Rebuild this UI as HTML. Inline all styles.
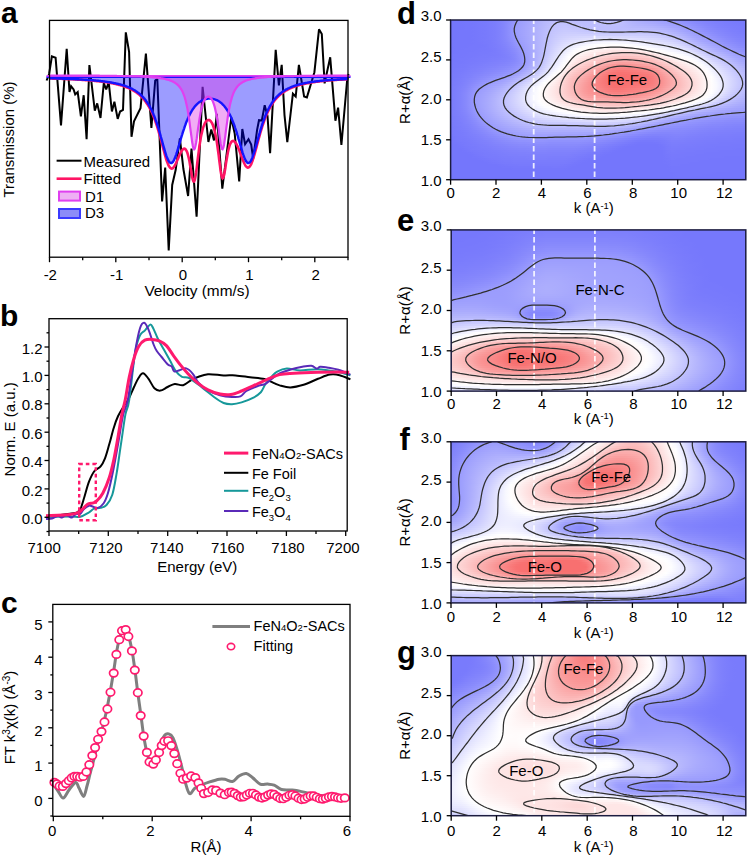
<!DOCTYPE html>
<html><head><meta charset="utf-8"><style>
html,body{margin:0;padding:0;background:#fff;width:750px;height:857px;overflow:hidden;position:relative}
svg{display:block;position:absolute;left:0;top:0}
.cf{position:absolute;overflow:hidden}
.cf i{display:block;height:2px}
</style></head><body>
<div class="cf" style="left:450.6px;top:20.0px;width:295.2px;height:159.7px"><i style="background:linear-gradient(90deg,#7476fc,#7476fc,#7476fc,#7577fc,#7577fc,#7678fc,#7779fc,#787afc,#7a7cfc,#7c7efc,#8082fc,#8587fc,#8c8efd,#9597fd,#9d9efd,#a2a3fd,#a7a8fd,#acadfd,#b2b3fd,#b7b8fd,#bbbcfe,#bebffe,#c0c1fe,#c0c1fe,#c0c1fe,#bebffe,#bdbefe,#bdbefe,#bdbefe,#bfc0fe,#c1c1fe,#c1c2fe,#c1c2fe,#c1c2fe,#c1c2fe,#bebffe,#b7b8fd,#b2b3fd,#aeaffd,#abacfd,#a8a9fd,#a5a6fd,#a2a3fd,#9e9ffd,#9b9dfd,#9899fd,#9496fd,#9092fd,#8d8efd,#898bfc,#8688fc,#8385fc,#8183fc,#7f81fc,#7d7ffc,#7c7dfc,#7a7cfc,#797bfc,#787afc,#787afc,#7779fc)"></i><i style="background:linear-gradient(90deg,#7476fc,#7476fc,#7476fc,#7577fc,#7577fc,#7678fc,#7779fc,#787afc,#7a7cfc,#7c7efc,#8082fc,#8687fc,#8d8ffd,#9798fd,#9d9ffd,#a2a4fd,#a8a9fd,#adaefd,#b2b3fd,#b8b9fd,#bcbdfe,#c0c1fe,#c1c2fe,#c2c3fe,#c1c2fe,#c0c0fe,#bebffe,#bdbefe,#bdbefe,#bebffe,#bfc0fe,#c0c1fe,#c0c1fe,#c0c1fe,#c0c1fe,#bdbdfe,#b7b8fd,#b3b4fd,#b0b1fd,#adaffd,#abacfd,#a9aafd,#a6a7fd,#a2a4fd,#9fa1fd,#9c9dfd,#989afd,#9496fd,#9092fd,#8c8dfd,#888afc,#8587fc,#8384fc,#8082fc,#7e80fc,#7d7ffc,#7b7dfc,#7a7cfc,#797bfc,#787afc,#787afc)"></i><i style="background:linear-gradient(90deg,#7476fc,#7476fc,#7476fc,#7577fc,#7577fc,#7678fc,#7779fc,#787afc,#7a7cfc,#7c7efc,#8082fc,#8688fc,#8e90fd,#999afd,#9ea0fd,#a3a4fd,#a8a9fd,#adaffd,#b3b4fd,#b8b9fd,#bdbefe,#c1c2fe,#c3c4fe,#c3c4fe,#c2c3fe,#c1c2fe,#c0c0fe,#bebffe,#bdbefe,#bdbefe,#bebffe,#bfbffe,#bfc0fe,#bebffe,#bebffe,#bbbcfe,#b8b9fd,#b5b6fd,#b2b3fd,#b1b2fd,#afb0fd,#adaefd,#aaabfd,#a7a8fd,#a4a5fd,#a0a2fd,#9d9efd,#989afd,#9496fd,#8f91fd,#8c8dfd,#888afc,#8586fc,#8284fc,#8082fc,#7e80fc,#7c7efc,#7b7dfc,#7a7cfc,#797bfc,#787afc)"></i><i style="background:linear-gradient(90deg,#7476fc,#7476fc,#7476fc,#7577fc,#7577fc,#7678fc,#7779fc,#787afc,#7a7cfc,#7c7efc,#8082fc,#8688fc,#8e90fd,#999bfd,#9fa0fd,#a4a5fd,#a9aafd,#aeaffd,#b4b5fd,#b9bafd,#bebffe,#c2c3fe,#c4c5fe,#c5c6fe,#c4c5fe,#c3c4fe,#c1c2fe,#c0c1fe,#bebffe,#bebefe,#bdbefe,#bdbefe,#bdbefe,#bdbefe,#bcbdfe,#bbbcfe,#b9bafd,#b7b8fd,#b6b7fd,#b5b6fd,#b3b5fd,#b2b3fd,#afb1fd,#acaefd,#a9aafd,#a5a6fd,#a1a2fd,#9c9efd,#989afd,#9395fd,#8f91fd,#8b8dfc,#8789fc,#8486fc,#8183fc,#7f81fc,#7e7ffc,#7c7efc,#7b7dfc,#7a7cfc,#797bfc)"></i><i style="background:linear-gradient(90deg,#7476fc,#7476fc,#7476fc,#7577fc,#7577fc,#7678fc,#7779fc,#787afc,#7a7cfc,#7c7efc,#8082fc,#8688fc,#8e90fd,#9a9bfd,#9fa1fd,#a4a5fd,#a9aafd,#aeaffd,#b4b5fd,#babbfe,#bfc0fe,#c3c4fe,#c6c7fe,#c7c8fe,#c7c7fe,#c5c6fe,#c4c5fe,#c2c3fe,#c0c1fe,#bfc0fe,#bebffe,#bdbefe,#bdbefe,#bdbefe,#bcbdfe,#bcbdfe,#bbbcfe,#babbfe,#babbfe,#b9bafd,#b8b9fd,#b7b8fd,#b5b6fd,#b2b3fd,#afb0fd,#aaacfd,#a6a7fd,#a1a2fd,#9c9efd,#9799fd,#9394fd,#8e90fd,#8a8bfc,#8688fc,#8385fc,#8183fc,#7f81fc,#7d7ffc,#7c7dfc,#7a7cfc,#7a7bfc)"></i><i style="background:linear-gradient(90deg,#7476fc,#7476fc,#7577fc,#7577fc,#7577fc,#7678fc,#7779fc,#787afc,#7a7cfc,#7c7efc,#8082fc,#8688fc,#8e90fd,#9a9bfd,#9fa1fd,#a4a5fd,#a9aafd,#afb0fd,#b4b6fd,#babbfe,#c0c1fe,#c4c5fe,#c7c8fe,#c9cafe,#c9cafe,#c8c9fe,#c7c8fe,#c6c7fe,#c4c5fe,#c2c3fe,#c1c2fe,#c0c1fe,#bfc0fe,#bfc0fe,#bfc0fe,#bfc0fe,#bfc0fe,#bfc0fe,#bfc0fe,#bfbffe,#bebffe,#bdbefe,#bbbcfe,#b8b9fd,#b5b6fd,#b0b1fd,#abacfd,#a5a7fd,#a0a1fd,#9b9dfd,#9798fd,#9293fd,#8d8ffd,#898bfc,#8688fc,#8385fc,#8182fc,#7e80fc,#7d7ffc,#7b7dfc,#7a7cfc)"></i><i style="background:linear-gradient(90deg,#7476fc,#7476fc,#7577fc,#7577fc,#7577fc,#7678fc,#7779fc,#787afc,#7a7cfc,#7c7efc,#8082fc,#8688fc,#8e90fd,#999bfd,#9fa1fd,#a4a5fd,#a9aafd,#afb0fd,#b5b6fd,#bbbcfe,#c1c2fe,#c6c6fe,#c9cafe,#cbccfe,#cccdfe,#cccdfe,#cbccfe,#cacbfe,#c9cafe,#c8c9fe,#c7c8fe,#c5c6fe,#c5c6fe,#c5c5fe,#c5c5fe,#c5c5fe,#c5c6fe,#c5c6fe,#c5c6fe,#c5c6fe,#c4c5fe,#c3c4fe,#c1c2fe,#bebffe,#bbbcfe,#b6b7fd,#b0b2fd,#aaacfd,#a4a6fd,#9fa1fd,#9b9cfd,#9697fd,#9092fd,#8c8efd,#888afc,#8587fc,#8284fc,#8082fc,#7e80fc,#7c7efc,#7b7dfc)"></i><i style="background:linear-gradient(90deg,#7476fc,#7476fc,#7577fc,#7577fc,#7577fc,#7678fc,#7779fc,#787afc,#7a7cfc,#7c7efc,#8082fc,#8688fc,#8e90fd,#999afd,#9fa0fd,#a4a5fd,#a9aafd,#afb0fd,#b5b6fd,#bbbcfe,#c2c2fe,#c7c8fe,#cbccfe,#cecefe,#cfd0fe,#d0d0fe,#d0d1fe,#d0d0fe,#d0d0fe,#cfd0fe,#cfcffe,#cecffe,#cecffe,#cdcefe,#cdcefe,#cdcefe,#cdcefe,#cdcefe,#cccdfe,#cccdfe,#cbccfe,#cacafe,#c8c9fe,#c5c6fe,#c1c2fe,#bcbdfe,#b7b8fd,#b0b1fd,#a9abfd,#a3a5fd,#9ea0fd,#9a9bfd,#9596fd,#9091fd,#8b8dfd,#8789fc,#8486fc,#8283fc,#7f81fc,#7e80fc,#7c7efc)"></i><i style="background:linear-gradient(90deg,#7476fc,#7476fc,#7577fc,#7577fc,#7577fc,#7678fc,#7779fc,#787afc,#7a7cfc,#7c7efc,#8082fc,#8687fc,#8d8ffd,#9799fd,#9ea0fd,#a3a4fd,#a8aafd,#aeb0fd,#b5b6fd,#bcbdfe,#c2c3fe,#c8c9fe,#cdcefe,#d0d1fe,#d3d3fe,#d4d5fe,#d5d6fe,#d6d7fe,#d7d7fe,#d8d8fe,#d8d9fe,#d8d9fe,#d9d9fe,#d8d9fe,#d8d8fe,#d7d8fe,#d6d7fe,#d6d6fe,#d4d5fe,#d3d4fe,#d2d3fe,#d0d1fe,#cecffe,#ccccfe,#c8c9fe,#c3c4fe,#bdbefe,#b6b7fd,#afb0fd,#a8aafd,#a2a4fd,#9e9ffd,#999afd,#9495fd,#8f90fd,#8a8cfc,#8788fc,#8485fc,#8183fc,#7f81fc,#7e80fc)"></i><i style="background:linear-gradient(90deg,#7476fc,#7476fc,#7577fc,#7577fc,#7577fc,#7678fc,#7779fc,#787afc,#7a7cfc,#7c7efc,#8082fc,#8587fc,#8c8efd,#9697fd,#9d9ffd,#a2a4fd,#a8a9fd,#aeaffd,#b5b6fd,#bcbdfe,#c3c4fe,#cacbfe,#cfd0fe,#d3d4fe,#d7d7fe,#d9d9fe,#dbdbfe,#ddddfe,#dfdffe,#e1e1fe,#e2e3fe,#e3e3fe,#e3e4fe,#e3e4fe,#e3e3fe,#e2e2fe,#e0e1fe,#dfdffe,#ddddfe,#dbdcfe,#d9dafe,#d7d8fe,#d5d6fe,#d2d3fe,#cfcffe,#cacbfe,#c4c5fe,#bdbefe,#b5b6fd,#aeaffd,#a7a8fd,#a2a3fd,#9d9efd,#9899fd,#9294fd,#8e8ffd,#898bfc,#8688fc,#8385fc,#8183fc,#7f81fc)"></i><i style="background:linear-gradient(90deg,#7476fc,#7577fc,#7577fc,#7577fc,#7577fc,#7678fc,#7779fc,#787afc,#797bfc,#7c7efc,#7f81fc,#8486fc,#8b8dfc,#9496fd,#9c9efd,#a2a3fd,#a7a9fd,#aeaffd,#b5b6fd,#bdbefe,#c4c5fe,#ccccfe,#d2d2fe,#d7d7fe,#dbdbfe,#dedffe,#e1e2fe,#e4e4fe,#e7e7fe,#eaeaff,#ececff,#edeeff,#eeeeff,#eeeeff,#ededff,#ececff,#eaeaff,#e8e8fe,#e5e6fe,#e3e3fe,#e1e1fe,#dedffe,#dcdcfe,#d9dafe,#d5d6fe,#d1d2fe,#cbccfe,#c4c5fe,#bcbdfe,#b4b5fd,#adaefd,#a6a7fd,#a1a2fd,#9c9dfd,#9697fd,#9193fd,#8c8efd,#898afc,#8587fc,#8384fc,#8183fc)"></i><i style="background:linear-gradient(90deg,#7476fc,#7577fc,#7577fc,#7577fc,#7577fc,#7678fc,#7778fc,#787afc,#797bfc,#7c7dfc,#7f81fc,#8385fc,#898bfc,#9294fd,#9b9cfd,#a1a2fd,#a7a8fd,#adaffd,#b5b6fd,#bdbefe,#c5c6fe,#cdcefe,#d4d5fe,#dadbfe,#dfe0fe,#e4e4fe,#e8e8fe,#ececff,#f0f0ff,#f3f3ff,#f6f6ff,#f8f8ff,#f8f9ff,#f8f9ff,#f8f8ff,#f6f6ff,#f4f4ff,#f1f1ff,#eeeeff,#ebebff,#e8e8fe,#e5e6fe,#e3e3fe,#e0e0fe,#dcddfe,#d8d9fe,#d2d3fe,#ccccfe,#c3c4fe,#bbbcfe,#b3b4fd,#abadfd,#a5a7fd,#a0a1fd,#9a9cfd,#9597fd,#9091fd,#8c8dfd,#888afc,#8587fc,#8385fc)"></i><i style="background:linear-gradient(90deg,#7476fc,#7577fc,#7577fc,#7577fc,#7677fc,#7678fc,#7678fc,#7779fc,#797bfc,#7b7dfc,#7e80fc,#8284fc,#888afc,#9092fd,#999bfd,#a0a1fd,#a6a7fd,#adaefd,#b5b6fd,#bebefe,#c7c7fe,#cfd0fe,#d7d7fe,#dedefe,#e4e4fe,#e9eaff,#efefff,#f4f4ff,#f9f9ff,#fcfcff,#ffffff,#fffefe,#fffefe,#fffdfd,#fffefe,#ffffff,#fefeff,#fbfbff,#f7f7ff,#f3f3ff,#f0f0ff,#ecedff,#e9eaff,#e6e7fe,#e3e4fe,#dfe0fe,#dadbfe,#d3d4fe,#cbccfe,#c2c3fe,#b9bafd,#b1b3fd,#abacfd,#a4a6fd,#9fa0fd,#999bfd,#9495fd,#8f91fd,#8b8dfc,#8789fc,#8587fc)"></i><i style="background:linear-gradient(90deg,#7476fc,#7577fc,#7577fc,#7577fc,#7678fc,#7678fc,#7678fc,#7779fc,#797bfc,#7b7dfc,#7e7ffc,#8183fc,#8788fc,#8e90fd,#9798fd,#9fa0fd,#a5a6fd,#acaefd,#b5b6fd,#bebffe,#c8c9fe,#d1d2fe,#dadafe,#e1e2fe,#e8e9ff,#eff0ff,#f6f6ff,#fcfcff,#fffefe,#fffcfc,#fffafa,#fff9f9,#fff8f8,#fff7f7,#fff7f7,#fff8f8,#fffafa,#fffbfb,#fffefe,#fdfdff,#f9f9ff,#f4f4ff,#f1f1ff,#edeeff,#eaeaff,#e6e7fe,#e1e2fe,#dbdcfe,#d4d4fe,#cacbfe,#c1c2fe,#b8b9fd,#b0b2fd,#aaabfd,#a4a5fd,#9e9ffd,#9899fd,#9394fd,#8e90fd,#8a8cfc,#8889fc)"></i><i style="background:linear-gradient(90deg,#7476fc,#7577fc,#7577fc,#7678fc,#7678fc,#7678fc,#7779fc,#7779fc,#797afc,#7a7cfc,#7d7ffc,#8082fc,#8587fc,#8c8dfd,#9596fd,#9e9ffd,#a4a6fd,#acadfd,#b5b6fd,#bfbffe,#c9cafe,#d3d4fe,#ddddfe,#e5e5fe,#edeeff,#f6f6ff,#fefeff,#fffcfc,#fff9f9,#fff6f6,#fef4f4,#fef2f2,#fef0f0,#feeeee,#feeeee,#feeeee,#fef0f0,#fef2f2,#fff5f5,#fff9f9,#fffdfd,#fefeff,#f9f9ff,#f5f5ff,#f1f1ff,#edeeff,#e9e9ff,#e3e4fe,#dcddfe,#d3d4fe,#c9cafe,#bfc0fe,#b7b8fd,#b0b1fd,#a9aafd,#a3a4fd,#9d9efd,#9799fd,#9294fd,#8e90fd,#8b8cfc)"></i><i style="background:linear-gradient(90deg,#7476fc,#7577fc,#7678fc,#7678fc,#7678fc,#7779fc,#7779fc,#787afc,#787afc,#7a7cfc,#7c7efc,#8081fc,#8486fc,#8a8cfc,#9394fd,#9c9efd,#a3a5fd,#acadfd,#b5b6fd,#bfc0fe,#cbcbfe,#d6d6fe,#e0e0fe,#e9e9ff,#f2f2ff,#fcfcff,#fffcfc,#fff8f8,#fef3f3,#fef0f0,#feeded,#feeaea,#fee7e7,#fee4e4,#fee3e3,#fee2e2,#fee3e3,#fee5e5,#fee9e9,#feeeee,#fef4f4,#fff9f9,#fffdfd,#fefeff,#f9f9ff,#f5f5ff,#f0f1ff,#ebebff,#e4e5fe,#dcdcfe,#d2d2fe,#c7c8fe,#bebffe,#b6b7fd,#afb0fd,#a8aafd,#a2a3fd,#9b9dfd,#9698fd,#9293fd,#8e8ffd)"></i><i style="background:linear-gradient(90deg,#7476fc,#7577fc,#7678fc,#7678fc,#7779fc,#7779fc,#787afc,#787afc,#797bfc,#7a7cfc,#7c7efc,#7f81fc,#8385fc,#898afc,#9193fd,#9b9dfd,#a3a4fd,#abacfd,#b5b6fd,#c0c1fe,#cccdfe,#d8d9fe,#e2e3fe,#ececff,#f7f7ff,#fffefe,#fff8f8,#fef2f2,#feeded,#fee9e9,#fee5e5,#fee1e1,#fddede,#fddada,#fdd8d8,#fdd7d7,#fdd6d6,#fdd8d8,#fddada,#fde0e0,#fee6e6,#feeeee,#fff5f5,#fffafa,#fffefe,#fdfdff,#f8f8ff,#f3f3ff,#ededff,#e4e5fe,#dadbfe,#d0d0fe,#c5c6fe,#bdbefe,#b6b7fd,#afb0fd,#a7a9fd,#a1a2fd,#9b9cfd,#9698fd,#9293fd)"></i><i style="background:linear-gradient(90deg,#7577fc,#7678fc,#7678fc,#7778fc,#7779fc,#7879fc,#787afc,#797bfc,#797bfc,#7a7cfc,#7c7dfc,#7e80fc,#8284fc,#8789fc,#9092fd,#9a9cfd,#a2a4fd,#abacfd,#b5b7fd,#c1c2fe,#cecffe,#dbdbfe,#e5e6fe,#f0f0ff,#fbfbff,#fffafa,#fef3f3,#feeded,#fee7e7,#fee2e2,#fddede,#fdd9d9,#fdd4d4,#fdd0d0,#fdcdcd,#fccbcb,#fccbcb,#fccccc,#fdcece,#fdd2d2,#fdd8d8,#fee0e0,#fee9e9,#fef2f2,#fff8f8,#fffcfc,#ffffff,#fbfbff,#f5f5ff,#ededff,#e3e3fe,#d8d9fe,#cdcefe,#c4c5fe,#bcbdfe,#b5b6fd,#adaefd,#a6a7fd,#9fa1fd,#9a9cfd,#9697fd)"></i><i style="background:linear-gradient(90deg,#7577fc,#7678fc,#7678fc,#7779fc,#7779fc,#787afc,#797bfc,#797bfc,#7a7cfc,#7b7dfc,#7c7efc,#7e80fc,#8183fc,#8789fc,#8f91fd,#999bfd,#a2a3fd,#abacfd,#b6b7fd,#c3c3fe,#d0d1fe,#dddefe,#e8e8ff,#f3f3ff,#ffffff,#fff7f7,#feeeee,#fee7e7,#fee1e1,#fddcdc,#fdd6d6,#fdd0d0,#fccbcb,#fcc7c7,#fcc3c3,#fcc1c1,#fcc1c1,#fcc2c2,#fcc4c4,#fcc7c7,#fdcccc,#fdd3d3,#fddddd,#fee6e6,#feefef,#fff6f6,#fffafa,#fffdfd,#fdfdff,#f5f5ff,#ebecff,#e0e1fe,#d5d6fe,#cbccfe,#c3c4fe,#bbbcfe,#b3b4fd,#abadfd,#a4a6fd,#9fa0fd,#9a9cfd)"></i><i style="background:linear-gradient(90deg,#7577fc,#7678fc,#7779fc,#7779fc,#787afc,#797bfc,#7a7bfc,#7a7cfc,#7b7dfc,#7c7efc,#7d7ffc,#7f81fc,#8183fc,#8688fc,#8e90fd,#999bfd,#a2a3fd,#acadfd,#b7b8fd,#c4c5fe,#d3d3fe,#e0e0fe,#ebebff,#f6f6ff,#fffdfd,#fef2f2,#fee9e9,#fee1e1,#fddbdb,#fdd4d4,#fdcece,#fcc7c7,#fcc1c1,#fcbdbd,#fcb9b9,#fcb8b8,#fcb8b8,#fcb8b8,#fcbbbb,#fcbebe,#fcc2c2,#fcc8c8,#fdd1d1,#fddbdb,#fee5e5,#feeeee,#fef4f4,#fff9f9,#fffdfd,#fdfdff,#f4f4ff,#e8e9ff,#ddddfe,#d2d3fe,#c9cafe,#c1c2fe,#b9bafd,#b1b2fd,#a9abfd,#a3a4fd,#9fa0fd)"></i><i style="background:linear-gradient(90deg,#7678fc,#7678fc,#7779fc,#787afc,#797afc,#797bfc,#7a7cfc,#7b7dfc,#7c7efc,#7e7ffc,#7f81fc,#8082fc,#8385fc,#8789fc,#8e90fd,#999bfd,#a3a4fd,#adaefd,#b9bafd,#c6c7fe,#d5d6fe,#e3e3fe,#eeeeff,#fafaff,#fffafa,#feeded,#fee3e3,#fddbdb,#fdd4d4,#fdcccc,#fcc5c5,#fcbebe,#fcb8b8,#fbb2b2,#fbaeae,#fbadad,#fbadad,#fbaeae,#fbb1b1,#fbb5b5,#fcb9b9,#fcbfbf,#fcc7c7,#fdd0d0,#fddbdb,#fee5e5,#feeded,#fef3f3,#fff8f8,#fffcfc,#fbfbff,#f0f0ff,#e4e4fe,#d9d9fe,#cfd0fe,#c7c8fe,#bfc0fe,#b7b8fd,#aeb0fd,#a7a9fd,#a2a4fd)"></i><i style="background:linear-gradient(90deg,#7678fc,#7779fc,#7779fc,#787afc,#797bfc,#7a7cfc,#7b7dfc,#7c7efc,#7e80fc,#7f81fc,#8182fc,#8284fc,#8587fc,#898bfc,#9091fd,#9a9bfd,#a4a5fd,#aeaffd,#babbfe,#c9cafe,#d8d9fe,#e6e6fe,#f1f1ff,#fdfdff,#fff6f6,#fee8e8,#fddddd,#fdd4d4,#fdcdcd,#fcc5c5,#fcbcbc,#fbb4b4,#fbadad,#fba6a6,#faa2a2,#faa0a0,#faa1a1,#fba3a3,#fba7a7,#fbabab,#fbb0b0,#fbb6b6,#fcbebe,#fcc7c7,#fdd1d1,#fddcdc,#fee5e5,#feeded,#fef3f3,#fff8f8,#fffdfd,#f7f8ff,#ebebff,#dfe0fe,#d5d6fe,#cdcdfe,#c4c5fe,#bcbdfe,#b3b4fd,#acadfd,#a6a7fd)"></i><i style="background:linear-gradient(90deg,#7678fc,#7779fc,#787afc,#797bfc,#7a7cfc,#7b7dfc,#7c7efc,#7e80fc,#7f81fc,#8182fc,#8384fc,#8486fc,#8789fc,#8c8dfd,#9294fd,#9b9dfd,#a6a7fd,#b1b2fd,#bdbefe,#cccdfe,#dbdcfe,#e9e9ff,#f4f4ff,#fffefe,#fef1f1,#fee1e1,#fdd6d6,#fdcece,#fcc5c5,#fcbdbd,#fbb4b4,#fbaaaa,#faa1a1,#fa9999,#fa9595,#fa9494,#fa9595,#fa9898,#fa9b9b,#faa0a0,#fba5a5,#fbacac,#fbb5b5,#fcbfbf,#fcc9c9,#fdd4d4,#fddede,#fee6e6,#feeded,#fef3f3,#fff9f9,#fefeff,#f1f2ff,#e5e5fe,#dbdbfe,#d2d2fe,#c9cafe,#c0c1fe,#b8b9fd,#b0b1fd,#aaabfd)"></i><i style="background:linear-gradient(90deg,#7779fc,#7779fc,#787afc,#797bfc,#7b7dfc,#7c7efc,#7e7ffc,#7f81fc,#8183fc,#8384fc,#8587fc,#8789fc,#8a8cfc,#8f90fd,#9597fd,#9ea0fd,#a9aafd,#b4b5fd,#c0c1fe,#cfd0fe,#dfdffe,#ececff,#f8f8ff,#fffbfb,#feebeb,#fddada,#fdd0d0,#fcc7c7,#fcbebe,#fbb5b5,#fbaaaa,#fa9f9f,#fa9595,#f98e8e,#f98a8a,#f98989,#f98a8a,#f98d8d,#fa9090,#fa9595,#fa9a9a,#faa2a2,#fbacac,#fbb7b7,#fcc1c1,#fdcccc,#fdd7d7,#fde0e0,#fee8e8,#feeeee,#fff5f5,#fffcfc,#f8f8ff,#ebebff,#e0e0fe,#d6d7fe,#cecefe,#c5c6fe,#bcbdfe,#b4b5fd,#adaefd)"></i><i style="background:linear-gradient(90deg,#7779fc,#787afc,#797bfc,#7a7cfc,#7c7efc,#7d7ffc,#7f81fc,#8183fc,#8385fc,#8587fc,#8789fc,#8a8cfc,#8d8ffd,#9293fd,#999afd,#a2a3fd,#acaefd,#b8b9fd,#c4c5fe,#d4d4fe,#e3e3fe,#f0f0ff,#fcfcff,#fff7f7,#fee4e4,#fdd3d3,#fcc9c9,#fcc0c0,#fbb7b7,#fbadad,#faa1a1,#fa9595,#f98b8b,#f98484,#f98080,#f98080,#f98181,#f98484,#f98787,#f98b8b,#fa9090,#fa9797,#faa2a2,#fbafaf,#fcbaba,#fcc5c5,#fdd0d0,#fddada,#fee3e3,#feeaea,#fef1f1,#fff9f9,#fdfdff,#f0f0ff,#e4e5fe,#dadbfe,#d2d2fe,#c9c9fe,#bfc0fe,#b7b8fd,#b0b1fd)"></i><i style="background:linear-gradient(90deg,#7779fc,#787afc,#797bfc,#7b7dfc,#7d7ffc,#7f80fc,#8182fc,#8385fc,#8587fc,#8889fc,#8a8cfc,#8d8ffd,#9193fd,#9697fd,#9d9efd,#a7a8fd,#b1b3fd,#bdbefe,#cacbfe,#d9d9fe,#e8e8fe,#f5f5ff,#fffefe,#fef1f1,#fddcdc,#fdcdcd,#fcc3c3,#fcbaba,#fbb0b0,#fba5a5,#fa9999,#f98d8d,#f98383,#f97c7c,#f87878,#f87878,#f87a7a,#f97c7c,#f97f7f,#f98282,#f98787,#f98e8e,#fa9999,#fba7a7,#fbb3b3,#fcbfbf,#fccaca,#fdd5d5,#fddede,#fee6e6,#feeded,#fff6f6,#fffefe,#f4f5ff,#e8e9ff,#dedffe,#d5d6fe,#cccdfe,#c3c4fe,#babbfe,#b3b4fd)"></i><i style="background:linear-gradient(90deg,#7779fc,#797afc,#7a7cfc,#7c7efc,#7e80fc,#8082fc,#8284fc,#8587fc,#8889fc,#8b8cfc,#8e8ffd,#9193fd,#9596fd,#9a9cfd,#a3a4fd,#adaefd,#b7b8fd,#c3c4fe,#d0d1fe,#dedffe,#ededff,#fbfbff,#fffafa,#feeaea,#fdd5d5,#fcc7c7,#fcbebe,#fbb5b5,#fbaaaa,#fa9e9e,#fa9292,#f98686,#f97c7c,#f87575,#f87373,#f87373,#f87575,#f87777,#f87979,#f97c7c,#f97f7f,#f98686,#fa9292,#faa0a0,#fbadad,#fcb9b9,#fcc4c4,#fdcfcf,#fdd9d9,#fee2e2,#feeaea,#fef3f3,#fffcfc,#f8f9ff,#ececff,#e2e2fe,#d8d9fe,#cfd0fe,#c6c7fe,#bdbefe,#b6b7fd)"></i><i style="background:linear-gradient(90deg,#787afc,#797bfc,#7b7dfc,#7d7ffc,#7f81fc,#8284fc,#8586fc,#8889fc,#8b8cfc,#8e90fd,#9193fd,#9597fd,#999bfd,#a0a1fd,#a9aafd,#b3b4fd,#bebffe,#cacafe,#d7d7fe,#e5e5fe,#f3f4ff,#fffefe,#fef5f5,#fee2e2,#fdcece,#fcc2c2,#fcb9b9,#fbb0b0,#fba4a4,#fa9898,#f98c8c,#f98080,#f87777,#f87171,#f87070,#f87070,#f87171,#f87373,#f87575,#f87777,#f97a7a,#f98181,#f98c8c,#fa9a9a,#fba8a8,#fbb4b4,#fcbfbf,#fccbcb,#fdd5d5,#fddede,#fee7e7,#fef0f0,#fffafa,#fcfcff,#eff0ff,#e5e5fe,#dbdbfe,#d1d2fe,#c8c9fe,#bfc0fe,#b8b9fd)"></i><i style="background:linear-gradient(90deg,#787afc,#797bfc,#7b7dfc,#7e80fc,#8082fc,#8485fc,#8789fc,#8b8cfc,#8e90fd,#9294fd,#9697fd,#9a9bfd,#9fa0fd,#a7a8fd,#b0b1fd,#babbfe,#c5c6fe,#d1d2fe,#dedefe,#ececff,#fafaff,#fffafa,#feeeee,#fddcdc,#fccaca,#fcbebe,#fbb6b6,#fbabab,#fa9f9f,#fa9393,#f98787,#f97c7c,#f87373,#f87070,#f87070,#f87070,#f87070,#f87171,#f87272,#f87474,#f87777,#f97e7e,#f98989,#fa9696,#fba4a4,#fbb0b0,#fcbbbb,#fcc7c7,#fdd2d2,#fddcdc,#fee5e5,#feeeee,#fff8f8,#ffffff,#f2f2ff,#e7e7fe,#dddefe,#d3d4fe,#cacbfe,#c1c2fe,#babbfe)"></i><i style="background:linear-gradient(90deg,#787afc,#7a7cfc,#7c7efc,#7f81fc,#8284fc,#8687fc,#8a8bfc,#8e8ffd,#9294fd,#9698fd,#9a9cfd,#9fa0fd,#a5a6fd,#adaffd,#b7b8fd,#c2c2fe,#cdcdfe,#d9d9fe,#e5e6fe,#f3f3ff,#fffefe,#fff6f6,#fee9e9,#fdd7d7,#fcc6c6,#fcbbbb,#fbb2b2,#fba7a7,#fa9b9b,#fa8f8f,#f98484,#f87a7a,#f87171,#f87070,#f87070,#f87070,#f87070,#f87070,#f87171,#f87373,#f87676,#f97c7c,#f98787,#fa9494,#faa1a1,#fbadad,#fcb8b8,#fcc4c4,#fdcfcf,#fdd9d9,#fee3e3,#feeded,#fff7f7,#fffefe,#f5f5ff,#e9eaff,#dfdffe,#d5d6fe,#ccccfe,#c3c4fe,#bbbcfe)"></i><i style="background:linear-gradient(90deg,#797bfc,#7a7cfc,#7d7ffc,#8082fc,#8486fc,#888afc,#8d8ffd,#9293fd,#9698fd,#9a9cfd,#9fa0fd,#a4a5fd,#abacfd,#b4b5fd,#bebffe,#c9c9fe,#d4d4fe,#e0e0fe,#ececff,#fafaff,#fffbfb,#fef1f1,#fee4e4,#fdd3d3,#fcc4c4,#fcb9b9,#fbafaf,#fba4a4,#fa9898,#f98d8d,#f98383,#f87979,#f87171,#f87070,#f87070,#f87070,#f87070,#f87171,#f87272,#f87373,#f87676,#f97c7c,#f98686,#fa9393,#faa0a0,#fbabab,#fbb6b6,#fcc2c2,#fdcdcd,#fdd8d8,#fee2e2,#feecec,#fff6f6,#fffefe,#f6f6ff,#ebebff,#e0e1fe,#d6d7fe,#cdcdfe,#c4c5fe,#bcbdfe)"></i><i style="background:linear-gradient(90deg,#797bfc,#7b7dfc,#7e7ffc,#8183fc,#8687fc,#8b8cfc,#9092fd,#9697fd,#9a9cfd,#9ea0fd,#a3a4fd,#a9aafd,#b1b2fd,#bbbbfe,#c5c5fe,#cfd0fe,#dadbfe,#e6e7fe,#f3f3ff,#ffffff,#fff7f7,#feeded,#fee0e0,#fdd1d1,#fcc3c3,#fcb8b8,#fbadad,#faa1a1,#fa9595,#f98c8c,#f98282,#f87979,#f87171,#f87070,#f87070,#f87070,#f87171,#f87272,#f87373,#f87575,#f87878,#f97d7d,#f98787,#fa9393,#faa0a0,#fbabab,#fbb5b5,#fcc1c1,#fdcccc,#fdd7d7,#fee1e1,#feecec,#fff6f6,#fffdfd,#f7f8ff,#ececff,#e1e1fe,#d6d7fe,#cdcefe,#c4c5fe,#bcbdfe)"></i><i style="background:linear-gradient(90deg,#797bfc,#7b7dfc,#7e80fc,#8284fc,#8889fc,#8e8ffd,#9495fd,#9a9bfd,#9e9ffd,#a2a3fd,#a7a8fd,#aeaffd,#b6b7fd,#c0c1fe,#cacbfe,#d5d5fe,#e0e1fe,#ececff,#f8f8ff,#fffcfc,#fef4f4,#feeaea,#fddede,#fdcfcf,#fcc2c2,#fbb7b7,#fbabab,#fa9f9f,#fa9494,#f98c8c,#f98383,#f97b7b,#f87373,#f87070,#f87070,#f87070,#f87373,#f87575,#f87676,#f87878,#f97b7b,#f98080,#f98989,#fa9595,#faa1a1,#fbacac,#fbb6b6,#fcc1c1,#fdcccc,#fdd7d7,#fee1e1,#feecec,#fff5f5,#fffdfd,#f8f8ff,#ecedff,#e1e1fe,#d6d7fe,#cdcdfe,#c4c5fe,#bcbdfe)"></i><i style="background:linear-gradient(90deg,#7a7cfc,#7c7efc,#7f81fc,#8385fc,#8a8bfc,#9192fd,#9799fd,#9d9efd,#a1a2fd,#a5a7fd,#abacfd,#b2b4fd,#bbbcfe,#c5c6fe,#cfd0fe,#dadafe,#e5e5fe,#f1f1ff,#fdfdff,#fffafa,#fef1f1,#fee7e7,#fddcdc,#fdcfcf,#fcc1c1,#fbb6b6,#fbaaaa,#fa9e9e,#fa9393,#f98c8c,#f98585,#f97d7d,#f87676,#f87171,#f87070,#f87373,#f87676,#f87878,#f97a7a,#f97c7c,#f97f7f,#f98484,#f98c8c,#fa9898,#fba4a4,#fbafaf,#fcb8b8,#fcc2c2,#fdcdcd,#fdd8d8,#fee2e2,#feecec,#fff6f6,#fffdfd,#f8f8ff,#ececff,#e0e1fe,#d5d6fe,#ccccfe,#c3c4fe,#bcbdfe)"></i><i style="background:linear-gradient(90deg,#7a7cfc,#7c7efc,#8082fc,#8586fc,#8b8dfd,#9495fd,#9a9cfd,#9fa0fd,#a3a5fd,#a8aafd,#afb0fd,#b7b8fd,#bfc0fe,#c9cafe,#d3d4fe,#dddefe,#e9e9ff,#f4f4ff,#ffffff,#fff8f8,#feefef,#fee6e6,#fddbdb,#fdcece,#fcc2c2,#fbb6b6,#fbaaaa,#fa9d9d,#fa9494,#f98e8e,#f98888,#f98181,#f87a7a,#f87676,#f87575,#f87777,#f87a7a,#f97d7d,#f97f7f,#f98282,#f98585,#f98a8a,#fa9191,#fa9d9d,#fba9a9,#fbb3b3,#fcbbbb,#fcc5c5,#fdcfcf,#fddada,#fee3e3,#feeded,#fff6f6,#fffdfd,#f7f7ff,#ebebff,#dfdffe,#d4d4fe,#cacbfe,#c1c2fe,#bbbbfe)"></i><i style="background:linear-gradient(90deg,#7a7cfc,#7d7efc,#8082fc,#8687fc,#8d8ffd,#9698fd,#9d9efd,#a1a2fd,#a6a7fd,#abadfd,#b2b3fd,#babbfe,#c3c4fe,#cdcdfe,#d6d7fe,#e0e1fe,#ebecff,#f7f7ff,#fffefe,#fff7f7,#feeeee,#fee5e5,#fddbdb,#fdcfcf,#fcc3c3,#fbb7b7,#fbaaaa,#fa9d9d,#fa9494,#fa9090,#f98c8c,#f98686,#f97f7f,#f97b7b,#f97a7a,#f97c7c,#f97f7f,#f98282,#f98585,#f98888,#f98b8b,#fa9090,#fa9898,#faa3a3,#fbaeae,#fbb7b7,#fcc0c0,#fcc9c9,#fdd3d3,#fddcdc,#fee6e6,#feefef,#fff7f7,#fffefe,#f5f5ff,#e8e8ff,#dcddfe,#d1d2fe,#c8c9fe,#c0c0fe,#b9bafd)"></i><i style="background:linear-gradient(90deg,#7a7cfc,#7d7ffc,#8183fc,#8788fc,#8f90fd,#989afd,#9e9ffd,#a3a4fd,#a8a9fd,#aeaffd,#b5b6fd,#bdbefe,#c6c7fe,#cfd0fe,#d9d9fe,#e2e3fe,#ededff,#f9f9ff,#fffdfd,#fff6f6,#feeeee,#fee5e5,#fddbdb,#fdcfcf,#fcc4c4,#fcb9b9,#fbacac,#fa9f9f,#fa9696,#fa9393,#fa9090,#f98c8c,#f98686,#f98282,#f98181,#f98383,#f98686,#f98989,#f98b8b,#f98f8f,#fa9292,#fa9898,#faa0a0,#fbaaaa,#fbb4b4,#fcbdbd,#fcc5c5,#fdcece,#fdd7d7,#fde0e0,#fee9e9,#fef1f1,#fff9f9,#fefeff,#f2f2ff,#e5e5fe,#d9d9fe,#cecffe,#c5c6fe,#bdbefe,#b7b8fd)"></i><i style="background:linear-gradient(90deg,#7a7cfc,#7d7ffc,#8183fc,#8789fc,#8f91fd,#9a9bfd,#9fa1fd,#a4a5fd,#a9abfd,#b0b1fd,#b7b8fd,#bfc0fe,#c8c9fe,#d1d2fe,#dadbfe,#e4e4fe,#eeefff,#f9f9ff,#fffdfd,#fff6f6,#feeeee,#fee6e6,#fddcdc,#fdd1d1,#fcc6c6,#fcbcbc,#fbafaf,#faa2a2,#fa9a9a,#fa9797,#fa9696,#fa9393,#f98e8e,#f98b8b,#f98a8a,#f98b8b,#f98d8d,#fa9090,#fa9292,#fa9696,#fa9a9a,#faa0a0,#fba9a9,#fbb3b3,#fcbbbb,#fcc3c3,#fccbcb,#fdd4d4,#fddcdc,#fee5e5,#feeded,#fef4f4,#fffcfc,#fafaff,#ededff,#e0e1fe,#d4d5fe,#cacbfe,#c1c2fe,#babbfe,#b4b5fd)"></i><i style="background:linear-gradient(90deg,#7a7cfc,#7d7ffc,#8183fc,#8789fc,#9091fd,#9b9cfd,#a0a1fd,#a5a6fd,#abacfd,#b1b2fd,#b9bafd,#c1c2fe,#c9cafe,#d2d3fe,#dbdcfe,#e5e5fe,#efefff,#f9f9ff,#fffdfd,#fff6f6,#feefef,#fee8e8,#fddede,#fdd3d3,#fccaca,#fcc1c1,#fbb4b4,#fba7a7,#fa9f9f,#fa9d9d,#fa9d9d,#fa9b9b,#fa9898,#fa9595,#fa9494,#fa9494,#fa9696,#fa9898,#fa9a9a,#fa9e9e,#fba3a3,#fbaaaa,#fbb2b2,#fcbbbb,#fcc3c3,#fccaca,#fdd3d3,#fddbdb,#fee2e2,#feeaea,#fef2f2,#fff8f8,#fffefe,#f5f5ff,#e7e8fe,#dbdbfe,#cfd0fe,#c6c6fe,#bebffe,#b7b8fd,#b2b3fd)"></i><i style="background:linear-gradient(90deg,#7a7cfc,#7d7ffc,#8183fc,#8789fc,#9091fd,#9b9cfd,#a0a2fd,#a6a7fd,#acadfd,#b2b4fd,#babbfe,#c2c3fe,#cacbfe,#d3d3fe,#dcdcfe,#e5e5fe,#efefff,#f9f9ff,#fffdfd,#fff8f8,#fef1f1,#feeaea,#fee1e1,#fdd7d7,#fdcece,#fcc6c6,#fcbbbb,#fbafaf,#fba7a7,#fba5a5,#fba6a6,#fba5a5,#faa3a3,#faa1a1,#fa9f9f,#fa9f9f,#faa0a0,#faa1a1,#fba4a4,#fba8a8,#fbaeae,#fbb5b5,#fcbcbc,#fcc4c4,#fccbcb,#fdd3d3,#fddbdb,#fee2e2,#feeaea,#fef1f1,#fff7f7,#fffdfd,#f9faff,#ededff,#e0e0fe,#d4d4fe,#c9cafe,#c1c2fe,#babbfe,#b4b5fd,#afb0fd)"></i><i style="background:linear-gradient(90deg,#7a7cfc,#7d7ffc,#8183fc,#8789fc,#9091fd,#9b9cfd,#a1a2fd,#a6a7fd,#acadfd,#b3b4fd,#bbbcfe,#c3c3fe,#cbcbfe,#d3d3fe,#dbdcfe,#e4e5fe,#eeeeff,#f7f7ff,#ffffff,#fff9f9,#fef4f4,#feeded,#fee5e5,#fddcdc,#fdd5d5,#fdcece,#fcc5c5,#fcbaba,#fbb2b2,#fbb0b0,#fbb0b0,#fbb0b0,#fbafaf,#fbadad,#fbacac,#fbabab,#fbacac,#fbadad,#fbb0b0,#fbb4b4,#fcbaba,#fcc0c0,#fcc7c7,#fdcece,#fdd5d5,#fddcdc,#fee4e4,#feebeb,#fef2f2,#fff8f8,#fffdfd,#fafbff,#f0f0ff,#e4e4fe,#d7d8fe,#cccdfe,#c3c4fe,#bbbcfe,#b5b6fd,#b0b1fd,#acadfd)"></i><i style="background:linear-gradient(90deg,#7a7cfc,#7d7ffc,#8183fc,#8789fc,#9091fd,#9b9cfd,#a1a2fd,#a6a8fd,#acaefd,#b3b4fd,#bbbcfe,#c3c3fe,#cacbfe,#d2d3fe,#dadbfe,#e3e3fe,#ececff,#f5f5ff,#fdfdff,#fffcfc,#fff7f7,#fef1f1,#feebeb,#fee3e3,#fddcdc,#fdd7d7,#fdd0d0,#fcc8c8,#fcc1c1,#fcbdbd,#fcbcbc,#fcbbbb,#fcbaba,#fcb9b9,#fcb9b9,#fcb8b8,#fcb9b9,#fcbbbb,#fcbebe,#fcc2c2,#fcc8c8,#fdcdcd,#fdd3d3,#fdd9d9,#fde0e0,#fee6e6,#feeded,#fef4f4,#fffafa,#fffefe,#f8f8ff,#eeefff,#e4e4fe,#d8d9fe,#cdcefe,#c4c4fe,#bcbdfe,#b6b7fd,#b0b2fd,#acadfd,#a9aafd)"></i><i style="background:linear-gradient(90deg,#7a7cfc,#7d7ffc,#8183fc,#8789fc,#9091fd,#9a9cfd,#a0a2fd,#a6a7fd,#acadfd,#b3b4fd,#babbfe,#c2c3fe,#c9cafe,#d1d1fe,#d9d9fe,#e1e1fe,#e9eaff,#f2f2ff,#fafaff,#fffefe,#fffafa,#fff6f6,#fef0f0,#feeaea,#fee4e4,#fddfdf,#fddbdb,#fdd7d7,#fdd0d0,#fccccc,#fcc9c9,#fcc7c7,#fcc5c5,#fcc5c5,#fcc5c5,#fcc5c5,#fcc7c7,#fccaca,#fdcece,#fdd1d1,#fdd6d6,#fddbdb,#fde0e0,#fee5e5,#feebeb,#fef1f1,#fff7f7,#fffcfc,#fcfcff,#f3f3ff,#e9eaff,#e0e0fe,#d5d6fe,#cbccfe,#c2c3fe,#bbbcfe,#b5b6fd,#b0b1fd,#acadfd,#a8a9fd,#a5a7fd)"></i><i style="background:linear-gradient(90deg,#7a7cfc,#7d7ffc,#8183fc,#8788fc,#8f91fd,#999bfd,#a0a1fd,#a5a7fd,#acadfd,#b2b3fd,#b9bafd,#c1c1fe,#c8c8fe,#cfd0fe,#d6d7fe,#dedffe,#e6e7fe,#eeeeff,#f5f5ff,#fcfcff,#fffefe,#fffafa,#fff6f6,#fef1f1,#feecec,#fee8e8,#fee4e4,#fee1e1,#fddddd,#fdd9d9,#fdd6d6,#fdd3d3,#fdd1d1,#fdd1d1,#fdd2d2,#fdd3d3,#fdd6d6,#fdd9d9,#fddddd,#fde0e0,#fee4e4,#fee8e8,#feecec,#fef1f1,#fff6f6,#fffbfb,#ffffff,#f6f6ff,#ecedff,#e2e3fe,#d9d9fe,#cfd0fe,#c6c7fe,#bfc0fe,#b9bafd,#b3b4fd,#afb0fd,#abacfd,#a7a8fd,#a4a6fd,#a2a3fd)"></i><i style="background:linear-gradient(90deg,#7a7cfc,#7d7ffc,#8182fc,#8688fc,#8e90fd,#989afd,#9fa0fd,#a5a6fd,#abacfd,#b1b2fd,#b8b9fd,#bfc0fe,#c6c6fe,#cdcdfe,#d4d4fe,#dbdcfe,#e3e3fe,#eaeaff,#f0f1ff,#f7f7ff,#fcfcff,#fffefe,#fffbfb,#fff8f8,#fef3f3,#fef0f0,#feeded,#feeaea,#fee7e7,#fee4e4,#fee1e1,#fddfdf,#fddede,#fddede,#fddfdf,#fee1e1,#fee4e4,#fee7e7,#feeaea,#feeded,#fef1f1,#fef4f4,#fff7f7,#fffbfb,#ffffff,#f8f8ff,#efefff,#e5e5fe,#dbdbfe,#d0d1fe,#c7c8fe,#bfc0fe,#b9bafd,#b4b5fd,#b0b1fd,#acadfd,#a8a9fd,#a5a6fd,#a3a4fd,#a1a2fd,#9fa0fd)"></i><i style="background:linear-gradient(90deg,#7a7cfc,#7c7efc,#8082fc,#8587fc,#8d8efd,#9698fd,#9e9ffd,#a4a5fd,#a9abfd,#b0b1fd,#b6b7fd,#bdbefe,#c3c4fe,#cacbfe,#d1d1fe,#d8d8fe,#dedffe,#e5e5fe,#ebebff,#f0f1ff,#f5f5ff,#fafaff,#fefeff,#fffdfd,#fffafa,#fff7f7,#fef4f4,#fef2f2,#fef0f0,#feeeee,#feecec,#feebeb,#feeaea,#feebeb,#feecec,#feefef,#fef1f1,#fef3f3,#fff6f6,#fff8f8,#fffbfb,#fffdfd,#fefeff,#f7f7ff,#f0f0ff,#e7e7fe,#ddddfe,#d2d3fe,#c8c9fe,#bfc0fe,#b8b9fd,#b3b4fd,#afb0fd,#abacfd,#a8a9fd,#a5a6fd,#a2a4fd,#a0a1fd,#9ea0fd,#9d9efd,#9c9dfd)"></i><i style="background:linear-gradient(90deg,#7a7cfc,#7c7efc,#8081fc,#8486fc,#8b8dfd,#9496fd,#9d9efd,#a2a4fd,#a8a9fd,#aeaffd,#b4b5fd,#babbfe,#c0c1fe,#c7c7fe,#cdcefe,#d4d4fe,#dadafe,#e0e0fe,#e5e6fe,#eaeaff,#eeeeff,#f2f2ff,#f6f6ff,#fafaff,#fefeff,#fffefe,#fffbfb,#fffafa,#fff8f8,#fff7f7,#fff6f6,#fff6f6,#fff6f6,#fff6f6,#fff8f8,#fff9f9,#fffbfb,#fffdfd,#fffefe,#fdfdff,#f9f9ff,#f4f4ff,#eeeeff,#e7e7fe,#dedffe,#d5d5fe,#cacbfe,#c1c1fe,#b9bafd,#b2b3fd,#adaefd,#a9aafd,#a6a7fd,#a3a5fd,#a1a2fd,#9ea0fd,#9d9efd,#9b9cfd,#9a9bfd,#999bfd,#9899fd)"></i><i style="background:linear-gradient(90deg,#7a7bfc,#7c7efc,#7f81fc,#8385fc,#8a8bfc,#9294fd,#9b9dfd,#a1a2fd,#a6a7fd,#acadfd,#b2b3fd,#b8b9fd,#bdbefe,#c3c4fe,#c9cafe,#cfd0fe,#d5d6fe,#dadbfe,#dfe0fe,#e3e4fe,#e7e7fe,#eaeaff,#ededff,#f1f1ff,#f4f4ff,#f8f8ff,#fbfbff,#fefeff,#ffffff,#fffefe,#fffefe,#fffefe,#fffefe,#ffffff,#fefeff,#fcfcff,#f9f9ff,#f6f7ff,#f3f3ff,#efefff,#ebebff,#e5e6fe,#dedffe,#d6d6fe,#cccdfe,#c3c3fe,#babbfe,#b3b4fd,#adaefd,#a8a9fd,#a4a6fd,#a1a3fd,#9fa0fd,#9d9efd,#9b9cfd,#999afd,#9899fd,#9697fd,#9597fd,#9596fd,#9394fd)"></i><i style="background:linear-gradient(90deg,#797bfc,#7b7dfc,#7e80fc,#8284fc,#888afc,#9092fd,#999afd,#9fa0fd,#a4a6fd,#aaabfd,#afb0fd,#b5b6fd,#babbfe,#bfc0fe,#c5c6fe,#cbcbfe,#d0d1fe,#d5d5fe,#d9dafe,#ddddfe,#e0e0fe,#e2e3fe,#e5e5fe,#e7e8fe,#eaeaff,#ededff,#efefff,#f1f2ff,#f3f3ff,#f4f4ff,#f4f5ff,#f4f4ff,#f4f4ff,#f2f3ff,#f1f1ff,#efefff,#ededff,#e9e9ff,#e6e6fe,#e1e2fe,#dcddfe,#d5d6fe,#cdcefe,#c4c5fe,#bcbdfe,#b4b5fd,#aeaffd,#a8a9fd,#a4a5fd,#a0a2fd,#9e9ffd,#9b9cfd,#999afd,#9799fd,#9597fd,#9496fd,#9394fd,#9193fd,#9092fd,#9092fd,#8e90fd)"></i><i style="background:linear-gradient(90deg,#797bfc,#7b7dfc,#7e7ffc,#8183fc,#8789fc,#8e8ffd,#9698fd,#9d9ffd,#a2a4fd,#a7a9fd,#acaefd,#b2b3fd,#b7b8fd,#bcbdfe,#c1c2fe,#c6c7fe,#cbcbfe,#cfd0fe,#d3d3fe,#d6d6fe,#d8d9fe,#dadbfe,#dcddfe,#dedefe,#e0e0fe,#e2e2fe,#e3e4fe,#e5e6fe,#e7e7fe,#e7e8fe,#e8e8fe,#e8e8fe,#e7e7fe,#e6e6fe,#e4e5fe,#e2e3fe,#e0e1fe,#ddddfe,#d9d9fe,#d4d4fe,#cdcefe,#c6c6fe,#bebffe,#b7b8fd,#b0b1fd,#a9abfd,#a4a6fd,#a0a2fd,#9d9ffd,#9a9cfd,#9899fd,#9697fd,#9496fd,#9294fd,#9192fd,#9092fd,#8e90fd,#8d8ffd,#8c8efd,#8c8efd,#8b8cfc)"></i><i style="background:linear-gradient(90deg,#797bfc,#7a7cfc,#7d7ffc,#8182fc,#8587fc,#8b8dfd,#9495fd,#9b9cfd,#a0a1fd,#a5a6fd,#aaabfd,#aeb0fd,#b3b4fd,#b8b9fd,#bcbdfe,#c1c2fe,#c5c6fe,#c9cafe,#cccdfe,#cfcffe,#d1d1fe,#d2d3fe,#d3d4fe,#d5d5fe,#d6d6fe,#d7d8fe,#d8d9fe,#dadafe,#dbdbfe,#dcdcfe,#dcddfe,#dcddfe,#dcdcfe,#dbdbfe,#d9dafe,#d7d8fe,#d4d5fe,#d0d1fe,#cbccfe,#c6c6fe,#bfc0fe,#b8b9fd,#b2b3fd,#abacfd,#a6a7fd,#a1a2fd,#9d9ffd,#9a9cfd,#9899fd,#9597fd,#9395fd,#9193fd,#9091fd,#8e90fd,#8d8efd,#8c8efd,#8b8cfc,#8a8bfc,#898bfc,#898bfc,#8889fc)"></i><i style="background:linear-gradient(90deg,#787afc,#7a7cfc,#7c7efc,#8082fc,#8486fc,#898bfc,#9192fd,#989afd,#9e9ffd,#a2a4fd,#a7a8fd,#abacfd,#afb1fd,#b4b5fd,#b8b9fd,#bcbdfe,#c0c1fe,#c3c4fe,#c6c6fe,#c8c9fe,#c9cafe,#cacbfe,#cbcbfe,#cbccfe,#cccdfe,#cdcefe,#cecffe,#cfd0fe,#d0d1fe,#d1d1fe,#d1d2fe,#d1d2fe,#d1d2fe,#d0d0fe,#cecffe,#ccccfe,#c8c9fe,#c3c4fe,#bfc0fe,#b9bafd,#b3b4fd,#adaefd,#a7a8fd,#a2a3fd,#9e9ffd,#9a9cfd,#9799fd,#9597fd,#9394fd,#9193fd,#8f91fd,#8d8ffd,#8c8efd,#8a8cfc,#898bfc,#898afc,#8789fc,#8789fc,#8688fc,#8688fc,#8587fc)"></i><i style="background:linear-gradient(90deg,#787afc,#7a7cfc,#7c7efc,#7f81fc,#8284fc,#8889fc,#8e8ffd,#9596fd,#9b9cfd,#9fa1fd,#a4a5fd,#a8a9fd,#acadfd,#b0b1fd,#b3b4fd,#b7b8fd,#babbfe,#bdbefe,#bfc0fe,#c1c2fe,#c1c2fe,#c2c3fe,#c2c3fe,#c2c3fe,#c2c3fe,#c4c5fe,#c4c5fe,#c5c6fe,#c6c7fe,#c7c7fe,#c7c8fe,#c7c8fe,#c6c7fe,#c5c6fe,#c3c4fe,#c0c1fe,#bcbdfe,#b8b9fd,#b3b4fd,#adaffd,#a8a9fd,#a3a4fd,#9e9ffd,#9a9bfd,#9798fd,#9496fd,#9294fd,#9192fd,#8f90fd,#8d8ffd,#8c8dfd,#8a8cfc,#898afc,#8789fc,#8688fc,#8688fc,#8586fc,#8486fc,#8385fc,#8385fc,#8384fc)"></i><i style="background:linear-gradient(90deg,#787afc,#797bfc,#7b7dfc,#7e80fc,#8183fc,#8687fc,#8b8dfc,#9192fd,#9899fd,#9d9efd,#a1a2fd,#a4a6fd,#a8a9fd,#abadfd,#afb0fd,#b2b3fd,#b5b6fd,#b7b8fd,#b9bafd,#babbfe,#bbbbfe,#bbbcfe,#bbbcfe,#babbfe,#babbfe,#bbbcfe,#bcbdfe,#bcbdfe,#bdbefe,#bdbefe,#bdbefe,#bdbefe,#bcbdfe,#bbbcfe,#b8b9fd,#b5b6fd,#b1b2fd,#adaefd,#a8a9fd,#a3a4fd,#9ea0fd,#9a9bfd,#9698fd,#9395fd,#9193fd,#8f91fd,#8e90fd,#8d8efd,#8b8dfc,#8a8cfc,#888afc,#8789fc,#8687fc,#8586fc,#8486fc,#8385fc,#8284fc,#8284fc,#8183fc,#8183fc,#8182fc)"></i><i style="background:linear-gradient(90deg,#787afc,#797bfc,#7b7dfc,#7d7ffc,#8082fc,#8486fc,#898afc,#8e8ffd,#9495fd,#999bfd,#9e9ffd,#a1a2fd,#a4a6fd,#a7a9fd,#aaabfd,#adaefd,#afb0fd,#b1b2fd,#b2b4fd,#b3b4fd,#b4b5fd,#b4b5fd,#b3b4fd,#b3b4fd,#b3b4fd,#b3b4fd,#b4b5fd,#b4b5fd,#b4b5fd,#b5b6fd,#b4b6fd,#b4b5fd,#b3b4fd,#b1b2fd,#aeaffd,#abacfd,#a7a8fd,#a2a4fd,#9e9ffd,#9a9bfd,#9697fd,#9394fd,#9091fd,#8e8ffd,#8c8efd,#8b8dfd,#8a8cfc,#898bfc,#888afc,#8789fc,#8687fc,#8486fc,#8385fc,#8284fc,#8283fc,#8183fc,#8082fc,#8082fc,#7f81fc,#7f81fc,#7f81fc)"></i><i style="background:linear-gradient(90deg,#7779fc,#787afc,#7a7cfc,#7c7efc,#7f81fc,#8284fc,#8688fc,#8b8cfc,#9092fd,#9597fd,#9a9cfd,#9e9ffd,#a1a2fd,#a3a5fd,#a6a7fd,#a8a9fd,#aaabfd,#abadfd,#acaefd,#adaefd,#adaefd,#adaefd,#acaefd,#acadfd,#acadfd,#acadfd,#acadfd,#acaefd,#acaefd,#acaefd,#acadfd,#abacfd,#a9aafd,#a7a8fd,#a4a5fd,#a0a2fd,#9c9efd,#999afd,#9597fd,#9293fd,#8e90fd,#8c8efd,#8a8cfc,#898afc,#888afc,#8889fc,#8789fc,#8688fc,#8587fc,#8486fc,#8385fc,#8284fc,#8183fc,#8082fc,#8082fc,#7f81fc,#7f80fc,#7e80fc,#7e80fc,#7e80fc,#7d7ffc)"></i><i style="background:linear-gradient(90deg,#7779fc,#787afc,#797bfc,#7b7dfc,#7e80fc,#8183fc,#8486fc,#888afc,#8d8efd,#9193fd,#9698fd,#9a9bfd,#9d9efd,#9fa1fd,#a2a3fd,#a3a5fd,#a5a6fd,#a6a7fd,#a7a8fd,#a7a8fd,#a7a8fd,#a6a8fd,#a6a7fd,#a6a7fd,#a5a7fd,#a5a7fd,#a5a7fd,#a5a7fd,#a5a6fd,#a5a6fd,#a4a5fd,#a2a4fd,#a0a1fd,#9e9ffd,#9b9cfd,#9799fd,#9496fd,#9192fd,#8d8ffd,#8b8cfc,#888afc,#8688fc,#8587fc,#8486fc,#8486fc,#8586fc,#8587fc,#8486fc,#8385fc,#8284fc,#8183fc,#8082fc,#7f81fc,#7f80fc,#7e80fc,#7e7ffc,#7d7ffc,#7d7ffc,#7c7efc,#7c7efc,#7c7efc)"></i><i style="background:linear-gradient(90deg,#7678fc,#787afc,#797bfc,#7b7dfc,#7d7ffc,#7f81fc,#8284fc,#8687fc,#8a8bfc,#8e8ffd,#9294fd,#9697fd,#999afd,#9b9dfd,#9d9ffd,#9fa0fd,#a0a1fd,#a1a2fd,#a1a2fd,#a1a2fd,#a1a2fd,#a0a2fd,#a0a1fd,#a0a1fd,#a0a1fd,#a0a1fd,#9fa1fd,#9fa0fd,#9ea0fd,#9e9ffd,#9c9dfd,#9a9cfd,#989afd,#9697fd,#9394fd,#9091fd,#8d8efd,#8a8bfc,#8789fc,#8486fc,#8384fc,#8183fc,#8183fc,#8183fc,#8183fc,#8284fc,#8384fc,#8284fc,#8183fc,#8082fc,#7f81fc,#7e80fc,#7e80fc,#7d7ffc,#7d7ffc,#7c7efc,#7c7efc,#7c7dfc,#7b7dfc,#7b7dfc,#7b7dfc)"></i><i style="background:linear-gradient(90deg,#7577fc,#7779fc,#797afc,#7a7cfc,#7c7efc,#7e80fc,#8182fc,#8485fc,#8789fc,#8a8cfc,#8e90fd,#9193fd,#9596fd,#9799fd,#999afd,#9a9cfd,#9b9cfd,#9c9dfd,#9c9dfd,#9c9dfd,#9b9cfd,#9b9cfd,#9a9cfd,#9a9cfd,#9a9cfd,#9a9cfd,#9a9bfd,#999bfd,#9899fd,#9799fd,#9697fd,#9495fd,#9193fd,#8f90fd,#8c8efd,#898bfc,#8688fc,#8485fc,#8183fc,#7f81fc,#7e80fc,#7d7ffc,#7d7ffc,#7e80fc,#7f81fc,#8082fc,#8183fc,#8082fc,#7f81fc,#7e80fc,#7e7ffc,#7d7ffc,#7c7efc,#7c7efc,#7b7dfc,#7b7dfc,#7b7dfc,#7b7cfc,#7a7cfc,#7a7cfc,#7a7cfc)"></i><i style="background:linear-gradient(90deg,#7577fc,#7779fc,#787afc,#797bfc,#7b7dfc,#7d7ffc,#7f81fc,#8284fc,#8486fc,#8889fc,#8b8cfc,#8d8ffd,#9092fd,#9394fd,#9596fd,#9597fd,#9698fd,#9799fd,#9799fd,#9798fd,#9597fd,#9597fd,#9597fd,#9597fd,#9597fd,#9597fd,#9596fd,#9496fd,#9394fd,#9293fd,#9091fd,#8e8ffd,#8b8dfd,#898bfc,#8688fc,#8385fc,#8183fc,#7e80fc,#7c7efc,#7b7dfc,#7a7cfc,#7a7cfc,#7a7cfc,#7b7dfc,#7d7ffc,#7f81fc,#7f81fc,#7e80fc,#7d7ffc,#7d7ffc,#7c7efc,#7c7efc,#7b7dfc,#7b7dfc,#7a7cfc,#7a7cfc,#7a7cfc,#7a7cfc,#797bfc,#797bfc,#797bfc)"></i><i style="background:linear-gradient(90deg,#7476fc,#7678fc,#787afc,#797bfc,#7a7cfc,#7c7efc,#7e80fc,#8082fc,#8284fc,#8587fc,#8889fc,#8a8cfc,#8c8efd,#8e90fd,#9092fd,#9092fd,#9293fd,#9394fd,#9394fd,#9294fd,#9092fd,#9092fd,#9092fd,#9092fd,#9092fd,#9092fd,#9092fd,#8f91fd,#8e90fd,#8c8efd,#8b8cfc,#898afc,#8688fc,#8486fc,#8183fc,#7f81fc,#7c7efc,#7a7cfc,#787afc,#7779fc,#7779fc,#7779fc,#787afc,#797bfc,#7b7dfc,#7e7ffc,#7d7ffc,#7d7ffc,#7c7efc,#7c7dfc,#7b7dfc,#7b7cfc,#7a7cfc,#7a7cfc,#7a7bfc,#797bfc,#797bfc,#797bfc,#797afc,#787afc,#787afc)"></i><i style="background:linear-gradient(90deg,#7476fc,#7577fc,#7779fc,#787afc,#7a7bfc,#7b7dfc,#7d7ffc,#7f80fc,#8182fc,#8385fc,#8587fc,#8789fc,#898bfc,#8b8cfc,#8c8efd,#8c8efd,#8e8ffd,#8e90fd,#8e90fd,#8e90fd,#8c8efd,#8c8efd,#8c8efd,#8c8efd,#8c8efd,#8c8efd,#8c8efd,#8b8dfc,#8a8bfc,#888afc,#8688fc,#8486fc,#8284fc,#8081fc,#7d7ffc,#7b7dfc,#797bfc,#7779fc,#7577fc,#7577fc,#7577fc,#7577fc,#7678fc,#787afc,#7a7cfc,#7c7efc,#7c7efc,#7c7dfc,#7b7dfc,#7b7cfc,#7a7cfc,#7a7cfc,#797bfc,#797bfc,#797bfc,#787afc,#787afc,#787afc,#787afc,#787afc,#787afc)"></i><i style="background:linear-gradient(90deg,#7476fc,#7476fc,#7678fc,#787afc,#797bfc,#7a7cfc,#7c7dfc,#7d7ffc,#7f81fc,#8183fc,#8384fc,#8486fc,#8688fc,#8789fc,#898afc,#898bfc,#8a8cfc,#8b8cfc,#8b8cfc,#8a8cfc,#898bfc,#898bfc,#898bfc,#898bfc,#898bfc,#898bfc,#888afc,#8789fc,#8687fc,#8486fc,#8284fc,#8082fc,#7e80fc,#7c7efc,#7a7cfc,#787afc,#7678fc,#7577fc,#7476fc,#7476fc,#7476fc,#7476fc,#7476fc,#7678fc,#797bfc,#7b7dfc,#7b7dfc,#7a7cfc,#7a7cfc,#7a7cfc,#797bfc,#797bfc,#797afc,#787afc,#787afc,#787afc,#787afc,#7879fc,#7779fc,#7779fc,#7779fc)"></i><i style="background:linear-gradient(90deg,#7476fc,#7476fc,#7577fc,#7779fc,#787afc,#797bfc,#7b7dfc,#7c7efc,#7e7ffc,#7f81fc,#8182fc,#8284fc,#8485fc,#8586fc,#8688fc,#8688fc,#8789fc,#8789fc,#8789fc,#8789fc,#8688fc,#8688fc,#8688fc,#8688fc,#8688fc,#8688fc,#8587fc,#8485fc,#8284fc,#8182fc,#7f81fc,#7d7ffc,#7b7dfc,#797bfc,#7779fc,#7577fc,#7476fc,#7476fc,#7476fc,#7476fc,#7476fc,#7476fc,#7476fc,#7577fc,#787afc,#7a7cfc,#7a7cfc,#7a7bfc,#797bfc,#797bfc,#797afc,#787afc,#787afc,#787afc,#7779fc,#7779fc,#7779fc,#7779fc,#7779fc,#7779fc,#7779fc)"></i><i style="background:linear-gradient(90deg,#7476fc,#7476fc,#7476fc,#7678fc,#787afc,#797bfc,#7a7cfc,#7b7dfc,#7c7efc,#7e80fc,#7f81fc,#8082fc,#8283fc,#8284fc,#8385fc,#8385fc,#8486fc,#8586fc,#8586fc,#8586fc,#8485fc,#8385fc,#8385fc,#8385fc,#8385fc,#8385fc,#8284fc,#8183fc,#7f81fc,#7e80fc,#7c7efc,#7a7cfc,#797bfc,#7779fc,#7577fc,#7476fc,#7476fc,#7476fc,#7476fc,#7476fc,#7476fc,#7476fc,#7476fc,#7577fc,#787afc,#7a7bfc,#797bfc,#797bfc,#787afc,#787afc,#787afc,#787afc,#7779fc,#7779fc,#7779fc,#7779fc,#7779fc,#7779fc,#7678fc,#7678fc,#7678fc)"></i><i style="background:linear-gradient(90deg,#7476fc,#7476fc,#7476fc,#7577fc,#7779fc,#787afc,#797bfc,#7a7cfc,#7b7dfc,#7c7efc,#7d7ffc,#7f80fc,#8081fc,#8082fc,#8183fc,#8183fc,#8284fc,#8284fc,#8284fc,#8284fc,#8183fc,#8183fc,#8183fc,#8183fc,#8183fc,#8182fc,#7f81fc,#7e80fc,#7d7ffc,#7b7dfc,#7a7cfc,#787afc,#7779fc,#7577fc,#7476fc,#7476fc,#7476fc,#7476fc,#7476fc,#7476fc,#7476fc,#7476fc,#7476fc,#7476fc,#7779fc,#797bfc,#787afc,#787afc,#787afc,#787afc,#7779fc,#7779fc,#7779fc,#7779fc,#7779fc,#7678fc,#7678fc,#7678fc,#7678fc,#7678fc,#7678fc)"></i><i style="background:linear-gradient(90deg,#7476fc,#7476fc,#7476fc,#7476fc,#7577fc,#7779fc,#787afc,#797bfc,#7a7cfc,#7b7dfc,#7c7efc,#7d7ffc,#7e80fc,#7f80fc,#7f81fc,#7f81fc,#8082fc,#8082fc,#8082fc,#8082fc,#8081fc,#7f81fc,#7f81fc,#7f81fc,#7f81fc,#7e80fc,#7d7ffc,#7c7efc,#7a7cfc,#797bfc,#787afc,#7678fc,#7577fc,#7476fc,#7476fc,#7476fc,#7476fc,#7476fc,#7476fc,#7476fc,#7476fc,#7476fc,#7476fc,#7476fc,#7779fc,#787afc,#787afc,#7879fc,#7779fc,#7779fc,#7779fc,#7779fc,#7678fc,#7678fc,#7678fc,#7678fc,#7678fc,#7678fc,#7678fc,#7678fc,#7678fc)"></i><i style="background:linear-gradient(90deg,#7476fc,#7476fc,#7476fc,#7476fc,#7476fc,#7678fc,#7879fc,#797bfc,#797bfc,#7a7cfc,#7b7dfc,#7c7efc,#7d7ffc,#7d7ffc,#7e80fc,#7e80fc,#7e80fc,#7e80fc,#7e80fc,#7e80fc,#7e80fc,#7e80fc,#7e80fc,#7e80fc,#7e7ffc,#7c7efc,#7b7dfc,#7a7cfc,#787afc,#7779fc,#7678fc,#7577fc,#7476fc,#7476fc,#7476fc,#7476fc,#7476fc,#7476fc,#7476fc,#7476fc,#7476fc,#7476fc,#7476fc,#7476fc,#7678fc,#7879fc,#7779fc,#7779fc,#7779fc,#7779fc,#7678fc,#7678fc,#7678fc,#7678fc,#7678fc,#7678fc,#7678fc,#7678fc,#7678fc,#7678fc,#7677fc)"></i><i style="background:linear-gradient(90deg,#7476fc,#7476fc,#7476fc,#7476fc,#7476fc,#7577fc,#7678fc,#787afc,#797bfc,#797bfc,#7a7cfc,#7b7dfc,#7b7dfc,#7c7efc,#7c7efc,#7c7efc,#7d7ffc,#7d7ffc,#7d7ffc,#7d7ffc,#7d7efc,#7c7efc,#7c7efc,#7c7efc,#7c7efc,#7b7dfc,#797bfc,#787afc,#7779fc,#7678fc,#7577fc,#7476fc,#7476fc,#7476fc,#7476fc,#7476fc,#7476fc,#7476fc,#7476fc,#7476fc,#7476fc,#7476fc,#7476fc,#7476fc,#7678fc,#7779fc,#7779fc,#7779fc,#7678fc,#7678fc,#7678fc,#7678fc,#7678fc,#7678fc,#7678fc,#7678fc,#7577fc,#7577fc,#7577fc,#7577fc,#7577fc)"></i><i style="background:linear-gradient(90deg,#7476fc,#7476fc,#7476fc,#7476fc,#7476fc,#7476fc,#7577fc,#7678fc,#7879fc,#797afc,#797bfc,#7a7cfc,#7a7cfc,#7b7dfc,#7b7dfc,#7b7dfc,#7c7efc,#7c7efc,#7c7efc,#7c7efc,#7b7dfc,#7b7dfc,#7b7dfc,#7b7dfc,#7a7cfc,#797bfc,#787afc,#7778fc,#7577fc,#7577fc,#7476fc,#7476fc,#7476fc,#7476fc,#7476fc,#7476fc,#7476fc,#7476fc,#7476fc,#7476fc,#7476fc,#7476fc,#7476fc,#7476fc,#7577fc,#7779fc,#7678fc,#7678fc,#7678fc,#7678fc,#7678fc,#7678fc,#7678fc,#7577fc,#7577fc,#7577fc,#7577fc,#7577fc,#7577fc,#7577fc,#7577fc)"></i><i style="background:linear-gradient(90deg,#7476fc,#7476fc,#7476fc,#7476fc,#7476fc,#7476fc,#7476fc,#7577fc,#7678fc,#7779fc,#787afc,#797bfc,#797bfc,#7a7cfc,#7a7cfc,#7a7cfc,#7a7cfc,#7a7cfc,#7a7cfc,#7a7cfc,#7a7cfc,#7a7cfc,#7a7cfc,#7a7cfc,#797bfc,#787afc,#7678fc,#7577fc,#7476fc,#7476fc,#7476fc,#7476fc,#7476fc,#7476fc,#7476fc,#7476fc,#7476fc,#7476fc,#7476fc,#7476fc,#7476fc,#7476fc,#7476fc,#7476fc,#7577fc,#7678fc,#7678fc,#7678fc,#7678fc,#7678fc,#7678fc,#7577fc,#7577fc,#7577fc,#7577fc,#7577fc,#7577fc,#7577fc,#7577fc,#7577fc,#7577fc)"></i><i style="background:linear-gradient(90deg,#7476fc,#7476fc,#7476fc,#7476fc,#7476fc,#7476fc,#7476fc,#7476fc,#7577fc,#7678fc,#7779fc,#787afc,#787afc,#797bfc,#797bfc,#797bfc,#797bfc,#797bfc,#797bfc,#797bfc,#797bfc,#797bfc,#797bfc,#797bfc,#787afc,#7678fc,#7577fc,#7476fc,#7476fc,#7476fc,#7476fc,#7476fc,#7476fc,#7476fc,#7476fc,#7476fc,#7476fc,#7476fc,#7476fc,#7476fc,#7476fc,#7476fc,#7476fc,#7476fc,#7577fc,#7678fc,#7678fc,#7678fc,#7678fc,#7577fc,#7577fc,#7577fc,#7577fc,#7577fc,#7577fc,#7577fc,#7577fc,#7577fc,#7577fc,#7577fc,#7577fc)"></i><i style="background:linear-gradient(90deg,#7476fc,#7476fc,#7476fc,#7476fc,#7476fc,#7476fc,#7476fc,#7476fc,#7476fc,#7476fc,#7577fc,#7678fc,#7779fc,#7779fc,#787afc,#787afc,#787afc,#787afc,#7879fc,#787afc,#787afc,#787afc,#787afc,#7779fc,#7678fc,#7577fc,#7476fc,#7476fc,#7476fc,#7476fc,#7476fc,#7476fc,#7476fc,#7476fc,#7476fc,#7476fc,#7476fc,#7476fc,#7476fc,#7476fc,#7476fc,#7476fc,#7476fc,#7476fc,#7476fc,#7678fc,#7678fc,#7577fc,#7577fc,#7577fc,#7577fc,#7577fc,#7577fc,#7577fc,#7577fc,#7577fc,#7577fc,#7577fc,#7577fc,#7577fc,#7577fc)"></i><i style="background:linear-gradient(90deg,#7476fc,#7476fc,#7476fc,#7476fc,#7476fc,#7476fc,#7476fc,#7476fc,#7476fc,#7476fc,#7476fc,#7577fc,#7577fc,#7678fc,#7678fc,#7678fc,#7678fc,#7678fc,#7678fc,#7678fc,#7678fc,#7779fc,#7778fc,#7678fc,#7577fc,#7476fc,#7476fc,#7476fc,#7476fc,#7476fc,#7476fc,#7476fc,#7476fc,#7476fc,#7476fc,#7476fc,#7476fc,#7476fc,#7476fc,#7476fc,#7476fc,#7476fc,#7476fc,#7476fc,#7476fc,#7577fc,#7577fc,#7577fc,#7577fc,#7577fc,#7577fc,#7577fc,#7577fc,#7577fc,#7577fc,#7577fc,#7577fc,#7577fc,#7577fc,#7577fc,#7577fc)"></i><i style="background:linear-gradient(90deg,#7476fc,#7476fc,#7476fc,#7476fc,#7476fc,#7476fc,#7476fc,#7476fc,#7476fc,#7476fc,#7476fc,#7476fc,#7476fc,#7577fc,#7577fc,#7577fc,#7577fc,#7577fc,#7577fc,#7577fc,#7577fc,#7577fc,#7577fc,#7577fc,#7476fc,#7476fc,#7476fc,#7476fc,#7476fc,#7476fc,#7476fc,#7476fc,#7476fc,#7476fc,#7476fc,#7476fc,#7476fc,#7476fc,#7476fc,#7476fc,#7476fc,#7476fc,#7476fc,#7476fc,#7476fc,#7577fc,#7577fc,#7577fc,#7577fc,#7577fc,#7577fc,#7577fc,#7577fc,#7577fc,#7577fc,#7577fc,#7577fc,#7577fc,#7577fc,#7577fc,#7577fc)"></i><i style="background:linear-gradient(90deg,#7476fc,#7476fc,#7476fc,#7476fc,#7476fc,#7476fc,#7476fc,#7476fc,#7476fc,#7476fc,#7476fc,#7476fc,#7476fc,#7476fc,#7476fc,#7476fc,#7476fc,#7476fc,#7476fc,#7476fc,#7476fc,#7476fc,#7476fc,#7476fc,#7476fc,#7476fc,#7476fc,#7476fc,#7476fc,#7476fc,#7476fc,#7476fc,#7476fc,#7476fc,#7476fc,#7476fc,#7476fc,#7476fc,#7476fc,#7476fc,#7476fc,#7476fc,#7476fc,#7476fc,#7476fc,#7577fc,#7577fc,#7577fc,#7577fc,#7577fc,#7577fc,#7577fc,#7577fc,#7577fc,#7577fc,#7577fc,#7577fc,#7476fc,#7476fc,#7476fc,#7476fc)"></i><i style="background:linear-gradient(90deg,#7476fc,#7476fc,#7476fc,#7476fc,#7476fc,#7476fc,#7476fc,#7476fc,#7476fc,#7476fc,#7476fc,#7476fc,#7476fc,#7476fc,#7476fc,#7476fc,#7476fc,#7476fc,#7476fc,#7476fc,#7476fc,#7476fc,#7476fc,#7476fc,#7476fc,#7476fc,#7476fc,#7476fc,#7476fc,#7476fc,#7476fc,#7476fc,#7476fc,#7476fc,#7476fc,#7476fc,#7476fc,#7476fc,#7476fc,#7476fc,#7476fc,#7476fc,#7476fc,#7476fc,#7476fc,#7476fc,#7577fc,#7577fc,#7577fc,#7577fc,#7577fc,#7577fc,#7577fc,#7577fc,#7476fc,#7476fc,#7476fc,#7476fc,#7476fc,#7476fc,#7476fc)"></i><i style="background:linear-gradient(90deg,#7476fc,#7476fc,#7476fc,#7476fc,#7476fc,#7476fc,#7476fc,#7476fc,#7476fc,#7476fc,#7476fc,#7476fc,#7476fc,#7476fc,#7476fc,#7476fc,#7476fc,#7476fc,#7476fc,#7476fc,#7476fc,#7476fc,#7476fc,#7476fc,#7476fc,#7476fc,#7476fc,#7476fc,#7476fc,#7476fc,#7476fc,#7476fc,#7476fc,#7476fc,#7476fc,#7476fc,#7476fc,#7476fc,#7476fc,#7476fc,#7476fc,#7476fc,#7476fc,#7476fc,#7476fc,#7476fc,#7577fc,#7577fc,#7577fc,#7577fc,#7577fc,#7577fc,#7476fc,#7476fc,#7476fc,#7476fc,#7476fc,#7476fc,#7476fc,#7476fc,#7476fc)"></i><i style="background:linear-gradient(90deg,#7476fc,#7476fc,#7476fc,#7476fc,#7476fc,#7476fc,#7476fc,#7476fc,#7476fc,#7476fc,#7476fc,#7476fc,#7476fc,#7476fc,#7476fc,#7476fc,#7476fc,#7476fc,#7476fc,#7476fc,#7476fc,#7476fc,#7476fc,#7476fc,#7476fc,#7476fc,#7476fc,#7476fc,#7476fc,#7476fc,#7476fc,#7476fc,#7476fc,#7476fc,#7476fc,#7476fc,#7476fc,#7476fc,#7476fc,#7476fc,#7476fc,#7476fc,#7476fc,#7476fc,#7476fc,#7476fc,#7577fc,#7577fc,#7577fc,#7576fc,#7476fc,#7476fc,#7476fc,#7476fc,#7476fc,#7476fc,#7476fc,#7476fc,#7476fc,#7476fc,#7476fc)"></i><i style="background:linear-gradient(90deg,#7476fc,#7476fc,#7476fc,#7476fc,#7476fc,#7476fc,#7476fc,#7476fc,#7476fc,#7476fc,#7476fc,#7476fc,#7476fc,#7476fc,#7476fc,#7476fc,#7476fc,#7476fc,#7476fc,#7476fc,#7476fc,#7476fc,#7476fc,#7476fc,#7476fc,#7476fc,#7476fc,#7476fc,#7476fc,#7476fc,#7476fc,#7476fc,#7476fc,#7476fc,#7476fc,#7476fc,#7476fc,#7476fc,#7476fc,#7476fc,#7476fc,#7476fc,#7476fc,#7476fc,#7476fc,#7476fc,#7476fc,#7576fc,#7476fc,#7476fc,#7476fc,#7476fc,#7476fc,#7476fc,#7476fc,#7476fc,#7476fc,#7476fc,#7476fc,#7476fc,#7476fc)"></i></div><div class="cf" style="left:451.2px;top:229.9px;width:294.6px;height:161.2px"><i style="background:linear-gradient(90deg,#7678fc,#7678fc,#7678fc,#7678fc,#7678fc,#7678fc,#7678fc,#7678fc,#7779fc,#7779fc,#787afc,#797bfc,#797bfc,#7a7cfc,#7b7dfc,#7c7efc,#7c7efc,#7d7ffc,#7d7ffc,#7e80fc,#7e80fc,#7e80fc,#7e80fc,#7e80fc,#7e80fc,#7e80fc,#7e80fc,#7e80fc,#7e80fc,#7e80fc,#7e80fc,#7e80fc,#7e80fc,#7e7ffc,#7d7ffc,#7d7ffc,#7c7efc,#7c7efc,#7b7dfc,#7a7cfc,#7a7cfc,#797bfc,#797afc,#787afc,#7779fc,#7779fc,#7678fc,#7678fc,#7678fc,#7678fc,#7678fc,#7678fc,#7678fc,#7678fc,#7678fc,#7678fc,#7678fc,#7678fc,#7678fc,#7678fc)"></i><i style="background:linear-gradient(90deg,#7678fc,#7678fc,#7678fc,#7678fc,#7678fc,#7678fc,#7678fc,#7779fc,#7779fc,#787afc,#787afc,#797bfc,#7a7cfc,#7b7cfc,#7b7dfc,#7c7efc,#7d7ffc,#7e80fc,#7e80fc,#7f81fc,#7f81fc,#7f81fc,#7f81fc,#7f81fc,#7f81fc,#7f81fc,#7f81fc,#7f81fc,#7f81fc,#7f81fc,#7f81fc,#7f81fc,#7f80fc,#7e80fc,#7e80fc,#7e80fc,#7d7ffc,#7d7efc,#7c7efc,#7b7dfc,#7a7cfc,#7a7cfc,#797bfc,#787afc,#787afc,#7779fc,#7779fc,#7678fc,#7678fc,#7678fc,#7678fc,#7678fc,#7678fc,#7678fc,#7678fc,#7678fc,#7678fc,#7678fc,#7678fc,#7678fc)"></i><i style="background:linear-gradient(90deg,#7678fc,#7678fc,#7678fc,#7678fc,#7678fc,#7678fc,#7779fc,#7779fc,#7779fc,#787afc,#797afc,#797bfc,#7a7cfc,#7b7dfc,#7c7efc,#7d7ffc,#7e80fc,#7f81fc,#7f81fc,#8082fc,#8082fc,#8082fc,#8082fc,#8082fc,#8082fc,#8082fc,#8082fc,#8082fc,#8082fc,#8082fc,#8082fc,#8082fc,#8082fc,#8081fc,#7f81fc,#7f81fc,#7e80fc,#7d7ffc,#7d7efc,#7c7efc,#7b7dfc,#7a7cfc,#797bfc,#797bfc,#787afc,#7779fc,#7779fc,#7678fc,#7678fc,#7678fc,#7678fc,#7678fc,#7678fc,#7678fc,#7678fc,#7678fc,#7678fc,#7678fc,#7678fc,#7678fc)"></i><i style="background:linear-gradient(90deg,#7678fc,#7678fc,#7678fc,#7678fc,#7678fc,#7778fc,#7779fc,#7779fc,#787afc,#787afc,#797bfc,#7a7cfc,#7b7dfc,#7c7efc,#7d7ffc,#7e80fc,#7f81fc,#8082fc,#8182fc,#8183fc,#8183fc,#8183fc,#8183fc,#8183fc,#8183fc,#8183fc,#8183fc,#8183fc,#8183fc,#8183fc,#8183fc,#8183fc,#8183fc,#8183fc,#8082fc,#8082fc,#7f81fc,#7e80fc,#7d7ffc,#7c7efc,#7c7dfc,#7b7dfc,#7a7cfc,#797bfc,#787afc,#787afc,#7779fc,#7778fc,#7678fc,#7678fc,#7678fc,#7678fc,#7678fc,#7678fc,#7678fc,#7678fc,#7678fc,#7678fc,#7678fc,#7678fc)"></i><i style="background:linear-gradient(90deg,#7678fc,#7678fc,#7678fc,#7678fc,#7779fc,#7779fc,#7779fc,#7779fc,#787afc,#787afc,#797bfc,#7a7cfc,#7b7dfc,#7c7efc,#7e7ffc,#7f81fc,#8082fc,#8183fc,#8284fc,#8384fc,#8385fc,#8385fc,#8385fc,#8385fc,#8385fc,#8385fc,#8385fc,#8385fc,#8385fc,#8385fc,#8385fc,#8385fc,#8284fc,#8284fc,#8284fc,#8183fc,#8082fc,#7f81fc,#7e80fc,#7d7ffc,#7c7efc,#7b7dfc,#7a7cfc,#797bfc,#797bfc,#787afc,#7779fc,#7779fc,#7678fc,#7678fc,#7678fc,#7678fc,#7678fc,#7678fc,#7678fc,#7678fc,#7678fc,#7678fc,#7678fc,#7678fc)"></i><i style="background:linear-gradient(90deg,#7678fc,#7678fc,#7678fc,#7779fc,#7779fc,#7779fc,#7779fc,#787afc,#787afc,#797bfc,#7a7cfc,#7b7dfc,#7c7efc,#7d7ffc,#7f80fc,#8082fc,#8183fc,#8284fc,#8385fc,#8486fc,#8486fc,#8486fc,#8486fc,#8486fc,#8486fc,#8486fc,#8486fc,#8486fc,#8486fc,#8486fc,#8486fc,#8486fc,#8486fc,#8485fc,#8385fc,#8284fc,#8183fc,#8082fc,#7f81fc,#7e80fc,#7d7ffc,#7c7efc,#7b7dfc,#7a7cfc,#797bfc,#787afc,#7779fc,#7779fc,#7678fc,#7678fc,#7678fc,#7678fc,#7678fc,#7678fc,#7678fc,#7678fc,#7678fc,#7678fc,#7678fc,#7678fc)"></i><i style="background:linear-gradient(90deg,#7678fc,#7678fc,#7779fc,#7779fc,#7779fc,#7779fc,#787afc,#787afc,#797bfc,#797bfc,#7a7cfc,#7b7dfc,#7c7efc,#7e80fc,#7f81fc,#8183fc,#8384fc,#8486fc,#8587fc,#8688fc,#8688fc,#8688fc,#8688fc,#8688fc,#8688fc,#8688fc,#8688fc,#8688fc,#8688fc,#8688fc,#8688fc,#8688fc,#8587fc,#8587fc,#8586fc,#8486fc,#8385fc,#8284fc,#8082fc,#7f81fc,#7e80fc,#7d7efc,#7b7dfc,#7a7cfc,#797bfc,#787afc,#787afc,#7779fc,#7779fc,#7678fc,#7678fc,#7678fc,#7678fc,#7678fc,#7678fc,#7678fc,#7678fc,#7678fc,#7678fc,#7678fc)"></i><i style="background:linear-gradient(90deg,#7678fc,#7779fc,#7779fc,#7779fc,#7779fc,#787afc,#787afc,#787afc,#797bfc,#7a7cfc,#7b7dfc,#7c7efc,#7d7ffc,#7f81fc,#8082fc,#8284fc,#8486fc,#8587fc,#8788fc,#8889fc,#888afc,#888afc,#888afc,#888afc,#888afc,#888afc,#888afc,#888afc,#888afc,#888afc,#888afc,#888afc,#8789fc,#8789fc,#8688fc,#8587fc,#8486fc,#8385fc,#8183fc,#8082fc,#7f81fc,#7d7ffc,#7c7efc,#7b7dfc,#7a7cfc,#797bfc,#787afc,#7779fc,#7779fc,#7678fc,#7678fc,#7678fc,#7678fc,#7678fc,#7678fc,#7678fc,#7678fc,#7678fc,#7678fc,#7678fc)"></i><i style="background:linear-gradient(90deg,#7678fc,#7779fc,#7779fc,#7879fc,#787afc,#787afc,#787afc,#797bfc,#797bfc,#7a7cfc,#7b7dfc,#7c7efc,#7e80fc,#8081fc,#8283fc,#8385fc,#8687fc,#8789fc,#898afc,#8a8bfc,#8a8cfc,#8a8cfc,#8a8cfc,#8a8cfc,#8a8cfc,#8a8cfc,#8a8cfc,#8a8cfc,#8a8cfc,#8a8cfc,#8a8cfc,#8a8cfc,#898bfc,#898bfc,#888afc,#8789fc,#8688fc,#8486fc,#8384fc,#8183fc,#8081fc,#7e80fc,#7d7ffc,#7b7dfc,#7a7cfc,#797bfc,#787afc,#787afc,#7779fc,#7678fc,#7678fc,#7678fc,#7678fc,#7678fc,#7678fc,#7678fc,#7678fc,#7678fc,#7678fc,#7678fc)"></i><i style="background:linear-gradient(90deg,#7779fc,#7779fc,#787afc,#787afc,#787afc,#787afc,#797bfc,#797bfc,#7a7cfc,#7b7dfc,#7c7efc,#7d7ffc,#7f81fc,#8182fc,#8384fc,#8587fc,#8789fc,#898bfc,#8b8cfc,#8c8efd,#8d8efd,#8d8efd,#8d8efd,#8d8efd,#8d8efd,#8d8efd,#8d8efd,#8d8efd,#8d8efd,#8d8efd,#8d8efd,#8c8efd,#8b8dfd,#8b8dfd,#8a8cfc,#898bfc,#8889fc,#8688fc,#8486fc,#8284fc,#8182fc,#7f81fc,#7d7ffc,#7c7efc,#7b7cfc,#7a7bfc,#797bfc,#787afc,#7779fc,#7778fc,#7678fc,#7678fc,#7678fc,#7678fc,#7678fc,#7678fc,#7678fc,#7678fc,#7678fc,#7678fc)"></i><i style="background:linear-gradient(90deg,#7879fc,#787afc,#787afc,#787afc,#797afc,#797bfc,#797bfc,#7a7cfc,#7b7cfc,#7b7dfc,#7c7efc,#7e80fc,#8081fc,#8283fc,#8486fc,#8688fc,#898bfc,#8b8dfc,#8d8ffd,#8e90fd,#8f91fd,#8f91fd,#8f91fd,#8f91fd,#8f91fd,#8f91fd,#8f91fd,#8f91fd,#8f91fd,#8f91fd,#8f91fd,#8f91fd,#8e8ffd,#8e8ffd,#8d8efd,#8b8dfc,#8a8bfc,#8889fc,#8687fc,#8485fc,#8284fc,#8082fc,#7e80fc,#7c7efc,#7b7dfc,#7a7cfc,#797bfc,#787afc,#7779fc,#7779fc,#7678fc,#7678fc,#7678fc,#7678fc,#7678fc,#7678fc,#7678fc,#7678fc,#7678fc,#7678fc)"></i><i style="background:linear-gradient(90deg,#787afc,#787afc,#787afc,#797bfc,#797bfc,#797bfc,#7a7cfc,#7a7cfc,#7b7dfc,#7c7efc,#7d7ffc,#7f80fc,#8082fc,#8384fc,#8587fc,#888afc,#8b8cfc,#8d8ffd,#9091fd,#9192fd,#9294fd,#9294fd,#9294fd,#9294fd,#9294fd,#9294fd,#9294fd,#9294fd,#9294fd,#9294fd,#9294fd,#9293fd,#9192fd,#9092fd,#8f91fd,#8d8ffd,#8c8efd,#898bfc,#8789fc,#8587fc,#8385fc,#8183fc,#7f81fc,#7d7ffc,#7c7dfc,#7a7cfc,#797bfc,#787afc,#7779fc,#7779fc,#7678fc,#7678fc,#7678fc,#7678fc,#7678fc,#7678fc,#7678fc,#7678fc,#7678fc,#7678fc)"></i><i style="background:linear-gradient(90deg,#787afc,#797afc,#797bfc,#797bfc,#7a7bfc,#7a7cfc,#7a7cfc,#7b7dfc,#7c7efc,#7d7ffc,#7e80fc,#7f81fc,#8183fc,#8486fc,#8688fc,#8a8bfc,#8d8efd,#9092fd,#9294fd,#9495fd,#9597fd,#9597fd,#9597fd,#9597fd,#9597fd,#9597fd,#9597fd,#9597fd,#9597fd,#9597fd,#9597fd,#9596fd,#9495fd,#9395fd,#9293fd,#9092fd,#8e90fd,#8c8dfd,#898bfc,#8788fc,#8486fc,#8284fc,#8081fc,#7e80fc,#7c7efc,#7b7dfc,#7a7bfc,#797afc,#787afc,#7779fc,#7678fc,#7678fc,#7678fc,#7678fc,#7678fc,#7678fc,#7678fc,#7678fc,#7678fc,#7678fc)"></i><i style="background:linear-gradient(90deg,#797bfc,#797bfc,#797bfc,#7a7cfc,#7a7cfc,#7b7cfc,#7b7dfc,#7c7efc,#7d7efc,#7e7ffc,#7f81fc,#8082fc,#8284fc,#8587fc,#888afc,#8b8dfd,#8f90fd,#9394fd,#9597fd,#9798fd,#989afd,#989afd,#989afd,#989afd,#989afd,#989afd,#989afd,#989afd,#989afd,#989afd,#989afd,#9899fd,#9798fd,#9798fd,#9596fd,#9394fd,#9192fd,#8e8ffd,#8b8dfc,#888afc,#8587fc,#8385fc,#8082fc,#7e80fc,#7d7ffc,#7b7dfc,#7a7cfc,#797bfc,#787afc,#7779fc,#7778fc,#7678fc,#7678fc,#7678fc,#7678fc,#7678fc,#7678fc,#7678fc,#7678fc,#7678fc)"></i><i style="background:linear-gradient(90deg,#797bfc,#7a7bfc,#7a7cfc,#7a7cfc,#7b7dfc,#7b7dfc,#7c7efc,#7c7efc,#7d7ffc,#7f80fc,#8082fc,#8183fc,#8485fc,#8688fc,#8a8bfc,#8d8ffd,#9193fd,#9597fd,#989afd,#9a9bfd,#9b9cfd,#9b9dfd,#9b9cfd,#9b9cfd,#9b9cfd,#9b9cfd,#9b9cfd,#9b9cfd,#9b9cfd,#9b9cfd,#9b9cfd,#9a9cfd,#9a9bfd,#999bfd,#989afd,#9697fd,#9395fd,#9092fd,#8d8ffd,#8a8cfc,#8789fc,#8486fc,#8183fc,#7f81fc,#7d7ffc,#7c7dfc,#7a7cfc,#797bfc,#787afc,#7779fc,#7779fc,#7678fc,#7678fc,#7678fc,#7678fc,#7678fc,#7678fc,#7678fc,#7678fc,#7678fc)"></i><i style="background:linear-gradient(90deg,#7a7cfc,#7a7cfc,#7a7cfc,#7b7dfc,#7b7dfc,#7c7efc,#7d7efc,#7d7ffc,#7e80fc,#7f81fc,#8183fc,#8384fc,#8587fc,#8889fc,#8b8dfd,#8f91fd,#9495fd,#9899fd,#9b9cfd,#9c9dfd,#9d9efd,#9d9efd,#9d9efd,#9d9efd,#9c9efd,#9c9efd,#9c9efd,#9c9efd,#9c9dfd,#9c9dfd,#9c9dfd,#9c9dfd,#9c9dfd,#9b9dfd,#9a9cfd,#999afd,#9698fd,#9394fd,#8f91fd,#8c8dfd,#888afc,#8587fc,#8284fc,#8082fc,#7e80fc,#7c7efc,#7b7dfc,#797bfc,#787afc,#7779fc,#7779fc,#7678fc,#7678fc,#7678fc,#7678fc,#7678fc,#7678fc,#7678fc,#7678fc,#7678fc)"></i><i style="background:linear-gradient(90deg,#7a7cfc,#7b7dfc,#7b7dfc,#7c7efc,#7c7efc,#7d7ffc,#7d7ffc,#7e80fc,#7f81fc,#8182fc,#8284fc,#8486fc,#8688fc,#898bfc,#8d8ffd,#9193fd,#9698fd,#9a9cfd,#9c9efd,#9e9ffd,#9ea0fd,#9ea0fd,#9ea0fd,#9e9ffd,#9e9ffd,#9e9ffd,#9d9ffd,#9d9ffd,#9d9ffd,#9d9efd,#9d9efd,#9d9efd,#9d9efd,#9c9efd,#9c9dfd,#9b9cfd,#999afd,#9597fd,#9293fd,#8e8ffd,#8a8cfc,#8688fc,#8385fc,#8183fc,#7e80fc,#7d7efc,#7b7dfc,#7a7cfc,#787afc,#787afc,#7779fc,#7678fc,#7678fc,#7678fc,#7678fc,#7678fc,#7678fc,#7678fc,#7678fc,#7678fc)"></i><i style="background:linear-gradient(90deg,#7b7dfc,#7b7dfc,#7c7efc,#7c7efc,#7d7ffc,#7e7ffc,#7e80fc,#7f81fc,#8082fc,#8284fc,#8385fc,#8587fc,#888afc,#8b8dfc,#8f91fd,#9495fd,#999afd,#9c9dfd,#9e9ffd,#9fa1fd,#a0a1fd,#a0a1fd,#a0a1fd,#9fa1fd,#9fa0fd,#9fa0fd,#9ea0fd,#9ea0fd,#9e9ffd,#9e9ffd,#9e9ffd,#9e9ffd,#9d9ffd,#9d9efd,#9d9efd,#9c9dfd,#9b9cfd,#989afd,#9496fd,#9091fd,#8b8dfd,#8889fc,#8486fc,#8283fc,#7f81fc,#7d7ffc,#7b7dfc,#7a7cfc,#797bfc,#787afc,#7779fc,#7678fc,#7678fc,#7678fc,#7678fc,#7678fc,#7678fc,#7678fc,#7678fc,#7678fc)"></i><i style="background:linear-gradient(90deg,#7c7efc,#7c7efc,#7d7ffc,#7d7ffc,#7e80fc,#7f80fc,#7f81fc,#8082fc,#8183fc,#8385fc,#8587fc,#8789fc,#8a8bfc,#8d8ffd,#9193fd,#9698fd,#9b9cfd,#9d9ffd,#9fa1fd,#a1a2fd,#a1a3fd,#a1a3fd,#a1a3fd,#a1a2fd,#a0a2fd,#a0a1fd,#9fa1fd,#9fa1fd,#9fa0fd,#9fa0fd,#9fa0fd,#9ea0fd,#9ea0fd,#9e9ffd,#9d9ffd,#9d9efd,#9c9dfd,#9a9cfd,#9798fd,#9294fd,#8d8ffd,#898bfc,#8687fc,#8284fc,#8082fc,#7e7ffc,#7c7efc,#7a7cfc,#797bfc,#787afc,#7779fc,#7678fc,#7678fc,#7678fc,#7678fc,#7678fc,#7678fc,#7678fc,#7678fc,#7678fc)"></i><i style="background:linear-gradient(90deg,#7d7efc,#7d7ffc,#7e7ffc,#7e80fc,#7f81fc,#8081fc,#8082fc,#8283fc,#8385fc,#8486fc,#8688fc,#898afc,#8b8dfd,#8f91fd,#9395fd,#999afd,#9c9efd,#9fa0fd,#a1a2fd,#a2a4fd,#a3a4fd,#a3a4fd,#a3a4fd,#a2a3fd,#a1a3fd,#a1a2fd,#a0a2fd,#a0a1fd,#a0a1fd,#9fa1fd,#9fa1fd,#9fa0fd,#9fa0fd,#9ea0fd,#9e9ffd,#9d9ffd,#9d9efd,#9b9dfd,#999afd,#9496fd,#8f91fd,#8b8cfc,#8788fc,#8385fc,#8082fc,#7e80fc,#7c7efc,#7a7cfc,#797bfc,#787afc,#7779fc,#7778fc,#7678fc,#7678fc,#7678fc,#7678fc,#7678fc,#7678fc,#7678fc,#7678fc)"></i><i style="background:linear-gradient(90deg,#7d7ffc,#7e80fc,#7e80fc,#7f81fc,#8082fc,#8183fc,#8284fc,#8385fc,#8486fc,#8688fc,#888afc,#8a8cfc,#8e8ffd,#9193fd,#9697fd,#9b9cfd,#9e9ffd,#a0a2fd,#a2a4fd,#a4a5fd,#a4a6fd,#a4a6fd,#a4a5fd,#a3a5fd,#a2a4fd,#a2a3fd,#a1a3fd,#a1a2fd,#a0a2fd,#a0a1fd,#a0a1fd,#a0a1fd,#9fa1fd,#9fa0fd,#9fa0fd,#9e9ffd,#9d9ffd,#9c9efd,#9b9cfd,#9698fd,#9193fd,#8c8efd,#8889fc,#8486fc,#8183fc,#7e80fc,#7c7efc,#7b7cfc,#797bfc,#787afc,#7779fc,#7779fc,#7678fc,#7678fc,#7678fc,#7678fc,#7678fc,#7678fc,#7678fc,#7678fc)"></i><i style="background:linear-gradient(90deg,#7e80fc,#7f81fc,#8081fc,#8082fc,#8183fc,#8284fc,#8385fc,#8486fc,#8687fc,#8889fc,#8a8cfc,#8c8efd,#9091fd,#9395fd,#989afd,#9c9efd,#9fa1fd,#a2a3fd,#a4a5fd,#a5a7fd,#a6a7fd,#a6a7fd,#a5a6fd,#a4a6fd,#a3a5fd,#a3a4fd,#a2a3fd,#a1a3fd,#a1a2fd,#a1a2fd,#a0a2fd,#a0a1fd,#a0a1fd,#9fa1fd,#9fa0fd,#9ea0fd,#9e9ffd,#9d9efd,#9c9dfd,#999afd,#9395fd,#8e8ffd,#898bfc,#8587fc,#8284fc,#7f81fc,#7d7efc,#7b7dfc,#797bfc,#787afc,#7779fc,#7779fc,#7678fc,#7678fc,#7678fc,#7678fc,#7678fc,#7678fc,#7678fc,#7678fc)"></i><i style="background:linear-gradient(90deg,#7f81fc,#8082fc,#8183fc,#8283fc,#8384fc,#8385fc,#8586fc,#8688fc,#8789fc,#898bfc,#8c8efd,#8f90fd,#9294fd,#9698fd,#9a9cfd,#9e9ffd,#a1a2fd,#a3a5fd,#a5a7fd,#a7a8fd,#a7a8fd,#a7a8fd,#a6a8fd,#a5a7fd,#a4a6fd,#a3a5fd,#a3a4fd,#a2a3fd,#a1a3fd,#a1a2fd,#a1a2fd,#a0a2fd,#a0a2fd,#a0a1fd,#9fa1fd,#9fa0fd,#9ea0fd,#9d9ffd,#9c9efd,#9a9cfd,#9597fd,#8f91fd,#8a8cfc,#8688fc,#8284fc,#7f81fc,#7d7ffc,#7b7dfc,#7a7cfc,#787afc,#7879fc,#7779fc,#7678fc,#7678fc,#7678fc,#7678fc,#7678fc,#7678fc,#7678fc,#7678fc)"></i><i style="background:linear-gradient(90deg,#8182fc,#8183fc,#8284fc,#8385fc,#8486fc,#8587fc,#8688fc,#8889fc,#898bfc,#8b8dfd,#8e90fd,#9193fd,#9596fd,#999afd,#9c9efd,#9fa0fd,#a2a3fd,#a5a6fd,#a7a8fd,#a8a9fd,#a8aafd,#a8a9fd,#a7a9fd,#a6a7fd,#a5a6fd,#a4a5fd,#a3a4fd,#a2a4fd,#a2a3fd,#a1a3fd,#a1a2fd,#a1a2fd,#a0a2fd,#a0a2fd,#a0a1fd,#9fa1fd,#9fa0fd,#9e9ffd,#9d9efd,#9b9dfd,#9798fd,#9192fd,#8b8dfd,#8788fc,#8385fc,#8082fc,#7d7ffc,#7b7dfc,#7a7cfc,#797bfc,#787afc,#7779fc,#7678fc,#7678fc,#7678fc,#7678fc,#7678fc,#7678fc,#7678fc,#7678fc)"></i><i style="background:linear-gradient(90deg,#8284fc,#8384fc,#8385fc,#8486fc,#8687fc,#8789fc,#888afc,#8a8bfc,#8c8dfd,#8e8ffd,#9192fd,#9495fd,#9799fd,#9b9cfd,#9d9ffd,#a0a2fd,#a3a5fd,#a6a7fd,#a8a9fd,#a9aafd,#a9abfd,#a9aafd,#a8a9fd,#a7a8fd,#a6a7fd,#a5a6fd,#a4a5fd,#a3a4fd,#a2a4fd,#a2a3fd,#a1a3fd,#a1a2fd,#a1a2fd,#a0a2fd,#a0a1fd,#a0a1fd,#9fa0fd,#9ea0fd,#9d9ffd,#9c9dfd,#999afd,#9394fd,#8c8efd,#8789fc,#8385fc,#8082fc,#7e80fc,#7c7efc,#7a7cfc,#797bfc,#787afc,#7779fc,#7678fc,#7678fc,#7678fc,#7678fc,#7678fc,#7678fc,#7678fc,#7678fc)"></i><i style="background:linear-gradient(90deg,#8385fc,#8486fc,#8587fc,#8688fc,#8789fc,#898afc,#8a8cfc,#8c8dfd,#8e8ffd,#9092fd,#9395fd,#9798fd,#9a9bfd,#9c9efd,#9fa0fd,#a2a3fd,#a5a6fd,#a7a9fd,#a9aafd,#aaabfd,#aaacfd,#aaabfd,#a9aafd,#a8a9fd,#a6a7fd,#a5a6fd,#a4a5fd,#a3a4fd,#a3a4fd,#a2a3fd,#a2a3fd,#a1a3fd,#a1a2fd,#a1a2fd,#a0a2fd,#a0a1fd,#9fa1fd,#9fa0fd,#9e9ffd,#9c9efd,#9a9cfd,#9495fd,#8d8ffd,#888afc,#8486fc,#8183fc,#7e80fc,#7c7efc,#7a7cfc,#797bfc,#787afc,#7779fc,#7678fc,#7678fc,#7678fc,#7678fc,#7678fc,#7678fc,#7678fc,#7678fc)"></i><i style="background:linear-gradient(90deg,#8587fc,#8687fc,#8789fc,#888afc,#898bfc,#8b8cfc,#8c8efd,#8e90fd,#9092fd,#9394fd,#9697fd,#999bfd,#9b9dfd,#9d9ffd,#a0a1fd,#a3a4fd,#a6a7fd,#a8aafd,#aaabfd,#abacfd,#abacfd,#abacfd,#a9abfd,#a8a9fd,#a7a8fd,#a5a7fd,#a4a6fd,#a3a5fd,#a3a4fd,#a2a4fd,#a2a3fd,#a2a3fd,#a1a3fd,#a1a2fd,#a1a2fd,#a0a2fd,#a0a1fd,#9fa0fd,#9ea0fd,#9d9efd,#9b9cfd,#9596fd,#8e90fd,#898bfc,#8586fc,#8183fc,#7e80fc,#7c7efc,#7a7cfc,#797bfc,#787afc,#7779fc,#7779fc,#7678fc,#7678fc,#7678fc,#7678fc,#7678fc,#7678fc,#7678fc)"></i><i style="background:linear-gradient(90deg,#8788fc,#8789fc,#898afc,#8a8cfc,#8c8dfd,#8d8ffd,#8f90fd,#9192fd,#9395fd,#9697fd,#999afd,#9b9cfd,#9c9efd,#9ea0fd,#a1a2fd,#a4a5fd,#a7a8fd,#a9abfd,#abacfd,#acadfd,#acadfd,#abacfd,#aaabfd,#a8aafd,#a7a8fd,#a6a7fd,#a5a6fd,#a4a5fd,#a3a4fd,#a3a4fd,#a2a4fd,#a2a3fd,#a2a3fd,#a1a3fd,#a1a2fd,#a1a2fd,#a0a1fd,#9fa1fd,#9fa0fd,#9d9ffd,#9b9dfd,#9698fd,#8f91fd,#8a8bfc,#8587fc,#8283fc,#7f81fc,#7c7efc,#7b7dfc,#797bfc,#787afc,#7779fc,#7779fc,#7779fc,#7678fc,#7678fc,#7678fc,#7678fc,#7678fc,#7678fc)"></i><i style="background:linear-gradient(90deg,#898afc,#898bfc,#8b8cfc,#8c8efd,#8e8ffd,#9091fd,#9193fd,#9395fd,#9698fd,#999afd,#9a9cfd,#9c9dfd,#9d9efd,#9fa1fd,#a2a3fd,#a5a6fd,#a8a9fd,#aaabfd,#acadfd,#acaefd,#acadfd,#abadfd,#aaabfd,#a9aafd,#a7a8fd,#a6a7fd,#a5a6fd,#a4a5fd,#a3a5fd,#a3a4fd,#a3a4fd,#a2a4fd,#a2a3fd,#a2a3fd,#a1a3fd,#a1a2fd,#a0a2fd,#a0a1fd,#9fa0fd,#9e9ffd,#9c9dfd,#9899fd,#9092fd,#8a8cfc,#8687fc,#8284fc,#7f81fc,#7d7ffc,#7b7dfc,#797bfc,#787afc,#7779fc,#7779fc,#7779fc,#7779fc,#7678fc,#7678fc,#7678fc,#7678fc,#7678fc)"></i><i style="background:linear-gradient(90deg,#8b8cfc,#8c8dfd,#8d8ffd,#8f90fd,#9092fd,#9294fd,#9496fd,#9798fd,#999afd,#9a9cfd,#9b9dfd,#9c9dfd,#9e9ffd,#a0a1fd,#a3a4fd,#a6a7fd,#a8aafd,#abacfd,#acadfd,#adaefd,#acaefd,#abadfd,#aaabfd,#a9aafd,#a7a8fd,#a6a7fd,#a5a6fd,#a4a6fd,#a4a5fd,#a3a5fd,#a3a4fd,#a3a4fd,#a2a4fd,#a2a3fd,#a2a3fd,#a1a3fd,#a1a2fd,#a0a2fd,#9fa1fd,#9e9ffd,#9c9efd,#999afd,#9193fd,#8b8dfc,#8688fc,#8284fc,#7f81fc,#7d7ffc,#7b7dfc,#797bfc,#787afc,#787afc,#7779fc,#7779fc,#7779fc,#7778fc,#7678fc,#7678fc,#7678fc,#7678fc)"></i><i style="background:linear-gradient(90deg,#8d8efd,#8e90fd,#9091fd,#9193fd,#9395fd,#9597fd,#9799fd,#999bfd,#9b9cfd,#9b9cfd,#9c9dfd,#9c9efd,#9e9ffd,#a0a2fd,#a3a4fd,#a6a7fd,#a9aafd,#abacfd,#acadfd,#acaefd,#acadfd,#abacfd,#aaabfd,#a8aafd,#a7a8fd,#a6a7fd,#a5a6fd,#a4a6fd,#a4a5fd,#a4a5fd,#a4a5fd,#a3a5fd,#a3a4fd,#a3a4fd,#a2a4fd,#a2a3fd,#a1a3fd,#a1a2fd,#a0a1fd,#9ea0fd,#9d9efd,#999bfd,#9294fd,#8c8efd,#8789fc,#8385fc,#8081fc,#7d7ffc,#7b7dfc,#7a7cfc,#797afc,#787afc,#787afc,#7779fc,#7779fc,#7779fc,#7678fc,#7678fc,#7678fc,#7678fc)"></i><i style="background:linear-gradient(90deg,#8f91fd,#9192fd,#9294fd,#9496fd,#9698fd,#989afd,#9a9bfd,#9b9cfd,#9b9dfd,#9b9dfd,#9c9dfd,#9d9efd,#9ea0fd,#a1a2fd,#a3a5fd,#a6a7fd,#a8aafd,#aaabfd,#abadfd,#acadfd,#acadfd,#abacfd,#a9abfd,#a8a9fd,#a7a8fd,#a6a7fd,#a5a6fd,#a5a6fd,#a5a6fd,#a4a6fd,#a4a5fd,#a4a5fd,#a4a5fd,#a3a4fd,#a3a4fd,#a2a4fd,#a2a3fd,#a1a2fd,#a0a1fd,#9fa0fd,#9d9efd,#9a9cfd,#9395fd,#8c8efd,#8789fc,#8385fc,#8082fc,#7d7ffc,#7b7dfc,#7a7cfc,#797bfc,#787afc,#787afc,#787afc,#7779fc,#7779fc,#7779fc,#7678fc,#7678fc,#7678fc)"></i><i style="background:linear-gradient(90deg,#9294fd,#9495fd,#9597fd,#9799fd,#999afd,#9b9cfd,#9b9dfd,#9c9dfd,#9c9dfd,#9c9dfd,#9c9dfd,#9d9efd,#9ea0fd,#a1a2fd,#a3a5fd,#a6a7fd,#a8a9fd,#a9abfd,#aaacfd,#abacfd,#aaacfd,#aaabfd,#a9aafd,#a7a9fd,#a6a7fd,#a6a7fd,#a5a7fd,#a5a6fd,#a5a6fd,#a5a6fd,#a5a6fd,#a5a6fd,#a4a5fd,#a4a5fd,#a3a5fd,#a3a4fd,#a2a4fd,#a1a3fd,#a0a2fd,#9fa1fd,#9d9ffd,#9b9cfd,#9495fd,#8d8ffd,#8889fc,#8385fc,#8082fc,#7e7ffc,#7c7dfc,#7a7cfc,#797bfc,#797bfc,#787afc,#787afc,#787afc,#7779fc,#7779fc,#7779fc,#7678fc,#7678fc)"></i><i style="background:linear-gradient(90deg,#9596fd,#9798fd,#989afd,#9a9bfd,#9b9dfd,#9c9dfd,#9c9efd,#9c9efd,#9c9dfd,#9c9dfd,#9c9efd,#9d9efd,#9ea0fd,#a1a2fd,#a3a4fd,#a5a6fd,#a7a8fd,#a8a9fd,#a9aafd,#a9aafd,#a9aafd,#a8aafd,#a7a9fd,#a6a8fd,#a6a7fd,#a5a7fd,#a5a7fd,#a6a7fd,#a6a7fd,#a6a7fd,#a6a7fd,#a5a7fd,#a5a6fd,#a5a6fd,#a4a5fd,#a4a5fd,#a3a4fd,#a2a3fd,#a1a2fd,#a0a1fd,#9e9ffd,#9b9dfd,#9596fd,#8e8ffd,#888afc,#8486fc,#8182fc,#7e80fc,#7c7efc,#7b7cfc,#7a7cfc,#797bfc,#797bfc,#787afc,#787afc,#787afc,#7779fc,#7779fc,#7678fc,#7678fc)"></i><i style="background:linear-gradient(90deg,#9899fd,#9a9bfd,#9b9dfd,#9c9efd,#9d9efd,#9d9ffd,#9d9ffd,#9d9efd,#9d9efd,#9c9efd,#9c9efd,#9d9efd,#9ea0fd,#a0a2fd,#a2a4fd,#a4a5fd,#a5a6fd,#a6a7fd,#a7a8fd,#a7a8fd,#a7a8fd,#a6a8fd,#a6a7fd,#a5a7fd,#a5a6fd,#a5a7fd,#a6a7fd,#a6a8fd,#a7a8fd,#a7a8fd,#a7a8fd,#a6a8fd,#a6a7fd,#a6a7fd,#a5a6fd,#a4a6fd,#a4a5fd,#a3a4fd,#a2a3fd,#a0a2fd,#9ea0fd,#9c9dfd,#9597fd,#8e90fd,#898afc,#8486fc,#8183fc,#7e80fc,#7c7efc,#7b7dfc,#7b7cfc,#7a7cfc,#797bfc,#797bfc,#787afc,#787afc,#7779fc,#7779fc,#7779fc,#7678fc)"></i><i style="background:linear-gradient(90deg,#9b9cfd,#9c9dfd,#9d9ffd,#9e9ffd,#9ea0fd,#9ea0fd,#9ea0fd,#9e9ffd,#9d9ffd,#9d9efd,#9d9efd,#9d9ffd,#9ea0fd,#a0a1fd,#a1a3fd,#a2a4fd,#a3a4fd,#a3a4fd,#a3a5fd,#a4a5fd,#a4a5fd,#a4a5fd,#a4a5fd,#a4a5fd,#a4a6fd,#a5a7fd,#a6a8fd,#a7a8fd,#a8a9fd,#a8a9fd,#a8a9fd,#a8a9fd,#a7a8fd,#a7a8fd,#a6a7fd,#a5a7fd,#a5a6fd,#a4a5fd,#a2a4fd,#a1a2fd,#9fa0fd,#9c9dfd,#9698fd,#8f91fd,#898bfc,#8587fc,#8183fc,#7f80fc,#7d7ffc,#7c7efc,#7b7dfc,#7a7cfc,#7a7cfc,#797bfc,#797bfc,#787afc,#787afc,#7779fc,#7779fc,#7778fc)"></i><i style="background:linear-gradient(90deg,#9d9efd,#9ea0fd,#9fa1fd,#a0a1fd,#a0a1fd,#a0a1fd,#a0a1fd,#9fa0fd,#9ea0fd,#9e9ffd,#9d9ffd,#9d9ffd,#9ea0fd,#9fa1fd,#a0a2fd,#a0a1fd,#9fa1fd,#9fa1fd,#9fa1fd,#a0a1fd,#a0a1fd,#a1a2fd,#a2a3fd,#a3a4fd,#a4a5fd,#a5a7fd,#a7a8fd,#a8a9fd,#a9aafd,#a9aafd,#a9aafd,#a9aafd,#a9aafd,#a8a9fd,#a7a9fd,#a7a8fd,#a6a7fd,#a5a6fd,#a3a5fd,#a2a3fd,#9fa1fd,#9d9efd,#9799fd,#9092fd,#8a8cfc,#8587fc,#8284fc,#7f81fc,#7e7ffc,#7d7efc,#7c7efc,#7b7dfc,#7a7cfc,#7a7cfc,#797bfc,#797bfc,#787afc,#787afc,#7779fc,#7779fc)"></i><i style="background:linear-gradient(90deg,#a0a1fd,#a1a2fd,#a1a3fd,#a2a3fd,#a2a3fd,#a2a3fd,#a1a3fd,#a0a2fd,#a0a1fd,#9fa0fd,#9ea0fd,#9e9ffd,#9ea0fd,#9fa0fd,#9fa0fd,#9d9efd,#9b9cfd,#9a9cfd,#9a9cfd,#9a9cfd,#9b9dfd,#9d9efd,#9fa0fd,#a1a2fd,#a3a4fd,#a6a7fd,#a8a9fd,#a9abfd,#aaacfd,#abacfd,#abacfd,#abacfd,#aaabfd,#aaabfd,#a9aafd,#a8a9fd,#a7a8fd,#a6a7fd,#a4a6fd,#a2a4fd,#a0a2fd,#9d9ffd,#989afd,#9192fd,#8b8cfc,#8688fc,#8284fc,#8082fc,#7e80fc,#7d7ffc,#7d7efc,#7c7efc,#7b7dfc,#7a7cfc,#7a7cfc,#797bfc,#787afc,#787afc,#7779fc,#7779fc)"></i><i style="background:linear-gradient(90deg,#a2a3fd,#a3a4fd,#a4a5fd,#a4a6fd,#a4a6fd,#a4a5fd,#a3a5fd,#a2a4fd,#a1a3fd,#a0a2fd,#a0a1fd,#9fa0fd,#9fa0fd,#9ea0fd,#9d9efd,#999afd,#9597fd,#9496fd,#9496fd,#9596fd,#9597fd,#9899fd,#9c9dfd,#9fa1fd,#a3a4fd,#a7a8fd,#a9abfd,#abacfd,#acadfd,#adaefd,#adaefd,#adaefd,#acadfd,#abadfd,#abacfd,#aaabfd,#a8aafd,#a7a8fd,#a6a7fd,#a4a5fd,#a1a2fd,#9e9ffd,#999bfd,#9293fd,#8c8dfd,#8789fc,#8385fc,#8183fc,#7f81fc,#7e80fc,#7d7ffc,#7d7efc,#7c7efc,#7b7dfc,#7a7cfc,#7a7cfc,#797bfc,#787afc,#787afc,#7779fc)"></i><i style="background:linear-gradient(90deg,#a5a6fd,#a6a7fd,#a7a8fd,#a7a8fd,#a7a8fd,#a7a8fd,#a6a7fd,#a5a6fd,#a4a5fd,#a2a4fd,#a1a3fd,#a1a2fd,#a0a1fd,#9e9ffd,#9b9cfd,#9496fd,#8f91fd,#8e8ffd,#8e90fd,#8f90fd,#8f91fd,#9394fd,#9899fd,#9d9ffd,#a3a4fd,#a8a9fd,#abacfd,#adaefd,#aeaffd,#afb0fd,#afb0fd,#afb0fd,#aeaffd,#aeaffd,#adaefd,#acadfd,#aaacfd,#a9aafd,#a7a8fd,#a5a6fd,#a2a4fd,#9fa0fd,#9a9bfd,#9394fd,#8d8efd,#8889fc,#8486fc,#8284fc,#8182fc,#7f81fc,#7e80fc,#7d7ffc,#7d7efc,#7c7efc,#7b7dfc,#7a7cfc,#797bfc,#797bfc,#787afc,#7779fc)"></i><i style="background:linear-gradient(90deg,#a8a9fd,#a9aafd,#aaabfd,#aaabfd,#aaabfd,#aaabfd,#a9aafd,#a8a9fd,#a6a8fd,#a5a7fd,#a4a5fd,#a3a4fd,#a1a3fd,#9ea0fd,#999afd,#9092fd,#8a8cfc,#888afc,#898bfc,#898bfc,#8a8cfc,#8e90fd,#9596fd,#9c9efd,#a4a5fd,#aaabfd,#adaffd,#b0b1fd,#b1b2fd,#b1b2fd,#b1b3fd,#b1b2fd,#b1b2fd,#b0b1fd,#afb0fd,#aeaffd,#acaefd,#abacfd,#a9aafd,#a6a8fd,#a4a5fd,#a0a1fd,#9b9cfd,#9496fd,#8e8ffd,#898bfc,#8687fc,#8385fc,#8284fc,#8082fc,#7f81fc,#7e80fc,#7d7ffc,#7c7efc,#7c7dfc,#7b7dfc,#7a7cfc,#797bfc,#787afc,#787afc)"></i><i style="background:linear-gradient(90deg,#abadfd,#adaefd,#adaffd,#aeaffd,#aeaffd,#adaefd,#acaefd,#abadfd,#aaabfd,#a9aafd,#a7a9fd,#a6a7fd,#a4a5fd,#a0a2fd,#989afd,#8e8ffd,#8788fc,#8587fc,#8688fc,#8688fc,#8789fc,#8b8dfd,#9394fd,#9d9efd,#a6a8fd,#adaefd,#b0b1fd,#b2b3fd,#b4b5fd,#b4b5fd,#b4b5fd,#b4b5fd,#b4b5fd,#b3b4fd,#b2b3fd,#b1b2fd,#afb0fd,#adaefd,#abacfd,#a8aafd,#a5a6fd,#a1a2fd,#9c9efd,#9597fd,#8f91fd,#8a8cfc,#8789fc,#8587fc,#8385fc,#8284fc,#8082fc,#7f81fc,#7e80fc,#7d7ffc,#7c7efc,#7b7dfc,#7a7cfc,#797bfc,#797bfc,#787afc)"></i><i style="background:linear-gradient(90deg,#afb0fd,#b0b2fd,#b1b3fd,#b2b3fd,#b2b3fd,#b2b3fd,#b1b2fd,#b0b1fd,#afb0fd,#adaefd,#acadfd,#aaacfd,#a8a9fd,#a4a5fd,#9a9bfd,#8e90fd,#8789fc,#8587fc,#8688fc,#8789fc,#888afc,#8c8efd,#9496fd,#a0a1fd,#aaabfd,#b0b2fd,#b4b5fd,#b6b7fd,#b7b8fd,#b7b8fd,#b8b9fd,#b7b8fd,#b7b8fd,#b6b7fd,#b5b6fd,#b4b5fd,#b2b3fd,#b0b1fd,#adaffd,#abacfd,#a7a8fd,#a3a4fd,#9e9ffd,#9798fd,#9192fd,#8c8efd,#898afc,#8688fc,#8486fc,#8385fc,#8283fc,#8082fc,#7f81fc,#7e80fc,#7d7ffc,#7c7efc,#7b7dfc,#7a7cfc,#797bfc,#787afc)"></i><i style="background:linear-gradient(90deg,#b3b4fd,#b5b6fd,#b6b7fd,#b6b8fd,#b7b8fd,#b6b8fd,#b6b7fd,#b5b6fd,#b4b5fd,#b3b4fd,#b1b3fd,#b0b1fd,#aeaffd,#a9abfd,#a0a1fd,#9395fd,#8c8efd,#8b8cfc,#8b8dfd,#8c8efd,#8d8ffd,#9193fd,#9a9cfd,#a7a8fd,#b0b1fd,#b5b6fd,#b8b9fd,#b9bafd,#babbfe,#bbbcfe,#bbbcfe,#bbbcfe,#bbbcfe,#babbfe,#b9bafd,#b7b8fd,#b5b6fd,#b3b4fd,#b0b1fd,#adaefd,#a9abfd,#a5a6fd,#9fa1fd,#999afd,#9294fd,#8e90fd,#8a8cfc,#888afc,#8688fc,#8486fc,#8385fc,#8283fc,#8082fc,#7f81fc,#7e80fc,#7d7efc,#7b7dfc,#7a7cfc,#797bfc,#797bfc)"></i><i style="background:linear-gradient(90deg,#b7b9fd,#babbfe,#bbbcfe,#bcbdfe,#bcbdfe,#bcbdfe,#bcbdfe,#bbbcfe,#bbbcfe,#babbfe,#b8b9fd,#b7b8fd,#b5b6fd,#b1b3fd,#aaacfd,#9fa0fd,#9899fd,#9698fd,#9698fd,#9799fd,#999afd,#9d9ffd,#a6a7fd,#b0b1fd,#b7b8fd,#babbfe,#bcbdfe,#bdbefe,#bebffe,#bfc0fe,#bfc0fe,#bfc0fe,#bfc0fe,#bebffe,#bdbefe,#bbbcfe,#b9bafd,#b6b7fd,#b3b4fd,#b0b1fd,#acadfd,#a7a8fd,#a1a3fd,#9b9cfd,#9496fd,#9091fd,#8c8efd,#8a8cfc,#8889fc,#8688fc,#8486fc,#8385fc,#8183fc,#8082fc,#7f80fc,#7d7ffc,#7c7efc,#7b7dfc,#7a7cfc,#797bfc)"></i><i style="background:linear-gradient(90deg,#bcbdfe,#bfc0fe,#c1c1fe,#c1c2fe,#c2c3fe,#c3c4fe,#c3c4fe,#c2c3fe,#c2c3fe,#c1c2fe,#c0c1fe,#bfc0fe,#bdbefe,#bbbcfe,#b8b9fd,#b0b1fd,#abacfd,#aaabfd,#a9aafd,#aaabfd,#abacfd,#afb0fd,#b5b6fd,#bbbcfe,#bebffe,#c0c1fe,#c1c2fe,#c2c3fe,#c3c4fe,#c3c4fe,#c4c4fe,#c4c4fe,#c3c4fe,#c3c4fe,#c1c2fe,#bfc0fe,#bdbefe,#babbfe,#b7b8fd,#b3b5fd,#afb0fd,#aaabfd,#a4a5fd,#9d9efd,#9798fd,#9293fd,#8e90fd,#8c8dfd,#8a8bfc,#8889fc,#8688fc,#8486fc,#8384fc,#8183fc,#8081fc,#7e80fc,#7d7ffc,#7b7dfc,#7a7cfc,#797bfc)"></i><i style="background:linear-gradient(90deg,#c1c2fe,#c4c5fe,#c7c7fe,#c8c9fe,#c9cafe,#cacbfe,#cbccfe,#cbccfe,#cbccfe,#cbccfe,#cacbfe,#c9cafe,#c8c9fe,#c7c8fe,#c5c6fe,#c2c3fe,#c0c1fe,#bfc0fe,#bfc0fe,#bfc0fe,#bfc0fe,#c0c1fe,#c3c4fe,#c5c5fe,#c5c6fe,#c6c7fe,#c7c7fe,#c7c8fe,#c8c9fe,#c8c9fe,#c9cafe,#c9cafe,#c9cafe,#c8c9fe,#c7c8fe,#c5c5fe,#c2c3fe,#bfc0fe,#bbbcfe,#b7b8fd,#b3b4fd,#adaffd,#a7a8fd,#a0a1fd,#999bfd,#9496fd,#9092fd,#8e8ffd,#8c8dfd,#8a8bfc,#8889fc,#8688fc,#8486fc,#8284fc,#8182fc,#7f81fc,#7d7ffc,#7c7efc,#7b7dfc,#7a7cfc)"></i><i style="background:linear-gradient(90deg,#c7c8fe,#cbcbfe,#cdcefe,#cfd0fe,#d1d2fe,#d3d3fe,#d4d4fe,#d5d5fe,#d5d6fe,#d6d6fe,#d5d6fe,#d5d5fe,#d4d5fe,#d3d4fe,#d3d3fe,#d1d2fe,#d1d1fe,#d0d1fe,#cfd0fe,#cecffe,#cecefe,#cecffe,#cecffe,#cecefe,#cdcefe,#cdcefe,#cdcefe,#cecffe,#cecffe,#cfcffe,#cfd0fe,#cfd0fe,#cfd0fe,#cecffe,#cdcdfe,#cacbfe,#c8c8fe,#c4c5fe,#c0c1fe,#bcbdfe,#b7b8fd,#b1b2fd,#abacfd,#a4a5fd,#9c9efd,#9798fd,#9395fd,#9092fd,#8e90fd,#8c8dfd,#8a8bfc,#8889fc,#8687fc,#8485fc,#8284fc,#8082fc,#7e80fc,#7d7ffc,#7b7dfc,#7a7cfc)"></i><i style="background:linear-gradient(90deg,#cecffe,#d1d2fe,#d5d5fe,#d7d8fe,#dadafe,#dcdcfe,#dedefe,#e0e0fe,#e1e1fe,#e2e2fe,#e2e2fe,#e2e2fe,#e1e2fe,#e1e1fe,#e0e1fe,#dfe0fe,#dedffe,#ddddfe,#dcdcfe,#dbdbfe,#dadafe,#d9d9fe,#d8d9fe,#d7d8fe,#d6d7fe,#d6d7fe,#d6d7fe,#d7d7fe,#d7d7fe,#d7d8fe,#d7d8fe,#d7d7fe,#d6d7fe,#d5d6fe,#d3d4fe,#d1d1fe,#cecefe,#cacafe,#c5c6fe,#c0c1fe,#bbbcfe,#b6b7fd,#afb0fd,#a8a9fd,#a0a2fd,#9a9cfd,#9697fd,#9394fd,#9092fd,#8e8ffd,#8c8dfd,#898bfc,#8789fc,#8587fc,#8385fc,#8183fc,#7f81fc,#7d7ffc,#7c7efc,#7b7dfc)"></i><i style="background:linear-gradient(90deg,#d5d5fe,#d9d9fe,#dcddfe,#e0e0fe,#e3e3fe,#e6e6fe,#e8e9ff,#ebecff,#edeeff,#efefff,#f0f0ff,#f0f0ff,#f0f0ff,#f0f0ff,#efefff,#eeeeff,#ececff,#eaeaff,#e9e9ff,#e7e8fe,#e6e6fe,#e4e5fe,#e3e4fe,#e2e3fe,#e2e2fe,#e2e2fe,#e2e2fe,#e2e2fe,#e2e2fe,#e2e2fe,#e1e2fe,#e0e1fe,#dfdffe,#ddddfe,#dbdbfe,#d8d8fe,#d4d5fe,#d0d1fe,#cbccfe,#c6c6fe,#c0c1fe,#babbfe,#b4b5fd,#acadfd,#a5a6fd,#9ea0fd,#999bfd,#9697fd,#9395fd,#9092fd,#8e8ffd,#8c8dfd,#898bfc,#8688fc,#8486fc,#8284fc,#8082fc,#7e80fc,#7c7efc,#7b7dfc)"></i><i style="background:linear-gradient(90deg,#dcdcfe,#e0e1fe,#e5e5fe,#e9e9ff,#ededff,#f1f1ff,#f5f5ff,#f8f8ff,#fbfbff,#fdfdff,#ffffff,#ffffff,#ffffff,#ffffff,#ffffff,#fefeff,#fdfdff,#fbfbff,#fafaff,#f8f8ff,#f6f6ff,#f4f4ff,#f3f3ff,#f2f2ff,#f2f2ff,#f2f2ff,#f2f2ff,#f1f1ff,#f0f1ff,#eff0ff,#eeeeff,#ebebff,#e8e9ff,#e6e6fe,#e3e3fe,#dfe0fe,#dbdcfe,#d6d7fe,#d1d2fe,#cbccfe,#c5c6fe,#bfc0fe,#b8b9fd,#b1b2fd,#a9abfd,#a3a4fd,#9d9efd,#999afd,#9697fd,#9395fd,#9092fd,#8e8ffd,#8b8dfc,#888afc,#8687fc,#8385fc,#8183fc,#7f81fc,#7d7ffc,#7c7dfc)"></i><i style="background:linear-gradient(90deg,#e3e4fe,#e9e9ff,#eeeeff,#f3f3ff,#f8f8ff,#fdfdff,#fffefe,#fffcfc,#fffbfb,#fff9f9,#fff8f8,#fff7f7,#fff6f6,#fff6f6,#fff6f6,#fff6f6,#fff6f6,#fff7f7,#fff8f8,#fff9f9,#fffafa,#fffbfb,#fffcfc,#fffcfc,#fffcfc,#fffcfc,#fffcfc,#fffdfd,#fffefe,#ffffff,#fcfcff,#f8f8ff,#f4f4ff,#eff0ff,#ebebff,#e7e7fe,#e2e3fe,#dddefe,#d7d8fe,#d1d2fe,#cbccfe,#c4c5fe,#bebefe,#b6b7fd,#aeaffd,#a7a8fd,#a1a3fd,#9d9efd,#999afd,#9698fd,#9395fd,#9092fd,#8d8ffd,#8a8cfc,#8789fc,#8486fc,#8284fc,#8081fc,#7e80fc,#7c7efc)"></i><i style="background:linear-gradient(90deg,#ebecff,#f1f2ff,#f7f8ff,#fdfdff,#fffdfd,#fffafa,#fff8f8,#fff5f5,#fef2f2,#fef0f0,#feeeee,#feeded,#feebeb,#feebeb,#feeaea,#feeaea,#feeaea,#feeaea,#feebeb,#feecec,#feeded,#feeeee,#feefef,#feefef,#feefef,#feefef,#feefef,#fef0f0,#fef2f2,#fff5f5,#fff8f8,#fffcfc,#ffffff,#fafaff,#f4f4ff,#efefff,#e9eaff,#e4e4fe,#dedefe,#d7d8fe,#d0d1fe,#cacafe,#c3c3fe,#bbbcfe,#b3b4fd,#acadfd,#a6a7fd,#a1a2fd,#9c9efd,#999afd,#9698fd,#9394fd,#8f91fd,#8c8efd,#888afc,#8687fc,#8385fc,#8082fc,#7e80fc,#7d7efc)"></i><i style="background:linear-gradient(90deg,#f4f4ff,#fafaff,#fffefe,#fffbfb,#fff7f7,#fef3f3,#fef0f0,#feecec,#feeaea,#fee7e7,#fee4e4,#fee2e2,#fee1e1,#fddfdf,#fddede,#fddede,#fddede,#fddede,#fddede,#fddede,#fddfdf,#fddfdf,#fddfdf,#fddfdf,#fddfdf,#fddfdf,#fde0e0,#fee1e1,#fee4e4,#fee8e8,#feeded,#fef2f2,#fff8f8,#fffcfc,#fefeff,#f7f7ff,#f1f1ff,#ebebff,#e4e4fe,#dddefe,#d6d7fe,#cfd0fe,#c8c9fe,#c0c1fe,#b8b9fd,#b1b2fd,#aaabfd,#a5a6fd,#a0a1fd,#9c9dfd,#999afd,#9597fd,#9193fd,#8e90fd,#8a8cfc,#8789fc,#8486fc,#8183fc,#7f81fc,#7d7ffc)"></i><i style="background:linear-gradient(90deg,#fcfcff,#fffdfd,#fff9f9,#fef4f4,#fef0f0,#feebeb,#fee7e7,#fee3e3,#fde0e0,#fddddd,#fdd9d9,#fdd7d7,#fdd5d5,#fdd3d3,#fdd2d2,#fdd2d2,#fdd1d1,#fdd0d0,#fdd0d0,#fdcfcf,#fdcfcf,#fdcfcf,#fdcfcf,#fdcfcf,#fdd0d0,#fdd0d0,#fdd2d2,#fdd3d3,#fdd7d7,#fddbdb,#fee1e1,#fee7e7,#feefef,#fff5f5,#fffbfb,#ffffff,#f8f8ff,#f1f1ff,#eaeaff,#e3e3fe,#dbdcfe,#d4d5fe,#cdcefe,#c5c6fe,#bdbefe,#b6b7fd,#afb0fd,#a9aafd,#a3a5fd,#9fa1fd,#9c9dfd,#989afd,#9496fd,#9092fd,#8c8efd,#888afc,#8587fc,#8284fc,#7f81fc,#7e7ffc)"></i><i style="background:linear-gradient(90deg,#fffcfc,#fff8f8,#fef2f2,#feeded,#fee8e8,#fee3e3,#fddede,#fdd9d9,#fdd4d4,#fdcfcf,#fccbcb,#fcc9c9,#fcc7c7,#fcc6c6,#fcc5c5,#fcc4c4,#fcc3c3,#fcc2c2,#fcc0c0,#fcbebe,#fcbdbd,#fcbdbd,#fcbdbd,#fcbfbf,#fcc1c1,#fcc3c3,#fcc6c6,#fcc8c8,#fdcccc,#fdd0d0,#fdd6d6,#fddddd,#fee5e5,#feeded,#fff5f5,#fffbfb,#ffffff,#f7f8ff,#f0f0ff,#e8e9ff,#e1e1fe,#d9dafe,#d2d2fe,#cacbfe,#c2c3fe,#babbfe,#b3b4fd,#adaefd,#a7a8fd,#a2a4fd,#9ea0fd,#9b9cfd,#9798fd,#9294fd,#8e90fd,#8a8cfc,#8688fc,#8385fc,#8082fc,#7e80fc)"></i><i style="background:linear-gradient(90deg,#fff7f7,#fef1f1,#feebeb,#fee5e5,#fddfdf,#fddada,#fdd3d3,#fdcdcd,#fcc6c6,#fcc0c0,#fcbcbc,#fcbaba,#fbb7b7,#fbb6b6,#fbb5b5,#fbb4b4,#fbb3b3,#fbb2b2,#fbb0b0,#fbaeae,#fbadad,#fbadad,#fbaeae,#fbb0b0,#fbb4b4,#fcb8b8,#fcbcbc,#fcbfbf,#fcc3c3,#fcc8c8,#fdcdcd,#fdd4d4,#fddcdc,#fee6e6,#feefef,#fff6f6,#fffcfc,#fdfeff,#f6f6ff,#eeeeff,#e5e6fe,#dedefe,#d6d7fe,#cecffe,#c6c7fe,#bebffe,#b7b8fd,#b0b2fd,#aaacfd,#a5a7fd,#a1a2fd,#9d9efd,#999bfd,#9496fd,#9092fd,#8b8dfd,#8789fc,#8486fc,#8183fc,#7e80fc)"></i><i style="background:linear-gradient(90deg,#fef0f0,#feeaea,#fee3e3,#fddddd,#fdd6d6,#fdcfcf,#fcc7c7,#fcbfbf,#fcb8b8,#fbb2b2,#fbadad,#fbaaaa,#fba7a7,#fba4a4,#faa2a2,#faa1a1,#faa0a0,#faa0a0,#faa0a0,#faa0a0,#faa0a0,#faa0a0,#faa1a1,#fba4a4,#fba8a8,#fbadad,#fbb3b3,#fcb8b8,#fcbdbd,#fcc1c1,#fcc6c6,#fdcdcd,#fdd5d5,#fddede,#fee8e8,#fef1f1,#fff8f8,#fffdfd,#fbfbff,#f3f3ff,#eaeaff,#e2e2fe,#dadbfe,#d3d3fe,#cbcbfe,#c3c3fe,#bbbcfe,#b4b5fd,#aeaffd,#a8a9fd,#a3a5fd,#9fa1fd,#9c9dfd,#9798fd,#9294fd,#8d8ffd,#898afc,#8586fc,#8183fc,#7f81fc)"></i><i style="background:linear-gradient(90deg,#fee9e9,#fee2e2,#fddcdc,#fdd5d5,#fdcdcd,#fcc4c4,#fcbbbb,#fbb2b2,#fbabab,#fba5a5,#faa0a0,#fa9b9b,#fa9696,#fa9292,#fa8f8f,#f98e8e,#f98f8f,#fa9090,#fa9292,#fa9393,#fa9494,#fa9595,#fa9797,#fa9999,#fa9e9e,#fba4a4,#fbabab,#fbb2b2,#fbb7b7,#fcbcbc,#fcc1c1,#fcc6c6,#fdcece,#fdd8d8,#fee3e3,#feecec,#fef4f4,#fffafa,#ffffff,#f7f7ff,#eeefff,#e6e6fe,#dedffe,#d6d7fe,#cecffe,#c6c7fe,#bfc0fe,#b7b9fd,#b1b2fd,#abacfd,#a6a7fd,#a1a3fd,#9d9ffd,#999bfd,#9496fd,#8f90fd,#8a8bfc,#8687fc,#8284fc,#7f81fc)"></i><i style="background:linear-gradient(90deg,#fee2e2,#fddbdb,#fdd4d4,#fdcccc,#fcc3c3,#fcbaba,#fbb0b0,#fba7a7,#faa0a0,#fa9b9b,#fa9595,#fa8f8f,#f98888,#f98282,#f97f7f,#f97f7f,#f98181,#f98383,#f98686,#f98888,#f98a8a,#f98c8c,#f98e8e,#fa9191,#fa9595,#fa9c9c,#fba3a3,#fbabab,#fbb2b2,#fbb7b7,#fcbcbc,#fcc2c2,#fcc9c9,#fdd3d3,#fddede,#fee8e8,#fef1f1,#fff7f7,#fffdfd,#fbfbff,#f2f2ff,#e9eaff,#e2e2fe,#dadafe,#d2d2fe,#cacafe,#c2c3fe,#bbbcfe,#b4b5fd,#adaffd,#a8a9fd,#a3a5fd,#9fa0fd,#9b9dfd,#9698fd,#9092fd,#8b8dfc,#8688fc,#8384fc,#8082fc)"></i><i style="background:linear-gradient(90deg,#fddbdb,#fdd5d5,#fdcdcd,#fcc4c4,#fcbbbb,#fbb1b1,#fba7a7,#fa9e9e,#fa9898,#fa9292,#f98c8c,#f98585,#f97d7d,#f87676,#f87373,#f87575,#f87878,#f97b7b,#f97d7d,#f97f7f,#f98282,#f98484,#f98787,#f98a8a,#f98f8f,#fa9595,#fa9d9d,#fba5a5,#fbadad,#fbb4b4,#fcb9b9,#fcbebe,#fcc6c6,#fdcfcf,#fddada,#fee4e4,#feeded,#fff5f5,#fffbfb,#fefeff,#f5f5ff,#ededff,#e5e5fe,#ddddfe,#d5d5fe,#cdcdfe,#c5c5fe,#bdbefe,#b6b7fd,#b0b1fd,#aaabfd,#a5a6fd,#a1a2fd,#9d9efd,#989afd,#9293fd,#8c8efd,#8789fc,#8385fc,#8082fc)"></i><i style="background:linear-gradient(90deg,#fdd6d6,#fdcfcf,#fcc7c7,#fcbebe,#fbb4b4,#fba9a9,#fa9f9f,#fa9898,#fa9292,#f98d8d,#f98686,#f97d7d,#f87575,#f87070,#f87070,#f87070,#f87474,#f87676,#f87777,#f87979,#f97b7b,#f97e7e,#f98181,#f98484,#f98989,#fa8f8f,#fa9797,#faa0a0,#fba9a9,#fbb0b0,#fbb6b6,#fcbcbc,#fcc3c3,#fdcdcd,#fdd7d7,#fee2e2,#feebeb,#fef2f2,#fff9f9,#fffefe,#f8f8ff,#efefff,#e7e8fe,#dfe0fe,#d7d8fe,#cfd0fe,#c7c8fe,#c0c0fe,#b8b9fd,#b2b3fd,#acadfd,#a7a8fd,#a2a3fd,#9e9ffd,#9a9bfd,#9395fd,#8d8ffd,#888afc,#8486fc,#8183fc)"></i><i style="background:linear-gradient(90deg,#fdd1d1,#fccaca,#fcc2c2,#fcb9b9,#fbaeae,#fba3a3,#fa9a9a,#fa9393,#f98e8e,#f98888,#f98181,#f87878,#f87070,#f87070,#f87070,#f87070,#f87272,#f87474,#f87373,#f87474,#f87777,#f87979,#f97c7c,#f98080,#f98585,#f98b8b,#fa9393,#fa9c9c,#fba5a5,#fbadad,#fbb4b4,#fcbaba,#fcc2c2,#fccbcb,#fdd6d6,#fde0e0,#fee9e9,#fef1f1,#fff8f8,#fffdfd,#fafaff,#f1f1ff,#e9eaff,#e1e2fe,#d9dafe,#d1d1fe,#c9cafe,#c1c2fe,#babbfe,#b3b4fd,#adaefd,#a8a9fd,#a3a4fd,#9fa0fd,#9b9dfd,#9596fd,#8e90fd,#898afc,#8486fc,#8183fc)"></i><i style="background:linear-gradient(90deg,#fdcece,#fcc7c7,#fcbfbf,#fbb5b5,#fbaaaa,#fa9f9f,#fa9696,#fa9090,#f98b8b,#f98686,#f97e7e,#f87676,#f87070,#f87070,#f87070,#f87070,#f87272,#f87373,#f87171,#f87272,#f87474,#f87676,#f87979,#f97d7d,#f98282,#f98989,#fa9191,#fa9999,#faa2a2,#fbaaaa,#fbb2b2,#fcb9b9,#fcc2c2,#fccbcb,#fdd5d5,#fddfdf,#fee8e8,#fef0f0,#fff7f7,#fffdfd,#fbfbff,#f2f3ff,#ebebff,#e3e3fe,#dadbfe,#d2d3fe,#cacbfe,#c3c4fe,#bcbdfe,#b5b6fd,#aeb0fd,#a9aafd,#a4a5fd,#a0a1fd,#9c9dfd,#9698fd,#8f91fd,#898bfc,#8586fc,#8183fc)"></i><i style="background:linear-gradient(90deg,#fdcccc,#fcc5c5,#fcbdbd,#fbb4b4,#fba8a8,#fa9d9d,#fa9494,#f98e8e,#f98a8a,#f98585,#f97e7e,#f87575,#f87070,#f87070,#f87070,#f87070,#f87373,#f87373,#f87171,#f87171,#f87373,#f87575,#f87878,#f97d7d,#f98282,#f98989,#fa9090,#fa9898,#faa1a1,#fba9a9,#fbb1b1,#fcbaba,#fcc3c3,#fccccc,#fdd5d5,#fddede,#fee8e8,#fef0f0,#fff7f7,#fffcfc,#fbfbff,#f3f3ff,#ebecff,#e3e4fe,#dbdcfe,#d3d3fe,#cbccfe,#c4c5fe,#bcbdfe,#b6b7fd,#afb0fd,#aaabfd,#a5a6fd,#a1a2fd,#9d9efd,#9798fd,#9091fd,#8a8bfc,#8587fc,#8283fc)"></i><i style="background:linear-gradient(90deg,#fccbcb,#fcc4c4,#fcbdbd,#fbb4b4,#fba8a8,#fa9d9d,#fa9393,#f98e8e,#f98b8b,#f98686,#f97f7f,#f87777,#f87070,#f87070,#f87070,#f87070,#f87474,#f87474,#f87373,#f87373,#f87474,#f87777,#f87a7a,#f97e7e,#f98383,#f98a8a,#fa9191,#fa9898,#faa1a1,#fba9a9,#fbb2b2,#fcbcbc,#fcc5c5,#fdcdcd,#fdd6d6,#fddfdf,#fee8e8,#fef0f0,#fff7f7,#fffdfd,#fbfbff,#f3f3ff,#ebebff,#e3e4fe,#dbdcfe,#d3d4fe,#cbccfe,#c4c5fe,#bdbefe,#b6b7fd,#b0b1fd,#aaabfd,#a5a7fd,#a1a2fd,#9d9efd,#9899fd,#9092fd,#8a8cfc,#8587fc,#8284fc)"></i><i style="background:linear-gradient(90deg,#fccbcb,#fcc5c5,#fcbebe,#fbb6b6,#fbaaaa,#fa9e9e,#fa9494,#fa8f8f,#f98c8c,#f98888,#f98282,#f87a7a,#f87373,#f87070,#f87070,#f87171,#f87575,#f87676,#f87676,#f87676,#f87878,#f87a7a,#f97d7d,#f98181,#f98787,#f98d8d,#fa9494,#fa9a9a,#faa3a3,#fbacac,#fbb5b5,#fcbfbf,#fcc8c8,#fdd0d0,#fdd8d8,#fee1e1,#feeaea,#fef2f2,#fff8f8,#fffefe,#fafaff,#f2f2ff,#eaeaff,#e3e3fe,#dbdbfe,#d3d3fe,#cbccfe,#c4c5fe,#bdbefe,#b6b7fd,#b0b1fd,#aaacfd,#a6a7fd,#a1a3fd,#9d9ffd,#989afd,#9092fd,#8a8cfc,#8587fc,#8284fc)"></i><i style="background:linear-gradient(90deg,#fdcccc,#fcc7c7,#fcc1c1,#fcb9b9,#fbaeae,#faa1a1,#fa9797,#fa9191,#f98e8e,#f98b8b,#f98686,#f97f7f,#f87979,#f87474,#f87373,#f87575,#f87979,#f97a7a,#f97b7b,#f97c7c,#f97d7d,#f97f7f,#f98282,#f98686,#f98c8c,#fa9292,#fa9898,#fa9e9e,#fba6a6,#fbb0b0,#fcbaba,#fcc4c4,#fccccc,#fdd3d3,#fddada,#fee3e3,#feecec,#fef4f4,#fffafa,#ffffff,#f8f8ff,#f0f0ff,#e8e9ff,#e1e2fe,#d9dafe,#d2d2fe,#cacbfe,#c3c4fe,#bcbdfe,#b6b7fd,#b0b1fd,#aaacfd,#a5a7fd,#a1a2fd,#9d9efd,#9899fd,#9092fd,#8a8cfc,#8587fc,#8284fc)"></i><i style="background:linear-gradient(90deg,#fdcece,#fccaca,#fcc4c4,#fcbdbd,#fbb3b3,#fba6a6,#fa9b9b,#fa9595,#fa9292,#fa8f8f,#f98b8b,#f98686,#f98080,#f97c7c,#f97b7b,#f97c7c,#f97f7f,#f98080,#f98282,#f98383,#f98585,#f98888,#f98a8a,#f98e8e,#fa9393,#fa9898,#fa9e9e,#fba4a4,#fbacac,#fbb6b6,#fcc0c0,#fcc9c9,#fdd0d0,#fdd7d7,#fddede,#fee6e6,#feefef,#fff6f6,#fffcfc,#fefeff,#f6f6ff,#eeeeff,#e6e7fe,#dfe0fe,#d8d8fe,#d0d1fe,#c9cafe,#c2c3fe,#bcbdfe,#b5b6fd,#afb1fd,#aaabfd,#a5a6fd,#a1a2fd,#9d9efd,#9798fd,#9091fd,#8a8bfc,#8587fc,#8283fc)"></i><i style="background:linear-gradient(90deg,#fdd1d1,#fdcece,#fcc9c9,#fcc3c3,#fcbaba,#fbaeae,#faa3a3,#fa9b9b,#fa9797,#fa9494,#fa9292,#f98e8e,#f98989,#f98686,#f98585,#f98686,#f98787,#f98989,#f98b8b,#f98d8d,#fa8f8f,#fa9292,#fa9595,#fa9898,#fa9c9c,#faa1a1,#fba6a6,#fbacac,#fbb4b4,#fcbebe,#fcc7c7,#fdcfcf,#fdd5d5,#fddbdb,#fee2e2,#feeaea,#fef2f2,#fff9f9,#fffefe,#fafaff,#f2f3ff,#ebebff,#e4e4fe,#dddefe,#d6d7fe,#cfcffe,#c8c8fe,#c1c2fe,#bbbcfe,#b5b6fd,#afb0fd,#a9abfd,#a5a6fd,#a0a2fd,#9c9efd,#9698fd,#8f91fd,#898bfc,#8586fc,#8183fc)"></i><i style="background:linear-gradient(90deg,#fdd6d6,#fdd3d3,#fdcfcf,#fccaca,#fcc3c3,#fcb8b8,#fbaeae,#fba5a5,#faa0a0,#fa9d9d,#fa9a9a,#fa9797,#fa9494,#fa9292,#fa9292,#fa9292,#fa9393,#fa9595,#fa9797,#fa9999,#fa9c9c,#fa9e9e,#faa1a1,#fba4a4,#fba7a7,#fbabab,#fbb0b0,#fbb6b6,#fcbebe,#fcc7c7,#fdcfcf,#fdd5d5,#fddada,#fddfdf,#fee6e6,#feeeee,#fff6f6,#fffcfc,#fdfdff,#f6f6ff,#efefff,#e8e8fe,#e1e1fe,#dadbfe,#d4d4fe,#cdcdfe,#c6c7fe,#bfc0fe,#b9bafd,#b3b4fd,#aeaffd,#a9aafd,#a4a5fd,#a0a1fd,#9b9dfd,#9597fd,#8e90fd,#898afc,#8486fc,#8183fc)"></i><i style="background:linear-gradient(90deg,#fddbdb,#fdd9d9,#fdd6d6,#fdd2d2,#fdcdcd,#fcc5c5,#fcbcbc,#fbb3b3,#fbadad,#fba9a9,#fba6a6,#fba4a4,#faa2a2,#faa0a0,#fa9f9f,#faa0a0,#faa1a1,#faa3a3,#fba5a5,#fba7a7,#fba9a9,#fbacac,#fbaeae,#fbb1b1,#fbb3b3,#fbb7b7,#fcbbbb,#fcc1c1,#fcc9c9,#fdd0d0,#fdd6d6,#fddada,#fddfdf,#fee4e4,#feebeb,#fef3f3,#fffafa,#ffffff,#f8f8ff,#f1f2ff,#ebebff,#e4e4fe,#dedefe,#d7d8fe,#d1d2fe,#cacbfe,#c4c4fe,#bdbefe,#b8b9fd,#b2b3fd,#adaefd,#a7a9fd,#a3a4fd,#9fa0fd,#9a9cfd,#9495fd,#8d8ffd,#888afc,#8486fc,#8183fc)"></i><i style="background:linear-gradient(90deg,#fee1e1,#fddfdf,#fddddd,#fddada,#fdd7d7,#fdd2d2,#fccbcb,#fcc5c5,#fcbebe,#fcbaba,#fbb7b7,#fbb5b5,#fbb3b3,#fbb2b2,#fbb0b0,#fbb0b0,#fbb2b2,#fbb2b2,#fbb3b3,#fbb5b5,#fbb7b7,#fcb9b9,#fcbaba,#fcbdbd,#fcc0c0,#fcc3c3,#fcc8c8,#fdcdcd,#fdd3d3,#fdd8d8,#fddcdc,#fddfdf,#fee4e4,#feeaea,#fef1f1,#fff9f9,#fffefe,#f9f9ff,#f2f3ff,#ececff,#e6e6fe,#e0e0fe,#dadafe,#d4d5fe,#cecffe,#c8c8fe,#c1c2fe,#bbbcfe,#b6b7fd,#b0b1fd,#abacfd,#a6a7fd,#a2a3fd,#9d9ffd,#999afd,#9294fd,#8d8efd,#8789fc,#8385fc,#8082fc)"></i><i style="background:linear-gradient(90deg,#fee9e9,#fee6e6,#fee4e4,#fee2e2,#fddfdf,#fddddd,#fddada,#fdd6d6,#fdd1d1,#fdcdcd,#fccbcb,#fcc7c7,#fcc5c5,#fcc4c4,#fcc2c2,#fcc2c2,#fcc2c2,#fcc2c2,#fcc2c2,#fcc3c3,#fcc4c4,#fcc5c5,#fcc7c7,#fcc9c9,#fdcccc,#fdd0d0,#fdd4d4,#fdd8d8,#fddcdc,#fddfdf,#fee2e2,#fee5e5,#feeaea,#fef1f1,#fff8f8,#fffefe,#f9f9ff,#f2f2ff,#ececff,#e7e7fe,#e1e1fe,#dbdcfe,#d6d6fe,#d0d1fe,#cbcbfe,#c5c5fe,#bfc0fe,#b9bafd,#b4b5fd,#aeb0fd,#a9abfd,#a5a6fd,#a0a1fd,#9c9dfd,#9698fd,#9192fd,#8b8dfd,#8788fc,#8385fc,#8082fc)"></i><i style="background:linear-gradient(90deg,#fef0f0,#feeeee,#feebeb,#fee9e9,#fee7e7,#fee6e6,#fee4e4,#fee3e3,#fde0e0,#fddddd,#fddcdc,#fdd9d9,#fdd7d7,#fdd6d6,#fdd5d5,#fdd3d3,#fdd2d2,#fdd1d1,#fdd1d1,#fdd1d1,#fdd1d1,#fdd2d2,#fdd4d4,#fdd7d7,#fdd9d9,#fddcdc,#fddede,#fee1e1,#fee3e3,#fee6e6,#fee9e9,#feeded,#fef2f2,#fff9f9,#ffffff,#f7f7ff,#f0f0ff,#eaebff,#e5e6fe,#e1e1fe,#dcdcfe,#d6d7fe,#d1d2fe,#cccdfe,#c7c8fe,#c1c2fe,#bcbdfe,#b7b8fd,#b1b2fd,#acaefd,#a7a9fd,#a3a4fd,#9ea0fd,#9a9bfd,#9496fd,#8f91fd,#8a8cfc,#8688fc,#8284fc,#8081fc)"></i><i style="background:linear-gradient(90deg,#fff7f7,#fff5f5,#fef3f3,#fef1f1,#feefef,#feeeee,#feeded,#feecec,#feeaea,#fee9e9,#fee7e7,#fee6e6,#fee5e5,#fee4e4,#fee3e3,#fee1e1,#fee1e1,#fde0e0,#fde0e0,#fde0e0,#fde0e0,#fee1e1,#fee2e2,#fee3e3,#fee5e5,#fee7e7,#fee8e8,#feeaea,#feecec,#feeeee,#fef2f2,#fff7f7,#fffcfc,#fcfcff,#f3f3ff,#ececff,#e7e8fe,#e3e3fe,#dfdffe,#dadbfe,#d6d6fe,#d1d2fe,#cdcefe,#c8c9fe,#c3c4fe,#bebffe,#b9bafd,#b4b5fd,#afb0fd,#aaabfd,#a5a7fd,#a1a2fd,#9c9efd,#9899fd,#9294fd,#8d8ffd,#898bfc,#8587fc,#8284fc,#7f81fc)"></i><i style="background:linear-gradient(90deg,#fffdfd,#fffcfc,#fffafa,#fff8f8,#fff7f7,#fff6f6,#fef4f4,#fef3f3,#fef2f2,#fef2f2,#fef1f1,#fef0f0,#feefef,#feefef,#feeeee,#feeeee,#feeeee,#feeded,#feeeee,#feeeee,#feefef,#feefef,#fef0f0,#fef0f0,#fef1f1,#fef2f2,#fef3f3,#fef4f4,#fff7f7,#fff9f9,#fffdfd,#fcfdff,#f4f4ff,#ecedff,#e6e7fe,#e2e2fe,#dfdffe,#dcdcfe,#d8d8fe,#d4d4fe,#d0d0fe,#cccdfe,#c8c9fe,#c4c5fe,#bfc0fe,#bbbcfe,#b6b7fd,#b1b2fd,#acadfd,#a8a9fd,#a3a4fd,#9fa0fd,#9a9cfd,#9597fd,#9092fd,#8b8dfd,#8889fc,#8486fc,#8183fc,#7f81fc)"></i><i style="background:linear-gradient(90deg,#f8f8ff,#fafaff,#fdfdff,#ffffff,#fffefe,#fffdfd,#fffcfc,#fffbfb,#fffafa,#fffafa,#fff9f9,#fff8f8,#fff8f8,#fff8f8,#fff8f8,#fff8f8,#fff8f8,#fff8f8,#fff9f9,#fffafa,#fffafa,#fffafa,#fffbfb,#fffbfb,#fffcfc,#fffcfc,#fffdfd,#ffffff,#fcfcff,#f6f6ff,#f1f1ff,#eaeaff,#e3e4fe,#dedffe,#dbdbfe,#d9d9fe,#d7d8fe,#d4d5fe,#d1d1fe,#cdcefe,#cacafe,#c6c7fe,#c3c4fe,#bfc0fe,#bbbcfe,#b7b8fd,#b2b3fd,#aeaffd,#a9abfd,#a5a6fd,#a1a2fd,#9c9efd,#9899fd,#9395fd,#8e90fd,#8a8cfc,#8688fc,#8385fc,#8082fc,#7e80fc)"></i><i style="background:linear-gradient(90deg,#ededff,#eeefff,#f1f1ff,#f3f3ff,#f5f5ff,#f7f7ff,#f9f9ff,#fafaff,#fcfcff,#fdfdff,#fefeff,#fefeff,#fefeff,#fefeff,#fefeff,#fefeff,#fefeff,#fdfdff,#fcfcff,#fbfbff,#fbfbff,#fafaff,#f8f9ff,#f7f7ff,#f6f6ff,#f3f4ff,#f1f1ff,#ededff,#e9e9ff,#e5e5fe,#e3e3fe,#dcddfe,#d6d7fe,#d2d3fe,#d0d1fe,#d0d0fe,#d0d0fe,#cdcefe,#c9cafe,#c6c7fe,#c3c4fe,#c1c1fe,#bebffe,#bbbbfe,#b7b8fd,#b3b4fd,#afb0fd,#abacfd,#a6a8fd,#a2a4fd,#9e9ffd,#9a9bfd,#9597fd,#9192fd,#8c8efd,#888afc,#8587fc,#8284fc,#8081fc,#7d7ffc)"></i><i style="background:linear-gradient(90deg,#e2e3fe,#e3e3fe,#e5e5fe,#e6e7fe,#e8e8fe,#e9e9ff,#eaebff,#ecedff,#eeeeff,#efefff,#eff0ff,#f0f0ff,#f0f0ff,#f0f1ff,#f0f1ff,#f0f0ff,#f0f0ff,#eff0ff,#efefff,#eeefff,#edeeff,#ecedff,#eaeaff,#e8e9ff,#e7e7fe,#e3e3fe,#e0e0fe,#dcddfe,#d9dafe,#dadbfe,#dbdcfe,#d2d3fe,#cbccfe,#c8c9fe,#c7c8fe,#c8c8fe,#c8c9fe,#c6c7fe,#c2c3fe,#c0c1fe,#bdbefe,#bbbcfe,#b9bafd,#b6b7fd,#b2b4fd,#afb0fd,#abacfd,#a7a8fd,#a3a5fd,#9fa1fd,#9b9dfd,#9798fd,#9395fd,#8f90fd,#8b8cfc,#8789fc,#8486fc,#8183fc,#7f80fc,#7c7dfc)"></i><i style="background:linear-gradient(90deg,#dadbfe,#dbdbfe,#dcdcfe,#ddddfe,#dedefe,#dfdffe,#e0e0fe,#e1e2fe,#e3e3fe,#e4e4fe,#e4e5fe,#e5e5fe,#e5e6fe,#e6e6fe,#e6e6fe,#e6e6fe,#e6e6fe,#e6e6fe,#e5e5fe,#e4e5fe,#e4e4fe,#e2e2fe,#e0e0fe,#dedefe,#dbdbfe,#d7d8fe,#d3d4fe,#d0d1fe,#cfd0fe,#d4d4fe,#d7d7fe,#cccdfe,#c4c5fe,#c2c3fe,#c2c3fe,#c2c3fe,#c3c4fe,#c1c2fe,#bdbefe,#bbbcfe,#b9bafd,#b7b8fd,#b4b5fd,#b2b3fd,#afb0fd,#acadfd,#a8a9fd,#a4a6fd,#a1a2fd,#9d9efd,#999afd,#9596fd,#9193fd,#8d8ffd,#898bfc,#8688fc,#8385fc,#8082fc,#7d7ffc,#7a7cfc)"></i></div><div class="cf" style="left:451.0px;top:441.8px;width:294.8px;height:161.1px"><i style="background:linear-gradient(90deg,#797bfc,#7e80fc,#8284fc,#8688fc,#8a8cfc,#8f91fd,#9596fd,#999afd,#9c9dfd,#9c9efd,#9a9bfd,#9698fd,#9394fd,#8f91fd,#8d8ffd,#8a8cfc,#8788fc,#8587fc,#8789fc,#8c8efd,#9496fd,#9d9ffd,#a9aafd,#b6b7fd,#c4c5fe,#d0d1fe,#dedefe,#efefff,#ffffff,#fff8f8,#fef0f0,#fee7e7,#fddddd,#fdd4d4,#fccbcb,#fcc4c4,#fcc0c0,#fcc0c0,#fcc5c5,#fdcccc,#fdd5d5,#fddfdf,#fee9e9,#fef4f4,#fffdfd,#f4f4ff,#e5e5fe,#d5d6fe,#c5c6fe,#b6b7fd,#a8aafd,#9d9efd,#9193fd,#888afc,#8284fc,#7e80fc,#7b7dfc,#7a7cfc,#787afc,#787afc)"></i><i style="background:linear-gradient(90deg,#7b7dfc,#7f81fc,#8485fc,#888afc,#8d8efd,#9394fd,#9899fd,#9c9dfd,#9e9ffd,#9fa0fd,#9d9efd,#9a9bfd,#9698fd,#9395fd,#9092fd,#8e8ffd,#8a8cfc,#898bfc,#8c8dfd,#9193fd,#999bfd,#a2a4fd,#aeaffd,#bcbdfe,#c9cafe,#d6d7fe,#e5e5fe,#f7f7ff,#fffbfb,#fef3f3,#feecec,#fee2e2,#fdd7d7,#fdcdcd,#fcc5c5,#fcc0c0,#fcbdbd,#fcbdbd,#fcc2c2,#fcc9c9,#fdd2d2,#fddcdc,#fee7e7,#fef2f2,#fffcfc,#f7f7ff,#e7e7fe,#d7d7fe,#c5c6fe,#b6b7fd,#a8aafd,#9d9efd,#9193fd,#888afc,#8284fc,#7e80fc,#7c7efc,#7a7cfc,#797bfc,#787afc)"></i><i style="background:linear-gradient(90deg,#7c7efc,#8183fc,#8587fc,#8a8cfc,#9091fd,#9698fd,#9b9dfd,#9ea0fd,#a1a2fd,#a1a3fd,#a0a1fd,#9d9ffd,#9a9cfd,#9799fd,#9496fd,#9293fd,#8f91fd,#8e90fd,#9193fd,#9798fd,#9fa0fd,#a8aafd,#b4b5fd,#c2c3fe,#d0d0fe,#dddefe,#eeeeff,#fffefe,#fff6f6,#feeeee,#fee6e6,#fddbdb,#fdcfcf,#fcc5c5,#fcbfbf,#fcbbbb,#fcb9b9,#fcbaba,#fcbebe,#fcc5c5,#fdcece,#fdd9d9,#fee4e4,#fef0f0,#fffafa,#f9f9ff,#eaeaff,#d9d9fe,#c6c7fe,#b6b7fd,#a9aafd,#9d9efd,#9193fd,#898afc,#8385fc,#7f81fc,#7d7ffc,#7b7dfc,#7a7cfc,#787afc)"></i><i style="background:linear-gradient(90deg,#7e80fc,#8384fc,#8789fc,#8c8efd,#9395fd,#999bfd,#9e9ffd,#a1a2fd,#a3a4fd,#a4a5fd,#a3a4fd,#a1a2fd,#9ea0fd,#9b9dfd,#999afd,#9698fd,#9496fd,#9496fd,#9799fd,#9d9ffd,#a6a7fd,#afb0fd,#bbbcfe,#c9cafe,#d7d8fe,#e5e6fe,#f8f8ff,#fffafa,#fef1f1,#feeaea,#fee0e0,#fdd4d4,#fcc6c6,#fcbebe,#fcb8b8,#fbb6b6,#fbb6b6,#fbb7b7,#fcbbbb,#fcc2c2,#fccbcb,#fdd6d6,#fee2e2,#feeeee,#fff9f9,#fcfcff,#ecedff,#dbdcfe,#c8c9fe,#b8b9fd,#aaabfd,#9d9ffd,#9293fd,#8a8bfc,#8486fc,#8082fc,#7e80fc,#7c7efc,#7a7cfc,#797bfc)"></i><i style="background:linear-gradient(90deg,#8082fc,#8486fc,#898bfc,#8f91fd,#9698fd,#9c9efd,#a0a1fd,#a3a4fd,#a5a7fd,#a6a8fd,#a6a7fd,#a5a6fd,#a3a4fd,#a0a2fd,#9e9ffd,#9c9dfd,#9b9cfd,#9b9dfd,#9fa0fd,#a5a6fd,#adaefd,#b7b8fd,#c3c4fe,#d1d2fe,#dfe0fe,#efefff,#fffefe,#fef4f4,#feecec,#fee4e4,#fddada,#fccaca,#fcbebe,#fbb6b6,#fbb2b2,#fbb1b1,#fbb1b1,#fbb4b4,#fbb7b7,#fcbebe,#fcc8c8,#fdd3d3,#fddfdf,#feebeb,#fff7f7,#ffffff,#efefff,#dedefe,#cacbfe,#b9bafd,#abacfd,#9ea0fd,#9495fd,#8b8dfc,#8587fc,#8284fc,#7f81fc,#7d7ffc,#7b7dfc,#797bfc)"></i><i style="background:linear-gradient(90deg,#8183fc,#8587fc,#8b8dfc,#9293fd,#999bfd,#9fa0fd,#a2a4fd,#a5a7fd,#a8a9fd,#a9aafd,#a9aafd,#a8aafd,#a7a8fd,#a6a7fd,#a4a5fd,#a3a4fd,#a3a4fd,#a4a6fd,#a8a9fd,#aeaffd,#b6b7fd,#c0c1fe,#cdcefe,#dbdbfe,#e9e9ff,#fafaff,#fff8f8,#feeeee,#fee7e7,#fddede,#fdd1d1,#fcc0c0,#fbb5b5,#fbaeae,#fbabab,#fbabab,#fbadad,#fbafaf,#fbb4b4,#fcbbbb,#fcc5c5,#fdd1d1,#fddddd,#feeaea,#fff5f5,#fffefe,#f2f2ff,#e0e1fe,#cdcefe,#bcbdfe,#aeaffd,#a0a2fd,#9697fd,#8d8efd,#8789fc,#8385fc,#8082fc,#7e80fc,#7c7efc,#7a7cfc)"></i><i style="background:linear-gradient(90deg,#8284fc,#8688fc,#8d8efd,#9596fd,#9c9dfd,#a1a2fd,#a4a6fd,#a8a9fd,#aaabfd,#acadfd,#acaefd,#acaefd,#acadfd,#abadfd,#abacfd,#abacfd,#acadfd,#aeaffd,#b2b3fd,#b8b9fd,#c0c1fe,#cbccfe,#d8d8fe,#e5e5fe,#f3f3ff,#fffdfd,#fef2f2,#fee9e9,#fee2e2,#fdd7d7,#fcc7c7,#fbb7b7,#fbacac,#fba7a7,#fba5a5,#fba5a5,#fba8a8,#fbabab,#fbb0b0,#fcb8b8,#fcc2c2,#fdcece,#fddbdb,#fee8e8,#fef4f4,#fffdfd,#f4f4ff,#e3e3fe,#d0d1fe,#bfc0fe,#b0b2fd,#a3a4fd,#9899fd,#8f91fd,#898bfc,#8587fc,#8183fc,#7f81fc,#7c7efc,#7b7dfc)"></i><i style="background:linear-gradient(90deg,#8385fc,#888afc,#8f90fd,#9799fd,#9e9ffd,#a2a4fd,#a6a8fd,#aaabfd,#adaefd,#afb0fd,#b0b1fd,#b0b2fd,#b1b2fd,#b1b3fd,#b2b3fd,#b3b4fd,#b5b6fd,#b8b9fd,#bdbefe,#c3c4fe,#ccccfe,#d7d7fe,#e2e3fe,#efefff,#fefeff,#fff7f7,#feecec,#fee4e4,#fddcdc,#fdcfcf,#fcbcbc,#fbadad,#fba5a5,#faa0a0,#fa9f9f,#faa0a0,#faa3a3,#fba7a7,#fbadad,#fbb5b5,#fcc0c0,#fdcccc,#fdd9d9,#fee6e6,#fef2f2,#fffcfc,#f6f6ff,#e5e5fe,#d3d3fe,#c2c3fe,#b4b5fd,#a6a8fd,#9a9cfd,#9293fd,#8c8dfd,#8789fc,#8385fc,#8082fc,#7d7ffc,#7b7dfc)"></i><i style="background:linear-gradient(90deg,#8486fc,#8a8bfc,#9192fd,#9a9bfd,#a0a1fd,#a4a6fd,#a8aafd,#acadfd,#afb0fd,#b1b2fd,#b3b4fd,#b5b6fd,#b6b7fd,#b8b9fd,#b9bafd,#bcbdfe,#bebffe,#c2c3fe,#c8c8fe,#cfd0fe,#d8d8fe,#e2e3fe,#edeeff,#fafaff,#fffafa,#fef0f0,#fee6e6,#fddfdf,#fdd6d6,#fcc5c5,#fbb3b3,#fba5a5,#fa9e9e,#fa9a9a,#fa9999,#fa9b9b,#fa9e9e,#fba3a3,#fbaaaa,#fbb3b3,#fcbebe,#fccbcb,#fdd8d8,#fee4e4,#fef0f0,#fffbfb,#f7f7ff,#e7e7fe,#d5d6fe,#c6c6fe,#b7b9fd,#aaabfd,#9e9ffd,#9596fd,#8f90fd,#898bfc,#8587fc,#8183fc,#7e80fc,#7c7efc)"></i><i style="background:linear-gradient(90deg,#8587fc,#8b8cfc,#9395fd,#9c9dfd,#a1a3fd,#a6a7fd,#aaabfd,#aeaffd,#b1b3fd,#b4b5fd,#b7b8fd,#b9bafd,#bbbcfe,#bebffe,#c1c2fe,#c4c5fe,#c8c8fe,#cdcdfe,#d3d3fe,#dadbfe,#e3e4fe,#ededff,#f8f8ff,#fffdfd,#fef4f4,#feeaea,#fee1e1,#fdd9d9,#fdcece,#fcbcbc,#fba9a9,#fa9d9d,#fa9797,#fa9595,#fa9494,#fa9696,#fa9a9a,#faa0a0,#fba8a8,#fbb1b1,#fcbdbd,#fcc9c9,#fdd6d6,#fee3e3,#feefef,#fffafa,#f9f9ff,#e8e8ff,#d8d8fe,#c9cafe,#bbbcfe,#aeaffd,#a2a3fd,#989afd,#9293fd,#8b8dfd,#8789fc,#8385fc,#7f81fc,#7d7ffc)"></i><i style="background:linear-gradient(90deg,#8688fc,#8c8efd,#9597fd,#9d9ffd,#a3a4fd,#a8a9fd,#acadfd,#b0b1fd,#b4b5fd,#b7b8fd,#bbbcfe,#bebffe,#c1c2fe,#c4c5fe,#c8c9fe,#cccdfe,#d1d2fe,#d7d7fe,#dedefe,#e5e6fe,#eeeeff,#f7f7ff,#fffefe,#fff7f7,#feeeee,#fee4e4,#fddcdc,#fdd4d4,#fcc6c6,#fbb2b2,#fa9f9f,#fa9696,#fa9292,#fa9090,#fa8f8f,#fa9191,#fa9696,#fa9d9d,#fba6a6,#fbb0b0,#fcbcbc,#fcc8c8,#fdd5d5,#fee2e2,#feeeee,#fff9f9,#fafaff,#e9e9ff,#dadafe,#ccccfe,#bebffe,#b1b2fd,#a5a6fd,#9c9dfd,#9596fd,#8e90fd,#898bfc,#8486fc,#8182fc,#7e80fc)"></i><i style="background:linear-gradient(90deg,#8788fc,#8d8ffd,#9798fd,#9ea0fd,#a4a5fd,#a9aafd,#aeaffd,#b2b3fd,#b6b7fd,#babbfe,#bebffe,#c2c3fe,#c6c7fe,#cbcbfe,#cfd0fe,#d4d5fe,#dadbfe,#e1e1fe,#e8e8ff,#f0f0ff,#f8f9ff,#fffefe,#fff9f9,#fef1f1,#fee7e7,#fddede,#fdd7d7,#fdcfcf,#fcbdbd,#fba6a6,#fa9696,#fa8f8f,#f98c8c,#f98a8a,#f98b8b,#f98d8d,#fa9393,#fa9b9b,#fba4a4,#fbafaf,#fcbbbb,#fcc8c8,#fdd5d5,#fee1e1,#feeded,#fff9f9,#fafaff,#eaeaff,#dbdcfe,#cecffe,#c1c2fe,#b5b6fd,#a9aafd,#9fa1fd,#989afd,#9193fd,#8b8dfd,#8688fc,#8284fc,#7f81fc)"></i><i style="background:linear-gradient(90deg,#8889fc,#8f90fd,#989afd,#a0a1fd,#a5a7fd,#aaacfd,#afb1fd,#b4b5fd,#b9bafd,#bebffe,#c2c3fe,#c7c8fe,#cccdfe,#d1d2fe,#d7d7fe,#ddddfe,#e3e4fe,#ebebff,#f3f3ff,#fafbff,#fffefe,#fff9f9,#fef2f2,#fee9e9,#fde0e0,#fdd9d9,#fdd3d3,#fcc8c8,#fbb2b2,#fa9999,#f98c8c,#f98787,#f98585,#f98585,#f98787,#f98b8b,#fa9191,#fa9999,#faa3a3,#fbafaf,#fcbbbb,#fcc7c7,#fdd4d4,#fee1e1,#feeded,#fff8f8,#fbfbff,#eaebff,#dcddfe,#d0d0fe,#c4c5fe,#b8b9fd,#acadfd,#a2a4fd,#9b9dfd,#9596fd,#8e8ffd,#888afc,#8385fc,#8082fc)"></i><i style="background:linear-gradient(90deg,#898afc,#9091fd,#9a9bfd,#a1a2fd,#a6a8fd,#acadfd,#b1b2fd,#b6b7fd,#bcbdfe,#c1c2fe,#c6c7fe,#cccdfe,#d2d3fe,#d8d8fe,#dedffe,#e6e6fe,#ededff,#f5f5ff,#fdfdff,#fffcfc,#fff8f8,#fef2f2,#feeaea,#fee2e2,#fdd9d9,#fdd3d3,#fdcdcd,#fcbebe,#faa2a2,#f98c8c,#f98282,#f97f7f,#f97f7f,#f98080,#f98484,#f98989,#fa8f8f,#fa9898,#faa2a2,#fbafaf,#fcbbbb,#fcc7c7,#fdd4d4,#fee1e1,#feeded,#fff8f8,#fbfbff,#ebebff,#ddddfe,#d1d2fe,#c6c7fe,#babbfe,#aeb0fd,#a5a6fd,#9e9ffd,#9899fd,#9092fd,#8a8cfc,#8586fc,#8183fc)"></i><i style="background:linear-gradient(90deg,#898bfc,#9193fd,#9b9cfd,#a2a3fd,#a7a9fd,#adaefd,#b2b4fd,#b8b9fd,#bebffe,#c4c5fe,#cbccfe,#d1d2fe,#d8d8fe,#dfdffe,#e6e7fe,#efefff,#f8f8ff,#ffffff,#fffbfb,#fff6f6,#fef1f1,#feeaea,#fee2e2,#fdd9d9,#fdd2d2,#fdcdcd,#fcc5c5,#fbb0b0,#fa9191,#f97e7e,#f87878,#f87878,#f87979,#f97c7c,#f98181,#f98888,#fa8f8f,#fa9797,#faa2a2,#fbafaf,#fcbbbb,#fcc8c8,#fdd5d5,#fee1e1,#feeded,#fff8f8,#fbfbff,#ebebff,#dddefe,#d2d3fe,#c7c8fe,#bcbdfe,#b1b2fd,#a7a9fd,#a0a2fd,#9b9cfd,#9395fd,#8c8efd,#8688fc,#8284fc)"></i><i style="background:linear-gradient(90deg,#8a8cfc,#9294fd,#9c9dfd,#a2a4fd,#a8a9fd,#aeaffd,#b4b5fd,#babbfe,#c1c2fe,#c8c9fe,#cfd0fe,#d6d7fe,#dedefe,#e6e6fe,#efefff,#f9f9ff,#fffefe,#fff9f9,#fef4f4,#feefef,#fee8e8,#fee1e1,#fdd8d8,#fdd0d0,#fccaca,#fcc5c5,#fcbaba,#fa9d9d,#f98181,#f87373,#f87171,#f87272,#f87474,#f87979,#f98080,#f98888,#fa8f8f,#fa9898,#faa3a3,#fbb0b0,#fcbcbc,#fcc8c8,#fdd5d5,#fee2e2,#feeded,#fff9f9,#fafaff,#eaebff,#dddefe,#d3d3fe,#c8c9fe,#bdbefe,#b3b4fd,#aaabfd,#a2a4fd,#9d9efd,#9698fd,#8e90fd,#8889fc,#8384fc)"></i><i style="background:linear-gradient(90deg,#8a8cfc,#9395fd,#9d9efd,#a3a4fd,#a9aafd,#afb0fd,#b5b6fd,#bcbdfe,#c3c4fe,#cbccfe,#d3d4fe,#dcdcfe,#e4e5fe,#eeeeff,#f8f8ff,#fffefe,#fff8f8,#fef3f3,#feeded,#fee7e7,#fddfdf,#fdd7d7,#fdcece,#fcc7c7,#fcc1c1,#fcbbbb,#fbaaaa,#f98a8a,#f87474,#f87070,#f87070,#f87070,#f87171,#f87777,#f97f7f,#f98888,#fa9090,#fa9898,#fba3a3,#fbb1b1,#fcbdbd,#fcc9c9,#fdd6d6,#fee3e3,#feeeee,#fff9f9,#f9f9ff,#eaeaff,#dddefe,#d3d4fe,#c9cafe,#bebffe,#b4b5fd,#abacfd,#a4a5fd,#9ea0fd,#999afd,#9092fd,#898bfc,#8385fc)"></i><i style="background:linear-gradient(90deg,#8a8cfc,#9395fd,#9d9efd,#a3a5fd,#aaabfd,#b0b1fd,#b7b8fd,#bebffe,#c6c7fe,#cfcffe,#d8d8fe,#e1e1fe,#eaebff,#f5f6ff,#fffefe,#fff8f8,#fef2f2,#feecec,#fee5e5,#fddede,#fdd6d6,#fccccc,#fcc3c3,#fcbdbd,#fcb8b8,#fbb0b0,#fa9999,#f97c7c,#f87070,#f87070,#f87070,#f87070,#f87070,#f87676,#f98080,#f98a8a,#fa9191,#fa9999,#fba5a5,#fbb3b3,#fcbfbf,#fccbcb,#fdd8d8,#fee4e4,#fef0f0,#fffafa,#f8f8ff,#e9e9ff,#ddddfe,#d3d3fe,#c9cafe,#bfc0fe,#b5b6fd,#acaefd,#a5a7fd,#a0a1fd,#9b9cfd,#9294fd,#8a8cfc,#8486fc)"></i><i style="background:linear-gradient(90deg,#8a8cfc,#9395fd,#9d9ffd,#a4a5fd,#aaabfd,#b1b2fd,#b8b9fd,#c0c1fe,#c9c9fe,#d2d3fe,#dcdcfe,#e6e6fe,#f1f1ff,#fdfdff,#fffafa,#fef3f3,#feecec,#fee6e6,#fddfdf,#fdd7d7,#fdcccc,#fcc1c1,#fcb9b9,#fbb4b4,#fbafaf,#fba4a4,#f98d8d,#f87575,#f87070,#f87070,#f87070,#f87070,#f87171,#f87878,#f98181,#f98c8c,#fa9393,#fa9b9b,#fba7a7,#fbb5b5,#fcc2c2,#fdcece,#fddada,#fee7e7,#fef2f2,#fffcfc,#f6f6ff,#e8e8fe,#dcddfe,#d3d3fe,#c9cafe,#bfc0fe,#b6b7fd,#adaefd,#a6a8fd,#a1a2fd,#9c9dfd,#9495fd,#8b8cfc,#8586fc)"></i><i style="background:linear-gradient(90deg,#8a8cfc,#9395fd,#9d9ffd,#a4a5fd,#abacfd,#b2b3fd,#b9bafd,#c1c2fe,#cbccfe,#d5d6fe,#e0e0fe,#eaeaff,#f6f6ff,#fffdfd,#fff6f6,#feeeee,#fee7e7,#fde0e0,#fdd8d8,#fdcfcf,#fcc4c4,#fcb8b8,#fbb1b1,#fbadad,#fba8a8,#fa9c9c,#f98686,#f87373,#f87070,#f87070,#f87070,#f87070,#f87474,#f97b7b,#f98585,#fa8f8f,#fa9696,#fa9e9e,#fbaaaa,#fcb8b8,#fcc5c5,#fdd1d1,#fddede,#feeaea,#fef4f4,#fffdfd,#f4f4ff,#e6e7fe,#dcdcfe,#d2d3fe,#c9c9fe,#bfc0fe,#b6b7fd,#aeaffd,#a7a8fd,#a1a3fd,#9d9efd,#9597fd,#8b8dfd,#8587fc)"></i><i style="background:linear-gradient(90deg,#8a8cfc,#9395fd,#9d9ffd,#a4a6fd,#abacfd,#b2b3fd,#babbfe,#c3c4fe,#cdcefe,#d8d8fe,#e3e3fe,#eeefff,#fbfbff,#fffafa,#fef2f2,#feeaea,#fee3e3,#fddbdb,#fdd3d3,#fcc9c9,#fcbdbd,#fbb1b1,#fbabab,#fba7a7,#faa2a2,#fa9797,#f98585,#f87575,#f87070,#f87070,#f87171,#f87676,#f87a7a,#f98181,#f98a8a,#fa9393,#fa9a9a,#faa2a2,#fbaeae,#fcbdbd,#fccaca,#fdd6d6,#fee2e2,#feeded,#fff6f6,#fffefe,#f2f2ff,#e5e5fe,#dadbfe,#d1d2fe,#c8c9fe,#bebffe,#b5b7fd,#aeaffd,#a7a8fd,#a2a3fd,#9d9efd,#9597fd,#8b8dfd,#8587fc)"></i><i style="background:linear-gradient(90deg,#8a8cfc,#9395fd,#9d9ffd,#a4a6fd,#abadfd,#b3b4fd,#bbbcfe,#c5c5fe,#cfd0fe,#dadbfe,#e6e6fe,#f2f2ff,#ffffff,#fff8f8,#feefef,#fee7e7,#fde0e0,#fdd8d8,#fdcfcf,#fcc4c4,#fcb8b8,#fbadad,#fba7a7,#faa3a3,#fa9e9e,#fa9595,#f98888,#f97a7a,#f87575,#f87575,#f87979,#f97e7e,#f98383,#f98989,#fa9292,#fa9a9a,#faa0a0,#fba8a8,#fbb4b4,#fcc3c3,#fdd0d0,#fddbdb,#fee7e7,#fef1f1,#fff9f9,#fdfeff,#eff0ff,#e3e3fe,#d9d9fe,#d0d1fe,#c7c8fe,#bebffe,#b5b6fd,#adaefd,#a7a8fd,#a1a3fd,#9d9efd,#9597fd,#8b8dfd,#8587fc)"></i><i style="background:linear-gradient(90deg,#8a8cfc,#9395fd,#9d9ffd,#a4a6fd,#acadfd,#b4b5fd,#bcbdfe,#c6c7fe,#d1d2fe,#ddddfe,#e8e9ff,#f5f5ff,#fffefe,#fff6f6,#feeded,#fee5e5,#fddddd,#fdd5d5,#fdcccc,#fcc1c1,#fbb5b5,#fbabab,#fba5a5,#faa1a1,#fa9d9d,#fa9696,#f98c8c,#f98282,#f97e7e,#f97f7f,#f98484,#f98989,#f98e8e,#fa9494,#fa9b9b,#faa2a2,#fba8a8,#fbb0b0,#fcbdbd,#fccbcb,#fdd7d7,#fee2e2,#feecec,#fef5f5,#fffbfb,#fafaff,#ecedff,#e0e1fe,#d7d8fe,#cfcffe,#c6c7fe,#bcbdfe,#b4b5fd,#acadfd,#a6a7fd,#a1a2fd,#9d9efd,#9597fd,#8b8dfd,#8587fc)"></i><i style="background:linear-gradient(90deg,#8a8cfc,#9395fd,#9d9ffd,#a4a6fd,#acadfd,#b4b5fd,#bdbefe,#c7c8fe,#d3d3fe,#dedffe,#eaebff,#f6f7ff,#fffdfd,#fff5f5,#feecec,#fee4e4,#fddcdc,#fdd3d3,#fccaca,#fcc0c0,#fbb5b5,#fbacac,#fba6a6,#faa1a1,#fa9d9d,#fa9898,#fa9292,#f98b8b,#f98888,#f98b8b,#fa9090,#fa9595,#fa9a9a,#faa0a0,#fba6a6,#fbacac,#fbb1b1,#fcbaba,#fcc7c7,#fdd4d4,#fddfdf,#fee8e8,#fef1f1,#fff8f8,#fffefe,#f6f6ff,#e9e9ff,#dddefe,#d5d5fe,#cdcdfe,#c4c5fe,#bbbcfe,#b2b3fd,#abacfd,#a5a6fd,#a0a2fd,#9c9efd,#9496fd,#8b8dfc,#8586fc)"></i><i style="background:linear-gradient(90deg,#8a8cfc,#9395fd,#9d9efd,#a4a6fd,#acadfd,#b5b6fd,#bebffe,#c9c9fe,#d4d5fe,#e0e0fe,#ececff,#f8f8ff,#fffdfd,#fff5f5,#feecec,#fee3e3,#fddbdb,#fdd3d3,#fccaca,#fcc1c1,#fbb7b7,#fbafaf,#fba8a8,#fba4a4,#faa0a0,#fa9c9c,#fa9898,#fa9494,#fa9393,#fa9797,#fa9c9c,#faa2a2,#fba8a8,#fbadad,#fbb2b2,#fbb6b6,#fcbcbc,#fcc6c6,#fdd2d2,#fddddd,#fee6e6,#feefef,#fff6f6,#fffbfb,#fefeff,#f2f2ff,#e5e5fe,#dadafe,#d1d2fe,#cacbfe,#c1c2fe,#b8b9fd,#b0b1fd,#a9aafd,#a4a5fd,#9fa1fd,#9b9dfd,#9395fd,#8a8cfc,#8486fc)"></i><i style="background:linear-gradient(90deg,#8a8cfc,#9395fd,#9d9efd,#a4a6fd,#adaefd,#b5b6fd,#bfc0fe,#cacafe,#d5d6fe,#e1e1fe,#ededff,#f8f8ff,#fffdfd,#fff5f5,#feecec,#fee3e3,#fddbdb,#fdd3d3,#fccbcb,#fcc3c3,#fcbbbb,#fbb3b3,#fbadad,#fba8a8,#fba4a4,#faa1a1,#fa9f9f,#fa9e9e,#fa9f9f,#faa3a3,#fba9a9,#fbaeae,#fbb4b4,#fcb8b8,#fcbcbc,#fcc1c1,#fcc8c8,#fdd3d3,#fddddd,#fee6e6,#feeeee,#fef5f5,#fff9f9,#fffdfd,#fafaff,#ededff,#e0e0fe,#d5d6fe,#cdcefe,#c6c7fe,#bebffe,#b5b6fd,#adaefd,#a7a8fd,#a2a3fd,#9ea0fd,#9a9bfd,#9193fd,#898bfc,#8485fc)"></i><i style="background:linear-gradient(90deg,#8a8cfc,#9394fd,#9d9efd,#a4a6fd,#adaefd,#b6b7fd,#c0c1fe,#cbcbfe,#d6d7fe,#e2e2fe,#edeeff,#f8f9ff,#fffdfd,#fff6f6,#feeded,#fee4e4,#fddcdc,#fdd4d4,#fdcdcd,#fcc7c7,#fcc0c0,#fcb9b9,#fbb3b3,#fbadad,#fbaaaa,#fba8a8,#fba7a7,#fba7a7,#fbaaaa,#fbaeae,#fbb3b3,#fcb8b8,#fcbdbd,#fcc1c1,#fcc6c6,#fdcccc,#fdd4d4,#fddede,#fee7e7,#feeeee,#fef4f4,#fff9f9,#fffcfc,#fefeff,#f4f4ff,#e6e7fe,#dadafe,#d0d0fe,#c9c9fe,#c2c2fe,#babbfe,#b1b2fd,#aaabfd,#a4a5fd,#a0a1fd,#9c9efd,#9899fd,#8f91fd,#888afc,#8385fc)"></i><i style="background:linear-gradient(90deg,#8a8cfc,#9293fd,#9c9efd,#a5a6fd,#adaefd,#b6b7fd,#c0c1fe,#cbccfe,#d7d7fe,#e2e3fe,#eeeeff,#f8f8ff,#fffdfd,#fff7f7,#feefef,#fee6e6,#fddddd,#fdd6d6,#fdd1d1,#fccbcb,#fcc5c5,#fcbfbf,#fcbaba,#fbb5b5,#fbb2b2,#fbb0b0,#fbb0b0,#fbb1b1,#fbb4b4,#fcb8b8,#fcbcbc,#fcc0c0,#fcc5c5,#fccaca,#fdd0d0,#fdd7d7,#fde0e0,#fee8e8,#feefef,#fef5f5,#fff9f9,#fffcfc,#fffefe,#f9f9ff,#ededff,#dfdffe,#d2d3fe,#c9cafe,#c3c4fe,#bcbdfe,#b4b5fd,#adaefd,#a6a7fd,#a1a2fd,#9e9ffd,#9a9cfd,#9596fd,#8d8ffd,#8789fc,#8284fc)"></i><i style="background:linear-gradient(90deg,#8a8bfc,#9193fd,#9c9efd,#a5a6fd,#aeaffd,#b7b8fd,#c1c2fe,#cccdfe,#d8d8fe,#e3e3fe,#eeeeff,#f8f8ff,#fffefe,#fff8f8,#fef1f1,#fee8e8,#fde0e0,#fdd9d9,#fdd4d4,#fdd0d0,#fccccc,#fcc7c7,#fcc2c2,#fcbebe,#fcbbbb,#fcb9b9,#fcb9b9,#fcbaba,#fcbdbd,#fcc0c0,#fcc4c4,#fcc9c9,#fdcece,#fdd4d4,#fddbdb,#fee2e2,#feeaea,#fef0f0,#fff6f6,#fff9f9,#fffcfc,#fffefe,#fbfbff,#f1f1ff,#e3e4fe,#d5d6fe,#cacafe,#c2c3fe,#bcbdfe,#b6b7fd,#afb0fd,#a8a9fd,#a2a3fd,#9e9ffd,#9b9cfd,#9799fd,#9193fd,#8b8dfc,#8587fc,#8183fc)"></i><i style="background:linear-gradient(90deg,#8a8cfc,#9294fd,#9c9efd,#a5a6fd,#aeaffd,#b8b9fd,#c2c3fe,#cdcefe,#d8d9fe,#e3e3fe,#edeeff,#f7f7ff,#ffffff,#fffafa,#fef3f3,#feebeb,#fee3e3,#fddcdc,#fdd9d9,#fdd5d5,#fdd2d2,#fdcfcf,#fccbcb,#fcc8c8,#fcc5c5,#fcc3c3,#fcc3c3,#fcc5c5,#fcc7c7,#fccaca,#fdcece,#fdd3d3,#fdd9d9,#fde0e0,#fee6e6,#feeded,#fef3f3,#fff7f7,#fffbfb,#fffdfd,#ffffff,#fafaff,#f2f2ff,#e6e6fe,#d7d8fe,#cacafe,#c0c1fe,#babbfe,#b5b6fd,#afb0fd,#a9aafd,#a2a4fd,#9e9ffd,#9a9cfd,#9799fd,#9395fd,#8e90fd,#898bfc,#8486fc,#8082fc)"></i><i style="background:linear-gradient(90deg,#8b8cfc,#9395fd,#9d9efd,#a6a7fd,#afb0fd,#b8b9fd,#c3c3fe,#cecefe,#d9d9fe,#e3e4fe,#ededff,#f6f6ff,#fefeff,#fffbfb,#fff5f5,#feeded,#fee6e6,#fde0e0,#fddddd,#fddbdb,#fdd9d9,#fdd7d7,#fdd5d5,#fdd2d2,#fdd1d1,#fdd0d0,#fdd0d0,#fdd1d1,#fdd3d3,#fdd7d7,#fddbdb,#fee1e1,#fee6e6,#feecec,#fef2f2,#fff6f6,#fffafa,#fffdfd,#ffffff,#fcfcff,#f8f8ff,#f1f1ff,#e6e7fe,#d8d9fe,#c9cafe,#bfbffe,#b8b9fd,#b2b3fd,#aeaffd,#a8a9fd,#a2a4fd,#9d9ffd,#999bfd,#9697fd,#9395fd,#8f91fd,#8b8dfd,#8789fc,#8384fc,#7f81fc)"></i><i style="background:linear-gradient(90deg,#8c8dfd,#9495fd,#9e9ffd,#a6a8fd,#b0b1fd,#b9bafd,#c3c4fe,#cecffe,#d9dafe,#e4e4fe,#ededff,#f5f5ff,#fcfcff,#fffdfd,#fff8f8,#fef1f1,#feeaea,#fee5e5,#fee1e1,#fde0e0,#fddfdf,#fddede,#fddede,#fddddd,#fddddd,#fddddd,#fddede,#fde0e0,#fee3e3,#fee7e7,#feebeb,#feefef,#fef4f4,#fff7f7,#fffbfb,#fffdfd,#ffffff,#fbfbff,#f8f8ff,#f3f4ff,#edeeff,#e4e4fe,#d7d8fe,#c8c9fe,#bcbdfe,#b4b5fd,#afb0fd,#abacfd,#a6a8fd,#a1a3fd,#9c9efd,#989afd,#9597fd,#9293fd,#8f91fd,#8c8efd,#898afc,#8587fc,#8183fc,#7e80fc)"></i><i style="background:linear-gradient(90deg,#8d8ffd,#9597fd,#9ea0fd,#a7a9fd,#b1b2fd,#babbfe,#c4c5fe,#cfd0fe,#dadafe,#e4e4fe,#ecedff,#f4f4ff,#fafaff,#fffefe,#fffafa,#fef4f4,#feeeee,#feeaea,#fee7e7,#fee5e5,#fee5e5,#fee5e5,#fee6e6,#fee8e8,#fee9e9,#feeaea,#feeded,#feefef,#fef3f3,#fff6f6,#fff8f8,#fffbfb,#fffdfd,#ffffff,#fcfcff,#f9f9ff,#f5f6ff,#f2f2ff,#eeeeff,#e8e9ff,#e0e0fe,#d4d5fe,#c7c7fe,#babbfe,#b1b2fd,#abacfd,#a7a8fd,#a3a5fd,#9fa1fd,#9b9dfd,#9799fd,#9496fd,#9193fd,#8e90fd,#8c8efd,#898bfc,#8688fc,#8385fc,#8082fc,#7e7ffc)"></i><i style="background:linear-gradient(90deg,#8f91fd,#9798fd,#a0a1fd,#a9aafd,#b2b3fd,#bcbdfe,#c5c6fe,#d0d1fe,#dadbfe,#e4e4fe,#ececff,#f2f3ff,#f8f8ff,#fefeff,#fffcfc,#fff8f8,#fef3f3,#feefef,#feecec,#feebeb,#feecec,#feeded,#feefef,#fef2f2,#fef4f4,#fff6f6,#fff9f9,#fffcfc,#fffefe,#ffffff,#fcfcff,#f9f9ff,#f6f6ff,#f4f4ff,#f1f1ff,#eeeeff,#ebebff,#e7e7fe,#e2e2fe,#dadbfe,#d0d1fe,#c4c5fe,#b8b9fd,#aeb0fd,#a7a9fd,#a3a4fd,#9fa1fd,#9d9efd,#999bfd,#9697fd,#9394fd,#9092fd,#8e8ffd,#8b8dfc,#898bfc,#8688fc,#8486fc,#8183fc,#7f81fc,#7d7ffc)"></i><i style="background:linear-gradient(90deg,#9193fd,#999afd,#a1a3fd,#aaacfd,#b4b5fd,#bdbefe,#c7c7fe,#d1d1fe,#dbdcfe,#e4e5fe,#ececff,#f1f1ff,#f6f6ff,#fbfbff,#ffffff,#fffbfb,#fff8f8,#fff5f5,#fef3f3,#fef3f3,#fef4f4,#fff6f6,#fff8f8,#fffbfb,#fffdfd,#ffffff,#fafbff,#f7f7ff,#f4f4ff,#f1f1ff,#eeefff,#ededff,#ebebff,#e8e9ff,#e6e7fe,#e3e4fe,#e0e0fe,#dbdcfe,#d4d5fe,#cbccfe,#c1c2fe,#b6b7fd,#adaefd,#a5a6fd,#9fa0fd,#9b9dfd,#999afd,#9798fd,#9496fd,#9293fd,#8f91fd,#8d8efd,#8a8cfc,#888afc,#8688fc,#8486fc,#8284fc,#8082fc,#7e80fc,#7c7efc)"></i><i style="background:linear-gradient(90deg,#9496fd,#9b9dfd,#a3a5fd,#acaefd,#b6b7fd,#bfc0fe,#c8c9fe,#d2d2fe,#dcdcfe,#e5e5fe,#ebecff,#f0f0ff,#f4f4ff,#f8f8ff,#fcfcff,#ffffff,#fffdfd,#fffbfb,#fffafa,#fffbfb,#fffcfc,#fffefe,#fcfcff,#f7f7ff,#f1f1ff,#edeeff,#e9e9ff,#e7e7fe,#e5e6fe,#e4e4fe,#e2e3fe,#e1e2fe,#e0e0fe,#dedefe,#dbdcfe,#d8d9fe,#d4d4fe,#cecffe,#c6c7fe,#bebffe,#b5b6fd,#acadfd,#a4a6fd,#9d9ffd,#989afd,#9697fd,#9495fd,#9293fd,#9091fd,#8e8ffd,#8c8dfd,#8a8bfc,#8889fc,#8587fc,#8486fc,#8284fc,#8082fc,#7f80fc,#7d7ffc,#7b7dfc)"></i><i style="background:linear-gradient(90deg,#9899fd,#9e9ffd,#a6a7fd,#afb0fd,#b8b9fd,#c1c2fe,#cacafe,#d3d4fe,#ddddfe,#e5e5fe,#ebebff,#efefff,#f2f2ff,#f5f5ff,#f7f7ff,#fafaff,#fcfcff,#fefeff,#fdfdff,#fafbff,#f6f6ff,#f1f1ff,#eaeaff,#e2e2fe,#dadbfe,#d7d8fe,#d5d6fe,#d5d6fe,#d6d7fe,#d7d7fe,#d7d7fe,#d6d7fe,#d5d5fe,#d3d4fe,#d0d1fe,#cdcdfe,#c8c9fe,#c2c3fe,#bbbcfe,#b3b4fd,#acadfd,#a5a6fd,#9e9ffd,#9899fd,#9395fd,#9192fd,#8f90fd,#8d8ffd,#8c8efd,#8b8cfc,#898bfc,#8789fc,#8587fc,#8385fc,#8284fc,#8082fc,#7f81fc,#7d7ffc,#7c7efc,#7a7cfc)"></i><i style="background:linear-gradient(90deg,#9c9dfd,#a1a2fd,#a9aafd,#b1b2fd,#babbfe,#c3c4fe,#cbccfe,#d4d5fe,#dddefe,#e6e6fe,#ebebff,#eeeeff,#f0f0ff,#f2f2ff,#f3f3ff,#f4f4ff,#f5f5ff,#f4f4ff,#f1f1ff,#ededff,#e7e7fe,#e0e0fe,#d6d7fe,#c9c9fe,#c2c3fe,#c0c1fe,#c1c1fe,#c3c4fe,#c7c8fe,#c9cafe,#cbccfe,#cbccfe,#cacbfe,#c8c9fe,#c6c7fe,#c2c3fe,#bdbefe,#b8b9fd,#b2b3fd,#abacfd,#a5a6fd,#a0a1fd,#999bfd,#9495fd,#8f91fd,#8d8efd,#8b8dfc,#8a8cfc,#898bfc,#888afc,#8688fc,#8486fc,#8385fc,#8183fc,#8082fc,#7f81fc,#7e7ffc,#7c7efc,#7b7dfc,#7a7cfc)"></i><i style="background:linear-gradient(90deg,#9fa1fd,#a4a6fd,#acadfd,#b4b5fd,#bdbefe,#c5c6fe,#cdcdfe,#d5d6fe,#dedffe,#e6e7fe,#ebebff,#edeeff,#efefff,#eff0ff,#eff0ff,#efefff,#eeeeff,#ebebff,#e6e7fe,#e1e1fe,#dadafe,#d0d1fe,#c2c3fe,#b6b7fd,#b0b1fd,#afb0fd,#b0b1fd,#b4b5fd,#b8b9fd,#bcbdfe,#c0c1fe,#c1c2fe,#c1c2fe,#bfc0fe,#bdbefe,#b9bafd,#b5b6fd,#b0b1fd,#aaacfd,#a5a6fd,#a1a2fd,#9c9efd,#9698fd,#9092fd,#8c8efd,#8a8bfc,#888afc,#8789fc,#8789fc,#8687fc,#8486fc,#8284fc,#8183fc,#8081fc,#7e80fc,#7d7ffc,#7c7efc,#7b7dfc,#7a7cfc,#797bfc)"></i><i style="background:linear-gradient(90deg,#a3a5fd,#a8a9fd,#afb0fd,#b8b9fd,#c0c1fe,#c7c8fe,#cfcffe,#d7d7fe,#dfe0fe,#e7e7fe,#ebebff,#ededff,#eeeeff,#edeeff,#ecedff,#ebebff,#e8e8fe,#e3e4fe,#dedefe,#d7d7fe,#cecffe,#c2c3fe,#b4b5fd,#a9aafd,#a5a6fd,#a3a5fd,#a4a5fd,#a8a9fd,#acadfd,#b1b2fd,#b5b6fd,#b8b9fd,#b8b9fd,#b7b8fd,#b5b6fd,#b2b3fd,#afb0fd,#aaabfd,#a5a7fd,#a1a3fd,#9e9ffd,#9a9cfd,#9394fd,#8d8ffd,#8a8bfc,#8789fc,#8688fc,#8587fc,#8586fc,#8385fc,#8284fc,#8082fc,#7f81fc,#7e80fc,#7d7ffc,#7c7efc,#7b7dfc,#7a7cfc,#797bfc,#797afc)"></i><i style="background:linear-gradient(90deg,#a8a9fd,#acaefd,#b3b4fd,#bbbcfe,#c3c4fe,#cacafe,#d1d1fe,#d9d9fe,#e1e1fe,#e8e8fe,#ececff,#edeeff,#edeeff,#ecedff,#eaebff,#e7e8fe,#e4e4fe,#dedffe,#d7d8fe,#cfd0fe,#c6c6fe,#b9bafd,#a9abfd,#a0a1fd,#9e9ffd,#9b9dfd,#9a9cfd,#9e9ffd,#a2a3fd,#a7a8fd,#acadfd,#b0b1fd,#b1b2fd,#b1b2fd,#afb1fd,#adaefd,#aaabfd,#a6a7fd,#a2a4fd,#9fa1fd,#9d9efd,#999bfd,#9092fd,#8b8cfc,#8789fc,#8587fc,#8486fc,#8385fc,#8384fc,#8183fc,#8082fc,#7f81fc,#7e80fc,#7d7ffc,#7c7efc,#7b7dfc,#7a7cfc,#7a7cfc,#797bfc,#787afc)"></i><i style="background:linear-gradient(90deg,#adaefd,#b1b2fd,#b8b9fd,#bfc0fe,#c6c7fe,#cccdfe,#d3d4fe,#dbdbfe,#e3e3fe,#e9eaff,#ededff,#eeeeff,#eeeeff,#ececff,#e9eaff,#e6e6fe,#e1e2fe,#dbdcfe,#d3d4fe,#cacbfe,#c0c1fe,#b3b4fd,#a3a5fd,#9b9cfd,#999afd,#9496fd,#9293fd,#9697fd,#9a9cfd,#9fa0fd,#a5a6fd,#aaabfd,#acadfd,#acadfd,#abacfd,#a9abfd,#a7a8fd,#a4a5fd,#a1a2fd,#9fa0fd,#9d9efd,#9a9bfd,#9193fd,#8b8dfd,#8789fc,#8486fc,#8385fc,#8284fc,#8183fc,#8082fc,#7f81fc,#7e7ffc,#7d7ffc,#7c7efc,#7b7dfc,#7b7dfc,#7a7cfc,#797bfc,#797bfc,#787afc)"></i><i style="background:linear-gradient(90deg,#b2b3fd,#b6b7fd,#bcbdfe,#c3c4fe,#cacbfe,#d0d1fe,#d6d7fe,#dedefe,#e5e5fe,#ebecff,#efefff,#eff0ff,#efefff,#ededff,#eaeaff,#e6e6fe,#e1e1fe,#dadbfe,#d2d2fe,#c8c8fe,#bdbefe,#b1b2fd,#a2a3fd,#9899fd,#9596fd,#8f91fd,#8b8dfc,#9192fd,#9697fd,#9a9bfd,#a1a2fd,#a6a7fd,#a8aafd,#a9abfd,#a9aafd,#a8a9fd,#a6a7fd,#a3a5fd,#a1a2fd,#9fa1fd,#9e9ffd,#9b9dfd,#9495fd,#8e90fd,#898bfc,#8687fc,#8485fc,#8284fc,#8183fc,#8081fc,#7f80fc,#7e7ffc,#7d7ffc,#7c7efc,#7c7dfc,#7b7dfc,#7a7cfc,#7a7cfc,#797bfc,#797bfc)"></i><i style="background:linear-gradient(90deg,#b7b8fd,#bcbdfe,#c2c3fe,#c8c9fe,#cecffe,#d4d5fe,#dadbfe,#e1e2fe,#e8e9ff,#eeeeff,#f1f1ff,#f2f2ff,#f1f1ff,#efefff,#ececff,#e7e8fe,#e2e3fe,#dbdcfe,#d2d3fe,#c8c9fe,#bdbefe,#b3b4fd,#a5a7fd,#999bfd,#9496fd,#8e8ffd,#8a8cfc,#9092fd,#9597fd,#999bfd,#9fa1fd,#a4a6fd,#a7a8fd,#a8aafd,#a8aafd,#a8a9fd,#a6a8fd,#a5a6fd,#a3a4fd,#a1a2fd,#a0a1fd,#9d9ffd,#9798fd,#9193fd,#8c8dfd,#8789fc,#8587fc,#8485fc,#8284fc,#8183fc,#8082fc,#7f81fc,#7e80fc,#7d7ffc,#7d7ffc,#7c7efc,#7b7dfc,#7b7cfc,#7a7cfc,#797bfc)"></i><i style="background:linear-gradient(90deg,#bdbefe,#c2c3fe,#c8c9fe,#cecffe,#d4d4fe,#d9d9fe,#dfe0fe,#e6e6fe,#ededff,#f2f2ff,#f5f5ff,#f5f5ff,#f4f4ff,#f2f2ff,#efefff,#ebebff,#e5e6fe,#dfdffe,#d6d6fe,#cbccfe,#c1c2fe,#b9bafd,#adaffd,#a1a2fd,#999afd,#9293fd,#9091fd,#9496fd,#999afd,#9c9efd,#a1a3fd,#a6a7fd,#a8a9fd,#a9abfd,#aaabfd,#a9abfd,#a8aafd,#a7a8fd,#a6a7fd,#a4a6fd,#a3a4fd,#a0a1fd,#9b9cfd,#9596fd,#8e90fd,#898bfc,#8688fc,#8587fc,#8486fc,#8385fc,#8283fc,#8082fc,#8081fc,#7f81fc,#7e80fc,#7d7ffc,#7c7efc,#7c7dfc,#7b7dfc,#7a7cfc)"></i><i style="background:linear-gradient(90deg,#c4c5fe,#c9cafe,#cfcffe,#d4d5fe,#dadafe,#dfe0fe,#e5e6fe,#ececff,#f3f3ff,#f7f7ff,#f9f9ff,#f9f9ff,#f8f9ff,#f6f7ff,#f4f4ff,#f0f0ff,#eaebff,#e4e4fe,#dcdcfe,#d2d3fe,#c9cafe,#c1c2fe,#b9bafd,#aeb0fd,#a5a6fd,#9d9efd,#9b9dfd,#9d9efd,#a0a2fd,#a3a4fd,#a6a8fd,#a9abfd,#acadfd,#adaefd,#adaefd,#adaefd,#acadfd,#abacfd,#aaabfd,#a9aafd,#a7a8fd,#a4a5fd,#9fa0fd,#989afd,#9293fd,#8c8efd,#898afc,#8789fc,#8688fc,#8587fc,#8485fc,#8284fc,#8183fc,#8082fc,#7f81fc,#7e80fc,#7d7ffc,#7d7ffc,#7c7efc,#7b7dfc)"></i><i style="background:linear-gradient(90deg,#cbccfe,#d0d1fe,#d6d7fe,#dcdcfe,#e1e1fe,#e6e7fe,#ededff,#f4f4ff,#f9f9ff,#fdfdff,#ffffff,#ffffff,#fefeff,#fcfcff,#fafaff,#f6f6ff,#f2f2ff,#ebecff,#e4e4fe,#dbdcfe,#d3d3fe,#cccdfe,#c6c7fe,#bebffe,#b6b7fd,#aeaffd,#abacfd,#abacfd,#abadfd,#acaefd,#aeaffd,#b0b1fd,#b1b2fd,#b2b3fd,#b2b3fd,#b2b3fd,#b2b3fd,#b1b2fd,#b0b1fd,#aeaffd,#acadfd,#a9aafd,#a4a5fd,#9d9efd,#9697fd,#9092fd,#8c8efd,#8a8bfc,#898bfc,#8889fc,#8688fc,#8486fc,#8385fc,#8284fc,#8183fc,#8082fc,#7f81fc,#7e80fc,#7d7ffc,#7c7efc)"></i><i style="background:linear-gradient(90deg,#d2d3fe,#d8d8fe,#dedefe,#e3e4fe,#e9e9ff,#f0f0ff,#f6f7ff,#fdfdff,#fffefe,#fffdfd,#fffcfc,#fffcfc,#fffcfc,#fffdfd,#fffefe,#fefeff,#fafaff,#f5f5ff,#eeeeff,#e6e7fe,#dfdffe,#d9d9fe,#d3d4fe,#cecefe,#c8c8fe,#c1c2fe,#bdbefe,#babbfe,#b9bafd,#b8b9fd,#b8b9fd,#b9bafd,#b9bafd,#b9bafd,#b9bafd,#b9bafd,#b9bafd,#b8b9fd,#b6b7fd,#b4b5fd,#b2b3fd,#aeb0fd,#a9abfd,#a3a4fd,#9b9dfd,#9596fd,#9092fd,#8d8ffd,#8c8dfd,#8a8cfc,#898afc,#8789fc,#8687fc,#8486fc,#8385fc,#8284fc,#8082fc,#7f81fc,#7e80fc,#7d7ffc)"></i><i style="background:linear-gradient(90deg,#d9dafe,#dfe0fe,#e6e6fe,#ececff,#f3f3ff,#fafaff,#ffffff,#fffcfc,#fff9f9,#fff8f8,#fff7f7,#fff7f7,#fff7f7,#fff8f8,#fff9f9,#fffbfb,#fffdfd,#ffffff,#fafaff,#f4f4ff,#ededff,#e7e7fe,#e2e2fe,#dddefe,#d8d9fe,#d3d4fe,#cecffe,#cacbfe,#c8c9fe,#c6c7fe,#c5c6fe,#c4c5fe,#c3c4fe,#c3c3fe,#c2c3fe,#c2c3fe,#c1c2fe,#c0c1fe,#bebffe,#bcbdfe,#b9bafd,#b5b6fd,#b0b1fd,#a9abfd,#a2a3fd,#9a9cfd,#9596fd,#9193fd,#8f90fd,#8d8ffd,#8c8dfd,#8a8bfc,#888afc,#8788fc,#8587fc,#8486fc,#8284fc,#8183fc,#8081fc,#7e80fc)"></i><i style="background:linear-gradient(90deg,#e0e1fe,#e7e7fe,#eeeeff,#f5f5ff,#fdfdff,#fffdfd,#fff9f9,#fff6f6,#fef3f3,#fef1f1,#fef0f0,#fef0f0,#fef0f0,#fef1f1,#fef2f2,#fef3f3,#fff6f6,#fff8f8,#fffbfb,#fffdfd,#fdfdff,#f7f7ff,#f2f2ff,#eeeeff,#eaeaff,#e7e7fe,#e1e2fe,#dedefe,#dbdbfe,#d7d8fe,#d5d5fe,#d2d3fe,#d1d1fe,#cfd0fe,#cecffe,#cccdfe,#cbccfe,#c9cafe,#c7c8fe,#c4c5fe,#c1c2fe,#bdbefe,#b8b9fd,#b1b2fd,#a9aafd,#a1a3fd,#9b9cfd,#9698fd,#9394fd,#9192fd,#8f91fd,#8d8ffd,#8b8dfd,#8a8bfc,#888afc,#8688fc,#8486fc,#8385fc,#8183fc,#8082fc)"></i><i style="background:linear-gradient(90deg,#e7e7fe,#eeefff,#f6f6ff,#fefeff,#fffbfb,#fff7f7,#fef2f2,#feeeee,#feecec,#feeaea,#fee9e9,#fee8e8,#fee8e8,#fee8e8,#fee9e9,#feeaea,#feecec,#feeeee,#fef0f0,#fef2f2,#fff6f6,#fff8f8,#fffcfc,#fffdfd,#ffffff,#fefeff,#f9f9ff,#f5f5ff,#f4f4ff,#eeeeff,#e9e9ff,#e4e4fe,#e0e0fe,#dddefe,#dbdbfe,#d8d9fe,#d6d7fe,#d4d4fe,#d1d1fe,#cecefe,#cacbfe,#c6c6fe,#c0c1fe,#b9bafd,#b2b3fd,#a9abfd,#a2a3fd,#9c9dfd,#9899fd,#9597fd,#9394fd,#9192fd,#8f90fd,#8d8efd,#8b8cfc,#898bfc,#8789fc,#8587fc,#8385fc,#8183fc)"></i><i style="background:linear-gradient(90deg,#eeeeff,#f6f6ff,#fefeff,#fffbfb,#fff5f5,#fef0f0,#feebeb,#fee7e7,#fee4e4,#fee2e2,#fde0e0,#fddfdf,#fddede,#fddede,#fddede,#fddfdf,#fde0e0,#fee1e1,#fee3e3,#fee4e4,#fee5e5,#fee7e7,#feeaea,#feeaea,#feecec,#feefef,#fef1f1,#fef4f4,#fef4f4,#fff5f5,#fffdfd,#f9f9ff,#f2f3ff,#eeeeff,#e9e9ff,#e6e6fe,#e2e2fe,#dedffe,#dbdcfe,#d8d8fe,#d4d4fe,#cfd0fe,#c9cafe,#c3c3fe,#bbbcfe,#b2b3fd,#aaabfd,#a3a5fd,#9e9ffd,#9a9bfd,#9798fd,#9596fd,#9294fd,#9092fd,#8e90fd,#8c8efd,#8a8bfc,#8889fc,#8587fc,#8385fc)"></i><i style="background:linear-gradient(90deg,#f4f4ff,#fdfdff,#fffcfc,#fff5f5,#feefef,#fee9e9,#fee4e4,#fde0e0,#fddcdc,#fdd9d9,#fdd7d7,#fdd5d5,#fdd4d4,#fdd3d3,#fdd2d2,#fdd3d3,#fdd3d3,#fdd3d3,#fdd5d5,#fdd5d5,#fdd4d4,#fdd3d3,#fdd3d3,#fdd3d3,#fdd2d2,#fdd3d3,#fdd6d6,#fdd9d9,#fdd9d9,#fddbdb,#fee4e4,#fef1f1,#fff8f8,#fffefe,#fafaff,#f4f4ff,#efefff,#eaeaff,#e6e6fe,#e2e2fe,#dddefe,#d9d9fe,#d3d4fe,#cccdfe,#c4c5fe,#bbbcfe,#b3b4fd,#abacfd,#a5a6fd,#a0a1fd,#9c9efd,#999bfd,#9698fd,#9496fd,#9293fd,#8f91fd,#8d8efd,#8a8cfc,#8889fc,#8687fc)"></i><i style="background:linear-gradient(90deg,#fbfbff,#fffdfd,#fff7f7,#feefef,#fee8e8,#fee2e2,#fddddd,#fdd8d8,#fdd4d4,#fdd0d0,#fdcdcd,#fccbcb,#fcc9c9,#fcc7c7,#fcc6c6,#fcc5c5,#fcc4c4,#fcc4c4,#fcc4c4,#fcc4c4,#fcc3c3,#fcc2c2,#fcc1c1,#fcc1c1,#fcc0c0,#fcc0c0,#fcc2c2,#fcc4c4,#fcc5c5,#fcc6c6,#fccbcb,#fdd5d5,#fde0e0,#feecec,#fff6f6,#fffcfc,#fdfdff,#f6f6ff,#f0f1ff,#ebecff,#e7e7fe,#e2e2fe,#ddddfe,#d6d7fe,#cecffe,#c4c5fe,#bbbcfe,#b3b4fd,#acaefd,#a7a8fd,#a2a4fd,#9ea0fd,#9b9dfd,#989afd,#9697fd,#9395fd,#9092fd,#8e8ffd,#8a8cfc,#888afc)"></i><i style="background:linear-gradient(90deg,#fffefe,#fff9f9,#fef1f1,#fee9e9,#fee1e1,#fddbdb,#fdd6d6,#fdd1d1,#fccccc,#fcc7c7,#fcc4c4,#fcc0c0,#fcbdbd,#fcbaba,#fcb8b8,#fbb6b6,#fbb4b4,#fbb4b4,#fbb3b3,#fbb3b3,#fbb3b3,#fbb3b3,#fbb3b3,#fbb3b3,#fbb3b3,#fbb4b4,#fbb5b5,#fbb7b7,#fcb8b8,#fcb9b9,#fcbcbc,#fcc1c1,#fcc9c9,#fdd6d6,#fee4e4,#fef0f0,#fff9f9,#fffefe,#fbfbff,#f5f5ff,#f0f0ff,#ebebff,#e6e6fe,#e0e0fe,#d8d8fe,#cecffe,#c4c5fe,#bbbcfe,#b4b5fd,#aeaffd,#a9aafd,#a4a6fd,#a0a2fd,#9d9efd,#9a9cfd,#9799fd,#9496fd,#9193fd,#8e8ffd,#8b8cfc)"></i><i style="background:linear-gradient(90deg,#fffbfb,#fef4f4,#feebeb,#fee2e2,#fddbdb,#fdd5d5,#fdcfcf,#fcc9c9,#fcc4c4,#fcbfbf,#fcbaba,#fbb6b6,#fbb2b2,#fbaeae,#fbaaaa,#fba7a7,#fba5a5,#fba4a4,#fba4a4,#fba4a4,#fba4a4,#fba4a4,#fba5a5,#fba6a6,#fba6a6,#fba7a7,#fba9a9,#fbacac,#fbaeae,#fbb0b0,#fbb4b4,#fbb7b7,#fcbcbc,#fcc5c5,#fdd3d3,#fee2e2,#feeeee,#fff6f6,#fffcfc,#fefeff,#f8f8ff,#f3f3ff,#eeeeff,#e8e9ff,#e1e1fe,#d7d8fe,#cdcefe,#c3c4fe,#bcbdfe,#b5b6fd,#afb0fd,#aaabfd,#a6a7fd,#a2a3fd,#9ea0fd,#9b9dfd,#989afd,#9597fd,#9193fd,#8e8ffd)"></i><i style="background:linear-gradient(90deg,#fff7f7,#feefef,#fee5e5,#fddcdc,#fdd5d5,#fdcece,#fcc8c8,#fcc2c2,#fcbcbc,#fbb6b6,#fbb1b1,#fbabab,#fba6a6,#faa1a1,#fa9c9c,#fa9999,#fa9898,#fa9696,#fa9696,#fa9696,#fa9696,#fa9696,#fa9797,#fa9797,#fa9898,#fa9999,#fa9c9c,#faa0a0,#fba4a4,#fba9a9,#fbadad,#fbb2b2,#fbb6b6,#fcbcbc,#fcc7c7,#fdd6d6,#fee3e3,#feeeee,#fff6f6,#fffbfb,#ffffff,#fbfbff,#f6f6ff,#f0f0ff,#e8e9ff,#dfe0fe,#d5d5fe,#cbccfe,#c3c4fe,#bcbdfe,#b6b7fd,#b0b1fd,#abacfd,#a6a8fd,#a2a3fd,#9ea0fd,#9c9dfd,#999afd,#9597fd,#9193fd)"></i><i style="background:linear-gradient(90deg,#fef3f3,#feeaea,#fde0e0,#fdd7d7,#fdcfcf,#fcc8c8,#fcc2c2,#fcbbbb,#fbb4b4,#fbadad,#fba7a7,#faa1a1,#fa9b9b,#fa9595,#fa9090,#f98c8c,#f98b8b,#f98a8a,#f98a8a,#f98a8a,#f98989,#f98989,#f98888,#f98888,#f98888,#f98b8b,#f98e8e,#fa9595,#fa9c9c,#faa2a2,#fba7a7,#fbadad,#fbb3b3,#fbb7b7,#fcbfbf,#fccbcb,#fdd9d9,#fee5e5,#feefef,#fff6f6,#fffbfb,#fffefe,#fcfcff,#f7f7ff,#eff0ff,#e6e6fe,#dcdcfe,#d2d3fe,#c9cafe,#c2c3fe,#bcbdfe,#b6b7fd,#b0b1fd,#abacfd,#a6a7fd,#a1a3fd,#9e9ffd,#9c9dfd,#999afd,#9597fd)"></i><i style="background:linear-gradient(90deg,#feefef,#fee5e5,#fddbdb,#fdd2d2,#fccaca,#fcc3c3,#fcbcbc,#fbb5b5,#fbadad,#fba5a5,#fa9e9e,#fa9797,#fa9090,#f98a8a,#f98484,#f98080,#f97f7f,#f97f7f,#f98080,#f98181,#f97e7e,#f97b7b,#f87979,#f87878,#f87878,#f97b7b,#f98181,#f98a8a,#fa9494,#fa9c9c,#faa2a2,#fba8a8,#fbafaf,#fbb5b5,#fcbbbb,#fcc5c5,#fdd1d1,#fddddd,#fee8e8,#fef1f1,#fff7f7,#fffbfb,#fffefe,#fcfcff,#f5f5ff,#ececff,#e1e2fe,#d8d8fe,#cfd0fe,#c8c8fe,#c1c2fe,#bbbcfe,#b5b6fd,#afb0fd,#a9aafd,#a4a5fd,#a0a1fd,#9d9ffd,#9b9dfd,#989afd)"></i><i style="background:linear-gradient(90deg,#feebeb,#fee1e1,#fdd7d7,#fdcece,#fcc6c6,#fcbebe,#fbb7b7,#fbafaf,#fba7a7,#fa9e9e,#fa9797,#fa8f8f,#f98888,#f98080,#f87a7a,#f87676,#f87575,#f87676,#f87979,#f87979,#f87474,#f87070,#f87070,#f87070,#f87070,#f87070,#f87474,#f98080,#f98e8e,#fa9797,#fa9d9d,#fba4a4,#fbacac,#fbb3b3,#fcb8b8,#fcc0c0,#fccbcb,#fdd7d7,#fee2e2,#feecec,#fef4f4,#fff8f8,#fffbfb,#ffffff,#f9f9ff,#f0f0ff,#e6e6fe,#ddddfe,#d4d4fe,#cccdfe,#c5c6fe,#bfc0fe,#b9bafd,#b2b4fd,#acadfd,#a6a8fd,#a2a3fd,#9fa0fd,#9c9efd,#9b9cfd)"></i><i style="background:linear-gradient(90deg,#fee8e8,#fddede,#fdd4d4,#fccccc,#fcc3c3,#fcbbbb,#fbb3b3,#fbabab,#faa2a2,#fa9999,#fa9191,#f98989,#f98181,#f87979,#f87272,#f87070,#f87070,#f87070,#f87373,#f87474,#f87070,#f87070,#f87070,#f87070,#f87070,#f87070,#f87070,#f87878,#f98989,#fa9393,#fa9a9a,#faa0a0,#fba9a9,#fbb1b1,#fbb7b7,#fcbebe,#fcc8c8,#fdd2d2,#fddddd,#fee8e8,#fef0f0,#fff6f6,#fff9f9,#fffdfd,#fcfcff,#f3f3ff,#eaeaff,#e0e1fe,#d8d8fe,#d0d0fe,#c9cafe,#c3c4fe,#bdbefe,#b6b7fd,#aeaffd,#a8a9fd,#a3a5fd,#a0a1fd,#9d9ffd,#9b9dfd)"></i><i style="background:linear-gradient(90deg,#fee6e6,#fddcdc,#fdd2d2,#fccbcb,#fcc2c2,#fcb8b8,#fbb0b0,#fba8a8,#fa9f9f,#fa9595,#f98d8d,#f98585,#f97c7c,#f87474,#f87070,#f87070,#f87070,#f87070,#f87070,#f87070,#f87070,#f87070,#f87070,#f87070,#f87070,#f87070,#f87070,#f87373,#f98686,#fa9191,#fa9797,#fa9e9e,#fba6a6,#fbafaf,#fbb7b7,#fcbebe,#fcc7c7,#fdd1d1,#fddbdb,#fee6e6,#feeeee,#fef4f4,#fff8f8,#fffcfc,#fdfdff,#f5f5ff,#ececff,#e3e3fe,#dadbfe,#d2d3fe,#cbccfe,#c5c6fe,#bfc0fe,#b8b9fd,#b0b1fd,#aaabfd,#a4a6fd,#a1a2fd,#9e9ffd,#9c9dfd)"></i><i style="background:linear-gradient(90deg,#fee5e5,#fddbdb,#fdd3d3,#fccbcb,#fcc2c2,#fcb8b8,#fbafaf,#fba7a7,#fa9e9e,#fa9494,#f98b8b,#f98383,#f97a7a,#f87272,#f87070,#f87070,#f87070,#f87070,#f87070,#f87070,#f87070,#f87070,#f87070,#f87070,#f87070,#f87070,#f87070,#f87070,#f98585,#fa9191,#fa9696,#fa9c9c,#fba5a5,#fbafaf,#fbb7b7,#fcc0c0,#fcc8c8,#fdd1d1,#fddbdb,#fee5e5,#feeded,#fef3f3,#fff7f7,#fffcfc,#fefeff,#f5f6ff,#ededff,#e5e5fe,#dcdcfe,#d4d4fe,#cdcdfe,#c7c8fe,#c1c2fe,#b9bafd,#b1b2fd,#aaacfd,#a5a6fd,#a1a2fd,#9ea0fd,#9c9efd)"></i><i style="background:linear-gradient(90deg,#fee5e5,#fddcdc,#fdd4d4,#fdcdcd,#fcc4c4,#fcbaba,#fbb0b0,#fba8a8,#fa9f9f,#fa9696,#f98d8d,#f98585,#f97c7c,#f87373,#f87070,#f87070,#f87070,#f87070,#f87070,#f87070,#f87070,#f87070,#f87070,#f87070,#f87070,#f87070,#f87070,#f87272,#f98787,#fa9292,#fa9696,#fa9c9c,#fba5a5,#fbb0b0,#fcbaba,#fcc2c2,#fccbcb,#fdd3d3,#fddcdc,#fee6e6,#feeeee,#fef3f3,#fff7f7,#fffcfc,#fdfdff,#f5f5ff,#edeeff,#e5e5fe,#dcddfe,#d4d5fe,#cdcefe,#c7c8fe,#c1c2fe,#babbfe,#b2b3fd,#abacfd,#a5a6fd,#a1a2fd,#9ea0fd,#9c9efd)"></i><i style="background:linear-gradient(90deg,#fee6e6,#fddddd,#fdd7d7,#fdd0d0,#fcc8c8,#fcbdbd,#fbb4b4,#fbacac,#fba3a3,#fa9a9a,#fa9191,#f98989,#f98181,#f87878,#f87171,#f87070,#f87070,#f87070,#f87070,#f87070,#f87070,#f87070,#f87070,#f87070,#f87070,#f87070,#f87070,#f87979,#f98c8c,#fa9595,#fa9999,#fa9f9f,#fba8a8,#fbb3b3,#fcbebe,#fcc7c7,#fdcfcf,#fdd7d7,#fddfdf,#fee8e8,#feefef,#fef4f4,#fff9f9,#fffdfd,#fbfbff,#f3f4ff,#ececff,#e4e5fe,#dcdcfe,#d3d4fe,#cccdfe,#c6c7fe,#c0c1fe,#b9bafd,#b1b2fd,#aaacfd,#a5a6fd,#a1a2fd,#9ea0fd,#9c9efd)"></i><i style="background:linear-gradient(90deg,#fee8e8,#fde0e0,#fddada,#fdd4d4,#fdcccc,#fcc3c3,#fcbaba,#fbb3b3,#fbaaaa,#faa2a2,#fa9999,#fa9191,#f98989,#f98181,#f97b7b,#f87777,#f87676,#f87878,#f87a7a,#f97a7a,#f87878,#f87575,#f87373,#f87272,#f87272,#f87171,#f87979,#f98787,#fa9595,#fa9b9b,#fa9e9e,#fba4a4,#fbadad,#fcb9b9,#fcc4c4,#fdcdcd,#fdd5d5,#fddcdc,#fee4e4,#feebeb,#fef2f2,#fff7f7,#fffbfb,#ffffff,#f8f8ff,#f1f1ff,#eaeaff,#e3e3fe,#dadbfe,#d2d2fe,#cbcbfe,#c4c5fe,#bfbffe,#b8b9fd,#b0b1fd,#a9abfd,#a4a5fd,#a0a2fd,#9e9ffd,#9c9dfd)"></i><i style="background:linear-gradient(90deg,#feeaea,#fee3e3,#fddede,#fdd9d9,#fdd2d2,#fccbcb,#fcc3c3,#fcbbbb,#fbb4b4,#fbacac,#fba4a4,#fa9c9c,#fa9595,#f98e8e,#f98989,#f98686,#f98686,#f98888,#f98b8b,#f98d8d,#f98d8d,#f98e8e,#f98e8e,#fa9090,#fa9191,#fa8f8f,#fa9494,#fa9b9b,#faa2a2,#fba5a5,#fba8a8,#fbadad,#fbb7b7,#fcc1c1,#fccbcb,#fdd3d3,#fddbdb,#fee2e2,#fee9e9,#fef0f0,#fff5f5,#fffafa,#fffdfd,#fcfcff,#f4f4ff,#edeeff,#e7e7fe,#e0e0fe,#d7d8fe,#cfd0fe,#c8c9fe,#c2c3fe,#bcbdfe,#b5b6fd,#aeb0fd,#a8a9fd,#a3a4fd,#9fa1fd,#9d9efd,#9b9dfd)"></i><i style="background:linear-gradient(90deg,#feeded,#fee7e7,#fee2e2,#fddede,#fdd9d9,#fdd3d3,#fdcccc,#fcc6c6,#fcc0c0,#fcbaba,#fbb3b3,#fbacac,#fba5a5,#faa0a0,#fa9c9c,#fa9b9b,#fa9c9c,#fa9e9e,#faa1a1,#fba5a5,#fba8a8,#fbadad,#fbafaf,#fbb1b1,#fbb4b4,#fbb3b3,#fbb1b1,#fbb2b2,#fbb3b3,#fbb4b4,#fbb5b5,#fcbaba,#fcc3c3,#fccccc,#fdd4d4,#fddbdb,#fee2e2,#fee8e8,#feeeee,#fef5f5,#fffafa,#fffdfd,#fdfdff,#f7f7ff,#f0f0ff,#e9eaff,#e3e4fe,#dcddfe,#d4d5fe,#cccdfe,#c5c6fe,#bfc0fe,#b9bafd,#b3b4fd,#acadfd,#a6a8fd,#a2a3fd,#9ea0fd,#9c9dfd,#9a9cfd)"></i><i style="background:linear-gradient(90deg,#fef1f1,#feebeb,#fee7e7,#fee3e3,#fddfdf,#fddbdb,#fdd6d6,#fdd1d1,#fdcdcd,#fcc9c9,#fcc5c5,#fcc1c1,#fcbcbc,#fbb7b7,#fbb6b6,#fbb6b6,#fbb7b7,#fcb9b9,#fcbcbc,#fcc0c0,#fcc2c2,#fcc5c5,#fcc6c6,#fcc8c8,#fccbcb,#fccbcb,#fcc8c8,#fcc6c6,#fcc4c4,#fcc4c4,#fcc6c6,#fccaca,#fdd0d0,#fdd7d7,#fddddd,#fee3e3,#fee9e9,#feefef,#fef5f5,#fffafa,#fffdfd,#fdfdff,#f7f7ff,#f1f2ff,#ebecff,#e5e6fe,#dfe0fe,#d8d8fe,#d0d1fe,#c8c9fe,#c1c2fe,#bbbcfe,#b5b6fd,#afb1fd,#a9abfd,#a4a5fd,#a0a1fd,#9d9efd,#9a9cfd,#9899fd)"></i><i style="background:linear-gradient(90deg,#fff5f5,#fef1f1,#feeded,#feeaea,#fee6e6,#fee2e2,#fddfdf,#fddcdc,#fdd8d8,#fdd7d7,#fdd6d6,#fdd5d5,#fdd4d4,#fdd2d2,#fdd2d2,#fdd3d3,#fdd3d3,#fdd4d4,#fdd4d4,#fdd5d5,#fdd6d6,#fdd7d7,#fdd7d7,#fdd7d7,#fdd8d8,#fdd8d8,#fdd7d7,#fdd6d6,#fdd5d5,#fdd6d6,#fdd7d7,#fdd9d9,#fddddd,#fee2e2,#fee6e6,#feecec,#fef1f1,#fff6f6,#fffafa,#fffefe,#fbfbff,#f6f6ff,#f1f2ff,#ececff,#e7e7fe,#e1e1fe,#dadbfe,#d3d4fe,#cbccfe,#c3c4fe,#bdbefe,#b7b8fd,#b1b2fd,#acadfd,#a6a8fd,#a1a3fd,#9e9ffd,#9b9cfd,#9799fd,#9496fd)"></i><i style="background:linear-gradient(90deg,#fffafa,#fff7f7,#fef4f4,#fef1f1,#feeeee,#feeaea,#fee7e7,#fee5e5,#fee3e3,#fee2e2,#fee2e2,#fee2e2,#fee2e2,#fee2e2,#fee3e3,#fee4e4,#fee4e4,#fee4e4,#fee3e3,#fee3e3,#fee3e3,#fee3e3,#fee2e2,#fee2e2,#fee2e2,#fee2e2,#fee2e2,#fee2e2,#fee2e2,#fee3e3,#fee4e4,#fee6e6,#fee9e9,#feecec,#fef0f0,#fef4f4,#fff8f8,#fffcfc,#ffffff,#f9f9ff,#f4f4ff,#f0f0ff,#ececff,#e7e7fe,#e2e2fe,#dcdcfe,#d5d6fe,#cdcefe,#c5c6fe,#bebffe,#b8b9fd,#b2b3fd,#adaefd,#a8a9fd,#a3a4fd,#9fa0fd,#9b9dfd,#9899fd,#9495fd,#9092fd)"></i><i style="background:linear-gradient(90deg,#ffffff,#fffdfd,#fffbfb,#fff9f9,#fff6f6,#fef3f3,#fef1f1,#feeeee,#feecec,#feebeb,#feebeb,#feebeb,#feecec,#feecec,#feecec,#feeded,#feeded,#feeded,#feeded,#feecec,#feecec,#feecec,#feebeb,#feebeb,#feecec,#feecec,#feecec,#feeded,#feeded,#feeeee,#feefef,#fef1f1,#fef3f3,#fff6f6,#fff9f9,#fffcfc,#ffffff,#fbfbff,#f6f6ff,#f2f2ff,#eeeeff,#ebebff,#e7e7fe,#e2e3fe,#ddddfe,#d6d7fe,#cfd0fe,#c7c8fe,#bfc0fe,#b9bafd,#b3b4fd,#adaefd,#a8a9fd,#a3a5fd,#9fa0fd,#9b9dfd,#9899fd,#9495fd,#9092fd,#8d8efd)"></i><i style="background:linear-gradient(90deg,#f6f6ff,#fafaff,#fcfcff,#fefeff,#fffefe,#fffcfc,#fffbfb,#fff9f9,#fff7f7,#fff6f6,#fef4f4,#fef4f4,#fef4f4,#fef3f3,#fef3f3,#fef3f3,#fef4f4,#fef4f4,#fef4f4,#fef3f3,#fef3f3,#fef4f4,#fef4f4,#fef4f4,#fff5f5,#fff6f6,#fff6f6,#fff7f7,#fff7f7,#fff8f8,#fff9f9,#fffbfb,#fffcfc,#fffefe,#fdfdff,#f9faff,#f5f6ff,#f2f2ff,#eeeeff,#ebecff,#e9e9ff,#e6e6fe,#e2e3fe,#dedefe,#d7d8fe,#d0d1fe,#c8c9fe,#c0c1fe,#b9bafd,#b2b4fd,#adaefd,#a8a9fd,#a3a4fd,#9fa0fd,#9b9cfd,#9799fd,#9495fd,#9092fd,#8d8efd,#8a8bfc)"></i><i style="background:linear-gradient(90deg,#ececff,#eeeeff,#efefff,#f0f1ff,#f3f3ff,#f5f5ff,#f8f8ff,#fafaff,#fcfcff,#ffffff,#fffefe,#fffdfd,#fffdfd,#fffcfc,#fffcfc,#fffbfb,#fffbfb,#fffbfb,#fffbfb,#fffbfb,#fffbfb,#fffcfc,#fffcfc,#fffdfd,#fffdfd,#fffefe,#fffefe,#ffffff,#fefeff,#fdfdff,#fbfbff,#f9f9ff,#f7f7ff,#f4f4ff,#f2f2ff,#efefff,#ededff,#ebebff,#e9e9ff,#e7e7fe,#e5e5fe,#e2e2fe,#dddefe,#d7d8fe,#d0d1fe,#c8c9fe,#c0c1fe,#b8bafd,#b2b3fd,#acadfd,#a6a8fd,#a2a3fd,#9d9ffd,#9a9bfd,#9698fd,#9395fd,#9091fd,#8d8efd,#8a8bfc,#8789fc)"></i><i style="background:linear-gradient(90deg,#e2e2fe,#e3e3fe,#e3e3fe,#e4e4fe,#e5e6fe,#e7e7fe,#e8e8ff,#e9e9ff,#eaeaff,#ededff,#efefff,#f1f1ff,#f2f2ff,#f3f3ff,#f4f4ff,#f6f6ff,#f7f7ff,#f7f7ff,#f7f7ff,#f7f8ff,#f7f7ff,#f7f7ff,#f6f6ff,#f5f6ff,#f4f5ff,#f3f3ff,#f1f1ff,#f0f1ff,#eff0ff,#eeefff,#ededff,#ecedff,#ebebff,#e9eaff,#e9e9ff,#e8e9ff,#e7e8fe,#e7e7fe,#e5e6fe,#e4e4fe,#e1e1fe,#ddddfe,#d7d7fe,#cfd0fe,#c7c8fe,#bfc0fe,#b7b8fd,#b0b1fd,#aaabfd,#a4a6fd,#9fa1fd,#9b9dfd,#9899fd,#9596fd,#9294fd,#8f91fd,#8c8efd,#8a8bfc,#8789fc,#8486fc)"></i><i style="background:linear-gradient(90deg,#d7d8fe,#d8d9fe,#d8d9fe,#d9d9fe,#d9dafe,#dadafe,#dbdbfe,#dbdcfe,#dcdcfe,#dddefe,#dedffe,#dfe0fe,#e0e1fe,#e1e2fe,#e2e2fe,#e3e4fe,#e4e5fe,#e5e5fe,#e6e6fe,#e6e6fe,#e6e6fe,#e6e6fe,#e6e6fe,#e5e6fe,#e5e5fe,#e4e5fe,#e3e3fe,#e3e3fe,#e3e3fe,#e2e3fe,#e2e2fe,#e2e3fe,#e3e4fe,#e3e4fe,#e4e4fe,#e4e4fe,#e4e4fe,#e3e3fe,#e1e2fe,#dedffe,#dadafe,#d4d4fe,#cccdfe,#c3c4fe,#bbbcfe,#b3b4fd,#acadfd,#a6a7fd,#a1a2fd,#9c9dfd,#989afd,#9596fd,#9293fd,#8f91fd,#8d8ffd,#8c8dfd,#898bfc,#8789fc,#8586fc,#8384fc)"></i><i style="background:linear-gradient(90deg,#cccdfe,#cdcefe,#cecffe,#cecffe,#cfcffe,#cfd0fe,#cfd0fe,#d0d0fe,#d0d1fe,#d0d1fe,#d1d1fe,#d1d2fe,#d2d2fe,#d2d3fe,#d2d3fe,#d3d3fe,#d3d3fe,#d3d4fe,#d3d4fe,#d3d4fe,#d4d4fe,#d4d4fe,#d4d4fe,#d4d5fe,#d4d5fe,#d5d5fe,#d5d6fe,#d6d7fe,#d7d8fe,#d7d8fe,#d7d8fe,#d9d9fe,#dbdcfe,#dcddfe,#dddefe,#dddefe,#ddddfe,#dbdbfe,#d7d8fe,#d3d3fe,#cccdfe,#c5c6fe,#bcbdfe,#b4b5fd,#acaefd,#a6a7fd,#a0a2fd,#9b9dfd,#9799fd,#9495fd,#9092fd,#8d8ffd,#8b8dfc,#898bfc,#888afc,#888afc,#8788fc,#8586fc,#8384fc,#8183fc)"></i><i style="background:linear-gradient(90deg,#c2c3fe,#c2c3fe,#c4c5fe,#c4c5fe,#c5c6fe,#c5c6fe,#c5c6fe,#c5c6fe,#c5c6fe,#c5c6fe,#c5c6fe,#c5c6fe,#c5c5fe,#c4c5fe,#c3c4fe,#c3c3fe,#c2c3fe,#c2c3fe,#c2c3fe,#c2c3fe,#c2c3fe,#c2c3fe,#c2c3fe,#c2c3fe,#c3c3fe,#c4c5fe,#c6c6fe,#c7c7fe,#c8c9fe,#c9c9fe,#c9cafe,#cbcbfe,#cdcefe,#cecffe,#cfcffe,#cecefe,#cccdfe,#c8c9fe,#c2c3fe,#bdbefe,#b6b7fd,#afb0fd,#a7a9fd,#a1a3fd,#9b9dfd,#9799fd,#9395fd,#9092fd,#8d8ffd,#8a8cfc,#888afc,#8687fc,#8486fc,#8385fc,#8384fc,#8385fc,#8485fc,#8384fc,#8183fc,#7f81fc)"></i><i style="background:linear-gradient(90deg,#b8b9fd,#b9bafd,#babbfe,#bbbcfe,#bbbcfe,#bcbdfe,#bcbdfe,#bcbdfe,#bbbcfe,#bbbcfe,#babbfe,#b9bafd,#b8b9fd,#b7b8fd,#b6b7fd,#b5b6fd,#b3b5fd,#b3b4fd,#b2b3fd,#b3b4fd,#b3b4fd,#b2b4fd,#b2b3fd,#b2b3fd,#b2b3fd,#b2b3fd,#b2b3fd,#b3b4fd,#b3b4fd,#b3b4fd,#b7b8fd,#b4b5fd,#b3b4fd,#b3b4fd,#b3b4fd,#b1b3fd,#aeaffd,#aaabfd,#a1a3fd,#9e9ffd,#9a9cfd,#9596fd,#9092fd,#8d8ffd,#8a8cfc,#888afc,#8688fc,#8486fc,#8284fc,#8082fc,#7f81fc,#7e7ffc,#7d7efc,#7c7efc,#7d7efc,#7e7ffc,#7f81fc,#8082fc,#7f81fc,#7e80fc)"></i><i style="background:linear-gradient(90deg,#aeaffd,#afb0fd,#b0b1fd,#b1b2fd,#b2b3fd,#b2b3fd,#b2b3fd,#b2b3fd,#b1b2fd,#b0b1fd,#afb0fd,#aeaffd,#acadfd,#aaacfd,#a9aafd,#a7a8fd,#a6a7fd,#a5a6fd,#a5a6fd,#a6a7fd,#a6a8fd,#a4a5fd,#a3a4fd,#a2a3fd,#a0a1fd,#9e9ffd,#a0a2fd,#a0a1fd,#a0a1fd,#a0a1fd,#a8a9fd,#9fa0fd,#9d9ffd,#9d9ffd,#9d9ffd,#9b9dfd,#8b8cfc,#8789fc,#8485fc,#8284fc,#8082fc,#7e80fc,#7d7ffc,#7c7efc,#7b7dfc,#7a7cfc,#7a7cfc,#797bfc,#787afc,#787afc,#7779fc,#7779fc,#7678fc,#7678fc,#7779fc,#787afc,#7a7cfc,#7c7efc,#7c7efc,#7b7dfc)"></i><i style="background:linear-gradient(90deg,#a6a8fd,#a7a9fd,#a8aafd,#a9abfd,#aaabfd,#aaacfd,#aaacfd,#aaabfd,#a9aafd,#a8a9fd,#a7a8fd,#a5a6fd,#a3a4fd,#a1a2fd,#9ea0fd,#9d9efd,#9c9efd,#9c9dfd,#9c9efd,#9c9dfd,#9d9efd,#999bfd,#9799fd,#9596fd,#9294fd,#9092fd,#9b9cfd,#9b9cfd,#9b9cfd,#9b9cfd,#a1a2fd,#9a9cfd,#9a9cfd,#9a9cfd,#9a9cfd,#999bfd,#7779fc,#7678fc,#7678fc,#7577fc,#7577fc,#7577fc,#7577fc,#7577fc,#7577fc,#7577fc,#7476fc,#7476fc,#7476fc,#7476fc,#7476fc,#7476fc,#7476fc,#7476fc,#7476fc,#7577fc,#7577fc,#7779fc,#787afc,#787afc)"></i></div><div class="cf" style="left:451.2px;top:655.6px;width:294.6px;height:160.1px"><i style="background:linear-gradient(90deg,#797bfc,#797bfc,#797bfc,#797bfc,#797bfc,#7c7efc,#8082fc,#8587fc,#8d8efd,#9698fd,#9fa0fd,#a9abfd,#b6b7fd,#c6c7fe,#d7d8fe,#e8e8fe,#f9f9ff,#fff8f8,#fee9e9,#fdd8d8,#fcc9c9,#fcbaba,#fbacac,#faa2a2,#fa9595,#f98a8a,#f98181,#f98080,#f98383,#f98b8b,#fa9595,#faa3a3,#fbb1b1,#fcc1c1,#fdcdcd,#fdd7d7,#fde0e0,#fee9e9,#fef1f1,#fff9f9,#ffffff,#f4f4ff,#e8e8ff,#dcddfe,#d1d2fe,#c7c7fe,#bdbdfe,#b3b4fd,#aaabfd,#a2a3fd,#9a9bfd,#9193fd,#898bfc,#8385fc,#7e80fc,#7b7dfc,#797bfc,#797bfc,#797bfc,#797bfc)"></i><i style="background:linear-gradient(90deg,#797bfc,#797bfc,#797bfc,#797bfc,#797bfc,#7c7efc,#8082fc,#8587fc,#8c8dfd,#9495fd,#9d9ffd,#a8a9fd,#b5b6fd,#c5c6fe,#d7d7fe,#e7e7fe,#f8f8ff,#fff8f8,#fee9e9,#fdd7d7,#fcc7c7,#fbb7b7,#fba9a9,#fa9f9f,#fa9494,#f98989,#f98181,#f98080,#f98383,#f98a8a,#fa9494,#faa0a0,#fbafaf,#fcbebe,#fccaca,#fdd5d5,#fddede,#fee7e7,#fef0f0,#fff8f8,#fffefe,#f6f6ff,#e9eaff,#dddefe,#d2d3fe,#c7c8fe,#bebefe,#b4b5fd,#abacfd,#a2a4fd,#9a9cfd,#9294fd,#898bfc,#8385fc,#7f81fc,#7c7dfc,#797bfc,#797bfc,#797bfc,#797bfc)"></i><i style="background:linear-gradient(90deg,#797bfc,#797bfc,#797bfc,#797bfc,#7a7bfc,#7c7efc,#8081fc,#8486fc,#8a8cfc,#9294fd,#9c9dfd,#a6a8fd,#b4b5fd,#c5c6fe,#d7d7fe,#e7e7fe,#f7f7ff,#fff9f9,#fee8e8,#fdd6d6,#fcc4c4,#fbb4b4,#fba6a6,#fa9c9c,#fa9292,#f98989,#f98282,#f98080,#f98383,#f98989,#fa9292,#fa9e9e,#fbacac,#fcbbbb,#fcc8c8,#fdd3d3,#fddddd,#fee6e6,#feeeee,#fff6f6,#fffdfd,#f7f7ff,#eaebff,#dedffe,#d3d4fe,#c8c9fe,#bebffe,#b5b6fd,#acadfd,#a3a4fd,#9b9dfd,#9394fd,#8a8cfc,#8485fc,#7f81fc,#7c7efc,#7a7bfc,#797bfc,#797bfc,#797bfc)"></i><i style="background:linear-gradient(90deg,#797bfc,#797bfc,#797bfc,#797bfc,#7a7bfc,#7c7efc,#7f81fc,#8385fc,#898afc,#9192fd,#9a9cfd,#a5a7fd,#b3b4fd,#c5c5fe,#d7d8fe,#e7e7fe,#f6f6ff,#fff9f9,#fee7e7,#fdd4d4,#fcc2c2,#fbb1b1,#fba4a4,#fa9a9a,#fa9191,#f98989,#f98484,#f98282,#f98484,#f98989,#fa9292,#fa9d9d,#fbaaaa,#fcb9b9,#fcc6c6,#fdd2d2,#fddcdc,#fee5e5,#feeeee,#fff6f6,#fffdfd,#f8f8ff,#ebebff,#dfdffe,#d3d4fe,#c9cafe,#bfc0fe,#b6b7fd,#acaefd,#a4a5fd,#9c9dfd,#9495fd,#8b8cfc,#8486fc,#7f81fc,#7c7efc,#7a7cfc,#797bfc,#797bfc,#797bfc)"></i><i style="background:linear-gradient(90deg,#797bfc,#797bfc,#797bfc,#797bfc,#7a7cfc,#7c7efc,#7e80fc,#8284fc,#8889fc,#8f91fd,#999bfd,#a5a6fd,#b3b4fd,#c5c6fe,#d8d8fe,#e7e7fe,#f6f6ff,#fff8f8,#fee6e6,#fdd2d2,#fcbfbf,#fbafaf,#faa1a1,#fa9898,#fa9191,#f98a8a,#f98686,#f98484,#f98585,#f98a8a,#fa9191,#fa9c9c,#fba9a9,#fcb8b8,#fcc5c5,#fdd1d1,#fddbdb,#fee4e4,#feeded,#fff5f5,#fffcfc,#f9f9ff,#ebecff,#dfdffe,#d4d4fe,#c9cafe,#c0c1fe,#b6b7fd,#adaefd,#a4a6fd,#9c9efd,#9596fd,#8b8dfc,#8486fc,#7f81fc,#7c7efc,#7a7cfc,#797bfc,#797bfc,#797bfc)"></i><i style="background:linear-gradient(90deg,#797bfc,#797bfc,#797bfc,#797bfc,#7a7cfc,#7c7efc,#7e80fc,#8283fc,#8789fc,#8f90fd,#999afd,#a4a6fd,#b3b4fd,#c6c7fe,#d9dafe,#e7e8fe,#f6f6ff,#fff7f7,#fee4e4,#fdcfcf,#fcbdbd,#fbadad,#faa0a0,#fa9797,#fa9090,#f98b8b,#f98888,#f98686,#f98787,#f98b8b,#fa9292,#fa9c9c,#fba9a9,#fbb7b7,#fcc4c4,#fdd0d0,#fddbdb,#fee4e4,#feeded,#fff6f6,#fffcfc,#f8f8ff,#ebebff,#dedffe,#d3d4fe,#c9cafe,#c0c1fe,#b7b8fd,#adaffd,#a5a6fd,#9d9efd,#9596fd,#8b8dfc,#8486fc,#7f81fc,#7c7efc,#7a7cfc,#797bfc,#797bfc,#797bfc)"></i><i style="background:linear-gradient(90deg,#797bfc,#797bfc,#797bfc,#797bfc,#7b7dfc,#7d7ffc,#7f80fc,#8284fc,#8789fc,#8f90fd,#999bfd,#a5a6fd,#b4b5fd,#c8c9fe,#dbdbfe,#e8e8ff,#f7f7ff,#fff6f6,#fee1e1,#fdcdcd,#fcbbbb,#fbabab,#fa9f9f,#fa9797,#fa9191,#f98d8d,#f98a8a,#f98989,#f98989,#f98c8c,#fa9393,#fa9c9c,#fba9a9,#fbb7b7,#fcc5c5,#fdd1d1,#fddcdc,#fee5e5,#feefef,#fff7f7,#fffdfd,#f8f8ff,#eaebff,#dedefe,#d3d4fe,#c9cafe,#c0c1fe,#b7b8fd,#adaffd,#a5a6fd,#9d9efd,#9596fd,#8b8dfc,#8486fc,#7f81fc,#7c7efc,#7a7cfc,#797bfc,#797bfc,#797bfc)"></i><i style="background:linear-gradient(90deg,#797bfc,#797bfc,#797bfc,#797bfc,#7c7efc,#7e80fc,#8082fc,#8385fc,#888afc,#8f91fd,#9a9bfd,#a6a7fd,#b6b7fd,#cacbfe,#dcddfe,#e9e9ff,#f8f8ff,#fef4f4,#fddede,#fccbcb,#fcbaba,#fbaaaa,#fa9f9f,#fa9797,#fa9292,#f98e8e,#f98d8d,#f98b8b,#f98b8b,#f98e8e,#fa9494,#fa9e9e,#fbaaaa,#fcb8b8,#fcc6c6,#fdd2d2,#fddddd,#fee7e7,#fef0f0,#fff8f8,#fffefe,#f6f6ff,#e9e9ff,#ddddfe,#d2d3fe,#c9c9fe,#c0c0fe,#b6b7fd,#adaffd,#a5a6fd,#9d9efd,#9596fd,#8b8dfc,#8486fc,#7f81fc,#7c7efc,#7a7cfc,#797bfc,#797bfc,#797bfc)"></i><i style="background:linear-gradient(90deg,#797bfc,#797bfc,#797bfc,#7a7cfc,#7d7ffc,#7f81fc,#8183fc,#8586fc,#898bfc,#9193fd,#9b9cfd,#a8a9fd,#b8b9fd,#cdcdfe,#dedffe,#eaeaff,#fafaff,#fef1f1,#fddbdb,#fcc9c9,#fcb9b9,#fbaaaa,#fa9f9f,#fa9797,#fa9393,#fa9090,#fa8f8f,#f98d8d,#f98d8d,#fa8f8f,#fa9696,#fa9f9f,#fbacac,#fcbaba,#fcc8c8,#fdd4d4,#fddfdf,#fee9e9,#fef2f2,#fffafa,#ffffff,#f4f4ff,#e8e8fe,#dbdcfe,#d1d2fe,#c8c9fe,#bfc0fe,#b6b7fd,#adaefd,#a5a6fd,#9d9efd,#9596fd,#8b8dfc,#8486fc,#7f81fc,#7c7efc,#7a7cfc,#797bfc,#797bfc,#797bfc)"></i><i style="background:linear-gradient(90deg,#797bfc,#797bfc,#797bfc,#7b7dfc,#7e80fc,#8183fc,#8385fc,#8688fc,#8c8dfd,#9394fd,#9d9efd,#aaabfd,#bbbcfe,#d0d0fe,#e0e1fe,#ececff,#fdfdff,#feeded,#fdd8d8,#fcc8c8,#fcb8b8,#fbaaaa,#fa9f9f,#fa9898,#fa9494,#fa9292,#fa9191,#fa8f8f,#fa8f8f,#fa9292,#fa9898,#faa2a2,#fbaeae,#fcbcbc,#fccaca,#fdd7d7,#fee2e2,#feecec,#fff5f5,#fffcfc,#fdfdff,#f2f2ff,#e6e6fe,#dadafe,#d0d0fe,#c7c7fe,#bebffe,#b5b6fd,#acadfd,#a4a5fd,#9d9efd,#9596fd,#8b8dfc,#8486fc,#7f81fc,#7c7efc,#7a7cfc,#797bfc,#797bfc,#797bfc)"></i><i style="background:linear-gradient(90deg,#797bfc,#797bfc,#7a7cfc,#7d7ffc,#8082fc,#8284fc,#8587fc,#898afc,#8e90fd,#9596fd,#9fa1fd,#adaefd,#bebffe,#d3d4fe,#e2e3fe,#edeeff,#fffefe,#fee9e9,#fdd5d5,#fcc6c6,#fcb8b8,#fbabab,#faa1a1,#fa9a9a,#fa9696,#fa9393,#fa9292,#fa9191,#fa9191,#fa9494,#fa9b9b,#fba5a5,#fbb1b1,#fcbfbf,#fdcdcd,#fddada,#fee6e6,#fef0f0,#fff8f8,#fffdfd,#fafaff,#f0f0ff,#e3e4fe,#d8d8fe,#cecffe,#c5c6fe,#bcbdfe,#b4b5fd,#abacfd,#a3a5fd,#9c9efd,#9496fd,#8b8dfc,#8486fc,#7f81fc,#7c7efc,#7a7cfc,#797bfc,#797bfc,#797bfc)"></i><i style="background:linear-gradient(90deg,#797bfc,#797bfc,#7b7dfc,#7f80fc,#8284fc,#8486fc,#8789fc,#8b8dfc,#9092fd,#9899fd,#a3a4fd,#b1b2fd,#c3c3fe,#d6d7fe,#e4e5fe,#f0f0ff,#fffcfc,#fee5e5,#fdd3d3,#fcc6c6,#fcb8b8,#fbacac,#faa2a2,#fa9c9c,#fa9797,#fa9595,#fa9494,#fa9393,#fa9494,#fa9797,#fa9e9e,#fba9a9,#fbb5b5,#fcc3c3,#fdd1d1,#fddede,#feeaea,#fef3f3,#fffafa,#ffffff,#f7f7ff,#ededff,#e1e1fe,#d6d6fe,#cccdfe,#c3c4fe,#babbfe,#b2b3fd,#aaabfd,#a2a4fd,#9b9dfd,#9495fd,#8b8cfc,#8486fc,#7f81fc,#7c7efc,#7a7cfc,#797bfc,#797bfc,#797bfc)"></i><i style="background:linear-gradient(90deg,#797bfc,#7a7cfc,#7d7ffc,#8182fc,#8486fc,#8788fc,#8a8cfc,#8e90fd,#9395fd,#9b9dfd,#a7a8fd,#b5b6fd,#c7c8fe,#dadafe,#e7e7fe,#f3f3ff,#fff9f9,#fee1e1,#fdd1d1,#fcc5c5,#fcb9b9,#fbadad,#fba4a4,#fa9e9e,#fa9a9a,#fa9797,#fa9696,#fa9595,#fa9797,#fa9b9b,#faa2a2,#fbadad,#fcbaba,#fcc8c8,#fdd5d5,#fee3e3,#feeeee,#fff7f7,#fffdfd,#fcfcff,#f4f4ff,#eaeaff,#dedefe,#d3d3fe,#c9cafe,#c1c2fe,#b8b9fd,#b0b1fd,#a8aafd,#a1a3fd,#9b9cfd,#9294fd,#8a8cfc,#8485fc,#7f81fc,#7c7efc,#7a7bfc,#797bfc,#797bfc,#797bfc)"></i><i style="background:linear-gradient(90deg,#797bfc,#7b7dfc,#7f81fc,#8385fc,#8688fc,#898bfc,#8d8efd,#9193fd,#9799fd,#a0a1fd,#abacfd,#b9bafd,#ccccfe,#ddddfe,#e9eaff,#f7f7ff,#fef4f4,#fddddd,#fdcfcf,#fcc5c5,#fcbaba,#fbafaf,#fba6a6,#faa0a0,#fa9c9c,#fa9999,#fa9898,#fa9898,#fa9a9a,#fa9f9f,#fba7a7,#fbb2b2,#fcbfbf,#fdcdcd,#fddbdb,#fee8e8,#fef2f2,#fffafa,#ffffff,#f9f9ff,#f1f1ff,#e6e6fe,#dadbfe,#cfd0fe,#c6c7fe,#bebffe,#b6b7fd,#aeaffd,#a6a8fd,#a0a1fd,#999bfd,#9193fd,#898bfc,#8385fc,#7f80fc,#7c7dfc,#797bfc,#797bfc,#797bfc,#797bfc)"></i><i style="background:linear-gradient(90deg,#7a7cfc,#7e7ffc,#8284fc,#8587fc,#888afc,#8c8efd,#9092fd,#9596fd,#9b9dfd,#a4a6fd,#b0b1fd,#bfbffe,#d0d1fe,#e0e1fe,#ecedff,#fcfcff,#feefef,#fddada,#fdcece,#fcc5c5,#fcbbbb,#fbb1b1,#fba9a9,#faa3a3,#fa9f9f,#fa9c9c,#fa9b9b,#fa9b9b,#fa9e9e,#fba3a3,#fbacac,#fcb8b8,#fcc5c5,#fdd2d2,#fee1e1,#feeded,#fff7f7,#fffdfd,#fcfcff,#f5f5ff,#ecedff,#e1e2fe,#d6d6fe,#cbccfe,#c2c3fe,#babbfe,#b2b3fd,#abacfd,#a4a6fd,#9e9ffd,#989afd,#9091fd,#888afc,#8284fc,#7e80fc,#7b7dfc,#797bfc,#797bfc,#797bfc,#797bfc)"></i><i style="background:linear-gradient(90deg,#7c7efc,#8082fc,#8486fc,#888afc,#8b8dfd,#8f91fd,#9495fd,#999afd,#a0a1fd,#a9abfd,#b5b6fd,#c4c5fe,#d5d5fe,#e4e4fe,#f0f0ff,#fffefe,#feebeb,#fdd7d7,#fdcdcd,#fcc5c5,#fcbcbc,#fbb3b3,#fbabab,#fba5a5,#faa2a2,#fa9f9f,#fa9e9e,#fa9f9f,#faa2a2,#fba9a9,#fbb2b2,#fcbebe,#fccbcb,#fdd9d9,#fee7e7,#fef3f3,#fffbfb,#ffffff,#f8f8ff,#f1f1ff,#e7e7fe,#dcdcfe,#d0d1fe,#c6c7fe,#bebffe,#b6b7fd,#afb0fd,#a8a9fd,#a2a3fd,#9c9efd,#9698fd,#8e90fd,#8789fc,#8283fc,#7e80fc,#7b7dfc,#797bfc,#797bfc,#797bfc,#797bfc)"></i><i style="background:linear-gradient(90deg,#7f80fc,#8385fc,#8789fc,#8b8cfc,#8e90fd,#9394fd,#9799fd,#9d9ffd,#a5a6fd,#afb0fd,#bbbcfe,#c9cafe,#d9dafe,#e8e8fe,#f4f5ff,#fffbfb,#fee7e7,#fdd5d5,#fccccc,#fcc6c6,#fcbdbd,#fbb5b5,#fbaeae,#fba8a8,#fba5a5,#faa3a3,#faa2a2,#fba3a3,#fba7a7,#fbafaf,#fcb9b9,#fcc6c6,#fdd2d2,#fee1e1,#feeeee,#fff8f8,#fffefe,#fbfbff,#f4f4ff,#ebebff,#e0e1fe,#d5d5fe,#cacafe,#c0c1fe,#b9bafd,#b2b3fd,#abacfd,#a5a6fd,#9fa1fd,#9a9cfd,#9495fd,#8d8efd,#8688fc,#8183fc,#7d7ffc,#7b7dfc,#797bfc,#797bfc,#797bfc,#797bfc)"></i><i style="background:linear-gradient(90deg,#8183fc,#8687fc,#8a8bfc,#8e8ffd,#9293fd,#9698fd,#9c9dfd,#a2a3fd,#aaabfd,#b4b5fd,#c0c1fe,#cecffe,#dedefe,#ececff,#f9f9ff,#fff7f7,#fee3e3,#fdd4d4,#fccccc,#fcc6c6,#fcbfbf,#fbb7b7,#fbb0b0,#fbabab,#fba8a8,#fba6a6,#fba6a6,#fba8a8,#fbadad,#fbb6b6,#fcc1c1,#fdcdcd,#fddada,#fee8e8,#fef4f4,#fffcfc,#fdfdff,#f7f7ff,#eeeeff,#e3e4fe,#d8d8fe,#cccdfe,#c2c3fe,#babbfe,#b3b4fd,#adaefd,#a7a8fd,#a1a3fd,#9d9efd,#9899fd,#9293fd,#8a8cfc,#8587fc,#8082fc,#7d7ffc,#7a7cfc,#797bfc,#797bfc,#797bfc,#797bfc)"></i><i style="background:linear-gradient(90deg,#8485fc,#888afc,#8d8efd,#9193fd,#9697fd,#9a9cfd,#a0a1fd,#a7a8fd,#afb0fd,#b9bafd,#c5c6fe,#d3d4fe,#e2e3fe,#f0f0ff,#fefeff,#fef3f3,#fde0e0,#fdd3d3,#fccccc,#fcc7c7,#fcc0c0,#fcb9b9,#fbb3b3,#fbafaf,#fbacac,#fbabab,#fbabab,#fbaeae,#fbb4b4,#fcbdbd,#fcc9c9,#fdd5d5,#fee2e2,#fef0f0,#fffafa,#ffffff,#fafaff,#f1f1ff,#e5e5fe,#d9d9fe,#cdcefe,#c2c3fe,#babbfe,#b3b4fd,#adaefd,#a8a9fd,#a3a4fd,#9ea0fd,#9a9bfd,#9597fd,#8f91fd,#898afc,#8485fc,#8081fc,#7c7efc,#7a7cfc,#797bfc,#797bfc,#797bfc,#797bfc)"></i><i style="background:linear-gradient(90deg,#8688fc,#8b8dfc,#9092fd,#9596fd,#9a9bfd,#9fa0fd,#a5a6fd,#acadfd,#b4b5fd,#bebffe,#cacbfe,#d8d9fe,#e7e7fe,#f5f5ff,#fffdfd,#feefef,#fddede,#fdd2d2,#fccccc,#fcc8c8,#fcc2c2,#fcbcbc,#fbb6b6,#fbb2b2,#fbb0b0,#fbb0b0,#fbb1b1,#fbb5b5,#fcbcbc,#fcc6c6,#fdd1d1,#fddede,#feebeb,#fff7f7,#fffefe,#fdfdff,#f5f5ff,#e8e9ff,#d9d9fe,#ccccfe,#c1c2fe,#b8b9fd,#b2b3fd,#acadfd,#a7a9fd,#a3a4fd,#9fa0fd,#9b9cfd,#9799fd,#9294fd,#8c8efd,#8789fc,#8284fc,#7f81fc,#7c7efc,#7a7cfc,#797bfc,#797bfc,#797bfc,#797bfc)"></i><i style="background:linear-gradient(90deg,#898bfc,#8e90fd,#9395fd,#989afd,#9d9ffd,#a3a4fd,#a9aafd,#b0b2fd,#b9bafd,#c3c4fe,#cfd0fe,#ddddfe,#ececff,#f9faff,#fffafa,#feecec,#fddddd,#fdd2d2,#fdcdcd,#fcc9c9,#fcc4c4,#fcbebe,#fcbaba,#fbb7b7,#fbb5b5,#fbb5b5,#fcb8b8,#fcbdbd,#fcc5c5,#fdcfcf,#fddbdb,#fee7e7,#fef3f3,#fffcfc,#fefeff,#fafaff,#efefff,#dbdcfe,#cacafe,#bdbefe,#b5b6fd,#afb0fd,#aaabfd,#a5a7fd,#a2a3fd,#9e9ffd,#9b9cfd,#9799fd,#9495fd,#8f91fd,#898bfc,#8587fc,#8183fc,#7e80fc,#7b7dfc,#7a7bfc,#797bfc,#797bfc,#797bfc,#797bfc)"></i><i style="background:linear-gradient(90deg,#8c8dfd,#9192fd,#9798fd,#9c9dfd,#a1a3fd,#a7a8fd,#aeaffd,#b5b6fd,#bebffe,#c8c9fe,#d4d4fe,#e2e2fe,#f0f1ff,#fefeff,#fff7f7,#feeaea,#fddddd,#fdd3d3,#fdcece,#fccaca,#fcc6c6,#fcc1c1,#fcbdbd,#fcbbbb,#fcbaba,#fcbcbc,#fcbfbf,#fcc5c5,#fdcece,#fdd8d8,#fee4e4,#feefef,#fffafa,#ffffff,#fcfcff,#f8f8ff,#e5e5fe,#cbcbfe,#b9bafd,#b0b1fd,#aaabfd,#a5a7fd,#a2a3fd,#9fa0fd,#9c9efd,#9a9bfd,#9799fd,#9495fd,#9092fd,#8c8efd,#8789fc,#8485fc,#8082fc,#7d7ffc,#7b7dfc,#797bfc,#797bfc,#797bfc,#797bfc,#797bfc)"></i><i style="background:linear-gradient(90deg,#8e90fd,#9495fd,#9a9bfd,#a0a1fd,#a5a6fd,#abacfd,#b2b3fd,#babbfe,#c3c3fe,#cdcdfe,#d9d9fe,#e7e7fe,#f5f5ff,#fffefe,#fef5f5,#fee8e8,#fddddd,#fdd4d4,#fdcfcf,#fccccc,#fcc8c8,#fcc5c5,#fcc2c2,#fcc0c0,#fcc1c1,#fcc3c3,#fcc7c7,#fdcfcf,#fdd8d8,#fee2e2,#feecec,#fff6f6,#fffefe,#fbfbff,#fbfbff,#f4f4ff,#d6d7fe,#b8b9fd,#acadfd,#a5a6fd,#a1a2fd,#9e9ffd,#9b9dfd,#9a9bfd,#9799fd,#9697fd,#9395fd,#9092fd,#8d8efd,#898bfc,#8587fc,#8284fc,#7f81fc,#7c7efc,#7a7cfc,#797bfc,#797bfc,#797bfc,#797bfc,#797bfc)"></i><i style="background:linear-gradient(90deg,#9192fd,#9798fd,#9d9ffd,#a3a4fd,#a9aafd,#afb0fd,#b6b7fd,#bebffe,#c7c8fe,#d1d2fe,#ddddfe,#ececff,#fafaff,#fffbfb,#fef2f2,#fee8e8,#fddddd,#fdd6d6,#fdd1d1,#fdcece,#fccbcb,#fcc8c8,#fcc6c6,#fcc6c6,#fcc7c7,#fccbcb,#fdd0d0,#fdd8d8,#fee1e1,#feeaea,#fef3f3,#fffcfc,#fbfbff,#f9f9ff,#f9f9ff,#ededff,#c4c4fe,#a9aafd,#a1a2fd,#9d9efd,#9a9bfd,#9799fd,#9698fd,#9596fd,#9395fd,#9293fd,#8f91fd,#8d8efd,#8a8bfc,#8788fc,#8485fc,#8082fc,#7e80fc,#7c7efc,#7a7cfc,#797bfc,#797bfc,#797bfc,#797bfc,#797bfc)"></i><i style="background:linear-gradient(90deg,#9394fd,#9a9bfd,#a0a2fd,#a6a8fd,#adaefd,#b3b4fd,#babbfe,#c3c3fe,#cbccfe,#d6d6fe,#e2e2fe,#f0f1ff,#fefeff,#fff9f9,#fef1f1,#fee7e7,#fddede,#fdd8d8,#fdd3d3,#fdd0d0,#fdcece,#fdcccc,#fccccc,#fdcccc,#fdcfcf,#fdd3d3,#fdd9d9,#fee1e1,#fee9e9,#fef1f1,#fff9f9,#fefeff,#f7f7ff,#f6f6ff,#f7f7ff,#e3e4fe,#b4b5fd,#9e9ffd,#9a9cfd,#9899fd,#9596fd,#9394fd,#9294fd,#9192fd,#8f91fd,#8e90fd,#8c8efd,#8a8bfc,#8789fc,#8486fc,#8284fc,#7f81fc,#7d7ffc,#7b7dfc,#797bfc,#797bfc,#797bfc,#797bfc,#797bfc,#797bfc)"></i><i style="background:linear-gradient(90deg,#9597fd,#9c9efd,#a3a5fd,#aaabfd,#b0b1fd,#b7b8fd,#bfbffe,#c7c8fe,#d0d0fe,#dadbfe,#e7e7fe,#f5f5ff,#fffefe,#fff7f7,#fef0f0,#fee8e8,#fde0e0,#fddada,#fdd5d5,#fdd3d3,#fdd1d1,#fdd1d1,#fdd1d1,#fdd3d3,#fdd6d6,#fddbdb,#fee1e1,#fee8e8,#feefef,#fff7f7,#fffefe,#f8f8ff,#f3f3ff,#f3f3ff,#f3f3ff,#dadbfe,#a8aafd,#989afd,#9799fd,#9496fd,#9192fd,#8f90fd,#8e90fd,#8d8efd,#8c8efd,#8b8cfc,#898bfc,#8789fc,#8586fc,#8284fc,#8082fc,#7e80fc,#7c7efc,#7a7cfc,#797bfc,#797bfc,#797bfc,#797bfc,#797bfc,#797bfc)"></i><i style="background:linear-gradient(90deg,#9899fd,#9fa0fd,#a6a8fd,#adaefd,#b4b5fd,#bbbcfe,#c3c3fe,#cbccfe,#d4d5fe,#dedffe,#ebebff,#f9f9ff,#fffcfc,#fff6f6,#feefef,#fee8e8,#fee2e2,#fddcdc,#fdd8d8,#fdd6d6,#fdd5d5,#fdd5d5,#fdd6d6,#fdd9d9,#fddddd,#fee2e2,#fee8e8,#feeeee,#fef5f5,#fffbfb,#fcfcff,#f3f3ff,#efefff,#efefff,#ecedff,#d0d0fe,#a2a3fd,#9799fd,#9799fd,#9395fd,#8e90fd,#8b8dfd,#8b8dfc,#898bfc,#898bfc,#8889fc,#8688fc,#8586fc,#8384fc,#8183fc,#7f81fc,#7d7ffc,#7b7dfc,#7a7cfc,#797bfc,#797bfc,#797bfc,#797bfc,#797bfc,#797bfc)"></i><i style="background:linear-gradient(90deg,#9a9cfd,#a2a3fd,#a9abfd,#b0b2fd,#b7b8fd,#bfc0fe,#c6c7fe,#cfcffe,#d8d8fe,#e2e3fe,#efefff,#fcfcff,#fffbfb,#fff5f5,#feefef,#fee9e9,#fee4e4,#fddfdf,#fddbdb,#fdd9d9,#fdd9d9,#fdd9d9,#fddbdb,#fddfdf,#fee3e3,#fee7e7,#feeded,#fef3f3,#fff9f9,#ffffff,#f6f6ff,#eeeeff,#eaebff,#eaeaff,#e4e5fe,#c5c6fe,#9fa0fd,#9799fd,#9799fd,#9596fd,#8e90fd,#8a8bfc,#888afc,#8789fc,#8688fc,#8587fc,#8486fc,#8385fc,#8183fc,#7f81fc,#7e7ffc,#7c7efc,#7a7cfc,#797bfc,#797bfc,#797bfc,#797bfc,#797bfc,#797bfc,#797bfc)"></i><i style="background:linear-gradient(90deg,#9d9efd,#a4a6fd,#acadfd,#b4b5fd,#bbbcfe,#c2c3fe,#cacbfe,#d3d3fe,#dcdcfe,#e6e7fe,#f3f3ff,#ffffff,#fffafa,#fef4f4,#feefef,#feebeb,#fee6e6,#fee1e1,#fddede,#fddcdc,#fddddd,#fddede,#fde0e0,#fee4e4,#fee7e7,#feecec,#fef1f1,#fff7f7,#fffdfd,#f9f9ff,#f0f0ff,#eaeaff,#e6e6fe,#e4e4fe,#dcdcfe,#bdbefe,#9e9ffd,#9799fd,#9799fd,#9798fd,#9192fd,#8b8dfd,#888afc,#8789fc,#8688fc,#8687fc,#8486fc,#8384fc,#8183fc,#7f81fc,#7d7ffc,#7c7efc,#7a7cfc,#797bfc,#797bfc,#797bfc,#797bfc,#797bfc,#797bfc,#797bfc)"></i><i style="background:linear-gradient(90deg,#a0a1fd,#a7a8fd,#afb0fd,#b7b8fd,#bebffe,#c6c7fe,#cecffe,#d6d7fe,#dfe0fe,#eaeaff,#f6f6ff,#fffefe,#fff9f9,#fef4f4,#fef0f0,#feecec,#fee8e8,#fee4e4,#fee1e1,#fde0e0,#fee1e1,#fee2e2,#fee5e5,#fee8e8,#feebeb,#fef0f0,#fff5f5,#fffbfb,#fcfcff,#f3f3ff,#ebebff,#e5e5fe,#e1e2fe,#dedefe,#d5d5fe,#babbfe,#9ea0fd,#9799fd,#9799fd,#9799fd,#9495fd,#8e90fd,#8b8dfc,#898bfc,#898afc,#888afc,#8788fc,#8486fc,#8284fc,#8082fc,#7e80fc,#7c7efc,#7b7dfc,#797bfc,#797bfc,#797bfc,#797bfc,#797bfc,#797bfc,#797bfc)"></i><i style="background:linear-gradient(90deg,#a2a4fd,#aaabfd,#b2b3fd,#babbfe,#c2c3fe,#c9cafe,#d1d2fe,#dadafe,#e3e3fe,#ededff,#f8f8ff,#fffdfd,#fff9f9,#fef4f4,#fef1f1,#feeeee,#feeaea,#fee7e7,#fee5e5,#fee4e4,#fee5e5,#fee6e6,#fee9e9,#feebeb,#feefef,#fef3f3,#fff9f9,#ffffff,#f5f5ff,#ececff,#e5e5fe,#e0e1fe,#ddddfe,#d9d9fe,#cfd0fe,#b8b9fd,#a0a1fd,#9799fd,#9799fd,#9799fd,#9698fd,#9293fd,#8e90fd,#8d8efd,#8b8dfd,#8b8dfc,#898bfc,#8788fc,#8486fc,#8283fc,#7f81fc,#7d7ffc,#7b7dfc,#7a7cfc,#797bfc,#797bfc,#797bfc,#797bfc,#797bfc,#797bfc)"></i><i style="background:linear-gradient(90deg,#a5a6fd,#adaefd,#b5b6fd,#bdbefe,#c5c6fe,#cdcdfe,#d5d5fe,#ddddfe,#e6e6fe,#f0f0ff,#fafaff,#fffdfd,#fff8f8,#fff5f5,#fef2f2,#feefef,#feeded,#feeaea,#fee9e9,#fee8e8,#fee9e9,#feeaea,#feeded,#feefef,#fef3f3,#fff8f8,#fffefe,#f6f6ff,#ecedff,#e5e5fe,#dfe0fe,#dcdcfe,#d9d9fe,#d4d4fe,#cacbfe,#b7b8fd,#a2a3fd,#9899fd,#9799fd,#9799fd,#9899fd,#9597fd,#9294fd,#9192fd,#8f90fd,#8e90fd,#8c8efd,#898bfc,#8688fc,#8385fc,#8183fc,#7e80fc,#7c7efc,#7b7dfc,#7a7bfc,#797bfc,#797bfc,#797bfc,#797bfc,#797bfc)"></i><i style="background:linear-gradient(90deg,#a8a9fd,#b0b1fd,#b8b9fd,#c0c1fe,#c8c9fe,#d0d0fe,#d8d8fe,#e0e0fe,#e8e9ff,#f2f2ff,#fcfcff,#fffdfd,#fff9f9,#fff6f6,#fef3f3,#fef1f1,#feefef,#feeeee,#feeded,#feeded,#feeded,#feefef,#fef1f1,#fef4f4,#fff8f8,#fffefe,#f7f7ff,#ececff,#e3e4fe,#dedefe,#dadbfe,#d7d8fe,#d4d5fe,#cfd0fe,#c6c7fe,#b6b7fd,#a3a5fd,#999afd,#9799fd,#9799fd,#989afd,#9799fd,#9697fd,#9596fd,#9394fd,#9294fd,#9091fd,#8c8efd,#898afc,#8587fc,#8284fc,#8081fc,#7d7ffc,#7c7dfc,#7a7cfc,#797bfc,#797bfc,#797bfc,#797bfc,#797bfc)"></i><i style="background:linear-gradient(90deg,#aaacfd,#b2b3fd,#bbbcfe,#c3c4fe,#cbccfe,#d3d3fe,#dadbfe,#e2e3fe,#ebebff,#f4f4ff,#fdfdff,#fffcfc,#fff9f9,#fff6f6,#fef5f5,#fef3f3,#fef2f2,#fef1f1,#fef1f1,#fef1f1,#fef2f2,#fef4f4,#fff6f6,#fffafa,#ffffff,#f6f6ff,#eaebff,#e1e2fe,#dbdbfe,#d7d7fe,#d4d5fe,#d2d3fe,#cfd0fe,#cacbfe,#c2c2fe,#b3b5fd,#a4a5fd,#9a9cfd,#9799fd,#9899fd,#999afd,#999afd,#9899fd,#9799fd,#9798fd,#9697fd,#9495fd,#9091fd,#8b8dfd,#8889fc,#8486fc,#8183fc,#7e80fc,#7c7efc,#7b7dfc,#7a7cfc,#797bfc,#797bfc,#797bfc,#797bfc)"></i><i style="background:linear-gradient(90deg,#adaefd,#b5b6fd,#bebffe,#c6c7fe,#cecffe,#d6d6fe,#ddddfe,#e5e5fe,#ededff,#f5f5ff,#fdfdff,#fffcfc,#fff9f9,#fff7f7,#fff6f6,#fff5f5,#fef5f5,#fef5f5,#fff5f5,#fff6f6,#fff7f7,#fff9f9,#fffcfc,#fdfdff,#f3f3ff,#e8e8fe,#dedefe,#d7d7fe,#d2d3fe,#d0d0fe,#cecffe,#cdcdfe,#cacbfe,#c5c6fe,#bdbefe,#b1b2fd,#a4a5fd,#9b9dfd,#989afd,#999afd,#999bfd,#9a9bfd,#999bfd,#999bfd,#999afd,#989afd,#9798fd,#9395fd,#8e90fd,#8a8cfc,#8688fc,#8284fc,#8081fc,#7d7ffc,#7c7efc,#7a7cfc,#797bfc,#797bfc,#797bfc,#797bfc)"></i><i style="background:linear-gradient(90deg,#afb0fd,#b7b8fd,#c0c1fe,#c9c9fe,#d1d1fe,#d8d9fe,#dfe0fe,#e7e7fe,#eeefff,#f6f6ff,#fefeff,#fffdfd,#fffafa,#fff8f8,#fff7f7,#fff7f7,#fff7f7,#fff8f8,#fff9f9,#fffafa,#fffcfc,#ffffff,#f9f9ff,#efefff,#e4e4fe,#dadafe,#d2d3fe,#cdcdfe,#c9cafe,#c8c9fe,#c7c8fe,#c6c7fe,#c4c4fe,#bfc0fe,#b8b9fd,#aeaffd,#a3a5fd,#9c9dfd,#999bfd,#999bfd,#9a9cfd,#9a9cfd,#9b9cfd,#9a9cfd,#9a9cfd,#9a9bfd,#999afd,#9698fd,#9293fd,#8d8efd,#888afc,#8486fc,#8183fc,#7f80fc,#7d7efc,#7b7dfc,#7a7cfc,#797bfc,#797bfc,#797bfc)"></i><i style="background:linear-gradient(90deg,#b1b2fd,#babbfe,#c3c3fe,#cbccfe,#d3d4fe,#dbdbfe,#e2e2fe,#e9e9ff,#f0f0ff,#f7f7ff,#fefeff,#fffdfd,#fffafa,#fff9f9,#fff9f9,#fff9f9,#fffafa,#fffbfb,#fffcfc,#fffefe,#fdfdff,#f5f6ff,#ececff,#e1e1fe,#d7d7fe,#cecffe,#c7c8fe,#c3c4fe,#c0c1fe,#bfc0fe,#bfc0fe,#bebffe,#bcbdfe,#b8b9fd,#b2b4fd,#aaacfd,#a2a4fd,#9d9efd,#9a9cfd,#9a9cfd,#9b9cfd,#9b9dfd,#9c9dfd,#9c9dfd,#9c9dfd,#9b9dfd,#9a9cfd,#989afd,#9597fd,#9091fd,#8a8cfc,#8688fc,#8385fc,#8082fc,#7e7ffc,#7c7efc,#7a7cfc,#797bfc,#797bfc,#797bfc)"></i><i style="background:linear-gradient(90deg,#b3b4fd,#bcbdfe,#c5c6fe,#cdcefe,#d6d6fe,#ddddfe,#e4e4fe,#ebebff,#f1f2ff,#f8f8ff,#ffffff,#fffdfd,#fffbfb,#fffafa,#fffafa,#fffbfb,#fffbfb,#fffdfd,#fffefe,#fcfcff,#f5f5ff,#ebebff,#e0e0fe,#d6d6fe,#cdcdfe,#c5c6fe,#bebffe,#b9bafd,#b6b7fd,#b5b6fd,#b4b5fd,#b4b5fd,#b3b4fd,#b1b2fd,#adaefd,#a7a8fd,#a1a3fd,#9d9ffd,#9b9dfd,#9b9dfd,#9c9dfd,#9c9efd,#9d9efd,#9d9efd,#9d9efd,#9d9efd,#9c9dfd,#9a9cfd,#9899fd,#9394fd,#8d8efd,#888afc,#8486fc,#8183fc,#7f81fc,#7d7ffc,#7b7dfc,#7a7bfc,#797bfc,#797bfc)"></i><i style="background:linear-gradient(90deg,#b5b6fd,#bdbefe,#c7c8fe,#d0d0fe,#d8d8fe,#dfe0fe,#e6e6fe,#ecedff,#f3f3ff,#f9f9ff,#ffffff,#fffdfd,#fffbfb,#fffbfb,#fffbfb,#fffcfc,#fffdfd,#ffffff,#fcfcff,#f6f6ff,#edeeff,#e2e2fe,#d7d7fe,#cdcefe,#c5c6fe,#bdbefe,#b5b6fd,#afb0fd,#abacfd,#a9aafd,#a8aafd,#a9aafd,#aaabfd,#a9abfd,#a7a8fd,#a4a5fd,#a0a2fd,#9e9ffd,#9d9efd,#9d9efd,#9d9ffd,#9e9ffd,#9e9ffd,#9ea0fd,#9ea0fd,#9e9ffd,#9d9ffd,#9c9dfd,#999bfd,#9697fd,#9091fd,#8b8cfc,#8688fc,#8385fc,#8082fc,#7e80fc,#7c7efc,#7a7cfc,#797bfc,#797bfc)"></i><i style="background:linear-gradient(90deg,#b7b8fd,#bfc0fe,#c9cafe,#d2d3fe,#dadbfe,#e1e2fe,#e8e8ff,#eeeeff,#f4f4ff,#fafaff,#ffffff,#fffdfd,#fffcfc,#fffbfb,#fffcfc,#fffdfd,#fffefe,#fefeff,#f9f9ff,#f2f2ff,#e8e8fe,#dbdcfe,#d1d2fe,#c8c8fe,#c0c0fe,#b7b8fd,#aeaffd,#a6a7fd,#a0a2fd,#9d9efd,#9c9efd,#9e9ffd,#a1a2fd,#a2a3fd,#a2a3fd,#a1a3fd,#a0a1fd,#9fa0fd,#9e9ffd,#9e9ffd,#9fa0fd,#9fa0fd,#9fa1fd,#a0a1fd,#a0a1fd,#a0a1fd,#9fa0fd,#9d9ffd,#9b9cfd,#989afd,#9394fd,#8e8ffd,#898afc,#8586fc,#8283fc,#7f81fc,#7d7ffc,#7b7dfc,#797bfc,#797bfc)"></i><i style="background:linear-gradient(90deg,#b9bafd,#c2c2fe,#cbccfe,#d4d5fe,#dcddfe,#e4e4fe,#eaeaff,#eff0ff,#f5f5ff,#fafaff,#ffffff,#fffdfd,#fffcfc,#fffbfb,#fffcfc,#fffefe,#ffffff,#fcfcff,#f7f7ff,#efefff,#e4e5fe,#d8d9fe,#cecffe,#c4c5fe,#bcbdfe,#b3b4fd,#a8a9fd,#9e9ffd,#9698fd,#9193fd,#9293fd,#9496fd,#989afd,#9c9dfd,#9e9ffd,#a0a1fd,#a0a1fd,#a0a1fd,#a0a1fd,#a0a1fd,#a0a2fd,#a1a2fd,#a1a2fd,#a1a3fd,#a1a3fd,#a1a2fd,#a0a2fd,#9fa0fd,#9d9efd,#9a9bfd,#9697fd,#9192fd,#8b8dfc,#8788fc,#8385fc,#8082fc,#7e80fc,#7c7efc,#797bfc,#797bfc)"></i><i style="background:linear-gradient(90deg,#bbbcfe,#c4c5fe,#cecefe,#d7d7fe,#dfdffe,#e6e6fe,#ececff,#f1f1ff,#f6f6ff,#fbfbff,#ffffff,#fffdfd,#fffbfb,#fffbfb,#fffdfd,#fffefe,#fefeff,#fbfbff,#f5f6ff,#eeeeff,#e3e4fe,#d8d9fe,#cdcefe,#c3c4fe,#bbbcfe,#b1b2fd,#a4a6fd,#9799fd,#8e90fd,#898afc,#8a8cfc,#8d8ffd,#9293fd,#9798fd,#9b9dfd,#9fa0fd,#a1a2fd,#a2a3fd,#a2a3fd,#a2a3fd,#a2a3fd,#a2a4fd,#a3a4fd,#a3a4fd,#a3a4fd,#a3a4fd,#a2a3fd,#a0a2fd,#9ea0fd,#9c9dfd,#989afd,#9495fd,#8e90fd,#898bfc,#8587fc,#8283fc,#7f81fc,#7d7efc,#7a7cfc,#797bfc)"></i><i style="background:linear-gradient(90deg,#bebffe,#c7c7fe,#d0d1fe,#d9dafe,#e1e2fe,#e8e8ff,#eeeeff,#f3f3ff,#f7f7ff,#fcfcff,#fffefe,#fffcfc,#fffbfb,#fffbfb,#fffcfc,#fffefe,#fefeff,#fbfbff,#f6f6ff,#eeeeff,#e5e5fe,#dadafe,#cfd0fe,#c4c5fe,#bbbcfe,#b2b3fd,#a5a6fd,#9597fd,#8a8cfc,#8485fc,#8687fc,#898bfc,#8f90fd,#9596fd,#9b9cfd,#a0a2fd,#a3a4fd,#a4a5fd,#a4a6fd,#a4a6fd,#a4a6fd,#a4a6fd,#a4a6fd,#a5a6fd,#a5a6fd,#a4a6fd,#a4a5fd,#a2a4fd,#a0a1fd,#9d9ffd,#9a9cfd,#9698fd,#9192fd,#8c8dfd,#8789fc,#8385fc,#8082fc,#7d7ffc,#7b7cfc,#797bfc)"></i><i style="background:linear-gradient(90deg,#c1c2fe,#c9cafe,#d3d3fe,#dcdcfe,#e4e4fe,#eaebff,#f0f0ff,#f4f4ff,#f9f9ff,#fdfdff,#fffefe,#fffbfb,#fffafa,#fffafa,#fffcfc,#fffefe,#ffffff,#fcfcff,#f7f7ff,#f0f0ff,#e7e7fe,#ddddfe,#d2d3fe,#c7c8fe,#bebffe,#b5b6fd,#a9aafd,#999afd,#8c8dfd,#8486fc,#8687fc,#8a8cfc,#9092fd,#9798fd,#9e9ffd,#a3a4fd,#a6a7fd,#a7a9fd,#a7a9fd,#a7a9fd,#a7a8fd,#a7a8fd,#a6a8fd,#a6a8fd,#a6a8fd,#a6a7fd,#a5a7fd,#a4a5fd,#a2a3fd,#9fa0fd,#9c9dfd,#999afd,#9495fd,#8e90fd,#898bfc,#8587fc,#8283fc,#7e80fc,#7c7dfc,#797bfc)"></i><i style="background:linear-gradient(90deg,#c4c5fe,#cccdfe,#d5d6fe,#dedffe,#e6e6fe,#ededff,#f2f2ff,#f6f6ff,#fafaff,#ffffff,#fffdfd,#fffafa,#fff9f9,#fff9f9,#fffbfb,#fffdfd,#fffefe,#fefeff,#f9faff,#f3f3ff,#ebebff,#e1e2fe,#d7d8fe,#cccdfe,#c3c3fe,#babbfe,#b1b2fd,#a4a5fd,#9597fd,#8d8ffd,#8c8efd,#9293fd,#9798fd,#9d9ffd,#a3a5fd,#a8a9fd,#aaabfd,#abacfd,#abacfd,#abacfd,#aaabfd,#a9aafd,#a9aafd,#a8aafd,#a8aafd,#a8a9fd,#a7a9fd,#a6a7fd,#a4a5fd,#a1a2fd,#9e9ffd,#9b9cfd,#9798fd,#9293fd,#8c8dfd,#8789fc,#8385fc,#7f81fc,#7c7efc,#7a7cfc)"></i><i style="background:linear-gradient(90deg,#c7c8fe,#cfcffe,#d8d8fe,#e1e1fe,#e9e9ff,#efefff,#f4f4ff,#f8f8ff,#fcfcff,#fffefe,#fffcfc,#fff9f9,#fff8f8,#fff8f8,#fff9f9,#fffbfb,#fffdfd,#fffefe,#fdfdff,#f7f7ff,#eff0ff,#e7e7fe,#dddefe,#d3d3fe,#c9cafe,#c2c3fe,#bbbcfe,#b3b4fd,#a9aafd,#9ea0fd,#9c9dfd,#a1a3fd,#a5a6fd,#a9aafd,#acadfd,#aeaffd,#b0b1fd,#b0b1fd,#afb0fd,#aeaffd,#adaefd,#acadfd,#abacfd,#abacfd,#aaacfd,#aaabfd,#a9aafd,#a8a9fd,#a5a7fd,#a3a4fd,#a0a1fd,#9c9efd,#999bfd,#9596fd,#8e90fd,#898bfc,#8486fc,#8082fc,#7d7ffc,#7b7dfc)"></i><i style="background:linear-gradient(90deg,#cacafe,#d2d2fe,#dbdbfe,#e3e4fe,#ebecff,#f2f2ff,#f7f7ff,#fbfbff,#ffffff,#fffdfd,#fffafa,#fff7f7,#fff6f6,#fff6f6,#fff7f7,#fff8f8,#fffafa,#fffcfc,#fffefe,#fcfcff,#f5f5ff,#ededff,#e4e5fe,#dbdbfe,#d2d2fe,#cbccfe,#c6c7fe,#c2c3fe,#bfc0fe,#b8bafd,#b5b6fd,#b7b8fd,#b7b8fd,#b6b7fd,#b6b7fd,#b6b7fd,#b6b7fd,#b5b6fd,#b4b5fd,#b2b4fd,#b1b2fd,#afb0fd,#aeaffd,#adaefd,#adaefd,#acadfd,#abacfd,#a9abfd,#a7a8fd,#a4a6fd,#a1a3fd,#9ea0fd,#9b9cfd,#9799fd,#9293fd,#8b8dfd,#8687fc,#8183fc,#7e80fc,#7c7dfc)"></i><i style="background:linear-gradient(90deg,#cccdfe,#d4d5fe,#dddefe,#e6e6fe,#eeeeff,#f4f5ff,#f9faff,#fdfeff,#fffefe,#fffcfc,#fff8f8,#fff5f5,#fef4f4,#fef3f3,#fef4f4,#fff5f5,#fff7f7,#fff8f8,#fffbfb,#fffefe,#fbfbff,#f4f4ff,#ededff,#e5e5fe,#dcddfe,#d6d6fe,#d2d2fe,#d0d0fe,#cfd0fe,#cdcdfe,#cbcbfe,#cbcbfe,#c9c9fe,#c5c6fe,#c2c3fe,#bfc0fe,#bdbefe,#bbbcfe,#b9bafd,#b7b8fd,#b5b6fd,#b3b4fd,#b1b2fd,#b0b1fd,#afb0fd,#aeaffd,#adaefd,#abacfd,#a9aafd,#a6a7fd,#a3a4fd,#a0a1fd,#9d9efd,#999bfd,#9596fd,#8e8ffd,#8789fc,#8284fc,#7f81fc,#7c7efc)"></i><i style="background:linear-gradient(90deg,#cfd0fe,#d7d8fe,#e0e0fe,#e9e9ff,#f1f1ff,#f7f7ff,#fcfcff,#fffefe,#fffcfc,#fff9f9,#fff6f6,#fef3f3,#fef1f1,#fef0f0,#fef1f1,#fef2f2,#fef3f3,#fef4f4,#fff7f7,#fffafa,#fffefe,#fcfcff,#f6f6ff,#f0f0ff,#e9e9ff,#e3e3fe,#dedffe,#dbdcfe,#dadbfe,#dadafe,#dadafe,#dadbfe,#d8d8fe,#d4d5fe,#cecffe,#c8c9fe,#c4c5fe,#c1c2fe,#bebffe,#bcbdfe,#b9bafd,#b7b8fd,#b4b5fd,#b3b4fd,#b1b3fd,#b0b2fd,#afb0fd,#adaefd,#aaabfd,#a7a8fd,#a4a5fd,#a1a3fd,#9ea0fd,#9b9cfd,#9799fd,#9091fd,#898bfc,#8485fc,#8081fc,#7d7efc)"></i><i style="background:linear-gradient(90deg,#d2d3fe,#dadafe,#e3e3fe,#ececff,#f4f4ff,#fafaff,#ffffff,#fffdfd,#fffafa,#fff7f7,#fef4f4,#fef1f1,#feefef,#feeeee,#feeded,#feeeee,#feefef,#fef0f0,#fef2f2,#fff5f5,#fff9f9,#fffdfd,#ffffff,#fbfbff,#f7f7ff,#f2f2ff,#ecedff,#e8e8fe,#e5e5fe,#e4e5fe,#e5e5fe,#e6e7fe,#e5e5fe,#e0e1fe,#d9dafe,#d1d2fe,#cbccfe,#c7c8fe,#c4c5fe,#c2c2fe,#bfbffe,#bbbcfe,#b8b9fd,#b6b7fd,#b4b5fd,#b3b4fd,#b1b2fd,#aeb0fd,#abadfd,#a8aafd,#a5a7fd,#a2a4fd,#a0a1fd,#9c9efd,#999afd,#9294fd,#8b8cfc,#8587fc,#8082fc,#7d7ffc)"></i><i style="background:linear-gradient(90deg,#d5d5fe,#dcddfe,#e5e6fe,#eeeeff,#f6f6ff,#fdfdff,#fffefe,#fffbfb,#fff8f8,#fef5f5,#fef1f1,#feeeee,#feecec,#feebeb,#feeaea,#feeaea,#feebeb,#feecec,#feeeee,#fef0f0,#fef4f4,#fff8f8,#fffafa,#fffcfc,#fffdfd,#ffffff,#fafaff,#f4f4ff,#eff0ff,#eeeeff,#efefff,#f0f0ff,#efefff,#eaebff,#e2e3fe,#d9dafe,#d2d2fe,#cdcdfe,#cacafe,#c7c8fe,#c4c5fe,#c0c1fe,#bcbdfe,#b9bafd,#b7b8fd,#b5b6fd,#b3b4fd,#b0b1fd,#adaefd,#a9abfd,#a6a8fd,#a4a5fd,#a1a2fd,#9e9ffd,#9a9cfd,#9496fd,#8d8efd,#8688fc,#8183fc,#7e80fc)"></i><i style="background:linear-gradient(90deg,#d7d8fe,#dfdffe,#e8e8ff,#f1f1ff,#f9f9ff,#ffffff,#fffcfc,#fff9f9,#fff6f6,#fef2f2,#feefef,#feecec,#feeaea,#fee8e8,#fee7e7,#fee7e7,#fee7e7,#fee8e8,#fee9e9,#feebeb,#feefef,#fef2f2,#fef5f5,#fff6f6,#fff7f7,#fff8f8,#fffcfc,#ffffff,#f8f8ff,#f5f5ff,#f6f6ff,#f7f8ff,#f7f7ff,#f2f2ff,#eaeaff,#e0e0fe,#d7d8fe,#d2d3fe,#cfd0fe,#cccdfe,#cacafe,#c6c6fe,#c1c2fe,#bcbdfe,#b9bafd,#b7b8fd,#b4b5fd,#b1b2fd,#adaffd,#aaabfd,#a7a8fd,#a4a6fd,#a2a3fd,#9fa0fd,#9b9dfd,#9698fd,#8e90fd,#8789fc,#8284fc,#7e80fc)"></i><i style="background:linear-gradient(90deg,#dadafe,#e2e2fe,#ebebff,#f3f4ff,#fcfcff,#fffefe,#fffafa,#fff7f7,#fef3f3,#fef0f0,#feecec,#fee9e9,#fee7e7,#fee6e6,#fee4e4,#fee4e4,#fee4e4,#fee4e4,#fee5e5,#fee7e7,#fee9e9,#feeded,#fef0f0,#fef1f1,#fef2f2,#fef3f3,#fff6f6,#fffbfb,#ffffff,#fbfbff,#fbfbff,#fdfdff,#fcfcff,#f7f7ff,#efefff,#e5e5fe,#dcdcfe,#d6d7fe,#d3d4fe,#d1d2fe,#cfcffe,#cbcbfe,#c5c6fe,#c0c1fe,#bcbdfe,#b9bafd,#b5b7fd,#b2b3fd,#aeaffd,#abacfd,#a8a9fd,#a5a6fd,#a2a4fd,#a0a1fd,#9c9efd,#9899fd,#9092fd,#888afc,#8384fc,#7f80fc)"></i><i style="background:linear-gradient(90deg,#ddddfe,#e4e4fe,#ededff,#f6f6ff,#fefeff,#fffcfc,#fff9f9,#fff5f5,#fef1f1,#feeded,#feeaea,#fee7e7,#fee5e5,#fee4e4,#fee2e2,#fee1e1,#fee1e1,#fee1e1,#fee2e2,#fee3e3,#fee5e5,#fee9e9,#feecec,#feeded,#feeeee,#feefef,#fef2f2,#fff7f7,#fffdfd,#fefeff,#fefeff,#ffffff,#ffffff,#fafaff,#f2f2ff,#e8e8ff,#dfdffe,#d9dafe,#d7d8fe,#d6d6fe,#d3d4fe,#cfd0fe,#cacafe,#c3c4fe,#bebffe,#babbfe,#b6b7fd,#b2b3fd,#aeaffd,#abacfd,#a8a9fd,#a5a6fd,#a3a4fd,#a0a2fd,#9d9ffd,#999afd,#9293fd,#898bfc,#8385fc,#7f81fc)"></i><i style="background:linear-gradient(90deg,#dfdffe,#e7e7fe,#eff0ff,#f8f8ff,#ffffff,#fffbfb,#fff7f7,#fef3f3,#feefef,#feebeb,#fee8e8,#fee6e6,#fee4e4,#fee2e2,#fee0e0,#fddfdf,#fddfdf,#fddfdf,#fde0e0,#fee0e0,#fee2e2,#fee5e5,#fee9e9,#feebeb,#feecec,#feeded,#fef0f0,#fef5f5,#fffbfb,#ffffff,#ffffff,#fffefe,#ffffff,#fbfbff,#f3f3ff,#e9eaff,#e0e1fe,#dbdcfe,#d9dafe,#d9d9fe,#d7d8fe,#d3d4fe,#cdcefe,#c6c7fe,#c0c1fe,#bbbcfe,#b6b7fd,#b2b3fd,#aeaffd,#aaabfd,#a7a9fd,#a5a6fd,#a3a4fd,#a0a2fd,#9e9ffd,#9a9bfd,#9394fd,#8a8cfc,#8485fc,#7f81fc)"></i><i style="background:linear-gradient(90deg,#e1e2fe,#e9e9ff,#f1f2ff,#fafaff,#fffefe,#fffafa,#fff6f6,#fef2f2,#feeeee,#fee9e9,#fee6e6,#fee4e4,#fee3e3,#fee1e1,#fddfdf,#fddede,#fddddd,#fddede,#fddede,#fddfdf,#fde0e0,#fee3e3,#fee8e8,#feeaea,#feebeb,#feecec,#feefef,#fef4f4,#fffafa,#fffefe,#ffffff,#ffffff,#fefeff,#f9f9ff,#f1f1ff,#e8e9ff,#e0e1fe,#dbdcfe,#dadbfe,#dadbfe,#d9dafe,#d6d6fe,#cfd0fe,#c7c8fe,#c0c1fe,#bbbcfe,#b6b7fd,#b1b2fd,#adaefd,#a9abfd,#a7a8fd,#a5a6fd,#a3a4fd,#a0a2fd,#9e9ffd,#9a9cfd,#9495fd,#8b8cfc,#8486fc,#8081fc)"></i><i style="background:linear-gradient(90deg,#e3e4fe,#ebebff,#f3f3ff,#fcfcff,#fffdfd,#fff9f9,#fef5f5,#fef0f0,#feecec,#fee8e8,#fee5e5,#fee4e4,#fee3e3,#fee1e1,#fddfdf,#fddddd,#fddddd,#fddede,#fddede,#fddede,#fddfdf,#fee3e3,#fee8e8,#feebeb,#feeded,#feeeee,#fef0f0,#fef4f4,#fffafa,#ffffff,#fdfdff,#fcfdff,#fafaff,#f4f5ff,#ededff,#e5e5fe,#dedefe,#dadafe,#d9dafe,#dadbfe,#dadafe,#d6d7fe,#cfd0fe,#c7c8fe,#bfc0fe,#b9bafd,#b4b5fd,#afb0fd,#abacfd,#a8aafd,#a6a7fd,#a4a5fd,#a2a3fd,#a0a2fd,#9e9ffd,#9b9cfd,#9496fd,#8b8dfc,#8486fc,#8081fc)"></i><i style="background:linear-gradient(90deg,#e6e6fe,#ededff,#f5f5ff,#fdfdff,#fffcfc,#fff8f8,#fef4f4,#feefef,#feebeb,#fee7e7,#fee5e5,#fee4e4,#fee3e3,#fee1e1,#fddfdf,#fddddd,#fddede,#fddede,#fddfdf,#fddfdf,#fde0e0,#fee3e3,#fee9e9,#feeded,#feefef,#fef0f0,#fef2f2,#fff6f6,#fffcfc,#fdfdff,#f9f9ff,#f7f7ff,#f3f3ff,#ededff,#e6e6fe,#dfdffe,#d9d9fe,#d6d7fe,#d6d7fe,#d8d9fe,#d8d9fe,#d5d6fe,#cecefe,#c5c5fe,#bcbdfe,#b6b7fd,#b1b2fd,#adaefd,#a9abfd,#a7a8fd,#a5a6fd,#a3a4fd,#a1a3fd,#a0a1fd,#9d9ffd,#9a9cfd,#9496fd,#8b8dfc,#8486fc,#8081fc)"></i><i style="background:linear-gradient(90deg,#e7e8fe,#eeefff,#f6f7ff,#fefeff,#fffcfc,#fff7f7,#fef3f3,#feefef,#feebeb,#fee7e7,#fee5e5,#fee4e4,#fee3e3,#fee2e2,#fde0e0,#fddfdf,#fddfdf,#fddfdf,#fde0e0,#fde0e0,#fee1e1,#fee5e5,#feecec,#fef0f0,#fef2f2,#fef4f4,#fff6f6,#fff9f9,#fffefe,#f8f8ff,#f3f3ff,#efefff,#e9eaff,#e2e3fe,#dbdcfe,#d6d6fe,#d1d2fe,#d0d1fe,#d1d2fe,#d3d4fe,#d4d4fe,#d1d1fe,#c9cafe,#c0c1fe,#b8b9fd,#b2b3fd,#aeaffd,#aaabfd,#a7a8fd,#a5a6fd,#a3a4fd,#a2a3fd,#a0a1fd,#9ea0fd,#9d9efd,#9a9bfd,#9495fd,#8b8cfc,#8486fc,#8081fc)"></i><i style="background:linear-gradient(90deg,#e9e9ff,#f0f0ff,#f8f8ff,#ffffff,#fffbfb,#fff7f7,#fef2f2,#feeeee,#feeaea,#fee7e7,#fee6e6,#fee5e5,#fee4e4,#fee3e3,#fee1e1,#fde0e0,#fde0e0,#fee1e1,#fee2e2,#fee2e2,#fee4e4,#fee9e9,#fef0f0,#fef4f4,#fff6f6,#fff8f8,#fffafa,#fffdfd,#fafaff,#f1f1ff,#ebebff,#e4e5fe,#dcddfe,#d4d5fe,#cecffe,#cacbfe,#c8c8fe,#c8c8fe,#c9cafe,#cbccfe,#cccdfe,#c9cafe,#c2c3fe,#b9bafd,#b2b3fd,#adaefd,#a9aafd,#a6a8fd,#a4a5fd,#a2a4fd,#a1a2fd,#a0a1fd,#9ea0fd,#9d9efd,#9b9dfd,#999afd,#9293fd,#8a8bfc,#8485fc,#7f81fc)"></i><i style="background:linear-gradient(90deg,#ebebff,#f1f1ff,#f9f9ff,#ffffff,#fffbfb,#fff6f6,#fef2f2,#feeeee,#feeaea,#fee8e8,#fee6e6,#fee5e5,#fee5e5,#fee4e4,#fee3e3,#fee2e2,#fee2e2,#fee3e3,#fee4e4,#fee5e5,#fee7e7,#feeded,#fef4f4,#fff9f9,#fffbfb,#fffcfc,#fffefe,#fafaff,#f1f1ff,#e8e8ff,#e1e1fe,#d7d8fe,#cccdfe,#c4c5fe,#c0c1fe,#bdbefe,#bcbdfe,#bdbefe,#bebffe,#c0c1fe,#c0c1fe,#bdbefe,#b7b8fd,#b0b1fd,#abacfd,#a7a8fd,#a4a6fd,#a2a4fd,#a1a2fd,#a0a1fd,#9fa0fd,#9e9ffd,#9d9efd,#9b9dfd,#9a9bfd,#9798fd,#9092fd,#888afc,#8385fc,#7f81fc)"></i><i style="background:linear-gradient(90deg,#ececff,#f2f2ff,#f9f9ff,#fffefe,#fffbfb,#fff6f6,#fef2f2,#feeeee,#feeaea,#fee8e8,#fee7e7,#fee6e6,#fee5e5,#fee5e5,#fee4e4,#fee4e4,#fee4e4,#fee5e5,#fee6e6,#fee7e7,#feebeb,#fef2f2,#fff9f9,#fffdfd,#ffffff,#fdfdff,#f7f8ff,#f0f0ff,#e7e8fe,#dfdffe,#d7d7fe,#c9cafe,#bdbefe,#b5b6fd,#b2b3fd,#b2b3fd,#b1b2fd,#b2b3fd,#b1b3fd,#b1b2fd,#b0b2fd,#adaefd,#a8aafd,#a4a6fd,#a2a3fd,#a1a2fd,#9fa1fd,#9ea0fd,#9d9ffd,#9d9efd,#9c9efd,#9b9dfd,#9a9cfd,#999afd,#9799fd,#9495fd,#8e90fd,#8789fc,#8284fc,#7f81fc)"></i><i style="background:linear-gradient(90deg,#ededff,#f3f3ff,#fafaff,#fffefe,#fffbfb,#fff6f6,#fef2f2,#feeeee,#feebeb,#fee9e9,#fee7e7,#fee7e7,#fee6e6,#fee6e6,#fee5e5,#fee5e5,#fee6e6,#fee6e6,#fee7e7,#fee9e9,#feeeee,#fff6f6,#fffdfd,#fefeff,#f9f9ff,#f4f4ff,#eeeeff,#e7e7fe,#dedffe,#d7d8fe,#cecefe,#bebffe,#b1b3fd,#aaabfd,#a7a8fd,#a7a8fd,#a7a8fd,#a6a7fd,#a4a5fd,#a1a2fd,#9fa1fd,#9b9dfd,#999bfd,#989afd,#989afd,#9a9bfd,#9a9bfd,#9a9bfd,#9a9bfd,#9a9bfd,#999bfd,#999afd,#9799fd,#9698fd,#9495fd,#9092fd,#8b8dfd,#8688fc,#8183fc,#7f81fc)"></i><i style="background:linear-gradient(90deg,#eeeeff,#f4f4ff,#fafaff,#fffefe,#fffbfb,#fff6f6,#fef2f2,#feeeee,#feebeb,#fee9e9,#fee8e8,#fee7e7,#fee7e7,#fee6e6,#fee6e6,#fee6e6,#fee7e7,#fee7e7,#fee8e8,#feebeb,#fef0f0,#fff8f8,#ffffff,#f9f9ff,#f3f3ff,#ededff,#e6e6fe,#dfdffe,#d8d9fe,#d1d2fe,#c7c8fe,#b8b9fd,#abadfd,#a3a4fd,#9fa0fd,#9fa0fd,#9ea0fd,#9c9dfd,#999afd,#9596fd,#9294fd,#8f91fd,#8f90fd,#8e90fd,#8f91fd,#9394fd,#9596fd,#9596fd,#9697fd,#9698fd,#9597fd,#9596fd,#9496fd,#9294fd,#9091fd,#8d8efd,#898bfc,#8586fc,#8284fc,#8183fc)"></i><i style="background:linear-gradient(90deg,#efefff,#f4f4ff,#fafaff,#fffefe,#fffbfb,#fff7f7,#fef2f2,#feefef,#feecec,#feeaea,#fee8e8,#fee8e8,#fee7e7,#fee7e7,#fee7e7,#fee7e7,#fee8e8,#fee8e8,#fee9e9,#feecec,#fef1f1,#fff9f9,#fefeff,#f6f6ff,#eeefff,#e7e7fe,#e0e0fe,#dadafe,#d4d5fe,#cecffe,#c5c6fe,#b8b9fd,#aaabfd,#9fa1fd,#9a9bfd,#999bfd,#9899fd,#9597fd,#9294fd,#8e90fd,#8b8cfc,#898bfc,#898afc,#8789fc,#888afc,#8e90fd,#9192fd,#9192fd,#9294fd,#9394fd,#9293fd,#9192fd,#9092fd,#8e90fd,#8c8efd,#8a8cfc,#8789fc,#8586fc,#8485fc,#8385fc)"></i><i style="background:linear-gradient(90deg,#efefff,#f5f5ff,#fafaff,#ffffff,#fffbfb,#fff7f7,#fef3f3,#feefef,#feeded,#feeaea,#fee9e9,#fee8e8,#fee8e8,#fee7e7,#fee7e7,#fee7e7,#fee8e8,#fee9e9,#feeaea,#feecec,#fef1f1,#fff9f9,#ffffff,#f5f5ff,#ececff,#e3e4fe,#ddddfe,#d8d9fe,#d3d4fe,#cdcefe,#c5c6fe,#bbbcfe,#adaefd,#a0a2fd,#989afd,#9799fd,#9597fd,#9294fd,#9092fd,#8d8efd,#898bfc,#8889fc,#8789fc,#8688fc,#8688fc,#8d8efd,#8f91fd,#8f91fd,#9092fd,#9091fd,#8f91fd,#8e90fd,#8e8ffd,#8c8efd,#8b8cfc,#898bfc,#8889fc,#8788fc,#8688fc,#8587fc)"></i><i style="background:linear-gradient(90deg,#eff0ff,#f5f5ff,#fafaff,#ffffff,#fffcfc,#fff8f8,#fef4f4,#fef0f0,#feeded,#feebeb,#feeaea,#fee9e9,#fee8e8,#fee7e7,#fee7e7,#fee8e8,#fee8e8,#fee9e9,#feeaea,#feecec,#fef1f1,#fff7f7,#fffefe,#f6f7ff,#ececff,#e3e3fe,#dddefe,#dadafe,#d5d6fe,#d0d1fe,#c9cafe,#c1c1fe,#b4b5fd,#a6a7fd,#9b9cfd,#9899fd,#9698fd,#9596fd,#9294fd,#8f91fd,#8d8efd,#8b8dfd,#8b8dfc,#8b8cfc,#8b8dfc,#9091fd,#9293fd,#9294fd,#9293fd,#9192fd,#9192fd,#8f91fd,#8f90fd,#8d8ffd,#8d8efd,#8b8dfc,#8a8cfc,#898bfc,#888afc,#888afc)"></i><i style="background:linear-gradient(90deg,#f0f0ff,#f4f5ff,#fafaff,#ffffff,#fffcfc,#fff8f8,#fef4f4,#fef1f1,#feeeee,#feecec,#feebeb,#fee9e9,#fee8e8,#fee7e7,#fee7e7,#fee7e7,#fee8e8,#fee9e9,#fee9e9,#feebeb,#feefef,#fff5f5,#fffbfb,#fafaff,#eeeeff,#e5e5fe,#e0e1fe,#dddefe,#dadbfe,#d6d7fe,#d1d1fe,#cacafe,#bfc0fe,#b1b2fd,#a3a5fd,#9c9efd,#9a9cfd,#999afd,#9799fd,#9597fd,#9495fd,#9395fd,#9395fd,#9495fd,#9597fd,#9899fd,#989afd,#9899fd,#9798fd,#9597fd,#9596fd,#9395fd,#9294fd,#9192fd,#9092fd,#8f90fd,#8d8ffd,#8c8efd,#8b8dfd,#8b8dfc)"></i><i style="background:linear-gradient(90deg,#eff0ff,#f4f4ff,#f9f9ff,#fefeff,#fffdfd,#fff9f9,#fff5f5,#fef2f2,#feefef,#feeded,#feecec,#feeaea,#fee9e9,#fee8e8,#fee7e7,#fee7e7,#fee8e8,#fee8e8,#fee9e9,#feeaea,#feeded,#fef1f1,#fff7f7,#fffefe,#f4f4ff,#eaebff,#e6e6fe,#e4e4fe,#e3e3fe,#dfe0fe,#dbdcfe,#d6d7fe,#cdcefe,#c0c1fe,#b2b3fd,#a8a9fd,#a3a4fd,#a1a2fd,#9fa1fd,#9fa0fd,#9fa0fd,#9fa1fd,#a0a1fd,#a1a3fd,#a3a4fd,#a3a5fd,#a3a4fd,#a1a3fd,#9fa1fd,#9d9ffd,#9b9dfd,#999afd,#9799fd,#9597fd,#9495fd,#9294fd,#9193fd,#9091fd,#8e90fd,#9092fd)"></i><i style="background:linear-gradient(90deg,#efefff,#f3f3ff,#f8f8ff,#fdfdff,#fffdfd,#fffafa,#fff6f6,#fef3f3,#fef1f1,#feefef,#feeded,#feebeb,#fee9e9,#fee8e8,#fee7e7,#fee7e7,#fee7e7,#fee8e8,#fee8e8,#fee9e9,#feebeb,#feeeee,#fef2f2,#fff9f9,#fefeff,#f4f4ff,#efefff,#eeeeff,#edeeff,#ecedff,#eaeaff,#e6e6fe,#dfe0fe,#d6d7fe,#cacbfe,#bcbdfe,#b3b4fd,#afb0fd,#acaefd,#acadfd,#adaefd,#aeaffd,#b0b1fd,#b1b2fd,#b1b3fd,#b1b2fd,#b0b1fd,#aeaffd,#abacfd,#a8a9fd,#a5a6fd,#a2a3fd,#9fa0fd,#9c9dfd,#999bfd,#9799fd,#9597fd,#9496fd,#9394fd,#9698fd)"></i><i style="background:linear-gradient(90deg,#eeefff,#f2f2ff,#f6f6ff,#fbfbff,#fffefe,#fffbfb,#fff8f8,#fef5f5,#fef2f2,#fef0f0,#feeeee,#feecec,#feeaea,#fee8e8,#fee7e7,#fee6e6,#fee7e7,#fee7e7,#fee7e7,#fee7e7,#fee8e8,#feeaea,#feecec,#fef1f1,#fff8f8,#fffefe,#fcfcff,#fafbff,#fbfbff,#fafbff,#fafaff,#f8f8ff,#f4f4ff,#ededff,#e5e6fe,#d8d9fe,#cdcefe,#c5c6fe,#c0c1fe,#bdbefe,#bdbefe,#bdbefe,#bebffe,#bfc0fe,#bfc0fe,#bebffe,#bcbdfe,#babbfe,#b7b8fd,#b4b5fd,#b0b1fd,#acadfd,#a8a9fd,#a4a6fd,#a1a2fd,#9ea0fd,#9c9dfd,#9a9cfd,#9899fd,#999afd)"></i><i style="background:linear-gradient(90deg,#edeeff,#f1f1ff,#f4f5ff,#f9f9ff,#ffffff,#fffcfc,#fff9f9,#fff6f6,#fef4f4,#fef2f2,#fef0f0,#feeded,#feebeb,#fee8e8,#fee6e6,#fee6e6,#fee6e6,#fee6e6,#fee6e6,#fee6e6,#fee6e6,#fee6e6,#fee7e7,#fee9e9,#feeded,#fef2f2,#fff7f7,#fff9f9,#fff9f9,#fffafa,#fffafa,#fffbfb,#fffbfb,#fffefe,#fdfdff,#f3f4ff,#e9eaff,#e1e2fe,#dadafe,#d3d4fe,#cfd0fe,#cdcdfe,#cbccfe,#cacbfe,#c9cafe,#c8c9fe,#c6c7fe,#c4c5fe,#c2c3fe,#bfc0fe,#bbbcfe,#b7b8fd,#b2b3fd,#aeaffd,#aaabfd,#a6a8fd,#a3a5fd,#a1a3fd,#9fa1fd,#9ea0fd)"></i><i style="background:linear-gradient(90deg,#ececff,#efefff,#f2f2ff,#f7f7ff,#fcfcff,#fffefe,#fffbfb,#fff8f8,#fff5f5,#fef3f3,#fef1f1,#feefef,#feecec,#fee9e9,#fee6e6,#fee6e6,#fee6e6,#fee5e5,#fee5e5,#fee5e5,#fee4e4,#fee3e3,#fee2e2,#fee2e2,#fee3e3,#fee5e5,#fee9e9,#feecec,#feefef,#fef1f1,#fef2f2,#fef2f2,#fef2f2,#fef3f3,#fff6f6,#fffbfb,#fefeff,#f5f5ff,#eeeeff,#e6e6fe,#dfdffe,#dadafe,#d6d7fe,#d4d5fe,#d2d3fe,#d0d1fe,#cecffe,#cccdfe,#cacbfe,#c7c8fe,#c4c5fe,#c0c1fe,#bcbcfe,#b7b8fd,#b2b4fd,#aeb0fd,#abadfd,#a9aafd,#a7a8fd,#a5a7fd)"></i><i style="background:linear-gradient(90deg,#eaeaff,#ecedff,#efefff,#f4f4ff,#f9faff,#ffffff,#fffcfc,#fffafa,#fff7f7,#fff5f5,#fef3f3,#fef1f1,#feeeee,#feebeb,#fee7e7,#fee6e6,#fee5e5,#fee4e4,#fee4e4,#fee4e4,#fee3e3,#fee1e1,#fde0e0,#fddede,#fddcdc,#fddcdc,#fddfdf,#fee2e2,#fee6e6,#feeaea,#feecec,#feecec,#feebeb,#feeaea,#feecec,#fef0f0,#fff7f7,#fffdfd,#fbfbff,#f3f3ff,#ececff,#e5e5fe,#e0e0fe,#dcdcfe,#d9d9fe,#d7d7fe,#d5d5fe,#d3d3fe,#d0d1fe,#cecffe,#cbccfe,#c8c9fe,#c4c5fe,#bfc0fe,#babbfe,#b6b7fd,#b3b4fd,#b0b1fd,#aeaffd,#acaefd)"></i><i style="background:linear-gradient(90deg,#e8e8ff,#e9eaff,#ececff,#f0f0ff,#f6f6ff,#fcfcff,#fffefe,#fffcfc,#fff9f9,#fff7f7,#fff5f5,#fef3f3,#fef1f1,#feeded,#fee9e9,#fee6e6,#fee5e5,#fee4e4,#fee4e4,#fee3e3,#fee2e2,#fee1e1,#fddfdf,#fddcdc,#fddada,#fdd8d8,#fdd9d9,#fddcdc,#fee0e0,#fee5e5,#fee7e7,#fee8e8,#fee6e6,#fee6e6,#fee6e6,#fee9e9,#feefef,#fff6f6,#fffdfd,#fcfcff,#f5f5ff,#eeeeff,#e8e8fe,#e3e3fe,#dfdffe,#dcdcfe,#d9dafe,#d7d8fe,#d5d6fe,#d3d4fe,#d1d1fe,#cecffe,#cacbfe,#c6c7fe,#c1c2fe,#bcbdfe,#b8b9fd,#b6b7fd,#b5b6fd,#b3b4fd)"></i><i style="background:linear-gradient(90deg,#e5e6fe,#e6e6fe,#e8e8ff,#ecedff,#f2f2ff,#f8f9ff,#fefeff,#fffefe,#fffbfb,#fffafa,#fff8f8,#fff6f6,#fef3f3,#fef0f0,#feebeb,#fee8e8,#fee6e6,#fee5e5,#fee4e4,#fee3e3,#fee3e3,#fee1e1,#fddfdf,#fddddd,#fddada,#fdd8d8,#fdd8d8,#fddbdb,#fddede,#fee2e2,#fee5e5,#fee6e6,#fee6e6,#fee6e6,#fee6e6,#fee6e6,#fee8e8,#fef0f0,#fff7f7,#fffdfd,#fcfcff,#f5f5ff,#efefff,#e9e9ff,#e4e5fe,#e0e1fe,#dedefe,#dbdcfe,#d9dafe,#d7d8fe,#d5d6fe,#d3d3fe,#cfd0fe,#cbccfe,#c6c7fe,#c0c1fe,#babbfe,#b9bafd,#b9bafd,#b7b8fd)"></i><i style="background:linear-gradient(90deg,#e2e2fe,#e2e2fe,#e4e4fe,#e8e8ff,#eeeeff,#f4f5ff,#fafaff,#ffffff,#fffefe,#fffcfc,#fffafa,#fff8f8,#fff6f6,#fef3f3,#fef0f0,#feecec,#fee8e8,#fee6e6,#fee5e5,#fee4e4,#fee4e4,#fee3e3,#fee1e1,#fddfdf,#fddddd,#fddbdb,#fddbdb,#fddcdc,#fddfdf,#fee2e2,#fee5e5,#fee6e6,#fee6e6,#fee6e6,#fee6e6,#fee6e6,#fee6e6,#feeaea,#fef2f2,#fff9f9,#fffefe,#fbfbff,#f4f5ff,#eeefff,#e9eaff,#e5e5fe,#e2e2fe,#dfdffe,#dcddfe,#dadbfe,#d8d9fe,#d6d7fe,#d3d4fe,#cfd0fe,#c9cafe,#c3c4fe,#babbfe,#babbfe,#b9bafd,#babbfe)"></i><i style="background:linear-gradient(90deg,#dedefe,#dddefe,#dfe0fe,#e4e4fe,#eaeaff,#f0f0ff,#f6f6ff,#fbfbff,#ffffff,#fffefe,#fffcfc,#fffbfb,#fff9f9,#fff7f7,#fef4f4,#fef1f1,#feecec,#fee9e9,#fee7e7,#fee6e6,#fee6e6,#fee5e5,#fee4e4,#fee3e3,#fee1e1,#fddfdf,#fddfdf,#fddfdf,#fee1e1,#fee3e3,#fee5e5,#fee6e6,#fee6e6,#fee6e6,#fee6e6,#fee6e6,#fee6e6,#fee7e7,#feeded,#fef4f4,#fffafa,#fffefe,#f9faff,#f3f3ff,#eeeeff,#e9eaff,#e5e6fe,#e2e2fe,#dfe0fe,#dddefe,#dbdcfe,#d9dafe,#d6d7fe,#d2d2fe,#ccccfe,#c4c5fe,#babbfe,#b7b9fd,#b6b7fd,#b9bafd)"></i><i style="background:linear-gradient(90deg,#d8d9fe,#d7d8fe,#dbdcfe,#e0e0fe,#e5e6fe,#ececff,#f2f2ff,#f7f7ff,#fbfbff,#fefeff,#ffffff,#fffefe,#fffcfc,#fffbfb,#fff9f9,#fff6f6,#fef1f1,#feecec,#feeaea,#fee8e8,#fee8e8,#fee7e7,#fee7e7,#fee6e6,#fee5e5,#fee4e4,#fee3e3,#fee3e3,#fee4e4,#fee5e5,#fee6e6,#fee6e6,#fee6e6,#fee6e6,#fee6e6,#fee6e6,#fee6e6,#fee6e6,#fee9e9,#fef0f0,#fff7f7,#fffcfc,#fefeff,#f8f8ff,#f2f2ff,#ededff,#e9e9ff,#e5e6fe,#e2e3fe,#e0e0fe,#dddefe,#dcdcfe,#d9d9fe,#d4d5fe,#cdcefe,#c5c5fe,#babbfe,#b4b5fd,#b1b3fd,#b6b7fd)"></i><i style="background:linear-gradient(90deg,#d3d4fe,#d2d2fe,#d6d6fe,#dcdcfe,#e1e2fe,#e8e8fe,#eeeeff,#f3f3ff,#f6f7ff,#fafaff,#fcfcff,#fefeff,#ffffff,#fffefe,#fffdfd,#fffbfb,#fff5f5,#fef0f0,#feeded,#feebeb,#feeaea,#feeaea,#feeaea,#fee9e9,#fee9e9,#fee8e8,#fee7e7,#fee7e7,#fee7e7,#fee7e7,#fee6e6,#fee6e6,#fee6e6,#fee6e6,#fee6e6,#fee6e6,#fee6e6,#fee6e6,#fee6e6,#feeded,#fef4f4,#fff9f9,#fffefe,#fcfcff,#f6f6ff,#f1f1ff,#ececff,#e8e9ff,#e5e5fe,#e2e2fe,#e0e0fe,#dedefe,#dbdbfe,#d5d6fe,#cecffe,#c4c5fe,#babbfe,#b1b2fd,#aeaffd,#b3b4fd)"></i><i style="background:linear-gradient(90deg,#d1d2fe,#d0d0fe,#d4d4fe,#dadafe,#e0e0fe,#e6e7fe,#ececff,#f1f1ff,#f5f5ff,#f8f8ff,#fbfbff,#fdfdff,#fefeff,#ffffff,#fffefe,#fffcfc,#fff6f6,#fef1f1,#feeeee,#feecec,#feebeb,#feebeb,#feebeb,#feebeb,#feeaea,#fee9e9,#fee9e9,#fee8e8,#fee7e7,#fee7e7,#fee6e6,#fee6e6,#fee6e6,#fee6e6,#fee6e6,#fee6e6,#fee6e6,#fee6e6,#fee6e6,#feebeb,#fef2f2,#fff8f8,#fffdfd,#fdfdff,#f7f7ff,#f2f2ff,#edeeff,#e9eaff,#e6e6fe,#e3e3fe,#e0e1fe,#dedffe,#dbdcfe,#d6d6fe,#cecffe,#c3c4fe,#babbfe,#b0b2fd,#acaefd,#b2b3fd)"></i></div>
<svg width="750" height="857" viewBox="0 0 750 857" style="font-family:'Liberation Sans',sans-serif" fill="#000">
<defs><clipPath id="cpd"><rect x="450.6" y="20.0" width="295.2" height="159.7"/></clipPath><clipPath id="cpe"><rect x="451.2" y="229.9" width="294.6" height="161.2"/></clipPath><clipPath id="cpf"><rect x="451.0" y="441.8" width="294.8" height="161.1"/></clipPath><clipPath id="cpg"><rect x="451.2" y="655.6" width="294.6" height="160.1"/></clipPath></defs>
<path d="M46.6,80.5 L49.1,74 L51.9,56.3 L55.6,57.7 L61,125.4 L66.7,48.7 L69.5,92 L71.1,86.2 L73.6,89.5 L75.2,94.4 L77.7,92 L80.9,116.4 L83.7,95.2 L86.6,139.3 L89.4,65 L94.8,110.7 L97.2,103.4 L100.5,118 L103.8,83 L106.2,89.5 L108.7,82.1 L111.9,111.5 L114.4,101.7 L117.7,118.9 L120.1,111.5 L123,109.9 L125.8,32.3 L129.1,51.9 L131.5,136.8 L134,121.3 L140.5,108.3 L145.9,53.6 L151.4,127.9 L155.2,80.5 L157.3,78.9 L162.1,201.4 L165.2,167.5 L168.7,250.4 L172.2,185 L175.7,169.8 L179.9,138.3 L183.4,169 L188.1,196 L191.5,148.6 L196.6,216.6 L202.6,86.9 L208.4,142 L211.3,129.4 L214,140.4 L216.8,113.8 L222.3,188.6 L231.2,117.5 L234.7,133.6 L239.2,181.4 L242.3,129 L245.1,144.2 L248.5,139.3 L251.2,144.5 L253.2,158.5 L257.1,129.9 L259,120.2 L261.8,120.5 L264.7,105.3 L267.5,116 L270.1,153.3 L275.7,49.9 L278.9,85.3 L281.7,64.8 L284.5,115.1 L287.3,142.2 L292.9,93.7 L295.7,96.5 L298.9,64.8 L304.1,96.5 L306.9,97.4 L314.4,72.2 L319,29.3 L321.8,34 L324.6,83.4 L330.2,57.3 L335.4,120.7 L338.1,107.7 L341.4,145 L347,81.6 L348.5,74" fill="none" stroke="#000" stroke-width="2" stroke-linejoin="miter" stroke-miterlimit="3"/>
<path d="M49.5,78.3 L50.2,78.3 L50.8,78.3 L51.5,78.3 L52.2,78.3 L52.8,78.3 L53.5,78.4 L54.1,78.4 L54.8,78.4 L55.5,78.4 L56.1,78.4 L56.8,78.5 L57.5,78.5 L58.1,78.5 L58.8,78.5 L59.4,78.5 L60.1,78.6 L60.8,78.6 L61.4,78.6 L62.1,78.6 L62.8,78.7 L63.4,78.7 L64.1,78.7 L64.8,78.7 L65.4,78.7 L66.1,78.8 L66.7,78.8 L67.4,78.8 L68.1,78.8 L68.7,78.9 L69.4,78.9 L70.1,78.9 L70.7,79 L71.4,79 L72.1,79 L72.7,79 L73.4,79.1 L74,79.1 L74.7,79.1 L75.4,79.2 L76,79.2 L76.7,79.2 L77.4,79.3 L78,79.3 L78.7,79.3 L79.3,79.4 L80,79.4 L80.7,79.5 L81.3,79.5 L82,79.5 L82.7,79.6 L83.3,79.6 L84,79.7 L84.7,79.7 L85.3,79.7 L86,79.8 L86.6,79.8 L87.3,79.9 L88,79.9 L88.6,80 L89.3,80 L90,80.1 L90.6,80.1 L91.3,80.2 L92,80.2 L92.6,80.3 L93.3,80.3 L93.9,80.4 L94.6,80.5 L95.3,80.5 L95.9,80.6 L96.6,80.6 L97.3,80.7 L97.9,80.8 L98.6,80.8 L99.2,80.9 L99.9,81 L100.6,81 L101.2,81.1 L101.9,81.2 L102.6,81.3 L103.2,81.4 L103.9,81.4 L104.6,81.5 L105.2,81.6 L105.9,81.7 L106.5,81.8 L107.2,81.9 L107.9,82 L108.5,82.1 L109.2,82.2 L109.9,82.3 L110.5,82.4 L111.2,82.5 L111.9,82.6 L112.5,82.8 L113.2,82.9 L113.8,83 L114.5,83.1 L115.2,83.3 L115.8,83.4 L116.5,83.6 L117.2,83.7 L117.8,83.9 L118.5,84 L119.1,84.2 L119.8,84.4 L120.5,84.5 L121.1,84.7 L121.8,84.9 L122.5,85.1 L123.1,85.3 L123.8,85.5 L124.5,85.7 L125.1,85.9 L125.8,86.2 L126.4,86.4 L127.1,86.7 L127.8,86.9 L128.4,87.2 L129.1,87.5 L129.8,87.8 L130.4,88.1 L131.1,88.4 L131.8,88.7 L132.4,89 L133.1,89.4 L133.7,89.8 L134.4,90.1 L135.1,90.6 L135.7,91 L136.4,91.4 L137.1,91.9 L137.7,92.4 L138.4,92.9 L139.1,93.4 L139.7,93.9 L140.4,94.5 L141,95.1 L141.7,95.8 L142.4,96.4 L143,97.1 L143.7,97.9 L144.4,98.6 L145,99.4 L145.7,100.3 L146.3,101.2 L147,102.1 L147.7,103.1 L148.3,104.2 L149,105.3 L149.7,106.4 L150.3,107.6 L151,108.9 L151.7,110.2 L152.3,111.7 L153,113.1 L153.6,114.7 L154.3,116.3 L155,118.1 L155.6,119.9 L156.3,121.7 L157,123.7 L157.6,125.7 L158.3,127.8 L158.9,130 L159.6,132.3 L160.3,134.6 L160.9,137 L161.6,139.4 L162.3,141.8 L162.9,144.2 L163.6,146.6 L164.3,148.9 L164.9,151.2 L165.6,153.3 L166.2,155.3 L166.9,157.2 L167.6,158.8 L168.2,160.2 L168.9,161.4 L169.6,162.3 L170.2,162.8 L170.9,163.1 L171.6,163 L172.2,162.6 L172.9,161.9 L173.5,160.9 L174.2,159.6 L174.9,158.1 L175.5,156.4 L176.2,154.6 L176.9,152.5 L177.5,150.4 L178.2,148.2 L178.8,145.9 L179.5,143.6 L180.2,141.3 L180.8,139 L181.5,136.7 L182.2,134.5 L182.8,132.4 L183.5,130.3 L184.2,128.3 L184.8,126.3 L185.5,124.5 L186.1,122.7 L186.8,121 L187.5,119.4 L188.1,117.9 L188.8,116.4 L189.5,115.1 L190.1,113.8 L190.8,112.6 L191.5,111.4 L192.1,110.3 L192.8,109.3 L193.4,108.4 L194.1,107.5 L194.8,106.6 L195.4,105.8 L196.1,105.1 L196.8,104.4 L197.4,103.8 L198.1,103.2 L198.8,102.6 L199.4,102.1 L200.1,101.7 L200.7,101.2 L201.4,100.8 L202.1,100.5 L202.7,100.1 L203.4,99.8 L204.1,99.6 L204.7,99.4 L205.4,99.2 L206,99 L206.7,98.8 L207.4,98.7 L208,98.6 L208.7,98.6 L209.4,98.6 L210,98.6 L210.7,98.6 L211.4,98.6 L212,98.7 L212.7,98.8 L213.3,99 L214,99.1 L214.7,99.3 L215.3,99.6 L216,99.8 L216.7,100.1 L217.3,100.4 L218,100.8 L218.7,101.2 L219.3,101.6 L220,102.1 L220.6,102.6 L221.3,103.1 L222,103.7 L222.6,104.4 L223.3,105 L224,105.8 L224.6,106.5 L225.3,107.4 L225.9,108.3 L226.6,109.2 L227.3,110.2 L227.9,111.3 L228.6,112.4 L229.3,113.7 L229.9,114.9 L230.6,116.3 L231.3,117.7 L231.9,119.3 L232.6,120.9 L233.2,122.5 L233.9,124.3 L234.6,126.1 L235.2,128.1 L235.9,130.1 L236.6,132.2 L237.2,134.3 L237.9,136.5 L238.5,138.8 L239.2,141 L239.9,143.4 L240.5,145.7 L241.2,147.9 L241.9,150.2 L242.5,152.3 L243.2,154.4 L243.9,156.3 L244.5,158 L245.2,159.5 L245.8,160.8 L246.5,161.8 L247.2,162.5 L247.8,163 L248.5,163.1 L249.2,162.8 L249.8,162.3 L250.5,161.5 L251.2,160.4 L251.8,159 L252.5,157.4 L253.1,155.5 L253.8,153.5 L254.5,151.4 L255.1,149.1 L255.8,146.8 L256.5,144.4 L257.1,142 L257.8,139.6 L258.4,137.2 L259.1,134.8 L259.8,132.5 L260.4,130.3 L261.1,128.1 L261.8,125.9 L262.4,123.9 L263.1,121.9 L263.8,120 L264.4,118.2 L265.1,116.5 L265.7,114.9 L266.4,113.3 L267.1,111.8 L267.7,110.4 L268.4,109 L269.1,107.8 L269.7,106.5 L270.4,105.4 L271.1,104.3 L271.7,103.2 L272.4,102.2 L273,101.3 L273.7,100.4 L274.4,99.5 L275,98.7 L275.7,97.9 L276.4,97.2 L277,96.5 L277.7,95.8 L278.4,95.2 L279,94.6 L279.7,94 L280.3,93.4 L281,92.9 L281.7,92.4 L282.3,91.9 L283,91.5 L283.7,91 L284.3,90.6 L285,90.2 L285.6,89.8 L286.3,89.4 L287,89.1 L287.6,88.7 L288.3,88.4 L289,88.1 L289.6,87.8 L290.3,87.5 L291,87.2 L291.6,86.9 L292.3,86.7 L292.9,86.4 L293.6,86.2 L294.3,86 L294.9,85.7 L295.6,85.5 L296.3,85.3 L296.9,85.1 L297.6,84.9 L298.2,84.7 L298.9,84.5 L299.6,84.4 L300.2,84.2 L300.9,84 L301.6,83.9 L302.2,83.7 L302.9,83.6 L303.6,83.4 L304.2,83.3 L304.9,83.2 L305.5,83 L306.2,82.9 L306.9,82.8 L307.5,82.7 L308.2,82.5 L308.9,82.4 L309.5,82.3 L310.2,82.2 L310.9,82.1 L311.5,82 L312.2,81.9 L312.8,81.8 L313.5,81.7 L314.2,81.6 L314.8,81.5 L315.5,81.5 L316.2,81.4 L316.8,81.3 L317.5,81.2 L318.1,81.1 L318.8,81.1 L319.5,81 L320.1,80.9 L320.8,80.8 L321.5,80.8 L322.1,80.7 L322.8,80.6 L323.5,80.6 L324.1,80.5 L324.8,80.5 L325.4,80.4 L326.1,80.3 L326.8,80.3 L327.4,80.2 L328.1,80.2 L328.8,80.1 L329.4,80.1 L330.1,80 L330.8,80 L331.4,79.9 L332.1,79.9 L332.7,79.8 L333.4,79.8 L334.1,79.7 L334.7,79.7 L335.4,79.7 L336.1,79.6 L336.7,79.6 L337.4,79.5 L338.1,79.5 L338.7,79.5 L339.4,79.4 L340,79.4 L340.7,79.3 L341.4,79.3 L342,79.3 L342.7,79.2 L343.4,79.2 L344,79.2 L344.7,79.1 L345.3,79.1 L346,79.1 L346.7,79 L347.3,79 L348,79 L348,76.5 L49.5,76.5Z" fill="rgb(0,0,255)" fill-opacity="0.39"/>
<path d="M49.5,76.7 L50.2,76.7 L50.8,76.7 L51.5,76.7 L52.2,76.7 L52.8,76.7 L53.5,76.7 L54.1,76.7 L54.8,76.7 L55.5,76.7 L56.1,76.7 L56.8,76.7 L57.5,76.7 L58.1,76.7 L58.8,76.7 L59.4,76.7 L60.1,76.7 L60.8,76.7 L61.4,76.7 L62.1,76.7 L62.8,76.7 L63.4,76.7 L64.1,76.8 L64.8,76.8 L65.4,76.8 L66.1,76.8 L66.7,76.8 L67.4,76.8 L68.1,76.8 L68.7,76.8 L69.4,76.8 L70.1,76.8 L70.7,76.8 L71.4,76.8 L72.1,76.8 L72.7,76.8 L73.4,76.8 L74,76.8 L74.7,76.8 L75.4,76.8 L76,76.8 L76.7,76.8 L77.4,76.8 L78,76.8 L78.7,76.8 L79.3,76.8 L80,76.8 L80.7,76.8 L81.3,76.8 L82,76.8 L82.7,76.8 L83.3,76.8 L84,76.8 L84.7,76.8 L85.3,76.8 L86,76.9 L86.6,76.9 L87.3,76.9 L88,76.9 L88.6,76.9 L89.3,76.9 L90,76.9 L90.6,76.9 L91.3,76.9 L92,76.9 L92.6,76.9 L93.3,76.9 L93.9,76.9 L94.6,76.9 L95.3,76.9 L95.9,76.9 L96.6,76.9 L97.3,76.9 L97.9,76.9 L98.6,76.9 L99.2,76.9 L99.9,77 L100.6,77 L101.2,77 L101.9,77 L102.6,77 L103.2,77 L103.9,77 L104.6,77 L105.2,77 L105.9,77 L106.5,77 L107.2,77 L107.9,77 L108.5,77 L109.2,77 L109.9,77.1 L110.5,77.1 L111.2,77.1 L111.9,77.1 L112.5,77.1 L113.2,77.1 L113.8,77.1 L114.5,77.1 L115.2,77.1 L115.8,77.1 L116.5,77.1 L117.2,77.2 L117.8,77.2 L118.5,77.2 L119.1,77.2 L119.8,77.2 L120.5,77.2 L121.1,77.2 L121.8,77.2 L122.5,77.2 L123.1,77.3 L123.8,77.3 L124.5,77.3 L125.1,77.3 L125.8,77.3 L126.4,77.3 L127.1,77.3 L127.8,77.4 L128.4,77.4 L129.1,77.4 L129.8,77.4 L130.4,77.4 L131.1,77.4 L131.8,77.5 L132.4,77.5 L133.1,77.5 L133.7,77.5 L134.4,77.5 L135.1,77.5 L135.7,77.6 L136.4,77.6 L137.1,77.6 L137.7,77.6 L138.4,77.7 L139.1,77.7 L139.7,77.7 L140.4,77.7 L141,77.8 L141.7,77.8 L142.4,77.8 L143,77.9 L143.7,77.9 L144.4,77.9 L145,78 L145.7,78 L146.3,78 L147,78.1 L147.7,78.1 L148.3,78.1 L149,78.2 L149.7,78.2 L150.3,78.3 L151,78.3 L151.7,78.4 L152.3,78.4 L153,78.5 L153.6,78.5 L154.3,78.6 L155,78.7 L155.6,78.7 L156.3,78.8 L157,78.9 L157.6,78.9 L158.3,79 L158.9,79.1 L159.6,79.2 L160.3,79.3 L160.9,79.4 L161.6,79.5 L162.3,79.6 L162.9,79.7 L163.6,79.8 L164.3,80 L164.9,80.1 L165.6,80.3 L166.2,80.4 L166.9,80.6 L167.6,80.8 L168.2,80.9 L168.9,81.1 L169.6,81.4 L170.2,81.6 L170.9,81.8 L171.6,82.1 L172.2,82.4 L172.9,82.7 L173.5,83.1 L174.2,83.4 L174.9,83.8 L175.5,84.3 L176.2,84.8 L176.9,85.3 L177.5,85.9 L178.2,86.5 L178.8,87.2 L179.5,88 L180.2,88.9 L180.8,89.9 L181.5,91 L182.2,92.2 L182.8,93.6 L183.5,95.2 L184.2,97 L184.8,99 L185.5,101.3 L186.1,103.9 L186.8,106.9 L187.5,110.3 L188.1,114.1 L188.8,118.3 L189.5,123 L190.1,128 L190.8,133.2 L191.5,138.3 L192.1,143 L192.8,146.9 L193.4,149.5 L194.1,150.5 L194.8,149.8 L195.4,147.5 L196.1,143.9 L196.8,139.4 L197.4,134.6 L198.1,129.7 L198.8,125 L199.4,120.6 L200.1,116.7 L200.7,113.2 L201.4,110.2 L202.1,107.6 L202.7,105.4 L203.4,103.6 L204.1,102 L204.7,100.8 L205.4,99.7 L206,99 L206.7,98.4 L207.4,98 L208,97.9 L208.7,97.9 L209.4,98.1 L210,98.5 L210.7,99.1 L211.4,99.9 L212,101 L212.7,102.3 L213.3,103.9 L214,105.9 L214.7,108.1 L215.3,110.8 L216,113.9 L216.7,117.4 L217.3,121.4 L218,125.9 L218.7,130.6 L219.3,135.5 L220,140.3 L220.6,144.7 L221.3,148 L222,150.1 L222.6,150.4 L223.3,149.1 L224,146.2 L224.6,142.1 L225.3,137.3 L225.9,132.1 L226.6,127 L227.3,122 L227.9,117.4 L228.6,113.3 L229.3,109.6 L229.9,106.3 L230.6,103.4 L231.3,100.8 L231.9,98.6 L232.6,96.6 L233.2,94.9 L233.9,93.3 L234.6,92 L235.2,90.8 L235.9,89.7 L236.6,88.7 L237.2,87.9 L237.9,87.1 L238.5,86.4 L239.2,85.8 L239.9,85.2 L240.5,84.7 L241.2,84.2 L241.9,83.8 L242.5,83.4 L243.2,83 L243.9,82.7 L244.5,82.3 L245.2,82.1 L245.8,81.8 L246.5,81.5 L247.2,81.3 L247.8,81.1 L248.5,80.9 L249.2,80.7 L249.8,80.5 L250.5,80.4 L251.2,80.2 L251.8,80.1 L252.5,79.9 L253.1,79.8 L253.8,79.7 L254.5,79.6 L255.1,79.5 L255.8,79.4 L256.5,79.3 L257.1,79.2 L257.8,79.1 L258.4,79 L259.1,78.9 L259.8,78.9 L260.4,78.8 L261.1,78.7 L261.8,78.7 L262.4,78.6 L263.1,78.5 L263.8,78.5 L264.4,78.4 L265.1,78.4 L265.7,78.3 L266.4,78.3 L267.1,78.2 L267.7,78.2 L268.4,78.1 L269.1,78.1 L269.7,78.1 L270.4,78 L271.1,78 L271.7,77.9 L272.4,77.9 L273,77.9 L273.7,77.8 L274.4,77.8 L275,77.8 L275.7,77.8 L276.4,77.7 L277,77.7 L277.7,77.7 L278.4,77.7 L279,77.6 L279.7,77.6 L280.3,77.6 L281,77.6 L281.7,77.5 L282.3,77.5 L283,77.5 L283.7,77.5 L284.3,77.5 L285,77.4 L285.6,77.4 L286.3,77.4 L287,77.4 L287.6,77.4 L288.3,77.4 L289,77.3 L289.6,77.3 L290.3,77.3 L291,77.3 L291.6,77.3 L292.3,77.3 L292.9,77.3 L293.6,77.3 L294.3,77.2 L294.9,77.2 L295.6,77.2 L296.3,77.2 L296.9,77.2 L297.6,77.2 L298.2,77.2 L298.9,77.2 L299.6,77.2 L300.2,77.1 L300.9,77.1 L301.6,77.1 L302.2,77.1 L302.9,77.1 L303.6,77.1 L304.2,77.1 L304.9,77.1 L305.5,77.1 L306.2,77.1 L306.9,77.1 L307.5,77 L308.2,77 L308.9,77 L309.5,77 L310.2,77 L310.9,77 L311.5,77 L312.2,77 L312.8,77 L313.5,77 L314.2,77 L314.8,77 L315.5,77 L316.2,77 L316.8,77 L317.5,76.9 L318.1,76.9 L318.8,76.9 L319.5,76.9 L320.1,76.9 L320.8,76.9 L321.5,76.9 L322.1,76.9 L322.8,76.9 L323.5,76.9 L324.1,76.9 L324.8,76.9 L325.4,76.9 L326.1,76.9 L326.8,76.9 L327.4,76.9 L328.1,76.9 L328.8,76.9 L329.4,76.9 L330.1,76.9 L330.8,76.9 L331.4,76.8 L332.1,76.8 L332.7,76.8 L333.4,76.8 L334.1,76.8 L334.7,76.8 L335.4,76.8 L336.1,76.8 L336.7,76.8 L337.4,76.8 L338.1,76.8 L338.7,76.8 L339.4,76.8 L340,76.8 L340.7,76.8 L341.4,76.8 L342,76.8 L342.7,76.8 L343.4,76.8 L344,76.8 L344.7,76.8 L345.3,76.8 L346,76.8 L346.7,76.8 L347.3,76.8 L348,76.8 L348,76.5 L49.5,76.5Z" fill="rgb(222,60,232)" fill-opacity="0.42"/>
<path d="M49.5,78.5 L50.2,78.5 L50.8,78.5 L51.5,78.5 L52.2,78.5 L52.8,78.6 L53.5,78.6 L54.1,78.6 L54.8,78.6 L55.5,78.6 L56.1,78.7 L56.8,78.7 L57.5,78.7 L58.1,78.7 L58.8,78.8 L59.4,78.8 L60.1,78.8 L60.8,78.8 L61.4,78.8 L62.1,78.9 L62.8,78.9 L63.4,78.9 L64.1,78.9 L64.8,79 L65.4,79 L66.1,79 L66.7,79.1 L67.4,79.1 L68.1,79.1 L68.7,79.1 L69.4,79.2 L70.1,79.2 L70.7,79.2 L71.4,79.3 L72.1,79.3 L72.7,79.3 L73.4,79.4 L74,79.4 L74.7,79.4 L75.4,79.5 L76,79.5 L76.7,79.5 L77.4,79.6 L78,79.6 L78.7,79.7 L79.3,79.7 L80,79.7 L80.7,79.8 L81.3,79.8 L82,79.9 L82.7,79.9 L83.3,79.9 L84,80 L84.7,80 L85.3,80.1 L86,80.1 L86.6,80.2 L87.3,80.2 L88,80.3 L88.6,80.3 L89.3,80.4 L90,80.4 L90.6,80.5 L91.3,80.6 L92,80.6 L92.6,80.7 L93.3,80.7 L93.9,80.8 L94.6,80.9 L95.3,80.9 L95.9,81 L96.6,81.1 L97.3,81.1 L97.9,81.2 L98.6,81.3 L99.2,81.4 L99.9,81.4 L100.6,81.5 L101.2,81.6 L101.9,81.7 L102.6,81.8 L103.2,81.8 L103.9,81.9 L104.6,82 L105.2,82.1 L105.9,82.2 L106.5,82.3 L107.2,82.4 L107.9,82.5 L108.5,82.6 L109.2,82.7 L109.9,82.9 L110.5,83 L111.2,83.1 L111.9,83.2 L112.5,83.3 L113.2,83.5 L113.8,83.6 L114.5,83.8 L115.2,83.9 L115.8,84 L116.5,84.2 L117.2,84.4 L117.8,84.5 L118.5,84.7 L119.1,84.9 L119.8,85 L120.5,85.2 L121.1,85.4 L121.8,85.6 L122.5,85.8 L123.1,86 L123.8,86.3 L124.5,86.5 L125.1,86.7 L125.8,87 L126.4,87.2 L127.1,87.5 L127.8,87.8 L128.4,88 L129.1,88.3 L129.8,88.7 L130.4,89 L131.1,89.3 L131.8,89.6 L132.4,90 L133.1,90.4 L133.7,90.8 L134.4,91.2 L135.1,91.6 L135.7,92 L136.4,92.5 L137.1,93 L137.7,93.5 L138.4,94 L139.1,94.6 L139.7,95.1 L140.4,95.8 L141,96.4 L141.7,97 L142.4,97.7 L143,98.5 L143.7,99.2 L144.4,100 L145,100.9 L145.7,101.8 L146.3,102.7 L147,103.7 L147.7,104.7 L148.3,105.8 L149,106.9 L149.7,108.1 L150.3,109.4 L151,110.7 L151.7,112.1 L152.3,113.6 L153,115.1 L153.6,116.8 L154.3,118.5 L155,120.2 L155.6,122.1 L156.3,124 L157,126.1 L157.6,128.2 L158.3,130.4 L158.9,132.6 L159.6,135 L160.3,137.4 L160.9,139.9 L161.6,142.3 L162.3,144.9 L162.9,147.4 L163.6,149.9 L164.3,152.4 L164.9,154.8 L165.6,157.1 L166.2,159.3 L166.9,161.3 L167.6,163.1 L168.2,164.7 L168.9,166 L169.6,167.1 L170.2,167.9 L170.9,168.4 L171.6,168.6 L172.2,168.5 L172.9,168.1 L173.5,167.5 L174.2,166.6 L174.9,165.5 L175.5,164.2 L176.2,162.8 L176.9,161.3 L177.5,159.8 L178.2,158.2 L178.8,156.6 L179.5,155.1 L180.2,153.7 L180.8,152.4 L181.5,151.2 L182.2,150.2 L182.8,149.5 L183.5,149 L184.2,148.7 L184.8,148.8 L185.5,149.3 L186.1,150.1 L186.8,151.4 L187.5,153.2 L188.1,155.5 L188.8,158.3 L189.5,161.6 L190.1,165.3 L190.8,169.3 L191.5,173.2 L192.1,176.9 L192.8,179.7 L193.4,181.4 L194.1,181.5 L194.8,179.9 L195.4,176.8 L196.1,172.5 L196.8,167.3 L197.4,161.8 L198.1,156.4 L198.8,151.1 L199.4,146.2 L200.1,141.9 L200.7,138 L201.4,134.6 L202.1,131.6 L202.7,129.1 L203.4,126.9 L204.1,125.1 L204.7,123.6 L205.4,122.4 L206,121.4 L206.7,120.7 L207.4,120.3 L208,120 L208.7,120 L209.4,120.1 L210,120.5 L210.7,121.2 L211.4,122.1 L212,123.2 L212.7,124.6 L213.3,126.4 L214,128.5 L214.7,131 L215.3,133.9 L216,137.2 L216.7,141.1 L217.3,145.4 L218,150.2 L218.7,155.3 L219.3,160.7 L220,165.9 L220.6,170.7 L221.3,174.7 L222,177.3 L222.6,178.3 L223.3,177.6 L224,175.5 L224.6,172.2 L225.3,168.2 L225.9,163.9 L226.6,159.7 L227.3,155.8 L227.9,152.2 L228.6,149.2 L229.3,146.7 L229.9,144.7 L230.6,143.2 L231.3,142.1 L231.9,141.3 L232.6,141 L233.2,140.9 L233.9,141.1 L234.6,141.6 L235.2,142.3 L235.9,143.3 L236.6,144.4 L237.2,145.7 L237.9,147.1 L238.5,148.6 L239.2,150.3 L239.9,152 L240.5,153.8 L241.2,155.6 L241.9,157.4 L242.5,159.2 L243.2,160.8 L243.9,162.4 L244.5,163.8 L245.2,165.1 L245.8,166.1 L246.5,166.8 L247.2,167.3 L247.8,167.6 L248.5,167.5 L249.2,167.1 L249.8,166.4 L250.5,165.4 L251.2,164.1 L251.8,162.6 L252.5,160.8 L253.1,158.9 L253.8,156.7 L254.5,154.5 L255.1,152.1 L255.8,149.7 L256.5,147.2 L257.1,144.7 L257.8,142.2 L258.4,139.7 L259.1,137.3 L259.8,134.9 L260.4,132.5 L261.1,130.3 L261.8,128.1 L262.4,126 L263.1,124 L263.8,122 L264.4,120.2 L265.1,118.4 L265.7,116.7 L266.4,115.1 L267.1,113.5 L267.7,112.1 L268.4,110.7 L269.1,109.3 L269.7,108.1 L270.4,106.9 L271.1,105.7 L271.7,104.7 L272.4,103.6 L273,102.7 L273.7,101.7 L274.4,100.8 L275,100 L275.7,99.2 L276.4,98.4 L277,97.7 L277.7,97 L278.4,96.3 L279,95.7 L279.7,95.1 L280.3,94.5 L281,94 L281.7,93.4 L282.3,92.9 L283,92.5 L283.7,92 L284.3,91.6 L285,91.1 L285.6,90.7 L286.3,90.3 L287,90 L287.6,89.6 L288.3,89.3 L289,88.9 L289.6,88.6 L290.3,88.3 L291,88 L291.6,87.7 L292.3,87.5 L292.9,87.2 L293.6,86.9 L294.3,86.7 L294.9,86.5 L295.6,86.2 L296.3,86 L296.9,85.8 L297.6,85.6 L298.2,85.4 L298.9,85.2 L299.6,85 L300.2,84.8 L300.9,84.7 L301.6,84.5 L302.2,84.3 L302.9,84.2 L303.6,84 L304.2,83.9 L304.9,83.7 L305.5,83.6 L306.2,83.5 L306.9,83.3 L307.5,83.2 L308.2,83.1 L308.9,83 L309.5,82.8 L310.2,82.7 L310.9,82.6 L311.5,82.5 L312.2,82.4 L312.8,82.3 L313.5,82.2 L314.2,82.1 L314.8,82 L315.5,81.9 L316.2,81.8 L316.8,81.7 L317.5,81.7 L318.1,81.6 L318.8,81.5 L319.5,81.4 L320.1,81.3 L320.8,81.3 L321.5,81.2 L322.1,81.1 L322.8,81 L323.5,81 L324.1,80.9 L324.8,80.8 L325.4,80.8 L326.1,80.7 L326.8,80.7 L327.4,80.6 L328.1,80.5 L328.8,80.5 L329.4,80.4 L330.1,80.4 L330.8,80.3 L331.4,80.3 L332.1,80.2 L332.7,80.2 L333.4,80.1 L334.1,80.1 L334.7,80 L335.4,80 L336.1,79.9 L336.7,79.9 L337.4,79.8 L338.1,79.8 L338.7,79.8 L339.4,79.7 L340,79.7 L340.7,79.6 L341.4,79.6 L342,79.6 L342.7,79.5 L343.4,79.5 L344,79.5 L344.7,79.4 L345.3,79.4 L346,79.4 L346.7,79.3 L347.3,79.3 L348,79.3" fill="none" stroke="#ff1464" stroke-width="2.6"/>
<path d="M49.5,78.3 L50.2,78.3 L50.8,78.3 L51.5,78.3 L52.2,78.3 L52.8,78.3 L53.5,78.4 L54.1,78.4 L54.8,78.4 L55.5,78.4 L56.1,78.4 L56.8,78.5 L57.5,78.5 L58.1,78.5 L58.8,78.5 L59.4,78.5 L60.1,78.6 L60.8,78.6 L61.4,78.6 L62.1,78.6 L62.8,78.7 L63.4,78.7 L64.1,78.7 L64.8,78.7 L65.4,78.7 L66.1,78.8 L66.7,78.8 L67.4,78.8 L68.1,78.8 L68.7,78.9 L69.4,78.9 L70.1,78.9 L70.7,79 L71.4,79 L72.1,79 L72.7,79 L73.4,79.1 L74,79.1 L74.7,79.1 L75.4,79.2 L76,79.2 L76.7,79.2 L77.4,79.3 L78,79.3 L78.7,79.3 L79.3,79.4 L80,79.4 L80.7,79.5 L81.3,79.5 L82,79.5 L82.7,79.6 L83.3,79.6 L84,79.7 L84.7,79.7 L85.3,79.7 L86,79.8 L86.6,79.8 L87.3,79.9 L88,79.9 L88.6,80 L89.3,80 L90,80.1 L90.6,80.1 L91.3,80.2 L92,80.2 L92.6,80.3 L93.3,80.3 L93.9,80.4 L94.6,80.5 L95.3,80.5 L95.9,80.6 L96.6,80.6 L97.3,80.7 L97.9,80.8 L98.6,80.8 L99.2,80.9 L99.9,81 L100.6,81 L101.2,81.1 L101.9,81.2 L102.6,81.3 L103.2,81.4 L103.9,81.4 L104.6,81.5 L105.2,81.6 L105.9,81.7 L106.5,81.8 L107.2,81.9 L107.9,82 L108.5,82.1 L109.2,82.2 L109.9,82.3 L110.5,82.4 L111.2,82.5 L111.9,82.6 L112.5,82.8 L113.2,82.9 L113.8,83 L114.5,83.1 L115.2,83.3 L115.8,83.4 L116.5,83.6 L117.2,83.7 L117.8,83.9 L118.5,84 L119.1,84.2 L119.8,84.4 L120.5,84.5 L121.1,84.7 L121.8,84.9 L122.5,85.1 L123.1,85.3 L123.8,85.5 L124.5,85.7 L125.1,85.9 L125.8,86.2 L126.4,86.4 L127.1,86.7 L127.8,86.9 L128.4,87.2 L129.1,87.5 L129.8,87.8 L130.4,88.1 L131.1,88.4 L131.8,88.7 L132.4,89 L133.1,89.4 L133.7,89.8 L134.4,90.1 L135.1,90.6 L135.7,91 L136.4,91.4 L137.1,91.9 L137.7,92.4 L138.4,92.9 L139.1,93.4 L139.7,93.9 L140.4,94.5 L141,95.1 L141.7,95.8 L142.4,96.4 L143,97.1 L143.7,97.9 L144.4,98.6 L145,99.4 L145.7,100.3 L146.3,101.2 L147,102.1 L147.7,103.1 L148.3,104.2 L149,105.3 L149.7,106.4 L150.3,107.6 L151,108.9 L151.7,110.2 L152.3,111.7 L153,113.1 L153.6,114.7 L154.3,116.3 L155,118.1 L155.6,119.9 L156.3,121.7 L157,123.7 L157.6,125.7 L158.3,127.8 L158.9,130 L159.6,132.3 L160.3,134.6 L160.9,137 L161.6,139.4 L162.3,141.8 L162.9,144.2 L163.6,146.6 L164.3,148.9 L164.9,151.2 L165.6,153.3 L166.2,155.3 L166.9,157.2 L167.6,158.8 L168.2,160.2 L168.9,161.4 L169.6,162.3 L170.2,162.8 L170.9,163.1 L171.6,163 L172.2,162.6 L172.9,161.9 L173.5,160.9 L174.2,159.6 L174.9,158.1 L175.5,156.4 L176.2,154.6 L176.9,152.5 L177.5,150.4 L178.2,148.2 L178.8,145.9 L179.5,143.6 L180.2,141.3 L180.8,139 L181.5,136.7 L182.2,134.5 L182.8,132.4 L183.5,130.3 L184.2,128.3 L184.8,126.3 L185.5,124.5 L186.1,122.7 L186.8,121 L187.5,119.4 L188.1,117.9 L188.8,116.4 L189.5,115.1 L190.1,113.8 L190.8,112.6 L191.5,111.4 L192.1,110.3 L192.8,109.3 L193.4,108.4 L194.1,107.5 L194.8,106.6 L195.4,105.8 L196.1,105.1 L196.8,104.4 L197.4,103.8 L198.1,103.2 L198.8,102.6 L199.4,102.1 L200.1,101.7 L200.7,101.2 L201.4,100.8 L202.1,100.5 L202.7,100.1 L203.4,99.8 L204.1,99.6 L204.7,99.4 L205.4,99.2 L206,99 L206.7,98.8 L207.4,98.7 L208,98.6 L208.7,98.6 L209.4,98.6 L210,98.6 L210.7,98.6 L211.4,98.6 L212,98.7 L212.7,98.8 L213.3,99 L214,99.1 L214.7,99.3 L215.3,99.6 L216,99.8 L216.7,100.1 L217.3,100.4 L218,100.8 L218.7,101.2 L219.3,101.6 L220,102.1 L220.6,102.6 L221.3,103.1 L222,103.7 L222.6,104.4 L223.3,105 L224,105.8 L224.6,106.5 L225.3,107.4 L225.9,108.3 L226.6,109.2 L227.3,110.2 L227.9,111.3 L228.6,112.4 L229.3,113.7 L229.9,114.9 L230.6,116.3 L231.3,117.7 L231.9,119.3 L232.6,120.9 L233.2,122.5 L233.9,124.3 L234.6,126.1 L235.2,128.1 L235.9,130.1 L236.6,132.2 L237.2,134.3 L237.9,136.5 L238.5,138.8 L239.2,141 L239.9,143.4 L240.5,145.7 L241.2,147.9 L241.9,150.2 L242.5,152.3 L243.2,154.4 L243.9,156.3 L244.5,158 L245.2,159.5 L245.8,160.8 L246.5,161.8 L247.2,162.5 L247.8,163 L248.5,163.1 L249.2,162.8 L249.8,162.3 L250.5,161.5 L251.2,160.4 L251.8,159 L252.5,157.4 L253.1,155.5 L253.8,153.5 L254.5,151.4 L255.1,149.1 L255.8,146.8 L256.5,144.4 L257.1,142 L257.8,139.6 L258.4,137.2 L259.1,134.8 L259.8,132.5 L260.4,130.3 L261.1,128.1 L261.8,125.9 L262.4,123.9 L263.1,121.9 L263.8,120 L264.4,118.2 L265.1,116.5 L265.7,114.9 L266.4,113.3 L267.1,111.8 L267.7,110.4 L268.4,109 L269.1,107.8 L269.7,106.5 L270.4,105.4 L271.1,104.3 L271.7,103.2 L272.4,102.2 L273,101.3 L273.7,100.4 L274.4,99.5 L275,98.7 L275.7,97.9 L276.4,97.2 L277,96.5 L277.7,95.8 L278.4,95.2 L279,94.6 L279.7,94 L280.3,93.4 L281,92.9 L281.7,92.4 L282.3,91.9 L283,91.5 L283.7,91 L284.3,90.6 L285,90.2 L285.6,89.8 L286.3,89.4 L287,89.1 L287.6,88.7 L288.3,88.4 L289,88.1 L289.6,87.8 L290.3,87.5 L291,87.2 L291.6,86.9 L292.3,86.7 L292.9,86.4 L293.6,86.2 L294.3,86 L294.9,85.7 L295.6,85.5 L296.3,85.3 L296.9,85.1 L297.6,84.9 L298.2,84.7 L298.9,84.5 L299.6,84.4 L300.2,84.2 L300.9,84 L301.6,83.9 L302.2,83.7 L302.9,83.6 L303.6,83.4 L304.2,83.3 L304.9,83.2 L305.5,83 L306.2,82.9 L306.9,82.8 L307.5,82.7 L308.2,82.5 L308.9,82.4 L309.5,82.3 L310.2,82.2 L310.9,82.1 L311.5,82 L312.2,81.9 L312.8,81.8 L313.5,81.7 L314.2,81.6 L314.8,81.5 L315.5,81.5 L316.2,81.4 L316.8,81.3 L317.5,81.2 L318.1,81.1 L318.8,81.1 L319.5,81 L320.1,80.9 L320.8,80.8 L321.5,80.8 L322.1,80.7 L322.8,80.6 L323.5,80.6 L324.1,80.5 L324.8,80.5 L325.4,80.4 L326.1,80.3 L326.8,80.3 L327.4,80.2 L328.1,80.2 L328.8,80.1 L329.4,80.1 L330.1,80 L330.8,80 L331.4,79.9 L332.1,79.9 L332.7,79.8 L333.4,79.8 L334.1,79.7 L334.7,79.7 L335.4,79.7 L336.1,79.6 L336.7,79.6 L337.4,79.5 L338.1,79.5 L338.7,79.5 L339.4,79.4 L340,79.4 L340.7,79.3 L341.4,79.3 L342,79.3 L342.7,79.2 L343.4,79.2 L344,79.2 L344.7,79.1 L345.3,79.1 L346,79.1 L346.7,79 L347.3,79 L348,79" fill="none" stroke="#1414ff" stroke-width="2.4"/>
<line x1="46.5" y1="77.1" x2="350.5" y2="77.1" stroke="#1414ff" stroke-width="2"/>
<path d="M49.5,75.5 L50.2,75.5 L50.8,75.5 L51.5,75.5 L52.2,75.5 L52.8,75.5 L53.5,75.5 L54.1,75.5 L54.8,75.5 L55.5,75.5 L56.1,75.5 L56.8,75.5 L57.5,75.5 L58.1,75.5 L58.8,75.5 L59.4,75.5 L60.1,75.5 L60.8,75.5 L61.4,75.5 L62.1,75.5 L62.8,75.5 L63.4,75.5 L64.1,75.6 L64.8,75.6 L65.4,75.6 L66.1,75.6 L66.7,75.6 L67.4,75.6 L68.1,75.6 L68.7,75.6 L69.4,75.6 L70.1,75.6 L70.7,75.6 L71.4,75.6 L72.1,75.6 L72.7,75.6 L73.4,75.6 L74,75.6 L74.7,75.6 L75.4,75.6 L76,75.6 L76.7,75.6 L77.4,75.6 L78,75.6 L78.7,75.6 L79.3,75.6 L80,75.6 L80.7,75.6 L81.3,75.6 L82,75.6 L82.7,75.6 L83.3,75.6 L84,75.6 L84.7,75.6 L85.3,75.6 L86,75.7 L86.6,75.7 L87.3,75.7 L88,75.7 L88.6,75.7 L89.3,75.7 L90,75.7 L90.6,75.7 L91.3,75.7 L92,75.7 L92.6,75.7 L93.3,75.7 L93.9,75.7 L94.6,75.7 L95.3,75.7 L95.9,75.7 L96.6,75.7 L97.3,75.7 L97.9,75.7 L98.6,75.7 L99.2,75.7 L99.9,75.8 L100.6,75.8 L101.2,75.8 L101.9,75.8 L102.6,75.8 L103.2,75.8 L103.9,75.8 L104.6,75.8 L105.2,75.8 L105.9,75.8 L106.5,75.8 L107.2,75.8 L107.9,75.8 L108.5,75.8 L109.2,75.8 L109.9,75.9 L110.5,75.9 L111.2,75.9 L111.9,75.9 L112.5,75.9 L113.2,75.9 L113.8,75.9 L114.5,75.9 L115.2,75.9 L115.8,75.9 L116.5,75.9 L117.2,76 L117.8,76 L118.5,76 L119.1,76 L119.8,76 L120.5,76 L121.1,76 L121.8,76 L122.5,76 L123.1,76.1 L123.8,76.1 L124.5,76.1 L125.1,76.1 L125.8,76.1 L126.4,76.1 L127.1,76.1 L127.8,76.2 L128.4,76.2 L129.1,76.2 L129.8,76.2 L130.4,76.2 L131.1,76.2 L131.8,76.3 L132.4,76.3 L133.1,76.3 L133.7,76.3 L134.4,76.3 L135.1,76.3 L135.7,76.4 L136.4,76.4 L137.1,76.4 L137.7,76.4 L138.4,76.5 L139.1,76.5 L139.7,76.5 L140.4,76.5 L141,76.6 L141.7,76.6 L142.4,76.6 L143,76.7 L143.7,76.7 L144.4,76.7 L145,76.8 L145.7,76.8 L146.3,76.8 L147,76.9 L147.7,76.9 L148.3,76.9 L149,77 L149.7,77 L150.3,77.1 L151,77.1 L151.7,77.2 L152.3,77.2 L153,77.3 L153.6,77.3 L154.3,77.4 L155,77.5 L155.6,77.5 L156.3,77.6 L157,77.7 L157.6,77.7 L158.3,77.8 L158.9,77.9 L159.6,78 L160.3,78.1 L160.9,78.2 L161.6,78.3 L162.3,78.4 L162.9,78.5 L163.6,78.6 L164.3,78.8 L164.9,78.9 L165.6,79.1 L166.2,79.2 L166.9,79.4 L167.6,79.6 L168.2,79.7 L168.9,79.9 L169.6,80.2 L170.2,80.4 L170.9,80.6 L171.6,80.9 L172.2,81.2 L172.9,81.5 L173.5,81.9 L174.2,82.2 L174.9,82.6 L175.5,83.1 L176.2,83.6 L176.9,84.1 L177.5,84.7 L178.2,85.3 L178.8,86 L179.5,86.8 L180.2,87.7 L180.8,88.7 L181.5,89.8 L182.2,91 L182.8,92.4 L183.5,94 L184.2,95.8 L184.8,97.8 L185.5,100.1 L186.1,102.7 L186.8,105.7 L187.5,109.1 L188.1,112.9 L188.8,117.1 L189.5,121.8 L190.1,126.8 L190.8,132 L191.5,137.1 L192.1,141.8 L192.8,145.7 L193.4,148.3 L194.1,149.3 L194.8,148.6 L195.4,146.3 L196.1,142.7 L196.8,138.2 L197.4,133.4 L198.1,128.5 L198.8,123.8 L199.4,119.4 L200.1,115.5 L200.7,112 L201.4,109 L202.1,106.4 L202.7,104.2 L203.4,102.4 L204.1,100.8 L204.7,99.6 L205.4,98.5 L206,97.8 L206.7,97.2 L207.4,96.8 L208,96.7 L208.7,96.7 L209.4,96.9 L210,97.3 L210.7,97.9 L211.4,98.7 L212,99.8 L212.7,101.1 L213.3,102.7 L214,104.7 L214.7,106.9 L215.3,109.6 L216,112.7 L216.7,116.2 L217.3,120.2 L218,124.7 L218.7,129.4 L219.3,134.3 L220,139.1 L220.6,143.5 L221.3,146.8 L222,148.9 L222.6,149.2 L223.3,147.9 L224,145 L224.6,140.9 L225.3,136.1 L225.9,130.9 L226.6,125.8 L227.3,120.8 L227.9,116.2 L228.6,112.1 L229.3,108.4 L229.9,105.1 L230.6,102.2 L231.3,99.6 L231.9,97.4 L232.6,95.4 L233.2,93.7 L233.9,92.1 L234.6,90.8 L235.2,89.6 L235.9,88.5 L236.6,87.5 L237.2,86.7 L237.9,85.9 L238.5,85.2 L239.2,84.6 L239.9,84 L240.5,83.5 L241.2,83 L241.9,82.6 L242.5,82.2 L243.2,81.8 L243.9,81.5 L244.5,81.1 L245.2,80.9 L245.8,80.6 L246.5,80.3 L247.2,80.1 L247.8,79.9 L248.5,79.7 L249.2,79.5 L249.8,79.3 L250.5,79.2 L251.2,79 L251.8,78.9 L252.5,78.7 L253.1,78.6 L253.8,78.5 L254.5,78.4 L255.1,78.3 L255.8,78.2 L256.5,78.1 L257.1,78 L257.8,77.9 L258.4,77.8 L259.1,77.7 L259.8,77.7 L260.4,77.6 L261.1,77.5 L261.8,77.5 L262.4,77.4 L263.1,77.3 L263.8,77.3 L264.4,77.2 L265.1,77.2 L265.7,77.1 L266.4,77.1 L267.1,77 L267.7,77 L268.4,76.9 L269.1,76.9 L269.7,76.9 L270.4,76.8 L271.1,76.8 L271.7,76.7 L272.4,76.7 L273,76.7 L273.7,76.6 L274.4,76.6 L275,76.6 L275.7,76.6 L276.4,76.5 L277,76.5 L277.7,76.5 L278.4,76.5 L279,76.4 L279.7,76.4 L280.3,76.4 L281,76.4 L281.7,76.3 L282.3,76.3 L283,76.3 L283.7,76.3 L284.3,76.3 L285,76.2 L285.6,76.2 L286.3,76.2 L287,76.2 L287.6,76.2 L288.3,76.2 L289,76.1 L289.6,76.1 L290.3,76.1 L291,76.1 L291.6,76.1 L292.3,76.1 L292.9,76.1 L293.6,76.1 L294.3,76 L294.9,76 L295.6,76 L296.3,76 L296.9,76 L297.6,76 L298.2,76 L298.9,76 L299.6,76 L300.2,75.9 L300.9,75.9 L301.6,75.9 L302.2,75.9 L302.9,75.9 L303.6,75.9 L304.2,75.9 L304.9,75.9 L305.5,75.9 L306.2,75.9 L306.9,75.9 L307.5,75.8 L308.2,75.8 L308.9,75.8 L309.5,75.8 L310.2,75.8 L310.9,75.8 L311.5,75.8 L312.2,75.8 L312.8,75.8 L313.5,75.8 L314.2,75.8 L314.8,75.8 L315.5,75.8 L316.2,75.8 L316.8,75.8 L317.5,75.7 L318.1,75.7 L318.8,75.7 L319.5,75.7 L320.1,75.7 L320.8,75.7 L321.5,75.7 L322.1,75.7 L322.8,75.7 L323.5,75.7 L324.1,75.7 L324.8,75.7 L325.4,75.7 L326.1,75.7 L326.8,75.7 L327.4,75.7 L328.1,75.7 L328.8,75.7 L329.4,75.7 L330.1,75.7 L330.8,75.7 L331.4,75.6 L332.1,75.6 L332.7,75.6 L333.4,75.6 L334.1,75.6 L334.7,75.6 L335.4,75.6 L336.1,75.6 L336.7,75.6 L337.4,75.6 L338.1,75.6 L338.7,75.6 L339.4,75.6 L340,75.6 L340.7,75.6 L341.4,75.6 L342,75.6 L342.7,75.6 L343.4,75.6 L344,75.6 L344.7,75.6 L345.3,75.6 L346,75.6 L346.7,75.6 L347.3,75.6 L348,75.6" fill="none" stroke="#e040f0" stroke-width="2.2"/>
<line x1="46.5" y1="75.8" x2="350.5" y2="75.8" stroke="#e040f0" stroke-width="1.8"/>
<rect x="49.5" y="20.4" width="298.5" height="236.79999999999998" fill="none" stroke="#000" stroke-width="1.3"/>
<line x1="49.5" y1="257.2" x2="49.5" y2="262.2" stroke="#000" stroke-width="1.3"/>
<line x1="82.7" y1="257.2" x2="82.7" y2="260.2" stroke="#000" stroke-width="1.3"/>
<line x1="115.8" y1="257.2" x2="115.8" y2="262.2" stroke="#000" stroke-width="1.3"/>
<line x1="149.0" y1="257.2" x2="149.0" y2="260.2" stroke="#000" stroke-width="1.3"/>
<line x1="182.2" y1="257.2" x2="182.2" y2="262.2" stroke="#000" stroke-width="1.3"/>
<line x1="215.3" y1="257.2" x2="215.3" y2="260.2" stroke="#000" stroke-width="1.3"/>
<line x1="248.5" y1="257.2" x2="248.5" y2="262.2" stroke="#000" stroke-width="1.3"/>
<line x1="281.7" y1="257.2" x2="281.7" y2="260.2" stroke="#000" stroke-width="1.3"/>
<line x1="314.8" y1="257.2" x2="314.8" y2="262.2" stroke="#000" stroke-width="1.3"/>
<line x1="348.0" y1="257.2" x2="348.0" y2="260.2" stroke="#000" stroke-width="1.3"/>
<text x="50.3" y="280" text-anchor="middle" font-size="15">-2</text>
<text x="116.6" y="280" text-anchor="middle" font-size="15">-1</text>
<text x="183.0" y="280" text-anchor="middle" font-size="15">0</text>
<text x="249.3" y="280" text-anchor="middle" font-size="15">1</text>
<text x="315.6" y="280" text-anchor="middle" font-size="15">2</text>
<text x="197" y="296.2" text-anchor="middle" font-size="15.4">Velocity (mm/s)</text>
<text transform="translate(14,139.5) rotate(-90)" text-anchor="middle" font-size="15">Transmission (%)</text>
<text x="1" y="22.5" font-size="30" font-weight="bold">a</text>
<line x1="56.6" y1="160.7" x2="81.5" y2="160.7" stroke="#000" stroke-width="2"/>
<text x="83.5" y="166.7" font-size="15">Measured</text>
<line x1="56.6" y1="178.7" x2="81.5" y2="178.7" stroke="#ff1464" stroke-width="2.6"/>
<text x="83.5" y="184.3" font-size="15">Fitted</text>
<rect x="59" y="191.6" width="21" height="9" fill="#eeb0f4" stroke="#e040f0" stroke-width="2"/>
<text x="85" y="201.5" font-size="15">D1</text>
<rect x="59" y="209" width="21" height="9" fill="#8c8cf8" stroke="#3a3aff" stroke-width="2"/>
<text x="85" y="218.3" font-size="15">D3</text>
<g fill="none" stroke-linejoin="round">
<path d="M46,517 C50,516.5 64.8,514.6 70,513.8 C75.2,513 75.5,513.3 77.3,512.3 C79.1,511.3 79.7,510.6 80.9,507.9 C82.1,505.2 83.2,500.7 84.6,496.3 C85.9,491.9 87.4,485.8 89,481.7 C90.6,477.6 92.2,474.1 94.1,471.5 C96,468.9 98.8,468.6 100.6,466.4 C102.4,464.2 103.5,462.1 105,458.3 C106.5,454.5 107.9,448.9 109.4,443.8 C110.9,438.7 112.3,432.3 113.8,427.7 C115.2,423.1 116.4,419.6 118.1,416 C119.8,412.4 122.3,408.6 124,405.8 C125.7,403.1 126.6,402.6 128.3,399.5 C130,396.4 132.3,390.6 134,387 C135.7,383.4 137,380.3 138.5,378 C140,375.7 141.3,373.1 143,373.2 C144.7,373.3 146.5,376.1 148.4,378.6 C150.3,381.1 152.4,386.2 154.4,388.2 C156.4,390.2 158.2,390.8 160.4,390.6 C162.6,390.4 165.2,388.1 167.6,387 C170,385.9 172.2,384.3 174.8,384 C177.4,383.7 180.4,385.9 183.2,385.2 C186,384.5 189.3,381.1 191.6,379.8 C193.9,378.5 194.5,378.1 197.2,377.2 C199.9,376.3 203.6,374.5 208,374.2 C212.4,373.9 219,375.2 223.6,375.4 C228.2,375.6 231.2,375.1 235.6,375.4 C240,375.7 245.2,376.6 250,377.2 C254.8,377.8 260.4,378 264.4,379 C268.4,380 271.5,382.1 274,383.2 C276.5,384.3 276.9,384.7 279.6,385.4 C282.3,386.1 286.4,387.5 290.4,387.4 C294.4,387.3 299,386.2 303.6,384.8 C308.2,383.4 313.6,380.5 318,378.8 C322.4,377.1 326.4,375.2 330,374.6 C333.6,374 336.2,374.4 339.6,375.2 C343,376 348.6,378.7 350.4,379.4" stroke="#000" stroke-width="2"/>
<path d="M46,517 C50,516.9 64.3,516.5 70,516.5 C75.7,516.5 77,517.4 80.2,516.7 C83.4,516 86.7,513.6 89,512.3 C91.3,510.9 92.2,509.3 94.1,508.6 C96,507.9 98.5,508.5 100.6,507.9 C102.7,507.3 104.5,507.2 106.5,505 C108.5,502.8 110.6,500.2 112.3,494.8 C114,489.4 115.2,481.4 116.7,472.9 C118.2,464.4 119.5,453.5 121,443.8 C122.5,434.1 124,421.9 125.4,414.6 C126.8,407.3 127.6,410.4 129.2,400 C130.8,389.6 133.4,363 135.2,352.2 C137,341.4 138.4,339 140,335.4 C141.6,331.8 143.1,332.4 144.8,330.6 C146.5,328.8 148.8,325 150.2,324.6 C151.6,324.2 151.9,325.8 153.2,328.2 C154.5,330.6 156.2,335.4 158,339 C159.8,342.6 162,346.2 164,349.8 C166,353.4 168,357 170,360.6 C172,364.2 174,368.7 176,371.4 C178,374.1 179.8,375.7 182,376.8 C184.2,377.9 185.9,376.2 189.2,378 C192.5,379.8 197.9,384.2 202,387.4 C206.1,390.6 210.4,394.4 214,397 C217.6,399.6 220.6,401.8 223.6,403 C226.6,404.2 229,404.3 232,404.2 C235,404.1 238.2,403.4 241.6,402.4 C245,401.4 249.2,399.9 252.4,398.2 C255.6,396.5 258.6,394.6 260.8,392.2 C263,389.8 263.8,386.4 265.6,383.8 C267.4,381.2 269.7,378.6 271.6,376.6 C273.5,374.6 274.7,372.9 277.2,371.6 C279.7,370.3 283,368.8 286.8,368.6 C290.6,368.4 294.8,370.3 300,370.4 C305.2,370.5 312,369 318,369.2 C324,369.4 330.6,370.6 336,371.6 C341.4,372.6 348,374.6 350.4,375.2" stroke="#16989a" stroke-width="2"/>
<path d="M46,519 C47,518.9 50,519 52,518.5 C54,518 56.3,516.2 58,516 C59.7,515.8 60.7,517.7 62,517.5 C63.3,517.3 64.7,515.1 66,515 C67.3,514.9 69,516.6 70,517 C71,517.4 71.2,517.9 72.2,517.4 C73.2,516.9 74.7,514.6 76,514 C77.3,513.4 78.9,514.6 80.2,513.8 C81.5,513 82.5,510.4 84,509 C85.5,507.6 87.6,506.1 89,505.7 C90.4,505.3 91.1,506.1 92.6,506.5 C94,506.9 95.9,508.4 97.7,507.9 C99.5,507.4 101.8,505.9 103.5,503.5 C105.2,501.1 106.3,498.6 107.9,493.3 C109.5,488 111.3,479.8 113,471.5 C114.7,463.2 116.4,453.3 118.1,443.8 C119.8,434.3 121.5,422.1 123.2,414.6 C124.9,407.1 126,409.6 128,399 C130,388.4 133.2,362.8 135.2,351 C137.2,339.2 138.5,332.9 140,328.2 C141.5,323.5 142.8,322.6 144.2,322.8 C145.6,323 146.8,325.7 148.4,329.4 C150,333.1 152.4,341.4 153.8,345 C155.2,348.6 155.5,349 156.8,351 C158.1,353 159.8,354.8 161.6,357 C163.4,359.2 165.9,362.6 167.6,364.2 C169.3,365.8 170.7,365.4 171.8,366.6 C172.9,367.8 172.9,370.8 174.2,371.4 C175.5,372 177.6,370.7 179.6,370.2 C181.6,369.7 184,367.8 186.2,368.4 C188.4,369 190.8,371.4 192.8,373.8 C194.8,376.2 195.9,379.8 198.4,382.6 C200.9,385.4 204.4,388.3 208,390.4 C211.6,392.5 216,394.1 220,395.2 C224,396.3 228.6,396.8 232,397 C235.4,397.2 238,397.4 240.4,396.4 C242.8,395.4 243.6,392.7 246.4,391 C249.2,389.3 254,387.4 257.2,386.2 C260.4,385 263.2,385 265.6,383.8 C268,382.6 269.3,380.7 271.6,379 C273.9,377.3 276.3,375 279.6,373.4 C282.9,371.8 287.8,370.3 291.6,369.2 C295.4,368.1 299.1,367.4 302.4,366.8 C305.7,366.2 309,365.5 311.4,365.8 C313.8,366.1 315.3,368.4 316.8,368.6 C318.3,368.8 318.4,366.9 320.4,366.8 C322.4,366.7 325.8,367.3 328.8,367.8 C331.8,368.3 334.8,368.7 338.4,369.8 C342,370.9 348.4,373.8 350.4,374.6" stroke="#5a2ab8" stroke-width="2"/>
<path d="M46,515.7 C50,515.5 64.5,515.1 70,514.5 C75.5,513.9 76.6,513.3 78.8,512.3 C81,511.3 81.6,509.9 83.1,508.6 C84.5,507.3 85.8,505.3 87.5,504.3 C89.2,503.3 91.7,503.4 93.3,502.8 C94.9,502.2 95.4,502.2 97,500.6 C98.6,499 100.7,497.2 102.8,493.3 C104.9,489.4 107.6,482.9 109.4,477.3 C111.2,471.7 112.3,466.6 113.8,459.8 C115.2,453 116.8,444 118.1,436.5 C119.4,429 120.6,420.9 121.8,414.6 C123,408.4 124.2,405.2 125.4,399 C126.6,392.8 127.8,384.2 129.2,377.4 C130.6,370.6 132.4,363.4 134,358.2 C135.6,353 137,349.2 138.8,346.2 C140.6,343.2 142.6,341.3 144.8,340.2 C147,339.1 149.6,339.3 152,339.4 C154.4,339.5 156.8,339.8 159.2,340.8 C161.6,341.8 164,343.1 166.4,345.6 C168.8,348.1 171.2,352.5 173.6,355.8 C176,359.1 178.4,362.4 180.8,365.4 C183.2,368.4 185.3,370.9 188,373.8 C190.7,376.7 193.9,379.9 197.2,382.6 C200.5,385.3 204.2,387.9 208,389.8 C211.8,391.7 216.2,393.2 220,394 C223.8,394.8 227.2,395.1 230.8,394.6 C234.4,394.1 237.8,392.5 241.6,391 C245.4,389.5 249.4,387.5 253.6,385.6 C257.8,383.7 262.5,381.4 266.8,379.6 C271.1,377.8 275.1,375.7 279.6,374.6 C284.1,373.5 287.6,373.6 294,373.2 C300.4,372.8 311,372.4 318,372.2 C325,372 330.8,372 336,372 C341.2,372 347,372.2 349.2,372.2" stroke="#ff1a6e" stroke-width="3"/>
</g>
<rect x="79.2" y="464" width="16.6" height="56.3" fill="none" stroke="#ff1a6e" stroke-width="2.4" stroke-dasharray="3.6,3"/>
<rect x="49.0" y="318.7" width="298.2" height="212.3" fill="none" stroke="#000" stroke-width="1.3"/>
<line x1="46.5" y1="531.5" x2="49.0" y2="531.5" stroke="#000" stroke-width="1.3"/>
<line x1="44.5" y1="517.3" x2="49.0" y2="517.3" stroke="#000" stroke-width="1.3"/>
<text x="42.5" y="523.9" text-anchor="end" font-size="15">0.0</text>
<line x1="46.5" y1="503.1" x2="49.0" y2="503.1" stroke="#000" stroke-width="1.3"/>
<line x1="44.5" y1="488.9" x2="49.0" y2="488.9" stroke="#000" stroke-width="1.3"/>
<text x="42.5" y="495.5" text-anchor="end" font-size="15">0.2</text>
<line x1="46.5" y1="474.7" x2="49.0" y2="474.7" stroke="#000" stroke-width="1.3"/>
<line x1="44.5" y1="460.5" x2="49.0" y2="460.5" stroke="#000" stroke-width="1.3"/>
<text x="42.5" y="467.1" text-anchor="end" font-size="15">0.4</text>
<line x1="46.5" y1="446.3" x2="49.0" y2="446.3" stroke="#000" stroke-width="1.3"/>
<line x1="44.5" y1="432.2" x2="49.0" y2="432.2" stroke="#000" stroke-width="1.3"/>
<text x="42.5" y="438.8" text-anchor="end" font-size="15">0.6</text>
<line x1="46.5" y1="418.0" x2="49.0" y2="418.0" stroke="#000" stroke-width="1.3"/>
<line x1="44.5" y1="403.8" x2="49.0" y2="403.8" stroke="#000" stroke-width="1.3"/>
<text x="42.5" y="410.4" text-anchor="end" font-size="15">0.8</text>
<line x1="46.5" y1="389.6" x2="49.0" y2="389.6" stroke="#000" stroke-width="1.3"/>
<line x1="44.5" y1="375.4" x2="49.0" y2="375.4" stroke="#000" stroke-width="1.3"/>
<text x="42.5" y="382.0" text-anchor="end" font-size="15">1.0</text>
<line x1="46.5" y1="361.2" x2="49.0" y2="361.2" stroke="#000" stroke-width="1.3"/>
<line x1="44.5" y1="347.0" x2="49.0" y2="347.0" stroke="#000" stroke-width="1.3"/>
<text x="42.5" y="353.6" text-anchor="end" font-size="15">1.2</text>
<line x1="46.5" y1="332.8" x2="49.0" y2="332.8" stroke="#000" stroke-width="1.3"/>
<line x1="49.0" y1="531.0" x2="49.0" y2="536.0" stroke="#000" stroke-width="1.3"/>
<text x="44.1" y="552.7" text-anchor="middle" font-size="15">7100</text>
<line x1="78.7" y1="531.0" x2="78.7" y2="534.0" stroke="#000" stroke-width="1.3"/>
<line x1="108.3" y1="531.0" x2="108.3" y2="536.0" stroke="#000" stroke-width="1.3"/>
<text x="106.0" y="552.7" text-anchor="middle" font-size="15">7120</text>
<line x1="138.0" y1="531.0" x2="138.0" y2="534.0" stroke="#000" stroke-width="1.3"/>
<line x1="167.7" y1="531.0" x2="167.7" y2="536.0" stroke="#000" stroke-width="1.3"/>
<text x="166.8" y="552.7" text-anchor="middle" font-size="15">7140</text>
<line x1="197.4" y1="531.0" x2="197.4" y2="534.0" stroke="#000" stroke-width="1.3"/>
<line x1="227.0" y1="531.0" x2="227.0" y2="536.0" stroke="#000" stroke-width="1.3"/>
<text x="227.6" y="552.7" text-anchor="middle" font-size="15">7160</text>
<line x1="256.7" y1="531.0" x2="256.7" y2="534.0" stroke="#000" stroke-width="1.3"/>
<line x1="286.4" y1="531.0" x2="286.4" y2="536.0" stroke="#000" stroke-width="1.3"/>
<text x="288.0" y="552.7" text-anchor="middle" font-size="15">7180</text>
<line x1="316.0" y1="531.0" x2="316.0" y2="534.0" stroke="#000" stroke-width="1.3"/>
<line x1="345.7" y1="531.0" x2="345.7" y2="536.0" stroke="#000" stroke-width="1.3"/>
<text x="342.9" y="552.7" text-anchor="middle" font-size="15">7200</text>
<text x="197.3" y="572" text-anchor="middle" font-size="15">Energy (eV)</text>
<text transform="translate(15,429.3) rotate(-90)" text-anchor="middle" font-size="15">Norm. E (a.u.)</text>
<text x="0" y="326" font-size="30" font-weight="bold">b</text>
<line x1="224" y1="453.1" x2="248.3" y2="453.1" stroke="#ff1a6e" stroke-width="3"/>
<text x="251.9" y="459.4" font-size="14.5">FeN<tspan font-size="9.5">4</tspan>O<tspan font-size="9.5">2</tspan>-SACs</text>
<line x1="224" y1="472.8" x2="248.3" y2="472.8" stroke="#000" stroke-width="2"/>
<text x="251.9" y="478.7" font-size="14.5">Fe Foil</text>
<line x1="224" y1="490.8" x2="248.3" y2="490.8" stroke="#16989a" stroke-width="2"/>
<text x="251.9" y="496.7" font-size="14.5">Fe<tspan font-size="9.5" dy="4">2</tspan><tspan dy="-4">O</tspan><tspan font-size="9.5" dy="4">3</tspan></text>
<line x1="224" y1="511" x2="248.3" y2="511" stroke="#5a2ab8" stroke-width="2"/>
<text x="251.9" y="516.5" font-size="14.5">Fe<tspan font-size="9.5" dy="4">3</tspan><tspan dy="-4">O</tspan><tspan font-size="9.5" dy="4">4</tspan></text>
<path d="M53.2,784 C54,785.2 56.3,788.7 58,791 C59.7,793.3 61.4,798.2 63.2,798 C65,797.8 66.9,792.6 69,790 C71.1,787.4 73.9,782.7 75.6,782.4 C77.3,782.1 77.7,785.7 79,788 C80.3,790.3 82.3,796.7 83.6,796.4 C84.9,796.1 85.9,789.7 87,786 C88.1,782.3 88.9,778.3 90,774 C91.1,769.7 92.4,765.1 93.6,760.4 C94.8,755.7 95.8,750.6 97,746 C98.2,741.4 99.8,737.3 101,733 C102.2,728.7 103.4,724.3 104.4,720 C105.5,715.7 106.3,712 107.3,707 C108.3,702 109.4,696 110.5,690 C111.6,684 112.7,677.2 113.7,671 C114.7,664.8 115.5,658.3 116.4,653 C117.3,647.7 118.4,642.7 119.3,639 C120.2,635.3 120.9,632.7 122,631 C123.1,629.3 124.6,628.3 125.7,629 C126.8,629.7 127.4,631.5 128.4,635 C129.4,638.5 130.8,644.3 131.9,650 C133,655.7 133.8,662 134.8,669 C135.8,676 136.7,684.3 137.7,692 C138.7,699.7 139.9,707.7 140.9,715 C141.9,722.3 142.7,729.8 143.7,736 C144.7,742.2 145.8,748 146.9,752.4 C148,756.8 149,760.2 150,762.5 C151,764.8 151.9,767.2 153,766 C154.1,764.8 155.2,759.2 156.4,755.5 C157.6,751.8 158.6,747.4 160,744 C161.4,740.6 163.5,736.7 164.9,735 C166.3,733.3 167.4,733.5 168.7,733.9 C170,734.3 171.5,734.9 172.9,737.6 C174.3,740.3 175.8,745.2 177.2,749.9 C178.6,754.6 180.2,760.6 181.5,765.9 C182.8,771.2 183.9,777.3 185.2,781.9 C186.5,786.5 187.9,792.5 189.5,793.6 C191.1,794.7 192.9,789.7 194.8,788.3 C196.8,786.9 198.7,786.2 201.2,785.1 C203.7,784 206.7,782.9 209.7,781.9 C212.7,780.9 216.8,779.6 219.3,779.2 C221.9,778.8 222.8,778.9 225,779.3 C227.2,779.7 230.2,782 232.5,781.5 C234.8,781 236.6,777.4 238.9,776.1 C241.2,774.8 244,773.2 246.3,773.5 C248.6,773.8 250.4,775.9 252.7,777.7 C255,779.5 257.7,783 260.2,784.1 C262.7,785.2 265.4,783.9 267.7,784.1 C270,784.3 271.8,784.3 274.1,785.2 C276.4,786.1 278.7,788.7 281.5,789.5 C284.3,790.3 288.1,789.7 291.1,790 C294.1,790.3 296.6,790.5 299.7,791.1 C302.8,791.7 305.8,792.7 310,793.5 C314.2,794.3 319.2,795.3 325,796 C330.8,796.7 341.7,797.2 345,797.5" fill="none" stroke="#7f7f7f" stroke-width="3" stroke-linejoin="round"/>
<g fill="#fff" stroke="#ff1a6e" stroke-width="1.7">
<ellipse cx="54.4" cy="782.4" rx="4.2" ry="3.8"/>
<ellipse cx="56.8" cy="784.0" rx="4.2" ry="3.8"/>
<ellipse cx="59.6" cy="786.0" rx="4.2" ry="3.8"/>
<ellipse cx="62.8" cy="786.4" rx="4.2" ry="3.8"/>
<ellipse cx="66.0" cy="783.6" rx="4.2" ry="3.8"/>
<ellipse cx="68.8" cy="780.8" rx="4.2" ry="3.8"/>
<ellipse cx="71.6" cy="778.0" rx="4.2" ry="3.8"/>
<ellipse cx="74.4" cy="776.4" rx="4.2" ry="3.8"/>
<ellipse cx="77.2" cy="776.4" rx="4.2" ry="3.8"/>
<ellipse cx="80.0" cy="777.2" rx="4.2" ry="3.8"/>
<ellipse cx="83.2" cy="776.4" rx="4.2" ry="3.8"/>
<ellipse cx="86.4" cy="772.0" rx="4.2" ry="3.8"/>
<ellipse cx="89.3" cy="764.7" rx="4.2" ry="3.8"/>
<ellipse cx="92.3" cy="755.6" rx="4.2" ry="3.8"/>
<ellipse cx="95.1" cy="747.6" rx="4.2" ry="3.8"/>
<ellipse cx="98.1" cy="739.3" rx="4.2" ry="3.8"/>
<ellipse cx="101.5" cy="731.6" rx="4.2" ry="3.8"/>
<ellipse cx="104.5" cy="722.0" rx="4.2" ry="3.8"/>
<ellipse cx="107.4" cy="709.0" rx="4.2" ry="3.8"/>
<ellipse cx="110.5" cy="692.3" rx="4.2" ry="3.8"/>
<ellipse cx="113.7" cy="673.1" rx="4.2" ry="3.8"/>
<ellipse cx="116.4" cy="654.4" rx="4.2" ry="3.8"/>
<ellipse cx="119.3" cy="639.7" rx="4.2" ry="3.8"/>
<ellipse cx="122.0" cy="630.7" rx="4.2" ry="3.8"/>
<ellipse cx="125.7" cy="629.6" rx="4.2" ry="3.8"/>
<ellipse cx="128.4" cy="636.5" rx="4.2" ry="3.8"/>
<ellipse cx="131.9" cy="650.9" rx="4.2" ry="3.8"/>
<ellipse cx="134.8" cy="670.1" rx="4.2" ry="3.8"/>
<ellipse cx="137.8" cy="692.7" rx="4.2" ry="3.8"/>
<ellipse cx="140.7" cy="715.6" rx="4.2" ry="3.8"/>
<ellipse cx="143.7" cy="736.1" rx="4.2" ry="3.8"/>
<ellipse cx="146.9" cy="752.4" rx="4.2" ry="3.8"/>
<ellipse cx="149.5" cy="762.0" rx="4.2" ry="3.8"/>
<ellipse cx="153.3" cy="764.1" rx="4.2" ry="3.8"/>
<ellipse cx="155.9" cy="760.0" rx="4.2" ry="3.8"/>
<ellipse cx="159.1" cy="752.5" rx="4.2" ry="3.8"/>
<ellipse cx="161.7" cy="745.6" rx="4.2" ry="3.8"/>
<ellipse cx="164.4" cy="741.3" rx="4.2" ry="3.8"/>
<ellipse cx="168.1" cy="740.8" rx="4.2" ry="3.8"/>
<ellipse cx="171.3" cy="745.6" rx="4.2" ry="3.8"/>
<ellipse cx="174.3" cy="753.6" rx="4.2" ry="3.8"/>
<ellipse cx="177.2" cy="763.7" rx="4.2" ry="3.8"/>
<ellipse cx="180.4" cy="773.3" rx="4.2" ry="3.8"/>
<ellipse cx="183.1" cy="779.2" rx="4.2" ry="3.8"/>
<ellipse cx="186.8" cy="778.1" rx="4.2" ry="3.8"/>
<ellipse cx="191.1" cy="776.0" rx="4.2" ry="3.8"/>
<ellipse cx="195.3" cy="777.6" rx="4.2" ry="3.8"/>
<ellipse cx="198.5" cy="782.9" rx="4.2" ry="3.8"/>
<ellipse cx="201.2" cy="788.3" rx="4.2" ry="3.8"/>
<ellipse cx="203.9" cy="793.6" rx="4.2" ry="3.8"/>
<ellipse cx="208.1" cy="792.5" rx="4.2" ry="3.8"/>
<ellipse cx="212.4" cy="789.9" rx="4.2" ry="3.8"/>
<ellipse cx="216.1" cy="790.4" rx="4.2" ry="3.8"/>
<ellipse cx="220.4" cy="793.1" rx="4.2" ry="3.8"/>
<ellipse cx="224.7" cy="794.7" rx="4.2" ry="3.8"/>
<ellipse cx="228.9" cy="792.5" rx="4.2" ry="3.8"/>
<ellipse cx="231.6" cy="792.2" rx="4.2" ry="3.8"/>
<ellipse cx="234.6" cy="793.4" rx="4.2" ry="3.8"/>
<ellipse cx="237.7" cy="795.6" rx="4.2" ry="3.8"/>
<ellipse cx="240.7" cy="797.1" rx="4.2" ry="3.8"/>
<ellipse cx="243.8" cy="796.8" rx="4.2" ry="3.8"/>
<ellipse cx="246.8" cy="795.0" rx="4.2" ry="3.8"/>
<ellipse cx="249.8" cy="793.3" rx="4.2" ry="3.8"/>
<ellipse cx="252.9" cy="793.3" rx="4.2" ry="3.8"/>
<ellipse cx="255.9" cy="795.0" rx="4.2" ry="3.8"/>
<ellipse cx="259.0" cy="797.1" rx="4.2" ry="3.8"/>
<ellipse cx="262.0" cy="798.0" rx="4.2" ry="3.8"/>
<ellipse cx="265.0" cy="797.0" rx="4.2" ry="3.8"/>
<ellipse cx="268.1" cy="795.1" rx="4.2" ry="3.8"/>
<ellipse cx="271.1" cy="793.9" rx="4.2" ry="3.8"/>
<ellipse cx="274.2" cy="794.5" rx="4.2" ry="3.8"/>
<ellipse cx="277.2" cy="796.6" rx="4.2" ry="3.8"/>
<ellipse cx="280.2" cy="798.5" rx="4.2" ry="3.8"/>
<ellipse cx="283.3" cy="798.7" rx="4.2" ry="3.8"/>
<ellipse cx="286.3" cy="797.2" rx="4.2" ry="3.8"/>
<ellipse cx="289.4" cy="795.3" rx="4.2" ry="3.8"/>
<ellipse cx="292.4" cy="794.7" rx="4.2" ry="3.8"/>
<ellipse cx="295.4" cy="796.0" rx="4.2" ry="3.8"/>
<ellipse cx="298.5" cy="798.2" rx="4.2" ry="3.8"/>
<ellipse cx="301.5" cy="799.5" rx="4.2" ry="3.8"/>
<ellipse cx="304.6" cy="799.0" rx="4.2" ry="3.8"/>
<ellipse cx="307.6" cy="797.3" rx="4.2" ry="3.8"/>
<ellipse cx="310.6" cy="795.9" rx="4.2" ry="3.8"/>
<ellipse cx="313.7" cy="796.0" rx="4.2" ry="3.8"/>
<ellipse cx="316.7" cy="797.3" rx="4.2" ry="3.8"/>
<ellipse cx="319.8" cy="798.7" rx="4.2" ry="3.8"/>
<ellipse cx="322.8" cy="799.1" rx="4.2" ry="3.8"/>
<ellipse cx="325.8" cy="798.2" rx="4.2" ry="3.8"/>
<ellipse cx="328.9" cy="797.0" rx="4.2" ry="3.8"/>
<ellipse cx="331.9" cy="796.5" rx="4.2" ry="3.8"/>
<ellipse cx="335.0" cy="796.9" rx="4.2" ry="3.8"/>
<ellipse cx="338.0" cy="797.8" rx="4.2" ry="3.8"/>
<ellipse cx="341.0" cy="798.3" rx="4.2" ry="3.8"/>
<ellipse cx="344.8" cy="797.9" rx="4.2" ry="3.8"/>
</g>
<rect x="52.8" y="604.4" width="297.2" height="211.89999999999998" fill="none" stroke="#000" stroke-width="1.3"/>
<line x1="50.3" y1="816.0" x2="52.8" y2="816.0" stroke="#000" stroke-width="1.3"/>
<line x1="48.3" y1="798.4" x2="52.8" y2="798.4" stroke="#000" stroke-width="1.3"/>
<text x="42.5" y="806.2" text-anchor="end" font-size="15">0</text>
<line x1="50.3" y1="780.8" x2="52.8" y2="780.8" stroke="#000" stroke-width="1.3"/>
<line x1="48.3" y1="763.1" x2="52.8" y2="763.1" stroke="#000" stroke-width="1.3"/>
<text x="42.5" y="770.9" text-anchor="end" font-size="15">1</text>
<line x1="50.3" y1="745.4" x2="52.8" y2="745.4" stroke="#000" stroke-width="1.3"/>
<line x1="48.3" y1="727.8" x2="52.8" y2="727.8" stroke="#000" stroke-width="1.3"/>
<text x="42.5" y="735.6" text-anchor="end" font-size="15">2</text>
<line x1="50.3" y1="710.1" x2="52.8" y2="710.1" stroke="#000" stroke-width="1.3"/>
<line x1="48.3" y1="692.5" x2="52.8" y2="692.5" stroke="#000" stroke-width="1.3"/>
<text x="42.5" y="700.3" text-anchor="end" font-size="15">3</text>
<line x1="50.3" y1="674.9" x2="52.8" y2="674.9" stroke="#000" stroke-width="1.3"/>
<line x1="48.3" y1="657.2" x2="52.8" y2="657.2" stroke="#000" stroke-width="1.3"/>
<text x="42.5" y="665.0" text-anchor="end" font-size="15">4</text>
<line x1="50.3" y1="639.5" x2="52.8" y2="639.5" stroke="#000" stroke-width="1.3"/>
<line x1="48.3" y1="621.9" x2="52.8" y2="621.9" stroke="#000" stroke-width="1.3"/>
<text x="42.5" y="629.7" text-anchor="end" font-size="15">5</text>
<line x1="53.3" y1="816.3" x2="53.3" y2="821.3" stroke="#000" stroke-width="1.3"/>
<text x="52.1" y="836.3" text-anchor="middle" font-size="15">0</text>
<line x1="102.8" y1="816.3" x2="102.8" y2="819.3" stroke="#000" stroke-width="1.3"/>
<line x1="152.2" y1="816.3" x2="152.2" y2="821.3" stroke="#000" stroke-width="1.3"/>
<text x="150.3" y="836.3" text-anchor="middle" font-size="15">2</text>
<line x1="201.7" y1="816.3" x2="201.7" y2="819.3" stroke="#000" stroke-width="1.3"/>
<line x1="251.1" y1="816.3" x2="251.1" y2="821.3" stroke="#000" stroke-width="1.3"/>
<text x="248.6" y="836.3" text-anchor="middle" font-size="15">4</text>
<line x1="300.6" y1="816.3" x2="300.6" y2="819.3" stroke="#000" stroke-width="1.3"/>
<line x1="350.0" y1="816.3" x2="350.0" y2="821.3" stroke="#000" stroke-width="1.3"/>
<text x="346.8" y="836.3" text-anchor="middle" font-size="15">6</text>
<text x="206" y="851.5" text-anchor="middle" font-size="15">R(Å)</text>
<text transform="translate(15,717.5) rotate(-90)" text-anchor="middle" font-size="15">FT k<tspan font-size="10" dy="-5">3</tspan><tspan dy="5">χ(k) (Å</tspan><tspan font-size="10" dy="-5">-3</tspan><tspan dy="5">)</tspan></text>
<text x="1" y="612.5" font-size="30" font-weight="bold">c</text>
<line x1="212.4" y1="626.6" x2="250" y2="626.6" stroke="#7f7f7f" stroke-width="3"/>
<text x="253.6" y="631.2" font-size="14.5">FeN<tspan font-size="9.5">4</tspan>O<tspan font-size="9.5">2</tspan>-SACs</text>
<ellipse cx="231" cy="646.6" rx="3.7" ry="3.2" fill="#fff" stroke="#ff1a6e" stroke-width="1.6"/>
<text x="253.6" y="651.2" font-size="14.5">Fitting</text>
<line x1="533.7" y1="18.5" x2="533.7" y2="179.7" stroke="#fff" stroke-opacity="0.85" stroke-width="1.8" stroke-dasharray="5.5,3"/>
<line x1="594.6" y1="18.5" x2="594.6" y2="179.7" stroke="#fff" stroke-opacity="0.85" stroke-width="1.8" stroke-dasharray="5.5,3"/>
<line x1="534.1" y1="228.4" x2="534.1" y2="391.1" stroke="#fff" stroke-opacity="0.85" stroke-width="1.8" stroke-dasharray="5.5,3"/>
<line x1="594.9" y1="228.4" x2="594.9" y2="391.1" stroke="#fff" stroke-opacity="0.85" stroke-width="1.8" stroke-dasharray="5.5,3"/>
<line x1="534.0" y1="440.3" x2="534.0" y2="602.9" stroke="#fff" stroke-opacity="0.85" stroke-width="1.8" stroke-dasharray="5.5,3"/>
<line x1="594.8" y1="440.3" x2="594.8" y2="602.9" stroke="#fff" stroke-opacity="0.85" stroke-width="1.8" stroke-dasharray="5.5,3"/>
<line x1="534.1" y1="654.1" x2="534.1" y2="815.7" stroke="#fff" stroke-opacity="0.85" stroke-width="1.8" stroke-dasharray="5.5,3"/>
<line x1="594.9" y1="654.1" x2="594.9" y2="815.7" stroke="#fff" stroke-opacity="0.85" stroke-width="1.8" stroke-dasharray="5.5,3"/>
<g fill="none" stroke="#303030" stroke-width="1.25" clip-path="url(#cpd)"><path d="M517.9,19.8 516.1,22.8 514.8,25.9 514.2,28.8 514.3,31.6 514.9,34.4 515.8,37.2 517.1,40.0 518.5,42.7 520.0,45.4 521.5,48.2 522.8,51.0 523.8,53.8 524.5,56.6 524.8,59.4 524.7,62.0 524.0,64.5 522.7,66.8 520.8,68.8 518.5,70.7 515.9,72.3 513.2,73.8 510.4,75.1 507.5,76.2 504.6,77.3 501.6,78.3 498.6,79.4 495.6,80.4 492.6,81.6 489.7,82.8 486.8,84.1 484.0,85.7 481.4,87.4 479.0,89.3 477.1,91.5 475.6,93.8 474.7,96.5 474.3,99.2 474.3,102.1 474.8,105.0 475.6,107.9 476.7,110.7 478.1,113.4 479.7,115.9 481.5,118.2 483.5,120.4 485.6,122.4 488.0,124.3 490.4,126.1 493.0,127.7 495.7,129.2 498.5,130.6 501.4,131.8 504.3,132.9 507.3,133.9 510.3,134.7 513.3,135.4 516.3,136.0 519.3,136.5 522.3,136.9 525.3,137.2 528.3,137.4 531.2,137.5 534.2,137.6 537.2,137.6 540.1,137.6 543.1,137.5 546.1,137.5 549.1,137.4 552.0,137.3 555.0,137.2 558.0,137.1 561.0,137.0 564.0,137.0 567.1,136.9 570.1,136.9 573.1,136.9 576.2,136.8 579.2,136.7 582.2,136.6 585.2,136.5 588.3,136.3 591.3,136.1 594.3,135.9 597.3,135.6 600.3,135.3 603.3,135.0 606.3,134.6 609.2,134.3 612.2,133.9 615.2,133.4 618.2,133.0 621.1,132.5 624.1,132.1 627.1,131.6 630.1,131.1 633.0,130.5 636.0,130.0 638.9,129.4 641.9,128.9 644.9,128.3 647.8,127.7 650.8,127.2 653.7,126.6 656.7,126.0 659.6,125.4 662.6,124.8 665.5,124.2 668.5,123.6 671.4,123.0 674.4,122.4 677.3,121.8 680.3,121.2 683.3,120.6 686.2,120.1 689.2,119.5 692.1,119.0 695.1,118.4 698.1,117.9 701.0,117.4 704.0,116.9 707.0,116.4 710.0,116.0 713.0,115.5 715.9,115.1 718.9,114.7 721.9,114.3 724.9,114.0 727.9,113.6 730.9,113.4 733.9,113.1 736.9,112.8 740.0,112.6 743.0,112.5 746.0,112.2 M663.6,19.8 666.6,20.5 669.6,21.3 672.5,22.3 675.4,23.3 678.2,24.4 681.1,25.5 683.9,26.7 686.7,27.9 689.5,29.2 692.3,30.5 695.0,31.9 697.8,33.2 700.5,34.6 703.3,36.1 706.0,37.5 708.7,38.9 711.4,40.4 714.1,41.8 716.9,43.3 719.6,44.7 722.3,46.2 725.0,47.6 727.8,49.0 730.5,50.3 733.3,51.6 736.1,52.9 738.9,54.2 741.7,55.4 744.6,56.5 746.0,57.1 M557.5,22.3 560.2,21.7 563.1,21.7 566.2,22.2 569.2,23.1 572.2,24.3 575.3,25.4 578.3,26.5 581.2,27.5 584.1,28.3 587.1,29.1 590.0,29.8 592.9,30.3 595.8,30.8 598.7,31.3 601.6,31.6 604.5,31.8 607.5,32.0 610.5,32.1 613.5,32.2 616.5,32.2 619.6,32.1 622.6,32.1 625.7,32.0 628.8,31.9 631.9,31.8 635.0,31.8 638.1,31.7 641.2,31.7 644.3,31.8 647.4,31.9 650.5,32.1 653.5,32.4 656.6,32.7 659.6,33.2 662.6,33.8 665.5,34.5 668.5,35.3 671.4,36.2 674.3,37.2 677.2,38.3 680.1,39.4 682.9,40.6 685.8,41.9 688.6,43.2 691.4,44.5 694.2,45.9 696.9,47.3 699.7,48.6 702.4,50.0 705.2,51.3 707.9,52.6 710.6,53.9 713.3,55.1 716.0,56.3 718.7,57.6 721.3,58.9 724.0,60.4 726.6,62.0 729.1,63.7 731.7,65.7 734.1,68.0 736.5,70.4 738.6,73.0 740.3,75.8 741.7,78.5 742.5,81.3 742.7,84.1 742.2,86.7 741.1,89.3 739.4,91.6 737.4,93.9 735.1,95.9 732.7,97.8 730.2,99.4 727.5,100.9 724.8,102.2 722.0,103.3 719.2,104.4 716.2,105.3 713.3,106.1 710.3,106.8 707.2,107.5 704.2,108.1 701.1,108.7 698.1,109.3 695.0,110.0 691.9,110.6 688.9,111.2 685.9,111.9 682.9,112.6 679.8,113.3 676.8,114.0 673.8,114.7 670.9,115.4 667.9,116.1 664.9,116.8 661.9,117.5 658.9,118.1 656.0,118.8 653.0,119.5 650.0,120.1 647.1,120.8 644.1,121.4 641.1,122.0 638.2,122.5 635.2,123.1 632.2,123.6 629.2,124.0 626.2,124.5 623.2,124.8 620.2,125.2 617.2,125.5 614.2,125.8 611.2,126.0 608.1,126.1 605.1,126.3 602.0,126.3 598.9,126.3 595.9,126.3 592.8,126.2 589.7,126.2 586.6,126.1 583.5,125.9 580.4,125.8 577.3,125.7 574.2,125.6 571.1,125.5 568.1,125.5 565.0,125.4 561.9,125.4 558.8,125.4 555.8,125.4 552.7,125.4 549.7,125.3 546.7,125.2 543.7,125.0 540.6,124.7 537.6,124.3 534.7,123.8 531.7,123.2 528.7,122.5 525.8,121.6 522.8,120.5 519.9,119.2 517.0,117.7 514.1,116.1 511.5,114.2 509.0,112.2 506.9,110.1 505.2,107.8 504.0,105.4 503.5,102.9 503.5,100.4 504.2,97.8 505.4,95.2 507.1,92.6 509.1,90.1 511.5,87.8 514.0,85.5 516.7,83.5 519.5,81.6 522.3,79.9 525.1,78.3 527.8,76.7 530.5,75.1 532.9,73.4 535.2,71.6 537.2,69.7 538.9,67.6 540.4,65.2 541.6,62.6 542.5,59.9 543.4,57.1 544.1,54.1 544.7,51.0 545.3,47.8 545.9,44.6 546.6,41.3 547.3,38.0 548.3,34.8 549.4,31.8 550.7,29.0 552.2,26.5 554.1,24.4 556.3,22.9 557.5,22.3 M594.8,19.8 597.7,21.4 600.7,22.5 603.9,23.2 607.1,23.5 610.4,23.5 613.6,23.1 616.8,22.4 620.0,21.4 622.9,20.2 624.4,19.5 M582.1,42.1 585.2,41.5 588.3,41.0 591.4,40.6 594.5,40.2 597.6,40.0 600.7,39.8 603.9,39.6 607.0,39.6 610.1,39.5 613.3,39.6 616.4,39.7 619.5,39.8 622.7,40.0 625.8,40.2 628.9,40.5 632.1,40.8 635.2,41.1 638.3,41.5 641.5,41.9 644.6,42.4 647.7,42.8 650.8,43.3 653.9,43.8 657.0,44.3 660.1,44.8 663.2,45.4 666.3,46.0 669.3,46.7 672.3,47.4 675.4,48.1 678.3,48.9 681.3,49.8 684.3,50.8 687.2,51.8 690.1,53.0 692.9,54.2 695.7,55.6 698.5,57.0 701.2,58.6 703.9,60.3 706.6,62.1 709.2,64.1 711.7,66.2 714.2,68.5 716.5,70.8 718.6,73.3 720.4,75.9 721.8,78.5 722.7,81.2 723.2,83.9 723.1,86.6 722.4,89.3 720.9,92.0 719.0,94.5 716.6,96.8 713.9,98.8 711.1,100.5 708.2,101.9 705.2,103.0 702.1,104.0 699.0,104.8 695.9,105.5 692.8,106.3 689.7,107.0 686.6,107.8 683.5,108.5 680.5,109.2 677.4,109.9 674.3,110.6 671.2,111.2 668.2,111.9 665.1,112.5 662.0,113.1 659.0,113.7 655.9,114.2 652.8,114.7 649.7,115.2 646.7,115.7 643.6,116.1 640.5,116.5 637.4,116.9 634.4,117.2 631.3,117.5 628.2,117.8 625.1,118.1 622.0,118.3 618.9,118.5 615.8,118.7 612.7,118.8 609.6,118.9 606.5,119.0 603.4,119.0 600.3,119.1 597.1,119.0 594.0,119.0 590.9,118.9 587.8,118.8 584.6,118.7 581.5,118.5 578.3,118.3 575.2,118.1 572.0,117.8 568.9,117.6 565.7,117.2 562.5,116.9 559.3,116.5 556.1,116.1 553.0,115.6 549.8,115.1 546.6,114.5 543.6,113.8 540.5,112.9 537.6,111.8 534.8,110.4 532.1,108.8 529.7,106.9 527.7,104.8 526.3,102.3 525.6,99.7 525.6,96.8 526.2,94.0 527.3,91.2 528.9,88.5 530.9,86.1 533.2,84.0 535.7,82.0 538.4,80.0 541.0,78.1 543.6,76.1 546.1,73.9 548.3,71.6 550.3,69.0 552.2,66.4 554.0,63.6 555.7,60.9 557.5,58.2 559.2,55.5 561.1,53.1 563.0,50.8 565.2,48.8 567.6,47.0 570.2,45.6 573.0,44.4 576.0,43.5 579.0,42.7 582.1,42.1 M598.1,48.1 601.3,47.8 604.4,47.5 607.6,47.3 610.7,47.2 613.7,47.1 616.8,47.1 619.9,47.2 622.9,47.4 625.9,47.6 628.9,47.8 632.0,48.1 635.0,48.5 637.9,48.9 640.9,49.4 643.9,49.9 646.9,50.5 649.9,51.1 652.9,51.8 655.9,52.5 658.9,53.2 661.9,54.0 665.0,54.8 668.0,55.6 671.1,56.5 674.1,57.4 677.2,58.3 680.3,59.3 683.4,60.3 686.5,61.4 689.5,62.6 692.3,63.9 695.0,65.3 697.6,66.9 699.9,68.8 702.0,70.9 703.7,73.2 705.2,75.9 706.2,78.7 706.9,81.7 707.1,84.8 706.9,87.8 706.1,90.5 704.7,93.0 702.8,95.2 700.4,96.9 697.6,98.4 694.6,99.7 691.4,100.8 688.2,101.8 685.1,102.8 681.9,103.7 678.8,104.5 675.7,105.3 672.6,106.0 669.6,106.6 666.5,107.2 663.5,107.8 660.5,108.3 657.5,108.7 654.5,109.2 651.5,109.6 648.5,110.0 645.5,110.3 642.5,110.6 639.5,111.0 636.4,111.2 633.4,111.5 630.4,111.8 627.3,112.1 624.3,112.3 621.2,112.5 618.1,112.8 615.1,112.9 612.0,113.1 608.9,113.2 605.8,113.3 602.7,113.3 599.6,113.3 596.5,113.2 593.4,113.1 590.3,113.0 587.1,112.7 584.0,112.4 580.9,112.1 577.8,111.6 574.7,111.1 571.6,110.5 568.5,109.9 565.4,109.1 562.3,108.3 559.2,107.3 556.1,106.3 553.1,105.1 550.3,103.8 547.8,102.3 545.8,100.6 544.3,98.6 543.4,96.3 543.3,93.8 543.8,91.0 545.0,88.2 546.7,85.6 548.7,83.2 551.1,80.9 553.6,78.7 556.2,76.5 558.7,74.3 561.2,72.1 563.3,69.7 565.3,67.2 567.1,64.7 568.9,62.3 570.8,59.9 572.7,57.7 574.8,55.8 577.2,54.1 579.8,52.7 582.6,51.5 585.6,50.5 588.6,49.7 591.8,49.1 594.9,48.5 598.1,48.1 M590.1,59.0 593.2,57.9 596.4,56.9 599.5,56.0 602.7,55.2 605.8,54.5 609.0,53.9 612.2,53.4 615.3,53.1 618.5,52.8 621.7,52.6 624.9,52.5 628.1,52.5 631.3,52.6 634.4,52.8 637.6,53.2 640.8,53.6 643.9,54.1 647.0,54.8 650.1,55.5 653.2,56.3 656.3,57.3 659.4,58.3 662.4,59.5 665.4,60.8 668.4,62.1 671.3,63.6 674.3,65.2 677.2,66.9 680.0,68.7 682.8,70.6 685.5,72.6 687.8,74.7 689.8,77.1 691.2,79.6 692.0,82.2 692.0,85.1 691.2,88.1 689.7,90.8 687.4,93.0 684.7,94.8 681.7,96.4 678.6,97.7 675.5,99.0 672.4,100.0 669.3,101.0 666.2,101.9 663.1,102.6 660.0,103.3 656.8,103.9 653.7,104.4 650.5,104.9 647.3,105.3 644.2,105.7 641.0,106.0 637.8,106.4 634.6,106.7 631.4,107.0 628.1,107.3 624.9,107.6 621.7,107.8 618.5,108.0 615.3,108.2 612.1,108.2 609.0,108.2 605.9,108.1 602.9,107.9 599.8,107.6 596.8,107.3 593.7,106.8 590.5,106.3 587.3,105.8 583.9,105.2 580.5,104.7 576.8,104.1 573.2,103.4 569.7,102.5 566.5,101.4 563.8,99.8 561.9,97.8 560.6,95.2 560.0,92.4 560.0,89.3 560.5,86.1 561.4,83.0 562.7,80.0 564.2,77.2 566.0,74.7 568.0,72.3 570.3,70.1 572.8,68.1 575.4,66.2 578.2,64.5 581.0,63.0 584.0,61.5 587.0,60.2 590.1,59.0 M589.7,69.0 592.7,67.3 595.7,65.9 598.7,64.6 601.7,63.5 604.8,62.5 607.8,61.7 610.9,61.0 614.0,60.5 617.0,60.1 620.2,59.8 623.3,59.7 626.4,59.7 629.5,59.8 632.7,60.0 635.9,60.3 639.0,60.7 642.2,61.2 645.4,61.8 648.6,62.5 651.8,63.4 654.9,64.4 658.0,65.7 661.0,67.1 663.9,68.7 666.7,70.5 669.5,72.7 672.0,75.0 674.1,77.5 675.7,80.0 676.4,82.5 676.2,84.9 674.7,87.2 672.5,89.2 670.0,91.0 667.3,92.7 664.5,94.3 661.6,95.7 658.6,96.9 655.5,98.0 652.3,99.0 649.1,99.8 645.8,100.5 642.5,101.1 639.2,101.6 635.9,102.0 632.6,102.2 629.4,102.4 626.2,102.5 623.1,102.5 620.1,102.4 617.0,102.3 614.0,102.2 610.9,102.1 607.8,101.9 604.6,101.8 601.3,101.8 597.9,101.8 594.4,101.8 590.9,101.7 587.6,101.4 584.4,100.7 581.4,99.5 578.9,97.6 576.8,95.2 575.3,92.4 574.5,89.5 574.3,86.5 574.9,83.7 576.1,81.1 577.8,78.5 580.0,76.1 582.5,73.9 585.3,71.8 588.2,69.9 589.7,69.0 M597.1,75.4 599.7,73.1 602.4,71.2 605.2,69.7 608.0,68.4 611.0,67.5 614.0,66.8 617.1,66.4 620.2,66.2 623.5,66.2 626.7,66.3 630.1,66.6 633.4,67.0 636.9,67.5 640.3,68.0 643.8,68.6 647.1,69.4 650.3,70.3 653.2,71.5 655.7,73.0 657.7,75.0 659.1,77.6 659.7,80.6 659.5,83.8 658.2,86.5 655.9,88.5 652.9,89.9 649.4,91.0 645.9,91.8 642.5,92.6 639.2,93.2 636.0,93.8 632.9,94.3 629.9,94.7 626.8,95.1 623.8,95.4 620.7,95.6 617.6,95.7 614.4,95.6 611.1,95.3 607.7,94.8 604.3,93.9 600.8,92.7 597.6,91.1 595.0,89.3 593.1,87.2 592.1,84.9 592.3,82.2 593.7,79.4 595.9,76.7 597.1,75.4"/></g>
<g fill="none" stroke="#303030" stroke-width="1.25" clip-path="url(#cpe)"><path d="M451.2,300.6 454.1,299.7 457.0,299.0 459.9,298.3 462.9,297.6 465.9,296.9 468.8,296.1 471.8,295.4 474.7,294.6 477.6,293.9 480.6,293.1 483.5,292.2 486.4,291.3 489.2,290.4 492.1,289.5 494.9,288.4 497.7,287.4 500.5,286.2 503.2,285.0 505.9,283.7 508.6,282.4 511.2,281.0 513.7,279.4 516.3,277.8 518.7,276.1 521.1,274.3 523.5,272.4 525.9,270.5 528.2,268.6 530.5,266.7 532.9,264.9 535.3,263.2 537.8,261.7 540.4,260.5 543.1,259.5 546.0,258.8 548.9,258.4 551.9,258.1 554.9,257.9 558.0,257.9 561.1,257.9 564.2,258.0 567.3,258.0 570.4,258.0 573.4,258.1 576.5,258.1 579.5,258.1 582.6,258.2 585.6,258.2 588.6,258.2 591.7,258.2 594.7,258.2 597.8,258.2 600.8,258.3 603.9,258.3 607.0,258.5 610.0,258.7 613.1,259.0 616.1,259.4 619.1,259.9 622.0,260.6 625.0,261.4 627.8,262.4 630.7,263.5 633.4,264.7 636.0,266.2 638.6,267.7 641.0,269.4 643.3,271.3 645.5,273.3 647.5,275.4 649.3,277.7 650.9,280.1 652.4,282.7 653.7,285.4 654.8,288.2 655.8,291.1 656.7,294.0 657.6,297.0 658.4,299.9 659.3,302.9 660.1,305.8 661.1,308.6 662.1,311.3 663.3,314.0 664.7,316.4 666.2,318.7 668.0,320.8 670.0,322.8 672.2,324.5 674.6,326.1 677.1,327.6 679.8,328.9 682.6,330.2 685.6,331.5 688.5,332.7 691.6,333.9 694.6,335.1 697.7,336.4 700.7,337.7 703.7,339.2 706.6,340.7 709.4,342.4 712.1,344.2 714.7,346.2 717.0,348.2 719.1,350.4 720.9,352.6 722.4,354.9 723.6,357.3 724.4,359.8 724.7,362.3 724.6,364.9 724.1,367.4 723.1,370.0 721.7,372.5 719.9,375.0 717.8,377.3 715.4,379.6 712.8,381.7 710.2,383.7 707.5,385.6 704.8,387.4 702.2,388.9 699.8,390.3 698.8,391.1 M519.9,312.5 520.7,310.1 522.9,308.1 525.6,306.6 528.7,305.6 532.1,305.2 535.7,305.0 539.4,305.0 543.2,305.0 547.0,305.1 550.7,305.3 554.3,305.7 557.6,306.4 560.6,307.5 563.3,309.1 565.0,311.0 565.5,313.0 564.3,315.0 562.1,316.7 559.2,318.0 556.0,318.8 552.6,319.3 548.9,319.5 545.2,319.6 541.4,319.6 537.6,319.7 533.9,319.7 530.4,319.4 527.1,318.8 524.2,317.7 521.7,316.0 520.1,313.7 519.9,312.5 M451.2,322.8 454.2,321.8 457.1,321.4 460.1,321.1 463.1,320.9 466.1,320.7 469.1,320.6 472.1,320.5 475.1,320.4 478.1,320.4 481.1,320.4 484.1,320.4 487.1,320.5 490.1,320.6 493.1,320.7 496.1,320.8 499.1,320.9 502.1,321.1 505.1,321.3 508.1,321.4 511.1,321.6 514.1,321.8 517.1,321.9 520.1,322.1 523.2,322.3 526.2,322.4 529.2,322.6 532.2,322.7 535.2,322.8 538.2,322.8 541.3,322.9 544.3,322.9 547.3,322.9 550.3,322.8 553.3,322.7 556.3,322.6 559.4,322.4 562.4,322.2 565.4,322.0 568.4,321.8 571.4,321.6 574.4,321.3 577.5,321.1 580.5,320.8 583.5,320.6 586.5,320.4 589.5,320.2 592.5,320.0 595.5,319.9 598.5,319.7 601.5,319.7 604.5,319.7 607.4,319.7 610.4,319.8 613.4,319.9 616.4,320.1 619.3,320.4 622.3,320.8 625.3,321.3 628.2,321.8 631.1,322.4 634.1,323.2 637.0,324.0 639.9,324.8 642.8,325.8 645.7,326.9 648.5,328.0 651.4,329.2 654.2,330.5 657.0,331.9 659.8,333.4 662.6,334.9 665.3,336.5 668.0,338.2 670.6,340.0 673.3,341.8 675.9,343.7 678.4,345.6 680.7,347.7 682.8,349.8 684.7,351.9 686.3,354.2 687.5,356.5 688.3,358.8 688.5,361.2 688.3,363.7 687.6,366.2 686.5,368.6 684.9,371.0 683.1,373.4 680.9,375.6 678.5,377.7 675.8,379.6 673.0,381.3 670.1,382.7 667.2,383.9 664.1,384.9 661.0,385.8 657.9,386.5 654.7,387.1 651.6,387.7 648.5,388.2 645.5,388.7 642.5,389.2 639.7,389.7 637.0,390.3 634.3,391.1 M451.2,334.0 453.9,333.0 457.0,332.3 460.1,331.7 463.1,331.1 466.2,330.6 469.2,330.1 472.2,329.6 475.2,329.3 478.2,328.9 481.2,328.6 484.2,328.4 487.1,328.2 490.1,328.0 493.0,327.9 496.0,327.8 498.9,327.7 501.9,327.7 504.8,327.7 507.7,327.7 510.7,327.7 513.6,327.8 516.5,327.8 519.5,327.9 522.4,328.0 525.3,328.1 528.3,328.3 531.2,328.4 534.2,328.5 537.2,328.7 540.1,328.8 543.1,328.9 546.1,329.1 549.1,329.2 552.1,329.3 555.2,329.4 558.2,329.5 561.3,329.6 564.3,329.7 567.4,329.7 570.5,329.7 573.6,329.7 576.8,329.7 579.9,329.7 583.1,329.7 586.2,329.7 589.4,329.8 592.5,329.8 595.6,329.8 598.8,329.9 601.9,330.1 605.0,330.2 608.1,330.4 611.1,330.7 614.2,331.0 617.2,331.4 620.2,331.8 623.1,332.4 626.0,333.0 628.9,333.6 631.7,334.4 634.5,335.3 637.3,336.3 640.0,337.4 642.6,338.5 645.2,339.9 647.7,341.3 650.1,342.9 652.5,344.6 654.9,346.4 657.1,348.4 659.3,350.5 661.3,352.8 662.8,355.2 663.8,357.6 664.0,360.1 663.4,362.7 662.0,365.1 660.2,367.4 658.2,369.6 655.9,371.5 653.5,373.1 650.9,374.6 648.2,375.9 645.4,377.1 642.5,378.1 639.5,379.0 636.5,379.7 633.4,380.4 630.3,381.1 627.1,381.7 624.0,382.2 620.9,382.8 617.8,383.3 614.7,383.8 611.6,384.3 608.6,384.7 605.5,385.2 602.5,385.6 599.4,386.0 596.4,386.3 593.4,386.7 590.3,387.0 587.3,387.4 584.3,387.7 581.3,387.9 578.3,388.2 575.3,388.5 572.3,388.7 569.4,388.9 566.4,389.1 563.4,389.3 560.4,389.5 557.5,389.6 554.5,389.7 551.6,389.9 548.6,390.0 545.6,390.1 542.7,390.1 539.7,390.2 536.8,390.3 533.8,390.3 530.8,390.3 527.9,390.4 524.9,390.4 522.0,390.4 519.0,390.4 516.0,390.3 513.1,390.3 510.1,390.3 507.1,390.2 504.1,390.1 501.2,390.1 498.2,390.0 495.2,389.9 492.2,389.8 489.2,389.7 486.2,389.6 483.2,389.5 480.1,389.4 477.1,389.2 474.1,389.1 471.0,388.9 468.0,388.8 464.9,388.7 461.8,388.5 458.7,388.3 455.6,388.2 452.5,388.0 451.2,387.9 M451.2,343.1 453.9,341.9 456.9,340.9 459.8,339.9 462.7,339.0 465.7,338.2 468.6,337.5 471.5,336.8 474.5,336.2 477.4,335.7 480.4,335.2 483.4,334.7 486.3,334.3 489.3,334.0 492.3,333.7 495.2,333.4 498.2,333.2 501.2,333.0 504.2,332.8 507.2,332.7 510.1,332.6 513.1,332.6 516.1,332.6 519.1,332.6 522.1,332.6 525.1,332.6 528.2,332.7 531.2,332.7 534.2,332.8 537.2,332.9 540.2,333.0 543.3,333.1 546.3,333.2 549.3,333.3 552.4,333.4 555.4,333.4 558.4,333.5 561.5,333.6 564.5,333.7 567.6,333.7 570.6,333.7 573.7,333.7 576.7,333.8 579.8,333.8 582.8,333.8 585.9,333.9 588.9,334.0 592.0,334.2 595.0,334.4 598.1,334.7 601.1,335.1 604.1,335.6 607.1,336.1 610.1,336.8 613.1,337.6 616.1,338.5 619.1,339.5 622.0,340.7 624.9,342.1 627.8,343.6 630.7,345.2 633.3,347.0 635.7,348.9 637.8,350.8 639.5,352.9 640.7,355.0 641.4,357.1 641.4,359.3 640.8,361.4 639.7,363.5 638.1,365.6 636.0,367.6 633.7,369.5 631.1,371.3 628.4,373.0 625.6,374.5 622.7,375.9 619.9,377.1 617.0,378.2 614.1,379.2 611.1,380.0 608.2,380.8 605.2,381.4 602.2,382.0 599.2,382.4 596.1,382.8 593.1,383.1 590.0,383.3 587.0,383.5 583.9,383.7 580.9,383.8 577.8,383.8 574.7,383.9 571.6,383.9 568.6,384.0 565.5,384.0 562.5,384.1 559.4,384.1 556.4,384.2 553.4,384.2 550.4,384.3 547.3,384.3 544.3,384.4 541.3,384.4 538.3,384.5 535.3,384.5 532.3,384.5 529.3,384.6 526.3,384.6 523.3,384.6 520.4,384.6 517.4,384.7 514.4,384.6 511.4,384.6 508.4,384.6 505.4,384.6 502.4,384.5 499.5,384.4 496.5,384.4 493.5,384.3 490.5,384.2 487.5,384.0 484.5,383.9 481.5,383.7 478.5,383.5 475.4,383.3 472.4,383.1 469.4,382.8 466.4,382.5 463.3,382.2 460.3,381.9 457.2,381.5 454.2,381.1 451.2,380.9 M451.2,352.1 453.9,350.7 456.7,349.5 459.5,348.4 462.3,347.3 465.2,346.4 468.1,345.4 470.9,344.6 473.8,343.8 476.7,343.1 479.7,342.4 482.6,341.8 485.6,341.3 488.6,340.8 491.5,340.3 494.5,339.9 497.5,339.5 500.5,339.2 503.6,338.9 506.6,338.7 509.6,338.5 512.7,338.3 515.7,338.1 518.7,338.0 521.8,337.9 524.8,337.8 527.9,337.8 530.9,337.8 534.0,337.7 537.0,337.7 540.0,337.7 543.1,337.7 546.1,337.7 549.1,337.8 552.1,337.8 555.1,337.8 558.1,337.8 561.1,337.8 564.0,337.8 567.0,337.8 569.9,337.8 572.8,337.8 575.8,337.7 578.7,337.8 581.7,337.8 584.6,338.0 587.6,338.2 590.7,338.5 593.8,338.9 596.9,339.4 600.2,340.1 603.4,341.0 606.7,342.0 609.9,343.3 612.9,344.7 615.7,346.4 618.1,348.3 620.1,350.5 621.6,352.9 622.6,355.4 623.0,357.8 622.8,360.1 622.0,362.2 620.6,364.1 618.9,365.8 616.7,367.4 614.1,368.8 611.4,370.0 608.4,371.2 605.3,372.2 602.1,373.1 598.9,374.0 595.7,374.8 592.5,375.5 589.4,376.2 586.3,376.8 583.2,377.3 580.1,377.8 577.1,378.2 574.0,378.5 571.0,378.9 568.0,379.1 565.0,379.4 562.0,379.5 559.0,379.7 556.1,379.8 553.1,379.9 550.1,379.9 547.1,379.9 544.2,379.9 541.2,379.9 538.3,379.9 535.3,379.8 532.3,379.7 529.3,379.6 526.3,379.5 523.3,379.4 520.3,379.3 517.3,379.2 514.3,379.0 511.3,378.9 508.3,378.7 505.2,378.6 502.2,378.4 499.2,378.2 496.1,377.9 493.1,377.7 490.1,377.4 487.0,377.1 484.0,376.8 481.0,376.5 478.0,376.1 475.0,375.7 472.0,375.3 469.0,374.9 466.0,374.4 463.0,373.9 460.1,373.4 457.1,372.8 454.2,372.2 451.2,371.9 M465.7,360.2 465.9,358.0 467.1,356.0 469.1,354.1 471.7,352.3 474.6,350.7 477.8,349.3 481.0,348.1 484.2,347.0 487.3,346.1 490.5,345.4 493.6,344.8 496.7,344.3 499.8,344.0 502.8,343.7 505.9,343.5 508.9,343.4 512.0,343.3 515.1,343.3 518.1,343.2 521.2,343.2 524.3,343.1 527.4,343.0 530.5,342.9 533.6,342.8 536.8,342.6 539.9,342.4 543.1,342.3 546.2,342.1 549.4,342.0 552.6,341.9 555.8,341.9 558.9,341.9 562.1,342.0 565.3,342.1 568.4,342.4 571.6,342.7 574.7,343.2 577.8,343.8 581.0,344.5 584.1,345.4 587.1,346.5 590.2,347.7 593.2,349.1 596.2,350.6 598.8,352.3 601.0,354.2 602.5,356.1 603.1,358.2 602.7,360.3 601.4,362.3 599.4,364.3 596.8,366.2 593.9,367.8 590.8,369.2 587.7,370.3 584.4,371.2 581.1,371.8 577.7,372.4 574.3,372.8 571.0,373.1 567.6,373.4 564.4,373.6 561.1,373.9 558.0,374.1 554.8,374.3 551.7,374.5 548.7,374.7 545.6,374.8 542.6,375.0 539.6,375.1 536.6,375.2 533.6,375.3 530.6,375.4 527.6,375.4 524.6,375.4 521.6,375.4 518.6,375.4 515.5,375.4 512.4,375.3 509.3,375.2 506.1,375.1 502.9,374.9 499.6,374.7 496.3,374.5 493.0,374.2 489.7,373.8 486.4,373.3 483.2,372.7 480.1,371.8 477.1,370.7 474.3,369.4 471.7,367.7 469.3,365.8 467.3,363.6 466.0,361.3 465.7,360.2 M487.5,359.6 488.2,357.7 490.3,355.8 493.3,354.0 496.9,352.3 500.7,350.9 504.4,349.7 507.9,348.7 511.3,348.0 514.5,347.5 517.8,347.1 520.9,346.9 524.0,346.8 527.1,346.8 530.1,346.9 533.2,347.0 536.3,347.2 539.4,347.4 542.6,347.6 545.9,347.9 549.4,348.2 552.9,348.4 556.6,348.7 560.3,349.1 564.0,349.6 567.5,350.2 570.8,351.1 573.8,352.3 576.4,353.8 578.4,355.6 579.4,357.5 579.2,359.5 577.8,361.5 575.6,363.3 572.9,364.8 569.8,365.9 566.4,366.8 562.8,367.4 559.2,367.8 555.5,368.2 551.8,368.5 548.3,368.8 544.9,369.1 541.7,369.3 538.5,369.6 535.4,369.8 532.3,370.0 529.2,370.2 526.2,370.3 523.1,370.4 520.0,370.3 516.8,370.2 513.5,369.9 510.2,369.5 506.7,368.8 503.1,368.0 499.4,366.9 495.6,365.6 492.1,364.1 489.4,362.4 487.7,360.5 487.5,359.6"/></g>
<g fill="none" stroke="#303030" stroke-width="1.25" clip-path="url(#cpf)"><path d="M491.6,441.8 488.8,442.6 485.6,443.8 482.6,445.1 479.8,446.6 477.1,448.3 474.6,450.1 472.2,452.1 470.0,454.2 468.0,456.5 466.1,458.9 464.5,461.4 463.0,464.0 461.7,466.7 460.7,469.5 459.8,472.4 459.2,475.3 458.8,478.3 458.7,481.3 458.7,484.4 458.9,487.5 459.1,490.5 459.4,493.6 459.6,496.6 459.6,499.6 459.4,502.5 459.0,505.2 458.2,507.9 457.0,510.4 455.3,512.8 453.0,515.0 451.0,515.8 M497.6,441.8 500.5,442.8 503.3,443.9 506.3,445.0 509.2,446.1 512.2,447.1 515.3,448.1 518.4,448.9 521.5,449.6 524.6,450.2 527.7,450.5 530.8,450.7 533.8,450.7 536.9,450.5 539.9,450.0 542.8,449.2 545.7,448.1 548.6,446.7 551.3,445.0 554.0,442.9 555.2,441.8 M707.5,441.8 707.0,445.1 707.1,448.1 707.7,450.9 708.9,453.5 710.5,455.9 712.4,458.3 714.6,460.5 717.0,462.6 719.5,464.7 722.0,466.8 724.5,468.9 726.8,471.0 729.0,473.2 730.9,475.5 732.4,477.8 733.4,480.4 734.0,483.1 734.0,485.9 733.4,488.8 732.2,491.5 730.5,493.8 728.2,495.7 725.6,497.3 722.7,498.6 719.6,499.7 716.5,500.7 713.4,501.6 710.4,502.5 707.5,503.5 704.6,504.4 701.9,505.3 699.1,506.1 696.4,507.0 693.6,507.7 690.8,508.5 687.9,509.1 684.9,509.7 681.8,510.2 678.6,510.7 675.4,511.2 672.1,511.9 668.9,512.7 665.7,513.9 662.7,515.3 659.9,517.1 657.5,519.2 656.0,521.4 655.6,523.5 656.3,525.6 657.7,527.6 659.7,529.4 661.9,531.2 664.3,532.8 666.7,534.3 669.3,535.7 671.9,537.0 674.6,538.2 677.3,539.3 680.1,540.4 683.0,541.4 685.9,542.3 688.9,543.1 691.8,544.0 694.9,544.7 697.9,545.5 701.0,546.2 704.0,546.9 707.1,547.6 710.2,548.3 713.2,548.9 716.3,549.6 719.3,550.4 722.3,551.1 725.3,551.9 728.2,552.7 731.1,553.6 733.9,554.6 736.7,555.6 739.4,556.6 742.0,557.8 744.5,559.0 746.0,559.5 M563.6,527.7 565.5,526.2 569.3,524.8 573.0,523.9 576.2,523.2 579.5,523.0 583.1,523.2 587.2,523.8 591.2,524.7 594.7,525.8 597.1,527.0 598.0,528.3 597.0,529.5 594.5,530.6 591.0,531.5 586.9,532.3 582.8,532.7 579.2,532.9 576.0,532.7 572.7,532.1 569.0,531.0 565.3,529.4 563.6,527.7 M746.0,577.0 743.4,578.6 740.6,579.9 737.8,581.0 734.9,582.2 732.1,583.3 729.3,584.3 726.4,585.3 723.6,586.3 720.7,587.2 717.8,588.0 714.9,588.9 712.0,589.6 709.1,590.4 706.2,591.1 703.3,591.8 700.3,592.4 697.4,593.0 694.4,593.6 691.5,594.1 688.5,594.6 685.6,595.1 682.6,595.5 679.6,595.9 676.6,596.3 673.6,596.7 670.6,597.0 667.6,597.3 664.6,597.6 661.6,597.9 658.6,598.1 655.5,598.4 652.5,598.6 649.5,598.8 646.4,599.0 643.4,599.1 640.4,599.3 637.3,599.4 634.3,599.5 631.3,599.7 628.2,599.8 625.2,599.9 622.1,599.9 619.1,600.0 616.0,600.1 613.0,600.2 609.9,600.3 606.9,600.3 603.8,600.4 600.8,600.5 597.8,600.5 594.7,600.6 591.7,600.7 588.6,600.8 585.6,600.9 582.6,601.0 579.6,601.1 576.5,601.2 573.5,601.3 570.5,601.4 567.5,601.6 564.5,601.7 561.5,601.9 558.5,602.1 555.5,602.3 552.5,602.6 549.5,602.8 546.6,603.1 545.0,603.0 M570.8,441.8 568.4,444.0 566.4,446.1 564.2,448.1 561.9,449.8 559.4,451.3 556.7,452.7 554.0,453.9 551.1,454.9 548.2,455.8 545.1,456.6 542.0,457.3 538.8,458.0 535.6,458.5 532.4,459.0 529.2,459.5 526.0,460.0 522.7,460.5 519.6,461.1 516.4,461.6 513.3,462.3 510.3,463.0 507.4,463.7 504.6,464.7 501.9,465.7 499.3,466.9 496.8,468.2 494.5,469.7 492.4,471.4 490.5,473.4 488.7,475.5 487.2,477.9 485.8,480.5 484.6,483.3 483.6,486.2 482.7,489.2 482.0,492.2 481.4,495.4 480.9,498.5 480.4,501.5 479.9,504.6 479.2,507.5 478.2,510.2 477.1,512.9 475.7,515.4 474.1,517.8 472.3,520.0 470.3,522.1 468.1,524.1 465.7,525.8 463.1,527.4 460.3,528.8 457.3,530.0 454.1,531.1 451.0,532.0 M692.4,441.8 692.3,445.0 692.7,448.0 693.6,450.9 694.7,453.6 696.1,456.2 697.7,458.8 699.3,461.3 700.9,463.9 702.3,466.6 703.5,469.4 704.4,472.4 705.0,475.5 705.1,478.6 705.0,481.7 704.4,484.6 703.5,487.4 702.1,489.9 700.4,492.1 698.3,493.9 695.9,495.4 693.2,496.6 690.3,497.7 687.4,498.7 684.3,499.7 681.3,500.6 678.3,501.6 675.4,502.6 672.4,503.6 669.4,504.6 666.5,505.6 663.6,506.6 660.7,507.6 657.7,508.5 654.8,509.5 651.9,510.4 649.1,511.3 646.2,512.2 643.3,513.0 640.4,513.8 637.5,514.6 634.6,515.3 631.7,515.9 628.9,516.5 626.0,517.1 623.1,517.5 620.2,517.9 617.2,518.3 614.3,518.5 611.4,518.7 608.4,518.8 605.5,518.8 602.5,518.7 599.5,518.5 596.5,518.2 593.5,517.9 590.5,517.5 587.4,517.1 584.3,516.8 581.3,516.5 578.2,516.4 575.1,516.4 571.9,516.5 568.8,516.9 565.7,517.5 562.5,518.3 559.3,519.5 556.2,520.9 553.3,522.6 550.9,524.4 549.3,526.2 548.6,527.9 549.2,529.4 550.8,530.6 553.1,531.7 555.9,532.7 559.0,533.5 562.2,534.2 565.3,534.9 568.4,535.5 571.5,536.0 574.6,536.4 577.8,536.8 580.9,537.1 584.0,537.4 587.1,537.6 590.2,537.8 593.3,538.0 596.4,538.1 599.5,538.2 602.6,538.2 605.6,538.3 608.7,538.3 611.8,538.4 614.8,538.4 617.8,538.4 620.8,538.5 623.8,538.6 626.8,538.6 629.8,538.7 632.7,538.9 635.7,539.0 638.6,539.3 641.5,539.5 644.3,539.8 647.2,540.2 650.0,540.6 652.8,541.1 655.6,541.6 658.4,542.2 661.1,542.9 663.9,543.7 666.6,544.6 669.4,545.5 672.2,546.6 675.1,547.6 678.0,548.8 681.1,550.1 684.3,551.4 687.6,552.7 691.1,554.2 694.7,555.7 698.3,557.3 701.6,558.9 704.7,560.6 707.4,562.4 709.6,564.2 711.0,566.0 711.7,567.8 711.4,569.7 710.3,571.6 708.6,573.5 706.3,575.3 703.8,577.1 701.1,578.8 698.4,580.5 695.6,582.0 692.9,583.5 690.1,584.8 687.3,586.1 684.5,587.3 681.7,588.4 678.9,589.5 676.0,590.5 673.2,591.4 670.3,592.2 667.4,593.0 664.5,593.7 661.6,594.4 658.7,595.0 655.7,595.5 652.8,596.0 649.8,596.4 646.9,596.8 643.9,597.1 640.9,597.4 637.9,597.7 634.9,597.9 631.9,598.1 628.9,598.2 625.9,598.3 622.9,598.4 619.8,598.4 616.8,598.4 613.8,598.4 610.7,598.4 607.7,598.3 604.7,598.3 601.6,598.2 598.6,598.1 595.5,598.0 592.5,597.9 589.4,597.8 586.4,597.7 583.3,597.6 580.3,597.5 577.3,597.3 574.2,597.2 571.2,597.1 568.2,597.1 565.1,597.0 562.1,596.9 559.1,596.9 556.1,596.9 553.1,596.9 550.1,596.9 547.1,596.9 544.1,596.9 541.1,596.9 538.1,596.9 535.1,597.0 532.1,597.0 529.2,597.1 526.2,597.1 523.2,597.2 520.2,597.2 517.2,597.3 514.2,597.4 511.3,597.4 508.3,597.5 505.3,597.5 502.3,597.6 499.3,597.6 496.3,597.7 493.3,597.7 490.3,597.7 487.3,597.8 484.3,597.8 481.3,597.8 478.3,597.7 475.3,597.7 472.3,597.7 469.2,597.6 466.2,597.6 463.2,597.5 460.1,597.4 457.1,597.3 454.0,597.1 451.0,597.0 M585.2,441.8 582.8,443.8 580.4,445.9 577.9,447.8 575.5,449.6 572.9,451.3 570.4,452.9 567.8,454.3 565.1,455.7 562.4,456.9 559.7,458.1 557.0,459.2 554.2,460.3 551.3,461.3 548.4,462.3 545.5,463.2 542.6,464.1 539.6,465.0 536.6,465.9 533.5,466.8 530.5,467.8 527.4,468.7 524.4,469.7 521.5,470.8 518.6,472.0 515.8,473.2 513.1,474.5 510.6,476.0 508.2,477.6 506.1,479.3 504.2,481.2 502.5,483.3 501.0,485.5 499.9,488.0 499.0,490.6 498.5,493.5 498.2,496.5 498.0,499.6 497.9,502.8 497.9,506.0 497.8,509.2 497.7,512.4 497.4,515.4 496.8,518.3 496.0,521.1 494.9,523.6 493.4,525.8 491.5,527.8 489.2,529.5 486.6,531.0 483.8,532.3 480.8,533.5 477.6,534.6 474.3,535.5 471.0,536.4 467.7,537.3 464.4,538.1 461.3,539.0 458.3,539.9 455.5,541.0 453.0,542.1 451.0,543.5 M679.8,441.8 680.7,444.6 682.1,447.4 683.3,450.2 684.3,453.2 685.2,456.2 686.0,459.2 686.5,462.3 686.9,465.3 687.1,468.3 687.1,471.3 686.9,474.2 686.5,477.1 685.9,479.8 685.1,482.4 684.0,484.9 682.7,487.3 681.2,489.5 679.5,491.5 677.6,493.4 675.4,495.2 673.2,496.9 670.7,498.4 668.2,499.8 665.5,501.1 662.6,502.3 659.7,503.4 656.7,504.4 653.6,505.3 650.4,506.2 647.2,506.9 643.9,507.6 640.6,508.2 637.3,508.7 634.0,509.2 630.7,509.7 627.5,510.0 624.2,510.4 621.0,510.7 617.9,511.0 614.9,511.2 611.9,511.4 609.0,511.6 606.1,511.8 603.3,512.0 600.4,512.1 597.7,512.3 594.9,512.4 592.1,512.6 589.4,512.7 586.6,512.9 583.9,513.1 581.1,513.2 578.3,513.5 575.4,513.7 572.5,513.9 569.6,514.2 566.6,514.6 563.5,514.9 560.3,515.3 557.1,515.8 553.8,516.3 550.4,516.8 546.9,517.4 543.3,518.1 539.5,518.8 535.9,519.6 532.4,520.5 529.2,521.5 526.7,522.5 524.8,523.7 523.8,525.0 523.8,526.3 524.9,527.8 526.8,529.3 529.4,530.9 532.5,532.4 535.9,533.8 539.5,535.1 543.0,536.2 546.4,537.1 549.7,537.8 552.7,538.4 555.7,538.8 558.6,539.2 561.6,539.5 564.5,539.9 567.4,540.1 570.3,540.4 573.3,540.7 576.2,540.9 579.2,541.2 582.2,541.4 585.1,541.6 588.1,541.8 591.1,542.1 594.1,542.3 597.1,542.5 600.1,542.7 603.1,542.9 606.1,543.2 609.1,543.4 612.1,543.7 615.1,543.9 618.1,544.2 621.1,544.5 624.1,544.8 627.1,545.2 630.1,545.5 633.1,545.9 636.1,546.3 639.1,546.8 642.1,547.2 645.1,547.7 648.1,548.3 651.1,548.9 654.1,549.5 657.1,550.1 660.0,550.8 663.0,551.6 665.9,552.4 668.8,553.4 671.6,554.6 674.4,556.0 677.0,557.7 679.5,559.7 681.8,562.1 683.7,564.7 684.8,567.3 684.9,569.8 683.8,572.0 681.9,574.0 679.5,575.8 676.8,577.4 674.1,579.0 671.3,580.4 668.5,581.7 665.7,582.8 662.8,583.9 660.0,584.9 657.1,585.8 654.2,586.6 651.2,587.3 648.3,587.9 645.3,588.5 642.3,589.0 639.3,589.4 636.3,589.8 633.3,590.1 630.3,590.3 627.3,590.6 624.2,590.8 621.2,590.9 618.2,591.1 615.1,591.2 612.1,591.3 609.0,591.4 606.0,591.5 603.0,591.5 600.0,591.6 596.9,591.7 593.9,591.8 590.9,591.9 587.9,592.0 584.9,592.1 581.9,592.2 578.9,592.3 575.9,592.4 572.9,592.5 569.9,592.5 566.9,592.6 563.9,592.6 560.9,592.7 557.9,592.7 554.9,592.7 551.9,592.7 548.9,592.7 545.9,592.7 542.9,592.6 539.9,592.6 536.9,592.5 533.9,592.5 530.9,592.4 527.8,592.4 524.8,592.3 521.8,592.2 518.8,592.1 515.8,592.0 512.8,591.9 509.7,591.8 506.7,591.7 503.7,591.6 500.7,591.5 497.7,591.4 494.6,591.3 491.6,591.2 488.6,591.1 485.6,591.0 482.6,590.9 479.6,590.7 476.6,590.6 473.5,590.5 470.5,590.4 467.5,590.3 464.5,590.2 461.5,590.1 458.5,590.1 455.5,590.0 452.5,589.9 451.0,589.8 M598.4,441.8 595.8,443.3 593.2,444.8 590.6,446.5 588.1,448.2 585.6,449.9 583.1,451.7 580.6,453.5 578.1,455.2 575.6,456.9 573.1,458.6 570.6,460.2 568.0,461.8 565.5,463.2 562.9,464.6 560.3,465.8 557.6,466.9 554.9,467.9 552.1,468.8 549.3,469.7 546.3,470.5 543.3,471.4 540.1,472.3 536.8,473.2 533.6,474.3 530.4,475.5 527.3,476.7 524.4,478.1 521.7,479.7 519.4,481.4 517.5,483.3 516.1,485.4 515.2,487.7 514.9,490.2 515.1,492.8 515.8,495.5 516.8,498.1 518.2,500.7 520.0,503.0 521.9,505.2 524.1,507.0 526.5,508.5 529.0,509.7 531.7,510.6 534.5,511.3 537.4,511.7 540.5,512.0 543.6,512.0 546.7,511.9 550.0,511.7 553.2,511.4 556.5,511.1 559.8,510.7 563.0,510.2 566.3,509.8 569.5,509.4 572.7,509.1 575.8,508.7 578.9,508.4 582.0,508.1 585.0,507.9 588.0,507.6 591.0,507.3 594.0,507.0 596.9,506.8 599.8,506.5 602.8,506.2 605.6,505.9 608.5,505.6 611.4,505.2 614.3,504.8 617.1,504.4 620.0,504.0 622.9,503.5 625.7,502.9 628.6,502.3 631.5,501.7 634.4,501.0 637.3,500.2 640.2,499.4 643.2,498.5 646.1,497.5 649.1,496.4 652.1,495.3 655.1,494.0 658.0,492.7 660.9,491.2 663.6,489.6 666.1,487.9 668.3,486.0 670.3,483.9 672.0,481.6 673.4,479.2 674.4,476.6 675.0,473.8 675.4,471.0 675.4,468.0 675.2,465.0 674.7,462.0 673.9,459.0 672.9,455.9 671.8,452.9 670.6,450.0 669.4,447.2 668.2,444.4 667.2,441.8 M451.0,555.3 453.3,553.4 456.0,551.6 458.8,550.0 461.5,548.5 464.3,547.1 467.0,545.9 469.8,544.7 472.6,543.7 475.5,542.8 478.3,542.0 481.2,541.3 484.0,540.7 486.9,540.2 489.8,539.8 492.8,539.5 495.7,539.2 498.6,539.0 501.6,538.9 504.5,538.9 507.5,538.9 510.5,539.0 513.5,539.1 516.4,539.2 519.4,539.4 522.5,539.7 525.5,539.9 528.5,540.2 531.5,540.5 534.5,540.8 537.6,541.2 540.6,541.5 543.6,541.9 546.7,542.2 549.7,542.5 552.8,542.9 555.8,543.2 558.8,543.4 561.9,543.7 564.9,543.9 568.0,544.1 571.0,544.3 574.0,544.5 577.0,544.6 580.1,544.8 583.1,544.9 586.1,545.1 589.1,545.2 592.1,545.4 595.1,545.6 598.1,545.8 601.1,546.1 604.1,546.4 607.1,546.7 610.0,547.1 613.0,547.5 615.9,547.9 618.9,548.4 621.8,549.0 624.7,549.6 627.7,550.3 630.6,551.1 633.5,551.9 636.4,552.8 639.2,553.9 642.1,555.0 645.0,556.2 647.8,557.5 650.6,558.9 653.5,560.4 656.2,562.0 658.6,563.7 660.4,565.4 661.2,567.2 660.8,568.9 659.4,570.6 657.2,572.2 654.6,573.7 651.8,575.1 649.0,576.5 646.1,577.7 643.2,578.8 640.3,579.8 637.4,580.7 634.5,581.5 631.5,582.3 628.6,583.0 625.6,583.6 622.6,584.1 619.6,584.6 616.6,585.0 613.5,585.4 610.5,585.7 607.5,585.9 604.4,586.1 601.4,586.3 598.3,586.5 595.3,586.6 592.2,586.7 589.2,586.8 586.1,586.9 583.0,587.0 580.0,587.1 577.0,587.1 573.9,587.2 570.9,587.3 567.9,587.4 564.8,587.5 561.8,587.5 558.8,587.6 555.8,587.7 552.8,587.8 549.8,587.8 546.8,587.9 543.8,587.9 540.8,588.0 537.8,588.0 534.8,588.1 531.8,588.1 528.8,588.1 525.8,588.1 522.8,588.1 519.9,588.0 516.9,588.0 513.9,587.9 510.9,587.9 507.9,587.8 504.9,587.7 502.0,587.6 499.0,587.4 496.0,587.3 493.0,587.1 490.0,586.9 487.0,586.7 484.0,586.4 481.0,586.1 478.0,585.9 475.0,585.5 472.0,585.2 469.0,584.8 466.0,584.4 463.0,584.0 460.0,583.5 457.0,583.0 453.9,582.5 451.0,582.0 M615.6,441.8 612.9,443.1 610.4,444.7 607.9,446.4 605.5,448.1 603.0,449.8 600.5,451.6 598.1,453.3 595.6,455.0 593.1,456.7 590.6,458.4 588.1,460.0 585.6,461.6 583.0,463.1 580.4,464.6 577.8,466.0 575.1,467.3 572.4,468.5 569.7,469.6 566.9,470.7 564.1,471.7 561.3,472.7 558.4,473.7 555.4,474.7 552.5,475.8 549.4,477.0 546.3,478.2 543.3,479.6 540.3,481.2 537.7,482.9 535.5,484.9 533.9,487.2 532.9,489.6 532.6,492.0 532.8,494.3 533.8,496.3 535.3,497.9 537.5,499.2 540.0,500.3 542.9,501.2 546.0,501.8 549.4,502.3 552.7,502.7 556.1,503.1 559.4,503.4 562.7,503.7 565.9,503.9 569.1,504.0 572.2,504.1 575.4,504.2 578.4,504.2 581.5,504.1 584.5,504.0 587.5,503.9 590.5,503.7 593.5,503.5 596.4,503.2 599.3,502.8 602.2,502.4 605.1,501.9 608.0,501.4 610.9,500.9 613.7,500.3 616.6,499.6 619.5,498.9 622.3,498.1 625.2,497.3 628.0,496.4 630.9,495.5 633.8,494.5 636.7,493.4 639.6,492.3 642.5,491.2 645.4,490.0 648.3,488.7 651.0,487.3 653.6,485.7 655.9,483.9 658.0,481.9 659.7,479.7 661.0,477.2 661.9,474.5 662.4,471.5 662.5,468.4 662.4,465.3 661.9,462.1 661.2,458.9 660.2,455.8 659.0,452.7 657.6,449.9 656.1,447.3 654.4,444.9 652.6,442.9 651.6,441.8 M457.3,566.9 457.7,564.5 459.0,562.2 461.0,559.9 463.6,557.7 466.6,555.8 469.7,554.3 472.9,552.9 476.1,551.7 479.3,550.7 482.4,549.7 485.6,548.9 488.7,548.2 491.9,547.7 495.0,547.2 498.1,546.8 501.2,546.5 504.4,546.2 507.5,546.1 510.6,546.0 513.7,545.9 516.8,545.9 519.9,545.9 523.0,545.9 526.2,546.0 529.3,546.1 532.4,546.1 535.5,546.2 538.7,546.3 541.8,546.3 545.0,546.3 548.2,546.3 551.3,546.2 554.5,546.1 557.7,546.0 560.9,545.9 564.1,545.8 567.3,545.7 570.5,545.6 573.7,545.5 576.9,545.5 580.1,545.4 583.3,545.5 586.5,545.5 589.7,545.7 592.9,545.9 596.1,546.2 599.3,546.5 602.4,547.0 605.6,547.5 608.7,548.2 611.8,548.9 614.9,549.8 618.0,550.8 621.1,552.0 624.2,553.3 627.2,554.7 630.2,556.3 633.2,558.1 635.9,560.0 638.1,561.9 639.6,563.9 640.2,565.9 639.6,567.9 638.0,569.8 635.6,571.5 632.7,573.2 629.6,574.6 626.5,575.9 623.4,577.0 620.3,577.9 617.1,578.7 613.9,579.4 610.8,579.9 607.6,580.3 604.4,580.7 601.2,580.9 598.0,581.0 594.8,581.1 591.6,581.2 588.4,581.2 585.2,581.1 582.0,581.1 578.8,581.1 575.6,581.0 572.4,581.0 569.2,581.0 566.0,580.9 562.8,580.9 559.6,580.9 556.4,580.9 553.3,580.9 550.1,580.9 546.9,580.9 543.8,580.9 540.6,580.9 537.5,580.9 534.3,580.9 531.2,580.9 528.1,580.9 524.9,581.0 521.8,581.0 518.7,581.0 515.6,581.0 512.5,581.0 509.4,581.0 506.3,581.0 503.2,581.0 500.1,581.0 497.0,580.9 493.8,580.8 490.7,580.6 487.5,580.3 484.3,579.9 481.0,579.3 477.7,578.6 474.3,577.7 470.8,576.5 467.3,575.2 464.0,573.7 461.2,572.0 459.0,570.0 457.6,568.0 457.3,566.9 M551.4,489.0 551.4,486.6 552.6,484.2 554.8,482.3 557.6,480.9 560.9,479.9 564.5,479.0 568.2,478.3 571.9,477.5 575.3,476.4 578.4,475.2 581.3,473.7 584.0,472.0 586.5,470.3 588.9,468.4 591.2,466.4 593.4,464.5 595.7,462.5 598.0,460.6 600.4,458.7 603.0,456.9 605.7,455.3 608.6,453.8 611.7,452.5 614.9,451.4 618.2,450.6 621.6,449.9 624.9,449.6 628.2,449.4 631.4,449.6 634.5,450.1 637.3,450.9 640.0,452.0 642.3,453.5 644.3,455.3 646.0,457.5 647.2,460.1 648.0,463.1 648.3,466.3 648.2,469.7 647.7,473.1 646.8,476.3 645.5,479.4 643.7,482.2 641.6,484.5 639.1,486.4 636.4,487.8 633.3,488.9 630.1,489.7 626.8,490.3 623.4,490.8 620.0,491.3 616.7,491.7 613.5,492.3 610.3,492.9 607.2,493.5 604.2,494.2 601.2,494.8 598.2,495.4 595.2,496.0 592.1,496.6 589.1,497.0 586.0,497.4 582.8,497.7 579.6,497.8 576.3,497.8 573.0,497.7 569.7,497.3 566.3,496.8 563.0,496.0 559.7,495.0 556.5,493.7 553.8,492.1 551.9,490.1 551.4,489.0 M477.6,567.4 477.9,565.5 479.3,563.6 481.4,561.7 484.3,559.8 487.4,558.2 490.8,556.8 494.2,555.7 497.5,554.8 500.9,554.1 504.2,553.4 507.5,552.9 510.7,552.4 513.9,552.0 517.0,551.7 520.1,551.4 523.2,551.2 526.2,551.0 529.2,550.9 532.2,550.8 535.2,550.7 538.2,550.6 541.1,550.6 544.1,550.6 547.1,550.6 550.1,550.6 553.0,550.6 556.0,550.6 559.0,550.6 562.1,550.6 565.1,550.7 568.2,550.7 571.3,550.8 574.5,550.9 577.7,551.0 580.9,551.1 584.2,551.2 587.5,551.4 590.9,551.6 594.3,551.8 597.7,552.2 601.0,552.8 604.3,553.5 607.4,554.5 610.3,555.9 613.1,557.5 615.5,559.5 617.5,561.6 618.7,563.9 619.2,566.2 618.6,568.3 617.2,570.4 615.2,572.2 612.6,573.8 609.8,575.0 606.8,576.0 603.7,576.6 600.5,577.0 597.2,577.1 593.8,577.2 590.4,577.1 587.0,576.9 583.6,576.7 580.2,576.6 576.9,576.5 573.7,576.5 570.5,576.5 567.3,576.6 564.2,576.7 561.2,576.8 558.1,577.0 555.1,577.2 552.1,577.5 549.2,577.7 546.2,577.9 543.3,578.2 540.3,578.4 537.4,578.6 534.5,578.8 531.5,578.9 528.6,579.0 525.6,579.1 522.6,579.1 519.5,579.0 516.4,578.9 513.3,578.7 510.1,578.4 506.9,578.0 503.6,577.5 500.2,577.0 496.8,576.3 493.3,575.5 489.8,574.6 486.4,573.5 483.2,572.3 480.6,570.8 478.6,569.2 477.6,567.4 M578.8,483.2 579.2,480.8 580.8,478.4 583.2,476.0 586.1,473.9 589.2,472.0 592.2,470.3 594.9,468.9 597.6,467.7 600.4,466.8 603.3,465.9 606.5,465.2 610.0,464.5 613.7,464.0 617.3,463.8 620.8,463.8 623.9,464.2 626.5,465.1 628.4,466.5 629.5,468.4 629.7,471.0 629.0,473.9 627.6,477.0 625.7,479.8 623.4,482.2 620.8,484.0 618.0,485.2 614.9,486.1 611.7,486.7 608.4,487.2 604.9,487.8 601.4,488.4 597.8,489.0 594.3,489.4 591.0,489.7 587.9,489.7 585.1,489.2 582.6,488.2 580.6,486.6 579.1,484.4 578.8,483.2 M499.5,566.9 500.2,565.1 502.3,563.3 505.3,561.6 508.9,560.2 512.7,558.9 516.3,558.0 519.9,557.3 523.3,556.8 526.5,556.6 529.7,556.4 532.9,556.3 536.0,556.3 539.1,556.2 542.1,556.2 545.2,556.2 548.3,556.2 551.5,556.2 554.7,556.2 558.1,556.2 561.5,556.2 565.1,556.2 568.8,556.2 572.5,556.3 576.3,556.5 580.0,556.8 583.4,557.4 586.6,558.4 589.3,559.8 591.6,561.5 593.1,563.6 593.8,565.8 593.3,568.1 591.9,570.2 589.8,571.9 587.1,573.3 584.0,574.2 580.5,574.8 576.9,575.1 573.1,575.2 569.3,575.2 565.6,575.1 562.0,575.1 558.6,575.0 555.2,575.0 552.0,575.1 548.8,575.1 545.7,575.2 542.6,575.3 539.5,575.3 536.5,575.4 533.4,575.5 530.2,575.6 527.0,575.7 523.7,575.6 520.3,575.3 516.8,574.9 513.1,574.2 509.3,573.1 505.6,571.9 502.5,570.3 500.3,568.7 499.5,566.9"/></g>
<g fill="none" stroke="#303030" stroke-width="1.25" clip-path="url(#cpg)"><path d="M495.9,655.6 498.0,658.6 499.4,662.0 500.1,665.2 500.4,668.1 500.1,670.7 499.4,673.2 498.3,675.5 496.8,677.6 494.9,679.6 492.8,681.5 490.4,683.2 487.9,684.9 485.1,686.5 482.2,688.0 479.2,689.5 476.2,690.9 473.1,692.4 470.1,693.9 467.1,695.4 464.3,696.9 461.5,698.6 459.0,700.3 456.7,702.1 454.7,704.1 452.9,706.2 451.2,708.7 M702.8,655.6 703.9,659.2 704.7,663.0 705.1,666.6 705.3,669.9 705.3,673.0 705.0,675.9 704.5,678.6 703.7,681.2 702.7,683.5 701.5,685.7 700.1,687.7 698.4,689.5 696.6,691.2 694.6,692.7 692.4,694.1 690.0,695.4 687.5,696.5 684.8,697.6 681.9,698.5 678.9,699.3 675.7,700.0 672.4,700.6 669.0,701.2 665.5,701.7 661.8,702.1 658.1,702.4 654.5,702.8 651.1,703.3 648.2,704.0 646.0,704.9 644.5,706.2 644.1,707.8 644.7,709.9 646.2,712.2 648.3,714.5 650.9,716.7 653.8,718.5 656.8,719.9 659.8,720.8 662.8,721.5 665.8,721.9 668.8,722.2 671.8,722.5 674.7,722.8 677.6,723.4 680.4,724.1 683.1,725.2 685.8,726.5 688.4,727.9 690.9,729.5 693.5,731.2 696.0,733.1 698.4,734.9 700.9,736.8 703.4,738.7 705.9,740.6 708.5,742.4 711.0,744.1 713.5,745.9 715.9,747.7 718.3,749.6 720.5,751.6 722.6,753.8 724.5,756.2 726.3,758.7 727.8,761.5 729.0,764.6 729.8,767.7 730.0,770.6 729.3,773.2 727.8,775.4 725.5,777.1 722.7,778.4 719.5,779.5 716.1,780.3 712.7,780.9 709.4,781.4 706.2,781.7 703.1,782.0 700.0,782.1 697.0,782.2 694.0,782.2 691.1,782.1 688.2,782.0 685.3,781.8 682.5,781.7 679.7,781.5 676.9,781.3 674.1,781.2 671.3,781.0 668.5,780.9 665.6,780.9 662.8,780.8 659.8,780.9 656.9,781.0 653.8,781.2 650.7,781.4 647.5,781.8 644.2,782.2 640.7,782.7 637.2,783.4 633.6,784.1 630.4,785.0 628.2,785.9 627.8,786.9 629.2,787.8 632.0,788.7 635.5,789.5 639.1,790.1 642.6,790.6 645.9,791.0 649.2,791.2 652.3,791.4 655.4,791.4 658.4,791.4 661.3,791.3 664.2,791.2 667.1,791.1 669.9,791.0 672.7,790.9 675.6,790.8 678.5,790.7 681.4,790.7 684.3,790.7 687.2,790.8 690.2,791.0 693.2,791.2 696.2,791.4 699.2,791.6 702.2,791.9 705.3,792.2 708.3,792.5 711.4,792.9 714.4,793.2 717.5,793.6 720.5,794.0 723.6,794.3 726.6,794.7 729.6,795.1 732.7,795.4 735.7,795.8 738.6,796.1 741.6,796.4 744.5,796.7 746.0,796.8 M584.9,740.7 586.2,738.8 588.9,737.2 591.9,736.2 595.2,735.6 598.7,735.3 602.5,735.5 606.5,735.9 610.4,736.6 613.9,737.5 616.7,738.6 618.4,739.8 618.7,741.1 617.6,742.4 615.3,743.6 612.1,744.7 608.3,745.6 604.3,746.2 600.4,746.5 596.8,746.4 593.4,745.9 590.3,744.9 587.4,743.5 585.3,741.7 584.9,740.7 M512.3,655.6 513.3,659.0 513.5,662.2 513.4,665.4 513.0,668.3 512.3,671.2 511.4,673.9 510.3,676.5 508.9,679.0 507.4,681.3 505.7,683.6 503.8,685.8 501.8,688.0 499.6,690.1 497.4,692.1 495.0,694.1 492.6,696.0 490.1,697.9 487.6,699.8 485.1,701.7 482.5,703.6 479.9,705.5 477.4,707.4 474.9,709.3 472.4,711.3 470.0,713.4 467.6,715.4 465.4,717.6 463.3,719.8 461.2,722.1 459.3,724.5 457.6,726.9 456.0,729.5 454.7,732.2 453.5,735.0 452.5,738.0 451.2,739.1 M682.0,655.6 683.1,659.2 683.9,662.9 684.2,666.2 684.2,669.4 683.8,672.3 683.0,675.0 682.0,677.5 680.6,679.7 679.0,681.8 677.1,683.8 675.0,685.5 672.7,687.1 670.2,688.6 667.5,689.9 664.7,691.2 661.8,692.3 658.9,693.3 655.8,694.3 652.7,695.2 649.6,696.1 646.5,696.9 643.4,697.7 640.5,698.6 637.6,699.6 635.0,700.8 632.7,702.2 630.6,704.0 628.9,706.1 627.6,708.6 626.8,711.6 626.2,714.9 625.7,718.2 624.8,721.1 623.5,723.4 621.8,725.3 619.7,726.7 617.3,727.8 614.6,728.6 611.7,729.1 608.5,729.4 605.2,729.5 601.9,729.6 598.4,729.7 594.9,729.7 591.5,729.8 588.1,730.1 584.8,730.5 581.6,731.2 578.7,732.2 576.0,733.5 573.7,735.1 571.9,736.9 571.1,738.8 571.3,740.6 572.5,742.2 574.4,743.7 576.7,744.9 579.4,745.8 582.3,746.6 585.4,747.2 588.7,747.6 592.1,748.0 595.6,748.2 599.0,748.4 602.4,748.6 605.7,748.7 608.9,748.8 612.0,748.9 615.1,749.1 618.2,749.2 621.2,749.3 624.1,749.5 627.0,749.7 629.9,749.9 632.8,750.1 635.7,750.4 638.5,750.8 641.4,751.2 644.2,751.6 647.1,752.2 650.0,752.8 652.9,753.4 655.8,754.2 658.8,755.0 661.8,756.0 664.9,757.0 668.0,758.2 671.1,759.5 674.0,760.9 676.1,762.5 677.3,764.2 677.2,766.1 675.7,768.2 673.4,770.3 670.5,772.2 667.4,773.9 664.5,775.1 661.6,776.1 658.7,776.8 655.8,777.3 652.9,777.5 650.0,777.6 646.9,777.6 643.7,777.5 640.4,777.4 636.8,777.2 633.1,777.1 629.2,777.1 625.3,777.1 621.4,777.3 617.8,777.6 614.4,778.0 611.4,778.7 608.8,779.5 606.9,780.6 605.6,782.0 605.0,783.6 605.4,785.3 606.7,787.0 608.8,788.6 611.5,790.1 614.5,791.4 617.6,792.5 620.8,793.5 623.8,794.3 626.9,794.9 630.0,795.4 633.0,795.8 636.1,796.1 639.1,796.3 642.1,796.3 645.1,796.4 648.2,796.4 651.2,796.3 654.2,796.2 657.2,796.1 660.2,796.0 663.2,795.9 666.2,795.8 669.2,795.8 672.2,795.8 675.2,795.9 678.2,796.0 681.2,796.1 684.2,796.4 687.2,796.6 690.2,796.9 693.2,797.3 696.2,797.6 699.2,798.1 702.2,798.5 705.2,799.1 708.2,799.6 711.2,800.2 714.1,800.8 717.1,801.5 720.0,802.2 723.0,803.0 725.9,803.7 728.8,804.6 731.7,805.4 734.6,806.3 737.5,807.2 740.3,808.2 743.2,809.2 746.0,810.2 M523.0,655.6 523.6,658.9 523.3,662.0 522.8,665.1 522.2,668.0 521.4,670.9 520.4,673.7 519.3,676.4 518.1,679.0 516.8,681.7 515.3,684.2 513.8,686.7 512.1,689.2 510.4,691.6 508.6,694.0 506.7,696.3 504.8,698.7 502.8,701.0 500.7,703.3 498.7,705.5 496.6,707.8 494.5,710.1 492.4,712.3 490.3,714.6 488.2,716.9 486.2,719.2 484.1,721.5 482.1,723.8 480.2,726.2 478.2,728.5 476.3,730.9 474.4,733.3 472.6,735.7 470.7,738.1 468.9,740.5 467.1,743.0 465.2,745.4 463.4,747.8 461.6,750.2 459.8,752.7 458.0,755.1 456.2,757.5 454.4,760.0 452.6,762.4 451.2,763.3 M665.2,655.6 666.1,658.4 666.6,661.3 666.7,664.3 666.5,667.4 665.9,670.5 664.9,673.5 663.7,676.4 662.2,679.2 660.5,681.7 658.5,684.0 656.3,686.0 654.0,687.7 651.5,689.3 648.9,690.6 646.3,691.9 643.6,693.1 640.9,694.3 638.2,695.6 635.5,697.0 633.0,698.6 630.8,700.5 628.9,702.7 627.3,705.2 625.9,707.7 624.1,710.0 621.8,711.9 619.2,713.4 616.3,714.6 613.4,715.7 610.4,716.6 607.5,717.5 604.7,718.3 601.9,719.1 599.2,719.8 596.5,720.5 593.8,721.2 591.0,721.9 588.3,722.7 585.4,723.4 582.5,724.2 579.4,725.0 576.3,725.9 573.0,726.9 569.5,727.9 566.0,729.0 562.7,730.2 559.7,731.5 557.1,733.0 555.1,734.5 553.8,736.2 553.4,738.1 554.1,740.1 555.6,742.2 557.6,744.1 559.9,745.9 562.3,747.4 564.9,748.7 567.7,749.8 570.5,750.7 573.5,751.5 576.5,752.1 579.6,752.5 582.8,752.8 586.0,753.0 589.2,753.2 592.4,753.2 595.6,753.2 598.7,753.1 601.9,753.1 604.9,753.0 608.0,753.1 611.0,753.3 614.0,753.6 616.9,754.1 619.8,754.9 622.6,756.0 625.5,757.4 628.2,759.1 630.8,761.2 632.7,763.4 633.6,765.5 633.1,767.3 631.4,768.9 628.8,770.2 625.5,771.3 621.9,772.2 618.2,773.0 614.8,773.8 611.6,774.5 608.7,775.2 605.8,775.9 603.1,776.7 600.3,777.6 597.4,778.5 594.2,779.6 591.0,780.8 587.8,782.1 584.8,783.4 582.3,784.7 580.5,786.0 579.6,787.2 579.7,788.2 580.9,789.1 583.0,789.9 585.8,790.6 589.1,791.3 592.6,791.8 596.1,792.3 599.6,792.9 603.1,793.3 606.4,793.8 609.8,794.3 613.0,794.7 616.2,795.2 619.4,795.6 622.5,796.0 625.5,796.4 628.6,796.8 631.5,797.2 634.5,797.7 637.4,798.1 640.3,798.5 643.2,798.9 646.0,799.4 648.8,799.8 651.6,800.3 654.4,800.8 657.2,801.3 660.0,801.8 662.8,802.4 665.6,802.9 668.3,803.5 671.1,804.1 673.9,804.8 676.7,805.5 679.5,806.2 682.4,806.9 685.3,807.7 688.1,808.5 691.1,809.4 694.0,810.3 697.0,811.3 700.0,812.3 703.1,813.3 706.2,814.4 708.9,815.7 M451.2,810.9 468.0,815.7 M533.3,655.6 533.8,658.8 534.0,661.9 534.0,665.0 533.7,668.0 533.1,671.0 532.4,673.9 531.4,676.7 530.2,679.5 528.9,682.2 527.4,684.9 525.7,687.4 524.0,690.0 522.2,692.4 520.3,694.8 518.3,697.2 516.4,699.5 514.5,701.8 512.6,704.1 510.8,706.4 509.1,708.8 507.6,711.2 506.3,713.8 505.2,716.4 504.3,719.2 503.7,722.1 503.4,725.1 503.3,728.2 503.1,731.4 502.8,734.4 502.2,737.3 501.2,740.1 499.9,742.6 498.2,744.9 496.2,746.9 493.8,748.7 491.1,750.3 488.2,751.8 485.3,753.3 482.4,754.9 479.6,756.6 477.0,758.5 474.7,760.7 472.7,763.0 470.9,765.6 469.4,768.3 468.2,771.1 467.3,773.9 466.7,776.9 466.3,779.8 466.2,782.7 466.5,785.6 467.0,788.4 467.9,791.0 469.0,793.6 470.5,795.9 472.2,798.1 474.2,800.1 476.4,802.0 478.9,803.7 481.5,805.3 484.3,806.7 487.2,808.0 490.3,809.2 493.4,810.3 496.6,811.2 499.8,812.0 503.1,812.8 506.3,813.4 509.5,813.9 512.7,814.4 515.7,814.7 518.6,815.0 521.5,815.2 524.1,815.4 526.7,815.7 M650.0,655.6 651.8,659.0 652.8,662.3 653.0,665.2 652.7,668.0 651.7,670.5 650.4,672.9 648.6,675.1 646.7,677.2 644.6,679.1 642.4,681.0 640.0,682.9 637.6,684.6 635.1,686.3 632.6,688.0 630.0,689.6 627.3,691.2 624.6,692.7 621.9,694.3 619.3,695.8 616.6,697.3 613.9,698.9 611.3,700.4 608.8,702.0 606.3,703.6 603.8,705.2 601.4,706.8 599.0,708.4 596.6,710.0 594.1,711.6 591.7,713.1 589.2,714.6 586.7,716.1 584.1,717.4 581.5,718.8 578.7,720.0 575.9,721.1 573.0,722.2 570.0,723.1 566.9,724.0 563.7,724.8 560.5,725.6 557.3,726.4 554.1,727.1 550.9,727.8 547.7,728.6 544.7,729.4 541.7,730.2 538.9,731.2 536.2,732.2 533.7,733.4 531.4,734.6 529.2,736.0 527.3,737.6 525.9,739.3 525.7,741.0 526.9,742.5 529.3,743.9 532.4,745.2 536.0,746.5 539.6,747.7 543.0,748.9 546.0,750.1 548.8,751.3 551.3,752.3 553.9,753.3 556.5,754.0 559.2,754.6 562.1,755.1 565.1,755.4 568.1,755.7 571.2,756.0 574.4,756.3 577.5,756.8 580.7,757.3 583.7,758.0 586.7,759.0 589.6,760.2 592.4,761.7 594.6,763.5 596.1,765.5 596.2,767.6 595.0,769.8 592.8,771.7 590.2,773.5 587.5,774.8 584.6,775.8 581.6,776.6 578.3,777.3 574.8,777.9 571.1,778.5 567.4,779.2 564.1,780.1 561.5,781.3 559.8,782.7 559.4,784.5 560.0,786.6 561.5,788.7 563.7,790.8 566.2,792.7 568.9,794.3 571.8,795.5 574.7,796.3 577.7,797.0 580.7,797.3 583.7,797.5 586.8,797.6 590.0,797.5 593.1,797.4 596.2,797.4 599.3,797.4 602.4,797.4 605.5,797.5 608.6,797.6 611.7,797.8 614.7,798.1 617.8,798.5 620.8,798.9 623.8,799.3 626.8,799.9 629.7,800.5 632.6,801.2 635.5,802.0 638.4,802.9 641.2,803.8 644.0,804.9 646.8,806.0 649.5,807.2 652.2,808.5 654.9,809.9 657.5,811.4 660.0,813.1 662.6,814.8 663.8,815.7 M542.1,655.6 542.0,658.7 541.8,661.7 541.2,664.6 540.5,667.5 539.5,670.3 538.4,673.1 537.1,676.0 535.8,678.8 534.4,681.7 533.0,684.6 531.6,687.6 530.3,690.6 529.0,693.7 528.0,696.8 527.3,699.8 527.0,702.7 527.2,705.4 527.8,707.9 529.1,710.1 530.8,712.1 532.8,713.8 535.1,715.1 537.6,716.2 540.2,716.9 542.9,717.3 545.7,717.5 548.7,717.4 551.7,717.1 554.7,716.6 557.8,715.9 561.0,715.1 564.2,714.1 567.3,713.1 570.5,712.0 573.7,710.8 576.8,709.6 579.8,708.4 582.8,707.2 585.8,706.0 588.7,704.8 591.5,703.6 594.3,702.4 597.0,701.1 599.7,699.8 602.3,698.5 604.9,697.1 607.5,695.7 610.0,694.2 612.5,692.7 614.9,691.1 617.3,689.4 619.6,687.6 622.0,685.7 624.3,683.7 626.5,681.6 628.7,679.4 630.9,677.1 633.0,674.7 634.8,672.1 636.2,669.5 637.0,666.8 637.2,664.1 636.6,661.3 635.1,658.4 632.4,655.6 M498.6,771.3 499.3,769.2 501.5,767.1 504.6,765.1 508.3,763.3 512.1,761.9 515.8,760.7 519.4,759.9 522.8,759.4 526.2,759.1 529.6,759.1 533.1,759.2 536.6,759.6 540.2,760.0 544.1,760.6 547.9,761.3 551.6,762.2 554.8,763.3 557.4,764.7 559.0,766.4 559.4,768.5 558.6,770.8 556.7,773.0 553.9,774.8 550.5,776.2 546.7,777.3 542.8,778.2 539.0,779.1 535.4,779.8 532.0,780.4 528.6,780.8 525.2,781.0 521.9,781.0 518.4,780.6 514.8,780.0 511.0,779.1 507.1,777.8 503.5,776.1 500.6,774.3 498.9,772.3 498.6,771.3 M523.4,803.6 524.3,802.6 526.8,801.6 530.3,800.8 534.5,800.1 538.9,799.5 543.2,799.0 547.1,798.7 550.7,798.6 554.2,798.5 557.4,798.6 560.6,798.7 563.7,798.9 566.9,799.2 570.1,799.5 573.5,799.8 577.0,800.2 580.6,800.6 584.3,801.1 587.9,801.7 591.5,802.5 595.1,803.4 598.6,804.5 601.8,805.8 604.4,807.1 605.8,808.5 605.8,809.8 604.3,811.1 601.8,812.2 598.5,813.0 595.0,813.6 591.3,813.8 587.6,813.9 583.9,813.8 580.2,813.6 576.6,813.2 573.0,812.9 569.6,812.6 566.3,812.3 563.2,812.0 560.0,811.8 556.9,811.5 553.6,811.2 550.2,810.8 546.6,810.4 542.7,809.7 538.4,808.9 534.0,808.0 529.9,806.9 526.5,805.8 524.2,804.7 523.4,803.6 M552.3,655.6 551.5,657.9 550.5,660.5 549.4,663.4 548.5,666.5 547.6,669.8 546.8,673.1 546.1,676.6 545.6,680.0 545.4,683.3 545.4,686.5 545.7,689.5 546.4,692.3 547.4,694.8 548.8,697.0 550.5,698.8 552.5,700.2 554.9,701.3 557.4,702.1 560.2,702.6 563.1,702.9 566.2,702.9 569.3,702.7 572.5,702.3 575.7,701.7 578.8,701.1 581.9,700.3 584.9,699.4 587.8,698.4 590.7,697.3 593.6,696.1 596.5,694.7 599.4,693.2 602.2,691.6 605.0,689.8 607.7,688.0 610.3,686.0 612.7,683.9 614.9,681.7 616.8,679.5 618.5,677.1 619.9,674.7 621.0,672.2 621.7,669.7 622.0,667.1 621.9,664.4 621.2,661.8 620.0,659.1 618.2,656.5 616.4,655.6 M565.8,655.6 563.4,658.3 561.3,661.6 559.8,664.8 558.9,667.9 558.5,670.9 558.6,673.7 559.1,676.4 560.1,678.9 561.4,681.1 563.1,683.2 565.2,685.0 567.5,686.5 570.0,687.8 572.7,688.8 575.6,689.4 578.6,689.7 581.8,689.7 584.9,689.3 588.1,688.5 591.2,687.5 594.3,686.1 597.2,684.5 599.9,682.6 602.4,680.5 604.6,678.2 606.5,675.8 608.0,673.2 609.0,670.6 609.6,667.8 609.7,665.1 609.2,662.2 608.0,659.4 606.2,656.7 604.7,655.6"/></g>
<rect x="450.6" y="20.0" width="295.2" height="159.7" fill="none" stroke="#1c1c40" stroke-width="1.5"/>
<line x1="446.1" y1="179.7" x2="450.6" y2="179.7" stroke="#000" stroke-width="1.3"/>
<text x="441.5" y="186.0" text-anchor="end" font-size="15">1.0</text>
<line x1="446.1" y1="139.8" x2="450.6" y2="139.8" stroke="#000" stroke-width="1.3"/>
<text x="441.5" y="144.8" text-anchor="end" font-size="15">1.5</text>
<line x1="446.1" y1="99.8" x2="450.6" y2="99.8" stroke="#000" stroke-width="1.3"/>
<text x="441.5" y="103.6" text-anchor="end" font-size="15">2.0</text>
<line x1="446.1" y1="59.9" x2="450.6" y2="59.9" stroke="#000" stroke-width="1.3"/>
<text x="441.5" y="62.4" text-anchor="end" font-size="15">2.5</text>
<line x1="446.1" y1="20.0" x2="450.6" y2="20.0" stroke="#000" stroke-width="1.3"/>
<text x="441.5" y="21.2" text-anchor="end" font-size="15">3.0</text>
<line x1="450.6" y1="179.7" x2="450.6" y2="184.7" stroke="#000" stroke-width="1.3"/>
<text x="450.6" y="198.2" text-anchor="middle" font-size="15">0</text>
<line x1="496.0" y1="179.7" x2="496.0" y2="184.7" stroke="#000" stroke-width="1.3"/>
<text x="496.2" y="198.2" text-anchor="middle" font-size="15">2</text>
<line x1="541.4" y1="179.7" x2="541.4" y2="184.7" stroke="#000" stroke-width="1.3"/>
<text x="541.8" y="198.2" text-anchor="middle" font-size="15">4</text>
<line x1="586.8" y1="179.7" x2="586.8" y2="184.7" stroke="#000" stroke-width="1.3"/>
<text x="587.4" y="198.2" text-anchor="middle" font-size="15">6</text>
<line x1="632.3" y1="179.7" x2="632.3" y2="184.7" stroke="#000" stroke-width="1.3"/>
<text x="633.1" y="198.2" text-anchor="middle" font-size="15">8</text>
<line x1="677.7" y1="179.7" x2="677.7" y2="184.7" stroke="#000" stroke-width="1.3"/>
<text x="678.7" y="198.2" text-anchor="middle" font-size="15">10</text>
<line x1="723.1" y1="179.7" x2="723.1" y2="184.7" stroke="#000" stroke-width="1.3"/>
<text x="724.3" y="198.2" text-anchor="middle" font-size="15">12</text>
<text x="593.8" y="213.2" text-anchor="middle" font-size="15">k (A<tspan font-size="9.5" dy="-4.5">-1</tspan><tspan dy="4.5">)</tspan></text>
<text transform="translate(409.5,99.8) rotate(-90)" text-anchor="middle" font-size="15">R+α(Å)</text>
<text x="397.0" y="24.0" font-size="31" font-weight="bold">d</text>
<text x="627.2" y="85.4" text-anchor="middle" font-size="15">Fe-Fe</text>
<rect x="451.2" y="229.9" width="294.6" height="161.2" fill="none" stroke="#1c1c40" stroke-width="1.5"/>
<line x1="446.7" y1="391.1" x2="451.2" y2="391.1" stroke="#000" stroke-width="1.3"/>
<text x="441.5" y="397.4" text-anchor="end" font-size="15">1.0</text>
<line x1="446.7" y1="350.8" x2="451.2" y2="350.8" stroke="#000" stroke-width="1.3"/>
<text x="441.5" y="355.8" text-anchor="end" font-size="15">1.5</text>
<line x1="446.7" y1="310.5" x2="451.2" y2="310.5" stroke="#000" stroke-width="1.3"/>
<text x="441.5" y="314.2" text-anchor="end" font-size="15">2.0</text>
<line x1="446.7" y1="270.2" x2="451.2" y2="270.2" stroke="#000" stroke-width="1.3"/>
<text x="441.5" y="272.6" text-anchor="end" font-size="15">2.5</text>
<line x1="446.7" y1="229.9" x2="451.2" y2="229.9" stroke="#000" stroke-width="1.3"/>
<text x="441.5" y="231.1" text-anchor="end" font-size="15">3.0</text>
<line x1="451.2" y1="391.1" x2="451.2" y2="396.1" stroke="#000" stroke-width="1.3"/>
<text x="451.2" y="408.6" text-anchor="middle" font-size="15">0</text>
<line x1="496.5" y1="391.1" x2="496.5" y2="396.1" stroke="#000" stroke-width="1.3"/>
<text x="496.7" y="408.6" text-anchor="middle" font-size="15">2</text>
<line x1="541.8" y1="391.1" x2="541.8" y2="396.1" stroke="#000" stroke-width="1.3"/>
<text x="542.2" y="408.6" text-anchor="middle" font-size="15">4</text>
<line x1="587.2" y1="391.1" x2="587.2" y2="396.1" stroke="#000" stroke-width="1.3"/>
<text x="587.8" y="408.6" text-anchor="middle" font-size="15">6</text>
<line x1="632.5" y1="391.1" x2="632.5" y2="396.1" stroke="#000" stroke-width="1.3"/>
<text x="633.3" y="408.6" text-anchor="middle" font-size="15">8</text>
<line x1="677.8" y1="391.1" x2="677.8" y2="396.1" stroke="#000" stroke-width="1.3"/>
<text x="678.8" y="408.6" text-anchor="middle" font-size="15">10</text>
<line x1="723.1" y1="391.1" x2="723.1" y2="396.1" stroke="#000" stroke-width="1.3"/>
<text x="724.3" y="408.6" text-anchor="middle" font-size="15">12</text>
<text x="593.8" y="423.8" text-anchor="middle" font-size="15">k (A<tspan font-size="9.5" dy="-4.5">-1</tspan><tspan dy="4.5">)</tspan></text>
<text transform="translate(409.5,310.5) rotate(-90)" text-anchor="middle" font-size="15">R+α(Å)</text>
<text x="397.0" y="231.4" font-size="31" font-weight="bold">e</text>
<text x="532.0" y="363.3" text-anchor="middle" font-size="15">Fe-N/O</text>
<text x="600.0" y="295.3" text-anchor="middle" font-size="15">Fe-N-C</text>
<rect x="451.0" y="441.8" width="294.8" height="161.1" fill="none" stroke="#1c1c40" stroke-width="1.5"/>
<line x1="446.5" y1="602.9" x2="451.0" y2="602.9" stroke="#000" stroke-width="1.3"/>
<text x="441.5" y="609.2" text-anchor="end" font-size="15">1.0</text>
<line x1="446.5" y1="562.6" x2="451.0" y2="562.6" stroke="#000" stroke-width="1.3"/>
<text x="441.5" y="567.6" text-anchor="end" font-size="15">1.5</text>
<line x1="446.5" y1="522.4" x2="451.0" y2="522.4" stroke="#000" stroke-width="1.3"/>
<text x="441.5" y="526.1" text-anchor="end" font-size="15">2.0</text>
<line x1="446.5" y1="482.1" x2="451.0" y2="482.1" stroke="#000" stroke-width="1.3"/>
<text x="441.5" y="484.5" text-anchor="end" font-size="15">2.5</text>
<line x1="446.5" y1="441.8" x2="451.0" y2="441.8" stroke="#000" stroke-width="1.3"/>
<text x="441.5" y="443.0" text-anchor="end" font-size="15">3.0</text>
<line x1="451.0" y1="602.9" x2="451.0" y2="607.9" stroke="#000" stroke-width="1.3"/>
<text x="451.0" y="622.4" text-anchor="middle" font-size="15">0</text>
<line x1="496.4" y1="602.9" x2="496.4" y2="607.9" stroke="#000" stroke-width="1.3"/>
<text x="496.6" y="622.4" text-anchor="middle" font-size="15">2</text>
<line x1="541.7" y1="602.9" x2="541.7" y2="607.9" stroke="#000" stroke-width="1.3"/>
<text x="542.1" y="622.4" text-anchor="middle" font-size="15">4</text>
<line x1="587.1" y1="602.9" x2="587.1" y2="607.9" stroke="#000" stroke-width="1.3"/>
<text x="587.7" y="622.4" text-anchor="middle" font-size="15">6</text>
<line x1="632.4" y1="602.9" x2="632.4" y2="607.9" stroke="#000" stroke-width="1.3"/>
<text x="633.2" y="622.4" text-anchor="middle" font-size="15">8</text>
<line x1="677.8" y1="602.9" x2="677.8" y2="607.9" stroke="#000" stroke-width="1.3"/>
<text x="678.8" y="622.4" text-anchor="middle" font-size="15">10</text>
<line x1="723.1" y1="602.9" x2="723.1" y2="607.9" stroke="#000" stroke-width="1.3"/>
<text x="724.3" y="622.4" text-anchor="middle" font-size="15">12</text>
<text x="593.8" y="638.0" text-anchor="middle" font-size="15">k (A<tspan font-size="9.5" dy="-4.5">-1</tspan><tspan dy="4.5">)</tspan></text>
<text transform="translate(409.5,522.4) rotate(-90)" text-anchor="middle" font-size="15">R+α(Å)</text>
<text x="399.5" y="449.9" font-size="31" font-weight="bold">f</text>
<text x="611.2" y="482.4" text-anchor="middle" font-size="15">Fe-Fe</text>
<text x="544.8" y="572.0" text-anchor="middle" font-size="15">Fe-O</text>
<rect x="451.2" y="655.6" width="294.6" height="160.1" fill="none" stroke="#1c1c40" stroke-width="1.5"/>
<line x1="446.7" y1="815.7" x2="451.2" y2="815.7" stroke="#000" stroke-width="1.3"/>
<text x="441.5" y="822.0" text-anchor="end" font-size="15">1.0</text>
<line x1="446.7" y1="775.7" x2="451.2" y2="775.7" stroke="#000" stroke-width="1.3"/>
<text x="441.5" y="780.7" text-anchor="end" font-size="15">1.5</text>
<line x1="446.7" y1="735.7" x2="451.2" y2="735.7" stroke="#000" stroke-width="1.3"/>
<text x="441.5" y="739.4" text-anchor="end" font-size="15">2.0</text>
<line x1="446.7" y1="695.6" x2="451.2" y2="695.6" stroke="#000" stroke-width="1.3"/>
<text x="441.5" y="698.1" text-anchor="end" font-size="15">2.5</text>
<line x1="446.7" y1="655.6" x2="451.2" y2="655.6" stroke="#000" stroke-width="1.3"/>
<text x="441.5" y="656.8" text-anchor="end" font-size="15">3.0</text>
<line x1="451.2" y1="815.7" x2="451.2" y2="820.7" stroke="#000" stroke-width="1.3"/>
<text x="451.2" y="835.6" text-anchor="middle" font-size="15">0</text>
<line x1="496.5" y1="815.7" x2="496.5" y2="820.7" stroke="#000" stroke-width="1.3"/>
<text x="496.7" y="835.6" text-anchor="middle" font-size="15">2</text>
<line x1="541.8" y1="815.7" x2="541.8" y2="820.7" stroke="#000" stroke-width="1.3"/>
<text x="542.2" y="835.6" text-anchor="middle" font-size="15">4</text>
<line x1="587.2" y1="815.7" x2="587.2" y2="820.7" stroke="#000" stroke-width="1.3"/>
<text x="587.8" y="835.6" text-anchor="middle" font-size="15">6</text>
<line x1="632.5" y1="815.7" x2="632.5" y2="820.7" stroke="#000" stroke-width="1.3"/>
<text x="633.3" y="835.6" text-anchor="middle" font-size="15">8</text>
<line x1="677.8" y1="815.7" x2="677.8" y2="820.7" stroke="#000" stroke-width="1.3"/>
<text x="678.8" y="835.6" text-anchor="middle" font-size="15">10</text>
<line x1="723.1" y1="815.7" x2="723.1" y2="820.7" stroke="#000" stroke-width="1.3"/>
<text x="724.3" y="835.6" text-anchor="middle" font-size="15">12</text>
<text x="593.8" y="851.7" text-anchor="middle" font-size="15">k (A<tspan font-size="9.5" dy="-4.5">-1</tspan><tspan dy="4.5">)</tspan></text>
<text transform="translate(409.5,735.7) rotate(-90)" text-anchor="middle" font-size="15">R+α(Å)</text>
<text x="397.0" y="662.7" font-size="31" font-weight="bold">g</text>
<text x="583.4" y="673.5" text-anchor="middle" font-size="15">Fe-Fe</text>
<text x="526.3" y="775.7" text-anchor="middle" font-size="15">Fe-O</text>
</svg></body></html>
